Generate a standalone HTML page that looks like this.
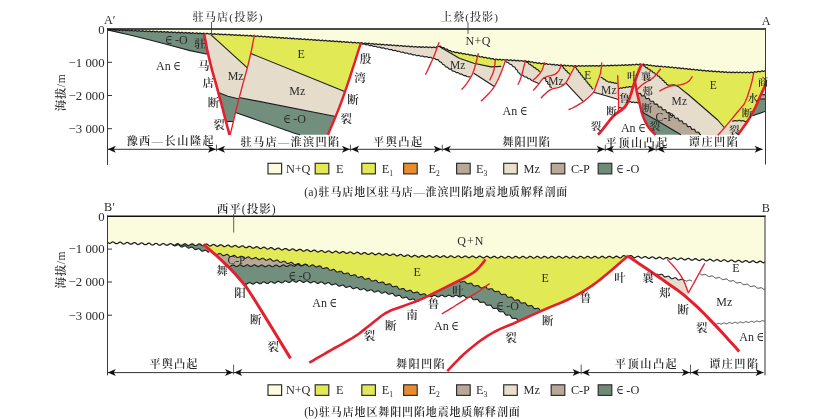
<!DOCTYPE html>
<html lang="zh"><head><meta charset="utf-8"><title>驻马店地区地震地质解释剖面</title>
<style>html,body{margin:0;padding:0;background:#fff}svg{display:block;will-change:transform}</style></head>
<body>
<svg width="831" height="419" viewBox="0 0 831 419">
<rect width="831" height="419" fill="#fff"/>
<g stroke="none">
<path d="M107.5,29.0 L765.5,29.0 L765.5,70.8 L765.1,70.8 L764.7,70.9 L764.3,71.0 L764.0,71.2 L763.6,71.4 L763.2,71.3 L762.7,71.1 L762.3,70.9 L761.9,70.9 L761.5,71.0 L761.1,71.2 L760.8,71.5 L760.4,71.7 L760.0,71.8 L759.6,71.7 L759.2,71.5 L758.8,71.4 L758.4,71.3 L758.0,71.4 L757.6,71.6 L757.2,71.9 L756.9,72.1 L756.5,72.2 L756.1,72.1 L755.6,72.0 L755.2,71.8 L754.8,71.7 L754.4,71.8 L754.0,72.0 L753.7,72.3 L753.3,72.5 L752.9,72.6 L752.5,72.6 L752.1,72.4 L751.7,72.2 L751.3,72.1 L750.9,72.2 L750.5,72.3 L750.1,72.6 L749.7,72.8 L749.3,72.8 L748.9,72.7 L748.5,72.5 L748.1,72.3 L747.7,72.1 L747.3,72.1 L746.9,72.3 L746.5,72.5 L746.1,72.7 L745.7,72.8 L745.3,72.7 L744.9,72.5 L744.5,72.3 L744.1,72.1 L743.7,72.1 L743.3,72.3 L742.9,72.5 L742.5,72.7 L742.1,72.8 L741.7,72.7 L741.3,72.5 L740.9,72.2 L740.5,72.1 L740.1,72.1 L739.7,72.2 L739.3,72.5 L738.9,72.7 L738.6,72.7 L738.2,72.7 L737.8,72.5 L737.4,72.2 L737.0,72.1 L736.6,72.0 L736.2,72.2 L735.8,72.4 L735.4,72.6 L735.0,72.7 L734.6,72.6 L734.2,72.4 L733.8,72.2 L733.4,72.0 L733.0,72.0 L732.6,72.1 L732.2,72.4 L731.8,72.6 L731.4,72.7 L731.0,72.6 L730.6,72.4 L730.2,72.2 L729.8,72.0 L729.4,72.0 L729.0,72.1 L728.6,72.3 L728.2,72.5 L727.8,72.6 L727.4,72.6 L727.0,72.3 L726.6,72.1 L726.2,71.9 L725.8,71.8 L725.4,71.9 L725.0,72.1 L724.6,72.3 L724.2,72.4 L723.8,72.3 L723.4,72.1 L723.1,71.8 L722.7,71.6 L722.3,71.6 L721.9,71.7 L721.5,71.9 L721.0,72.1 L720.6,72.2 L720.2,72.1 L719.9,71.9 L719.5,71.6 L719.1,71.4 L718.7,71.3 L718.3,71.4 L717.9,71.6 L717.5,71.8 L717.1,71.9 L716.7,71.8 L716.3,71.7 L715.9,71.4 L715.5,71.2 L715.1,71.1 L714.7,71.2 L714.3,71.3 L713.9,71.5 L713.5,71.7 L713.1,71.6 L712.7,71.4 L712.3,71.2 L712.0,70.9 L711.6,70.8 L711.2,70.9 L710.8,71.1 L710.3,71.3 L709.9,71.4 L709.5,71.4 L709.2,71.2 L708.8,70.9 L708.4,70.7 L708.0,70.6 L707.6,70.6 L707.2,70.8 L706.8,71.0 L706.4,71.2 L706.0,71.1 L705.6,70.9 L705.2,70.7 L704.8,70.4 L704.4,70.3 L704.0,70.3 L703.6,70.5 L703.2,70.7 L702.8,70.8 L702.4,70.8 L702.0,70.6 L701.6,70.3 L701.2,70.0 L700.8,69.9 L700.4,70.0 L700.0,70.2 L699.6,70.3 L699.2,70.5 L698.8,70.4 L698.4,70.2 L698.0,69.9 L697.6,69.7 L697.2,69.6 L696.8,69.6 L696.4,69.8 L696.0,70.0 L695.6,70.1 L695.2,70.0 L694.8,69.8 L694.4,69.6 L694.0,69.3 L693.6,69.2 L693.2,69.3 L692.8,69.5 L692.4,69.6 L692.0,69.7 L691.6,69.7 L691.2,69.5 L690.8,69.2 L690.4,68.9 L690.0,68.9 L689.6,68.9 L689.2,69.1 L688.8,69.3 L688.4,69.4 L688.0,69.3 L687.6,69.1 L687.2,68.8 L686.8,68.6 L686.4,68.5 L686.0,68.6 L685.6,68.8 L685.2,68.9 L684.8,69.0 L684.4,68.9 L684.0,68.7 L683.6,68.4 L683.2,68.2 L682.8,68.1 L682.4,68.2 L682.0,68.4 L681.6,68.6 L681.2,68.7 L680.8,68.6 L680.4,68.3 L680.0,68.1 L679.6,67.9 L679.2,67.8 L678.8,67.9 L678.4,68.1 L678.0,68.2 L677.6,68.3 L677.2,68.2 L676.8,68.0 L676.4,67.7 L676.0,67.5 L675.6,67.4 L675.2,67.5 L674.8,67.7 L674.4,67.9 L674.0,67.9 L673.6,67.8 L673.2,67.6 L672.8,67.3 L672.4,67.1 L672.0,67.1 L671.6,67.2 L671.2,67.4 L670.8,67.5 L670.4,67.6 L670.0,67.5 L669.6,67.2 L669.2,67.0 L668.8,66.8 L668.4,66.7 L668.0,66.8 L667.6,67.0 L667.2,67.2 L666.8,67.3 L666.4,67.2 L666.0,67.0 L665.7,66.7 L665.3,66.5 L664.9,66.4 L664.5,66.5 L664.1,66.7 L663.7,66.9 L663.3,67.0 L662.9,66.9 L662.5,66.7 L662.1,66.5 L661.7,66.2 L661.3,66.2 L660.9,66.2 L660.5,66.4 L660.1,66.6 L659.7,66.7 L659.3,66.7 L658.9,66.5 L658.6,66.2 L658.2,66.0 L657.8,65.9 L657.4,65.9 L657.0,66.1 L656.6,66.3 L656.2,66.4 L655.8,66.4 L655.4,66.2 L655.0,65.9 L654.6,65.7 L654.3,65.5 L653.9,65.6 L653.4,65.7 L653.0,65.9 L652.6,66.0 L652.2,66.0 L651.8,65.8 L651.5,65.5 L651.1,65.2 L650.7,65.1 L650.3,65.1 L649.9,65.2 L649.5,65.4 L649.1,65.5 L648.7,65.5 L648.3,65.3 L648.0,65.0 L647.6,64.8 L647.2,64.6 L646.8,64.6 L646.4,64.7 L646.0,64.9 L645.6,65.0 L645.2,65.0 L644.8,64.9 L644.4,64.6 L644.1,64.3 L643.7,64.1 L643.3,64.1 L642.9,64.2 L642.5,64.4 L642.1,64.5 L641.7,64.5 L641.3,64.5 L640.9,64.3 L640.5,64.1 L640.1,64.0 L639.7,64.0 L639.3,64.2 L638.9,64.5 L638.5,64.7 L638.1,64.8 L637.7,64.7 L637.3,64.5 L636.9,64.3 L636.4,64.2 L636.0,64.2 L635.6,64.4 L635.3,64.7 L634.9,64.9 L634.5,65.0 L634.1,64.9 L633.6,64.7 L633.2,64.5 L632.8,64.4 L632.4,64.4 L632.0,64.7 L631.6,64.9 L631.2,65.1 L630.8,65.2 L630.4,65.1 L630.0,64.9 L629.6,64.7 L629.2,64.6 L628.8,64.7 L628.4,64.9 L628.0,65.2 L627.6,65.3 L627.2,65.4 L626.8,65.2 L626.4,65.0 L626.0,64.8 L625.6,64.7 L625.2,64.8 L624.8,65.0 L624.4,65.3 L624.0,65.4 L623.6,65.5 L623.2,65.4 L622.8,65.1 L622.4,64.9 L622.0,64.8 L621.6,64.9 L621.2,65.1 L620.9,65.3 L620.5,65.5 L620.1,65.6 L619.7,65.5 L619.3,65.3 L618.9,65.1 L618.5,65.0 L618.1,65.0 L617.7,65.2 L617.3,65.4 L616.9,65.6 L616.5,65.7 L616.1,65.6 L615.7,65.4 L615.3,65.2 L614.9,65.1 L614.5,65.1 L614.1,65.3 L613.7,65.5 L613.3,65.7 L612.9,65.8 L612.5,65.7 L612.1,65.5 L611.7,65.3 L611.3,65.2 L610.9,65.2 L610.5,65.4 L610.1,65.6 L609.8,65.8 L609.4,65.9 L609.0,65.8 L608.6,65.7 L608.1,65.4 L607.7,65.3 L607.3,65.3 L607.0,65.5 L606.6,65.7 L606.2,65.9 L605.8,66.0 L605.4,66.0 L605.0,65.8 L604.6,65.6 L604.2,65.4 L603.8,65.4 L603.4,65.6 L603.0,65.8 L602.6,66.0 L602.2,66.1 L601.8,66.1 L601.4,65.9 L601.0,65.6 L600.6,65.5 L600.2,65.5 L599.8,65.6 L599.4,65.9 L599.0,66.1 L598.6,66.2 L598.2,66.1 L597.8,65.9 L597.4,65.7 L597.0,65.5 L596.6,65.5 L596.2,65.7 L595.8,65.9 L595.4,66.1 L595.0,66.2 L594.6,66.1 L594.2,65.9 L593.8,65.7 L593.4,65.5 L593.0,65.5 L592.6,65.7 L592.2,65.9 L591.8,66.1 L591.4,66.2 L591.0,66.1 L590.6,65.9 L590.2,65.7 L589.8,65.6 L589.4,65.6 L589.0,65.7 L588.6,66.0 L588.2,66.2 L587.8,66.2 L587.4,66.2 L586.9,65.9 L586.5,65.7 L586.1,65.6 L585.7,65.6 L585.3,65.8 L584.9,66.0 L584.5,66.2 L584.1,66.3 L583.7,66.2 L583.3,66.0 L582.9,65.7 L582.5,65.6 L582.1,65.6 L581.7,65.8 L581.3,66.0 L580.9,66.2 L580.5,66.3 L580.1,66.2 L579.7,66.0 L579.3,65.8 L578.9,65.6 L578.5,65.6 L578.1,65.8 L577.7,66.1 L577.3,66.3 L576.9,66.3 L576.5,66.2 L576.1,66.0 L575.7,65.8 L575.3,65.6 L574.9,65.7 L574.5,65.9 L574.1,66.1 L573.7,66.3 L573.3,66.3 L572.9,66.2 L572.5,66.0 L572.1,65.7 L571.7,65.6 L571.3,65.6 L570.9,65.7 L570.5,65.9 L570.1,66.1 L569.7,66.1 L569.3,66.0 L568.9,65.8 L568.5,65.5 L568.2,65.4 L567.8,65.4 L567.4,65.5 L566.9,65.7 L566.5,65.9 L566.1,65.9 L565.7,65.8 L565.4,65.6 L565.0,65.3 L564.6,65.2 L564.2,65.2 L563.8,65.3 L563.4,65.5 L563.0,65.7 L562.6,65.7 L562.2,65.6 L561.8,65.4 L561.4,65.1 L561.0,65.0 L560.6,64.9 L560.2,65.0 L559.8,65.2 L559.4,65.4 L559.0,65.5 L558.6,65.4 L558.2,65.1 L557.9,64.9 L557.5,64.7 L557.1,64.6 L556.7,64.7 L556.3,64.9 L555.8,65.1 L555.4,65.1 L555.0,65.1 L554.7,64.8 L554.3,64.6 L553.9,64.3 L553.5,64.3 L553.1,64.4 L552.7,64.6 L552.3,64.8 L551.9,64.8 L551.5,64.7 L551.1,64.5 L550.7,64.2 L550.4,64.0 L550.0,64.0 L549.6,64.0 L549.1,64.2 L548.7,64.4 L548.3,64.5 L547.9,64.4 L547.6,64.2 L547.2,63.9 L546.8,63.7 L546.4,63.6 L546.0,63.7 L545.6,63.9 L545.2,64.1 L544.8,64.2 L544.4,64.1 L544.0,63.9 L543.6,63.6 L543.2,63.4 L542.8,63.3 L542.4,63.3 L542.0,63.5 L541.6,63.7 L541.2,63.8 L540.8,63.7 L540.4,63.4 L540.0,63.2 L539.6,62.9 L539.2,62.8 L538.8,62.9 L538.4,63.1 L538.0,63.3 L537.6,63.3 L537.2,63.2 L536.8,63.0 L536.4,62.7 L536.0,62.5 L535.7,62.4 L535.2,62.5 L534.8,62.6 L534.4,62.8 L534.0,62.8 L533.6,62.7 L533.2,62.4 L532.9,62.1 L532.5,61.9 L532.1,61.8 L531.7,61.9 L531.2,62.0 L530.8,62.2 L530.4,62.2 L530.0,62.1 L529.6,61.8 L529.3,61.5 L528.9,61.3 L528.5,61.2 L528.1,61.3 L527.7,61.5 L527.2,61.6 L526.8,61.6 L526.4,61.5 L526.1,61.2 L525.7,60.9 L525.3,60.8 L524.9,60.7 L524.5,60.8 L524.1,61.0 L523.7,61.2 L523.3,61.3 L522.9,61.2 L522.5,61.0 L522.1,60.8 L521.8,60.6 L521.4,60.5 L521.0,60.6 L520.6,60.8 L520.1,61.0 L519.7,61.1 L519.3,61.0 L519.0,60.8 L518.6,60.6 L518.2,60.4 L517.8,60.3 L517.4,60.4 L517.0,60.6 L516.6,60.8 L516.2,60.9 L515.8,60.8 L515.4,60.6 L515.0,60.4 L514.6,60.1 L514.2,60.1 L513.8,60.2 L513.4,60.3 L513.0,60.6 L512.6,60.7 L512.2,60.6 L511.8,60.4 L511.4,60.2 L511.1,59.9 L510.7,59.9 L510.3,59.9 L509.9,60.1 L509.4,60.3 L509.0,60.4 L508.6,60.4 L508.3,60.2 L507.9,60.0 L507.5,59.7 L507.1,59.6 L506.7,59.7 L506.3,59.9 L505.9,60.1 L505.5,60.2 L505.1,60.2 L504.7,60.0 L504.3,59.8 L503.9,59.5 L503.5,59.5 L503.1,59.5 L502.7,59.7 L502.3,59.9 L501.8,60.1 L501.4,60.0 L501.0,59.8 L500.7,59.6 L500.3,59.4 L499.9,59.3 L499.5,59.4 L499.0,59.6 L498.6,59.8 L498.2,59.9 L497.8,59.8 L497.4,59.6 L497.0,59.4 L496.6,59.2 L496.2,59.1 L495.8,59.2 L495.4,59.4 L495.0,59.6 L494.6,59.6 L494.2,59.5 L493.8,59.2 L493.5,58.9 L493.1,58.7 L492.7,58.6 L492.3,58.6 L491.9,58.8 L491.4,58.9 L491.0,59.0 L490.6,58.9 L490.3,58.6 L489.9,58.3 L489.6,58.0 L489.2,57.9 L488.8,58.0 L488.4,58.1 L487.9,58.3 L487.5,58.3 L487.1,58.2 L486.8,58.0 L486.4,57.7 L486.1,57.4 L485.7,57.3 L485.3,57.3 L484.8,57.5 L484.4,57.6 L484.0,57.7 L483.6,57.6 L483.2,57.4 L482.9,57.0 L482.5,56.8 L482.1,56.6 L481.7,56.7 L481.3,56.8 L480.9,57.0 L480.5,57.0 L480.1,57.0 L479.7,56.7 L479.4,56.4 L479.0,56.2 L478.6,56.0 L478.2,56.0 L477.8,56.2 L477.4,56.3 L476.9,56.4 L476.5,56.3 L476.2,56.1 L475.8,55.8 L475.5,55.5 L475.1,55.4 L474.7,55.4 L474.2,55.5 L473.8,55.7 L473.4,55.8 L473.0,55.7 L472.6,55.5 L472.3,55.2 L471.9,54.9 L471.5,54.8 L471.1,54.8 L470.7,54.9 L470.2,55.1 L469.8,55.2 L469.4,55.1 L469.1,54.8 L468.7,54.5 L468.4,54.3 L468.0,54.1 L467.6,54.2 L467.1,54.3 L466.7,54.5 L466.3,54.5 L465.9,54.4 L465.5,54.2 L465.2,53.9 L464.8,53.6 L464.4,53.5 L464.0,53.5 L463.6,53.7 L463.1,53.8 L462.7,53.9 L462.3,53.8 L462.0,53.6 L461.6,53.3 L461.2,53.0 L460.9,52.9 L460.4,52.9 L460.0,53.1 L459.6,53.2 L459.2,53.3 L458.8,53.2 L458.4,52.9 L458.0,52.6 L457.7,52.4 L457.3,52.3 L456.9,52.3 L456.4,52.4 L456.0,52.6 L455.6,52.7 L455.2,52.6 L454.8,52.3 L454.5,52.0 L454.1,51.8 L453.7,51.6 L453.3,51.7 L452.9,51.8 L452.5,52.0 L452.0,52.0 L451.6,51.8 L451.3,51.5 L451.0,51.1 L450.7,50.8 L450.4,50.6 L450.0,50.5 L449.5,50.6 L449.0,50.6 L448.6,50.6 L448.3,50.3 L448.0,50.0 L447.7,49.6 L447.4,49.3 L447.0,49.1 L446.6,49.1 L446.1,49.1 L445.7,49.2 L445.3,49.1 L444.9,48.9 L444.6,48.5 L444.4,48.1 L444.1,47.8 L443.7,47.7 L443.3,47.6 L442.8,47.7 L442.3,47.7 L441.9,47.6 L441.6,47.4 L441.3,47.0 L441.0,46.6 L440.7,46.3 L440.3,46.2 L439.9,46.2 L439.4,46.3 L439.1,46.3 L438.9,46.5 L438.5,46.5 L438.1,46.5 L437.7,46.5 L437.2,46.5 L436.9,46.6 L436.6,46.9 L436.3,47.2 L436.0,47.6 L435.6,47.7 L435.2,47.7 L434.8,47.5 L434.4,47.2 L434.0,47.1 L433.6,47.0 L433.2,47.1 L432.8,47.3 L432.4,47.5 L432.0,47.6 L431.6,47.6 L431.2,47.4 L430.8,47.2 L430.4,47.0 L430.0,46.9 L429.6,47.0 L429.2,47.2 L428.8,47.4 L428.4,47.6 L428.0,47.5 L427.6,47.3 L427.2,47.1 L426.8,46.9 L426.4,46.8 L426.0,46.9 L425.6,47.1 L425.2,47.3 L424.8,47.5 L424.4,47.4 L424.0,47.2 L423.6,47.0 L423.2,46.8 L422.8,46.7 L422.4,46.8 L422.0,47.0 L421.6,47.3 L421.2,47.4 L420.8,47.3 L420.4,47.1 L420.0,46.9 L419.6,46.7 L419.2,46.6 L418.8,46.7 L418.4,47.0 L418.0,47.2 L417.6,47.3 L417.2,47.2 L416.8,47.0 L416.4,46.8 L416.0,46.6 L415.6,46.5 L415.2,46.6 L414.8,46.8 L414.4,47.0 L414.0,47.1 L413.6,47.0 L413.2,46.8 L412.8,46.6 L412.4,46.3 L412.0,46.3 L411.6,46.4 L411.2,46.6 L410.8,46.8 L410.4,46.9 L410.0,46.8 L409.6,46.6 L409.2,46.3 L408.8,46.1 L408.4,46.0 L408.0,46.1 L407.6,46.3 L407.2,46.5 L406.8,46.6 L406.4,46.5 L406.0,46.3 L405.6,46.1 L405.2,45.8 L404.8,45.8 L404.4,45.9 L404.0,46.1 L403.6,46.3 L403.2,46.3 L402.8,46.3 L402.4,46.1 L402.0,45.8 L401.6,45.6 L401.3,45.5 L400.8,45.6 L400.4,45.8 L400.0,46.0 L399.6,46.1 L399.2,46.0 L398.8,45.8 L398.4,45.5 L398.1,45.3 L397.7,45.3 L397.2,45.4 L396.8,45.6 L396.4,45.8 L396.0,45.8 L395.6,45.8 L395.2,45.6 L394.8,45.3 L394.5,45.1 L394.1,45.0 L393.7,45.1 L393.2,45.3 L392.8,45.5 L392.4,45.6 L392.0,45.5 L391.6,45.3 L391.3,45.0 L390.9,44.8 L390.5,44.8 L390.1,44.9 L389.6,45.1 L389.2,45.2 L388.8,45.3 L388.4,45.3 L388.0,45.0 L387.7,44.8 L387.3,44.6 L386.9,44.5 L386.5,44.6 L386.1,44.8 L385.6,45.0 L385.2,45.1 L384.8,45.0 L384.4,44.8 L384.1,44.5 L383.7,44.3 L383.3,44.3 L382.9,44.4 L382.5,44.6 L382.0,44.7 L381.6,44.8 L381.2,44.8 L380.9,44.5 L380.5,44.3 L380.1,44.1 L379.7,44.0 L379.3,44.1 L378.9,44.3 L378.5,44.5 L378.0,44.6 L377.6,44.5 L377.3,44.3 L376.9,44.0 L376.5,43.8 L376.1,43.8 L375.7,43.9 L375.3,44.0 L374.9,44.2 L374.5,44.3 L374.1,44.3 L373.7,44.0 L373.3,43.8 L372.9,43.6 L372.5,43.5 L372.1,43.6 L371.7,43.8 L371.3,44.0 L370.9,44.1 L370.5,44.0 L370.1,43.8 L369.7,43.5 L369.3,43.3 L368.9,43.2 L368.5,43.3 L368.1,43.5 L367.7,43.7 L367.3,43.8 L366.9,43.7 L366.5,43.5 L366.1,43.3 L365.7,43.1 L365.3,43.0 L364.9,43.1 L364.5,43.3 L364.1,43.5 L363.7,43.6 L363.3,43.5 L362.9,43.3 L362.5,43.0 L362.1,42.8 L361.7,42.7 L361.3,42.8 L360.9,43.0 L360.5,43.2 L360.1,43.3 L359.7,43.2 L359.3,43.0 L358.9,42.8 L358.5,42.6 L358.1,42.5 L357.7,42.6 L357.3,42.8 L356.9,43.0 L356.5,43.1 L356.1,43.0 L355.7,42.8 L355.3,42.5 L354.9,42.3 L354.6,42.3 L354.1,42.4 L353.7,42.6 L353.3,42.8 L352.9,42.8 L352.5,42.8 L352.1,42.6 L351.8,42.3 L351.4,42.1 L351.0,42.0 L350.6,42.1 L350.2,42.3 L349.7,42.5 L349.3,42.6 L348.9,42.5 L348.6,42.3 L348.2,42.1 L347.8,41.9 L347.4,41.8 L347.0,41.9 L346.6,42.1 L346.2,42.3 L345.8,42.4 L345.4,42.3 L345.0,42.1 L344.6,41.8 L344.2,41.6 L343.8,41.5 L343.4,41.6 L343.0,41.8 L342.6,42.0 L342.2,42.1 L341.8,42.1 L341.4,41.9 L341.0,41.6 L340.6,41.4 L340.2,41.3 L339.8,41.4 L339.4,41.6 L339.0,41.8 L338.6,41.9 L338.2,41.8 L337.8,41.6 L337.4,41.4 L337.0,41.2 L336.6,41.1 L336.2,41.2 L335.8,41.3 L335.4,41.5 L335.0,41.7 L334.6,41.6 L334.2,41.4 L333.8,41.1 L333.5,40.9 L333.1,40.8 L332.7,40.9 L332.2,41.1 L331.8,41.3 L331.4,41.4 L331.0,41.4 L330.6,41.2 L330.3,40.9 L329.9,40.7 L329.5,40.6 L329.1,40.7 L328.7,40.9 L328.2,41.1 L327.8,41.2 L327.4,41.1 L327.1,40.9 L326.7,40.7 L326.3,40.5 L325.9,40.4 L325.5,40.4 L325.1,40.6 L324.7,40.8 L324.3,40.9 L323.9,40.9 L323.5,40.7 L323.1,40.5 L322.7,40.2 L322.3,40.1 L321.9,40.2 L321.5,40.4 L321.1,40.6 L320.7,40.7 L320.3,40.7 L319.9,40.5 L319.5,40.2 L319.1,40.0 L318.7,39.9 L318.3,39.9 L317.9,40.1 L317.5,40.3 L317.1,40.5 L316.7,40.4 L316.3,40.3 L315.9,40.0 L315.5,39.8 L315.1,39.7 L314.7,39.7 L314.3,39.9 L313.9,40.1 L313.5,40.2 L313.1,40.2 L312.7,40.0 L312.3,39.8 L312.0,39.5 L311.6,39.4 L311.2,39.5 L310.8,39.6 L310.3,39.9 L309.9,40.0 L309.5,40.0 L309.1,39.8 L308.8,39.5 L308.4,39.3 L308.0,39.2 L307.6,39.2 L307.2,39.4 L306.8,39.6 L306.3,39.7 L305.9,39.7 L305.6,39.6 L305.2,39.3 L304.8,39.1 L304.4,38.9 L304.0,39.0 L303.6,39.2 L303.2,39.4 L302.8,39.5 L302.4,39.5 L302.0,39.3 L301.6,39.1 L301.2,38.8 L300.8,38.7 L300.4,38.7 L300.0,38.9 L299.6,39.1 L299.2,39.3 L298.8,39.3 L298.4,39.1 L298.0,38.8 L297.6,38.6 L297.2,38.5 L296.8,38.5 L296.4,38.7 L296.0,38.9 L295.6,39.0 L295.2,39.0 L294.8,38.9 L294.4,38.6 L294.0,38.4 L293.7,38.2 L293.2,38.3 L292.8,38.4 L292.4,38.6 L292.0,38.8 L291.6,38.8 L291.2,38.6 L290.8,38.4 L290.5,38.1 L290.1,38.0 L289.7,38.0 L289.3,38.2 L288.8,38.4 L288.4,38.5 L288.0,38.5 L287.6,38.4 L287.3,38.1 L286.9,37.9 L286.5,37.8 L286.1,37.8 L285.7,37.9 L285.3,38.2 L284.8,38.3 L284.4,38.3 L284.1,38.2 L283.7,37.9 L283.3,37.6 L282.9,37.5 L282.5,37.5 L282.1,37.7 L281.7,37.9 L281.3,38.1 L280.9,38.1 L280.5,37.9 L280.1,37.7 L279.7,37.4 L279.3,37.3 L278.9,37.3 L278.5,37.5 L278.1,37.7 L277.7,37.8 L277.3,37.8 L276.9,37.7 L276.5,37.4 L276.1,37.2 L275.7,37.0 L275.3,37.1 L274.9,37.2 L274.5,37.4 L274.1,37.6 L273.7,37.6 L273.3,37.4 L272.9,37.2 L272.5,36.9 L272.1,36.8 L271.7,36.8 L271.3,37.0 L270.9,37.2 L270.5,37.3 L270.1,37.4 L269.7,37.2 L269.3,37.0 L269.0,36.7 L268.6,36.6 L268.2,36.6 L267.8,36.7 L267.3,36.9 L266.9,37.1 L266.5,37.1 L266.1,37.0 L265.8,36.7 L265.4,36.5 L265.0,36.3 L264.6,36.3 L264.2,36.5 L263.8,36.7 L263.3,36.9 L262.9,36.9 L262.6,36.7 L262.2,36.5 L261.8,36.2 L261.4,36.1 L261.0,36.1 L260.6,36.2 L260.2,36.4 L259.8,36.6 L259.4,36.6 L259.0,36.5 L258.6,36.3 L258.2,36.0 L257.8,35.8 L257.4,35.8 L257.0,36.0 L256.6,36.2 L256.2,36.4 L255.8,36.4 L255.4,36.3 L255.0,36.0 L254.6,35.8 L254.2,35.6 L253.8,35.6 L253.4,35.8 L253.0,36.0 L252.6,36.2 L252.2,36.2 L251.8,36.1 L251.4,35.9 L251.0,35.6 L250.6,35.4 L250.2,35.4 L249.8,35.6 L249.4,35.8 L249.0,36.0 L248.6,36.0 L248.2,35.9 L247.8,35.7 L247.4,35.4 L247.1,35.3 L246.7,35.3 L246.2,35.4 L245.8,35.6 L245.4,35.8 L245.0,35.9 L244.6,35.7 L244.2,35.5 L243.9,35.3 L243.5,35.1 L243.1,35.1 L242.7,35.2 L242.3,35.4 L241.8,35.6 L241.4,35.7 L241.0,35.6 L240.7,35.3 L240.3,35.1 L239.9,34.9 L239.5,34.9 L239.1,35.1 L238.7,35.3 L238.3,35.5 L237.9,35.5 L237.5,35.4 L237.1,35.2 L236.7,34.9 L236.3,34.8 L235.9,34.7 L235.5,34.9 L235.1,35.1 L234.7,35.3 L234.3,35.3 L233.9,35.2 L233.5,35.0 L233.1,34.8 L232.7,34.6 L232.3,34.6 L231.9,34.7 L231.5,34.9 L231.1,35.1 L230.7,35.2 L230.3,35.1 L229.9,34.8 L229.5,34.6 L229.1,34.4 L228.7,34.4 L228.3,34.5 L227.9,34.7 L227.5,34.9 L227.1,35.0 L226.7,34.9 L226.3,34.7 L225.9,34.4 L225.5,34.2 L225.1,34.2 L224.7,34.3 L224.3,34.5 L223.9,34.7 L223.5,34.8 L223.1,34.7 L222.7,34.5 L222.3,34.2 L222.0,34.1 L221.6,34.0 L221.2,34.1 L220.7,34.4 L220.3,34.6 L219.9,34.6 L219.5,34.6 L219.1,34.3 L218.8,34.1 L218.4,33.9 L218.0,33.8 L217.6,34.0 L217.2,34.2 L216.8,34.4 L216.3,34.5 L216.0,34.4 L215.6,34.2 L215.2,33.9 L214.8,33.7 L214.4,33.7 L214.0,33.8 L213.6,34.0 L213.2,34.2 L212.8,34.3 L212.4,34.2 L212.0,34.0 L211.6,33.7 L211.2,33.5 L210.8,33.5 L210.4,33.6 L210.0,33.8 L209.6,34.0 L209.2,34.1 L208.8,34.0 L208.4,33.8 L208.0,33.6 L207.6,33.4 L207.2,33.3 L206.8,33.4 L206.4,33.6 L206.0,33.9 L205.6,33.9 L205.2,33.9 L204.8,33.7 L204.4,33.4 L204.0,33.2 L203.6,33.2 L203.2,33.3 L202.8,33.5 L202.4,33.7 L202.0,33.8 L201.6,33.7 L201.2,33.5 L200.8,33.3 L200.4,33.1 L200.0,33.0 L199.6,33.1 L199.2,33.4 L198.8,33.6 L198.4,33.6 L198.0,33.6 L197.6,33.4 L197.2,33.1 L196.8,32.9 L196.4,32.9 L196.0,33.0 L195.6,33.2 L195.2,33.4 L194.8,33.5 L194.4,33.4 L194.0,33.2 L193.6,33.0 L193.2,32.8 L192.8,32.7 L192.4,32.8 L192.0,33.1 L191.6,33.3 L191.2,33.4 L190.8,33.3 L190.4,33.1 L190.0,32.8 L189.6,32.6 L189.2,32.6 L188.8,32.7 L188.4,32.9 L188.0,33.1 L187.6,33.2 L187.2,33.1 L186.8,32.9 L186.4,32.7 L186.0,32.5 L185.6,32.4 L185.2,32.5 L184.8,32.8 L184.4,33.0 L184.0,33.1 L183.6,33.0 L183.2,32.8 L182.8,32.5 L182.4,32.3 L182.0,32.3 L181.6,32.4 L181.2,32.6 L180.8,32.8 L180.4,32.9 L180.0,32.8 L179.6,32.6 L179.2,32.4 L178.8,32.2 L178.4,32.1 L178.0,32.3 L177.6,32.5 L177.2,32.7 L176.8,32.8 L176.4,32.7 L176.0,32.5 L175.6,32.2 L175.2,32.0 L174.8,32.0 L174.4,32.1 L174.0,32.3 L173.6,32.5 L173.2,32.6 L172.8,32.5 L172.4,32.3 L172.0,32.1 L171.6,31.9 L171.2,31.8 L170.8,32.0 L170.4,32.2 L170.0,32.4 L169.6,32.5 L169.2,32.4 L168.8,32.2 L168.4,31.9 L168.0,31.7 L167.6,31.7 L167.2,31.8 L166.8,32.0 L166.4,32.2 L166.0,32.3 L165.6,32.2 L165.2,32.0 L164.8,31.8 L164.4,31.6 L164.0,31.5 L163.6,31.7 L163.2,31.9 L162.8,32.1 L162.4,32.2 L162.0,32.1 L161.6,31.9 L161.2,31.6 L160.8,31.4 L160.4,31.4 L160.0,31.5 L159.6,31.7 L159.2,31.9 L158.8,32.0 L158.4,31.9 L158.0,31.7 L157.6,31.5 L157.2,31.3 L156.8,31.2 L156.4,31.4 L156.0,31.6 L155.6,31.8 L155.2,31.9 L154.8,31.8 L154.4,31.6 L154.0,31.3 L153.6,31.1 L153.2,31.1 L152.8,31.2 L152.4,31.4 L152.0,31.6 L151.6,31.7 L151.2,31.6 L150.8,31.4 L150.4,31.2 L150.0,31.0 L149.6,30.9 L149.2,31.1 L148.8,31.3 L148.4,31.5 L148.0,31.6 L147.6,31.5 L147.2,31.3 L146.8,31.0 L146.4,30.8 L146.0,30.8 L145.6,30.9 L145.2,31.2 L144.8,31.4 L144.4,31.4 L144.0,31.3 L143.6,31.1 L143.2,30.9 L142.8,30.7 L142.4,30.7 L142.0,30.8 L141.6,31.0 L141.2,31.2 L140.8,31.3 L140.4,31.2 L140.0,31.0 L139.6,30.7 L139.2,30.5 L138.8,30.5 L138.4,30.7 L138.0,30.9 L137.6,31.1 L137.2,31.1 L136.8,31.0 L136.4,30.8 L136.0,30.6 L135.6,30.4 L135.2,30.4 L134.8,30.5 L134.4,30.7 L134.0,30.9 L133.5,31.0 L133.1,30.9 L132.8,30.7 L132.4,30.4 L132.0,30.2 L131.6,30.2 L131.2,30.4 L130.8,30.6 L130.3,30.8 L129.9,30.8 L129.5,30.7 L129.1,30.5 L128.8,30.3 L128.4,30.1 L128.0,30.1 L127.6,30.2 L127.1,30.5 L126.7,30.7 L126.3,30.7 L125.9,30.6 L125.5,30.4 L125.1,30.1 L124.8,30.0 L124.4,30.0 L123.9,30.1 L123.5,30.3 L123.1,30.5 L122.7,30.6 L122.3,30.4 L121.9,30.2 L121.5,30.0 L121.1,29.8 L120.7,29.8 L120.3,30.0 L119.9,30.2 L119.5,30.4 L119.1,30.4 L118.7,30.3 L118.3,30.1 L117.9,29.8 L117.5,29.7 L117.1,29.7 L116.7,29.8 L116.3,30.1 L115.9,30.2 L115.5,30.3 L115.1,30.1 L114.7,29.9 L114.3,29.7 L113.9,29.5 L113.5,29.5 L113.1,29.7 L112.7,29.9 L112.3,30.1 L111.9,30.1 L111.5,30.0 L111.1,29.8 L110.7,29.5 L110.3,29.4 L109.9,29.4 L109.5,29.6 L109.1,29.8 L108.7,29.8 L108.3,29.8 L107.9,29.7 L107.5,29.6Z" fill="#fbfcdd"/>
<path d="M107.5,29.6 L107.9,29.7 L108.3,29.8 L108.7,29.8 L109.1,29.8 L109.5,29.6 L109.9,29.4 L110.3,29.4 L110.7,29.5 L111.1,29.8 L111.5,30.0 L111.9,30.1 L112.3,30.1 L112.7,29.9 L113.1,29.7 L113.5,29.5 L113.9,29.5 L114.3,29.7 L114.7,29.9 L115.1,30.1 L115.5,30.3 L115.9,30.2 L116.3,30.1 L116.7,29.8 L117.1,29.7 L117.5,29.7 L117.9,29.8 L118.3,30.1 L118.7,30.3 L119.1,30.4 L119.5,30.4 L119.9,30.2 L120.3,30.0 L120.7,29.8 L121.1,29.8 L121.5,30.0 L121.9,30.2 L122.3,30.4 L122.7,30.6 L123.1,30.5 L123.5,30.3 L123.9,30.1 L124.4,30.0 L124.8,30.0 L125.1,30.1 L125.5,30.4 L125.9,30.6 L126.3,30.7 L126.7,30.7 L127.1,30.5 L127.6,30.2 L128.0,30.1 L128.4,30.1 L128.8,30.3 L129.1,30.5 L129.5,30.7 L129.9,30.8 L130.3,30.8 L130.8,30.6 L131.2,30.4 L131.6,30.2 L132.0,30.2 L132.4,30.4 L132.8,30.7 L133.1,30.9 L133.5,31.0 L134.0,30.9 L134.4,30.7 L134.8,30.5 L135.2,30.4 L135.6,30.4 L136.0,30.6 L136.4,30.8 L136.8,31.0 L137.2,31.1 L137.6,31.1 L138.0,30.9 L138.4,30.7 L138.8,30.5 L139.2,30.5 L139.6,30.7 L140.0,31.0 L140.4,31.2 L140.8,31.3 L141.2,31.2 L141.6,31.0 L142.0,30.8 L142.4,30.7 L142.8,30.7 L143.2,30.9 L143.6,31.1 L144.0,31.3 L144.4,31.4 L144.8,31.4 L145.2,31.2 L145.6,30.9 L146.0,30.8 L146.4,30.8 L146.8,31.0 L147.2,31.3 L147.6,31.5 L148.0,31.6 L148.4,31.5 L148.8,31.3 L149.2,31.1 L149.6,30.9 L150.0,31.0 L150.4,31.2 L150.8,31.4 L151.2,31.6 L151.6,31.7 L152.0,31.6 L152.4,31.4 L152.8,31.2 L153.2,31.1 L153.6,31.1 L154.0,31.3 L154.4,31.6 L154.8,31.8 L155.2,31.9 L155.6,31.8 L156.0,31.6 L156.4,31.4 L156.8,31.2 L157.2,31.3 L157.6,31.5 L158.0,31.7 L158.4,31.9 L158.8,32.0 L159.2,31.9 L159.6,31.7 L160.0,31.5 L160.4,31.4 L160.8,31.4 L161.2,31.6 L161.6,31.9 L162.0,32.1 L162.4,32.2 L162.8,32.1 L163.2,31.9 L163.6,31.7 L164.0,31.5 L164.4,31.6 L164.8,31.8 L165.2,32.0 L165.6,32.2 L166.0,32.3 L166.4,32.2 L166.8,32.0 L167.2,31.8 L167.6,31.7 L168.0,31.7 L168.4,31.9 L168.8,32.2 L169.2,32.4 L169.6,32.5 L170.0,32.4 L170.4,32.2 L170.8,32.0 L171.2,31.8 L171.6,31.9 L172.0,32.1 L172.4,32.3 L172.8,32.5 L173.2,32.6 L173.6,32.5 L174.0,32.3 L174.4,32.1 L174.8,32.0 L175.2,32.0 L175.6,32.2 L176.0,32.5 L176.4,32.7 L176.8,32.8 L177.2,32.7 L177.6,32.5 L178.0,32.3 L178.4,32.1 L178.8,32.2 L179.2,32.4 L179.6,32.6 L180.0,32.8 L180.4,32.9 L180.8,32.8 L181.2,32.6 L181.6,32.4 L182.0,32.3 L182.4,32.3 L182.8,32.5 L183.2,32.8 L183.6,33.0 L184.0,33.1 L184.4,33.0 L184.8,32.8 L185.2,32.5 L185.6,32.4 L186.0,32.5 L186.4,32.7 L186.8,32.9 L187.2,33.1 L187.6,33.2 L188.0,33.1 L188.4,32.9 L188.8,32.7 L189.2,32.6 L189.6,32.6 L190.0,32.8 L190.4,33.1 L190.8,33.3 L191.2,33.4 L191.6,33.3 L192.0,33.1 L192.4,32.8 L192.8,32.7 L193.2,32.8 L193.6,33.0 L194.0,33.2 L194.4,33.4 L194.8,33.5 L195.2,33.4 L195.6,33.2 L196.0,33.0 L196.4,32.9 L196.8,32.9 L197.2,33.1 L197.6,33.4 L198.0,33.6 L198.4,33.6 L198.8,33.6 L199.2,33.4 L199.6,33.1 L200.0,33.0 L200.4,33.1 L200.8,33.3 L201.2,33.5 L201.6,33.7 L202.0,33.8 L202.4,33.7 L202.8,33.5 L203.2,33.3 L203.6,33.2 L204.0,33.2 L204.2,33.3 L207.6,54.3 L190.0,50.6 L170.0,45.3 L150.0,40.0 L130.0,35.0 L107.5,29.9Z" fill="#728e7d"/>
<path d="M204.0,33.6 L254.5,35.6 L249.6,60.0 L239.1,99.0 L218.4,92.5 L209.2,60.0Z" fill="#e5dccb"/>
<path d="M210.8,34.6 L254.5,35.8 L247.4,67.8Z" fill="#e1ea55"/>
<path d="M218.4,92.5 L228.0,96.3 L239.1,99.0 L233.4,121.5 L226.0,121.5Z" fill="#728e7d"/>
<path d="M254.7,35.8 L255.0,36.0 L255.4,36.3 L255.8,36.4 L256.2,36.4 L256.6,36.2 L257.0,36.0 L257.4,35.8 L257.8,35.8 L258.2,36.0 L258.6,36.3 L259.0,36.5 L259.4,36.6 L259.8,36.6 L260.2,36.4 L260.6,36.2 L261.0,36.1 L261.4,36.1 L261.8,36.2 L262.2,36.5 L262.6,36.7 L262.9,36.9 L263.3,36.9 L263.8,36.7 L264.2,36.5 L264.6,36.3 L265.0,36.3 L265.4,36.5 L265.8,36.7 L266.1,37.0 L266.5,37.1 L266.9,37.1 L267.3,36.9 L267.8,36.7 L268.2,36.6 L268.6,36.6 L269.0,36.7 L269.3,37.0 L269.7,37.2 L270.1,37.4 L270.5,37.3 L270.9,37.2 L271.3,37.0 L271.7,36.8 L272.1,36.8 L272.5,36.9 L272.9,37.2 L273.3,37.4 L273.7,37.6 L274.1,37.6 L274.5,37.4 L274.9,37.2 L275.3,37.1 L275.7,37.0 L276.1,37.2 L276.5,37.4 L276.9,37.7 L277.3,37.8 L277.7,37.8 L278.1,37.7 L278.5,37.5 L278.9,37.3 L279.3,37.3 L279.7,37.4 L280.1,37.7 L280.5,37.9 L280.9,38.1 L281.3,38.1 L281.7,37.9 L282.1,37.7 L282.5,37.5 L282.9,37.5 L283.3,37.6 L283.7,37.9 L284.1,38.2 L284.4,38.3 L284.8,38.3 L285.3,38.2 L285.7,37.9 L286.1,37.8 L286.5,37.8 L286.9,37.9 L287.3,38.1 L287.6,38.4 L288.0,38.5 L288.4,38.5 L288.8,38.4 L289.3,38.2 L289.7,38.0 L290.1,38.0 L290.5,38.1 L290.8,38.4 L291.2,38.6 L291.6,38.8 L292.0,38.8 L292.4,38.6 L292.8,38.4 L293.2,38.3 L293.7,38.2 L294.0,38.4 L294.4,38.6 L294.8,38.9 L295.2,39.0 L295.6,39.0 L296.0,38.9 L296.4,38.7 L296.8,38.5 L297.2,38.5 L297.6,38.6 L298.0,38.8 L298.4,39.1 L298.8,39.3 L299.2,39.3 L299.6,39.1 L300.0,38.9 L300.4,38.7 L300.8,38.7 L301.2,38.8 L301.6,39.1 L302.0,39.3 L302.4,39.5 L302.8,39.5 L303.2,39.4 L303.6,39.2 L304.0,39.0 L304.4,38.9 L304.8,39.1 L305.2,39.3 L305.6,39.6 L305.9,39.7 L306.3,39.7 L306.8,39.6 L307.2,39.4 L307.6,39.2 L308.0,39.2 L308.4,39.3 L308.8,39.5 L309.1,39.8 L309.5,40.0 L309.9,40.0 L310.3,39.9 L310.8,39.6 L311.2,39.5 L311.6,39.4 L312.0,39.5 L312.3,39.8 L312.7,40.0 L313.1,40.2 L313.5,40.2 L313.9,40.1 L314.3,39.9 L314.7,39.7 L315.1,39.7 L315.5,39.8 L315.9,40.0 L316.3,40.3 L316.7,40.4 L317.1,40.5 L317.5,40.3 L317.9,40.1 L318.3,39.9 L318.7,39.9 L319.1,40.0 L319.5,40.2 L319.9,40.5 L320.3,40.7 L320.7,40.7 L321.1,40.6 L321.5,40.4 L321.9,40.2 L322.3,40.1 L322.7,40.2 L323.1,40.5 L323.5,40.7 L323.9,40.9 L324.3,40.9 L324.7,40.8 L325.1,40.6 L325.5,40.4 L325.9,40.4 L326.3,40.5 L326.7,40.7 L327.1,40.9 L327.4,41.1 L327.8,41.2 L328.2,41.1 L328.7,40.9 L329.1,40.7 L329.5,40.6 L329.9,40.7 L330.3,40.9 L330.6,41.2 L331.0,41.4 L331.4,41.4 L331.8,41.3 L332.2,41.1 L332.7,40.9 L333.1,40.8 L333.5,40.9 L333.8,41.1 L334.2,41.4 L334.6,41.6 L335.0,41.7 L335.4,41.5 L335.8,41.3 L336.2,41.2 L336.6,41.1 L337.0,41.2 L337.4,41.4 L337.8,41.6 L338.2,41.8 L338.6,41.9 L339.0,41.8 L339.4,41.6 L339.8,41.4 L340.2,41.3 L340.6,41.4 L341.0,41.6 L341.4,41.9 L341.8,42.1 L342.2,42.1 L342.6,42.0 L343.0,41.8 L343.4,41.6 L343.8,41.5 L344.2,41.6 L344.6,41.8 L345.0,42.1 L345.4,42.3 L345.8,42.4 L346.2,42.3 L346.6,42.1 L347.0,41.9 L347.4,41.8 L347.8,41.9 L348.2,42.1 L348.6,42.3 L348.9,42.5 L349.3,42.6 L349.7,42.5 L350.2,42.3 L350.6,42.1 L351.0,42.0 L351.4,42.1 L351.8,42.3 L352.1,42.6 L352.5,42.8 L352.9,42.8 L353.3,42.8 L353.7,42.6 L354.1,42.4 L354.6,42.3 L354.9,42.3 L355.3,42.5 L355.7,42.8 L356.1,43.0 L356.5,43.1 L356.9,43.0 L357.3,42.8 L357.7,42.6 L358.1,42.5 L358.5,42.6 L358.9,42.8 L359.3,43.0 L359.7,43.2 L360.1,43.3 L360.5,43.2 L360.9,43.0 L361.0,43.0 L344.6,91.5 L250.9,53.5Z" fill="#e1ea55"/>
<path d="M250.9,53.5 L344.6,91.5 L335.7,116.5 L239.1,97.5Z" fill="#e5dccb"/>
<path d="M239.1,97.5 L335.7,116.5 L328.0,134.7 L300.0,134.7 L294.5,133.2 L235.5,112.5Z" fill="#728e7d"/>
<path d="M361.0,43.0 L361.3,42.8 L361.7,42.7 L362.1,42.8 L362.5,43.0 L362.9,43.3 L363.3,43.5 L363.7,43.6 L364.1,43.5 L364.5,43.3 L364.9,43.1 L365.3,43.0 L365.7,43.1 L366.1,43.3 L366.5,43.5 L366.9,43.7 L367.3,43.8 L367.7,43.7 L368.1,43.5 L368.5,43.3 L368.9,43.2 L369.3,43.3 L369.7,43.5 L370.1,43.8 L370.5,44.0 L370.9,44.1 L371.3,44.0 L371.7,43.8 L372.1,43.6 L372.5,43.5 L372.9,43.6 L373.3,43.8 L373.7,44.0 L374.1,44.3 L374.5,44.3 L374.9,44.2 L375.3,44.0 L375.7,43.9 L376.1,43.8 L376.5,43.8 L376.9,44.0 L377.3,44.3 L377.6,44.5 L378.0,44.6 L378.5,44.5 L378.9,44.3 L379.3,44.1 L379.7,44.0 L380.1,44.1 L380.5,44.3 L380.9,44.5 L381.2,44.8 L381.6,44.8 L382.0,44.7 L382.5,44.6 L382.9,44.4 L383.3,44.3 L383.7,44.3 L384.1,44.5 L384.4,44.8 L384.8,45.0 L385.2,45.1 L385.6,45.0 L386.1,44.8 L386.5,44.6 L386.9,44.5 L387.3,44.6 L387.7,44.8 L388.0,45.0 L388.4,45.3 L388.8,45.3 L389.2,45.2 L389.6,45.1 L390.1,44.9 L390.5,44.8 L390.9,44.8 L391.3,45.0 L391.6,45.3 L392.0,45.5 L392.4,45.6 L392.8,45.5 L393.2,45.3 L393.7,45.1 L394.1,45.0 L394.5,45.1 L394.8,45.3 L395.2,45.6 L395.6,45.8 L396.0,45.8 L396.4,45.8 L396.8,45.6 L397.2,45.4 L397.7,45.3 L398.1,45.3 L398.4,45.5 L398.8,45.8 L399.2,46.0 L399.6,46.1 L400.0,46.0 L400.4,45.8 L400.8,45.6 L401.3,45.5 L401.6,45.6 L402.0,45.8 L402.4,46.1 L402.8,46.3 L403.2,46.3 L403.6,46.3 L404.0,46.1 L404.4,45.9 L404.8,45.8 L405.2,45.8 L405.6,46.1 L406.0,46.3 L406.4,46.5 L406.8,46.6 L407.2,46.5 L407.6,46.3 L408.0,46.1 L408.4,46.0 L408.8,46.1 L409.2,46.3 L409.6,46.6 L410.0,46.8 L410.4,46.9 L410.8,46.8 L411.2,46.6 L411.6,46.4 L412.0,46.3 L412.4,46.3 L412.8,46.6 L413.2,46.8 L413.6,47.0 L414.0,47.1 L414.4,47.0 L414.8,46.8 L415.2,46.6 L415.6,46.5 L416.0,46.6 L416.4,46.8 L416.8,47.0 L417.2,47.2 L417.6,47.3 L418.0,47.2 L418.4,47.0 L418.8,46.7 L419.2,46.6 L419.6,46.7 L420.0,46.9 L420.4,47.1 L420.8,47.3 L421.2,47.4 L421.6,47.3 L422.0,47.0 L422.4,46.8 L422.8,46.7 L423.2,46.8 L423.6,47.0 L424.0,47.2 L424.4,47.4 L424.8,47.5 L425.2,47.3 L425.6,47.1 L426.0,46.9 L426.4,46.8 L426.8,46.9 L427.2,47.1 L427.6,47.3 L428.0,47.5 L428.4,47.6 L428.8,47.4 L429.2,47.2 L429.6,47.0 L430.0,46.9 L430.4,47.0 L430.8,47.2 L431.2,47.4 L431.6,47.6 L432.0,47.6 L432.4,47.5 L432.8,47.3 L433.2,47.1 L433.6,47.0 L434.0,47.1 L434.4,47.2 L434.8,47.5 L435.2,47.7 L435.6,47.7 L436.0,47.6 L436.3,47.2 L436.6,46.9 L436.9,46.6 L437.2,46.5 L437.7,46.5 L438.1,46.5 L438.5,46.5 L438.9,46.5 L439.1,46.3 L439.3,46.3 L439.3,46.6 L459.3,58.2 L473.8,63.3 L473.8,73.2 L470.9,77.3 L470.5,77.2 L470.1,77.1 L469.7,76.9 L469.4,76.7 L468.9,76.7 L468.5,76.7 L468.1,76.8 L467.6,76.8 L467.2,76.8 L466.9,76.6 L466.5,76.3 L466.2,76.0 L465.9,75.7 L465.5,75.6 L465.1,75.6 L464.6,75.6 L464.2,75.6 L463.8,75.5 L463.4,75.4 L463.1,75.2 L462.8,74.8 L462.5,74.5 L462.1,74.3 L461.8,74.1 L461.4,74.1 L460.9,74.1 L460.5,74.1 L460.1,74.1 L459.7,73.9 L459.4,73.7 L459.1,73.4 L458.8,73.1 L458.4,72.8 L458.1,72.7 L457.7,72.6 L457.2,72.6 L456.8,72.7 L456.4,72.6 L456.0,72.5 L455.7,72.2 L455.4,71.9 L455.0,71.6 L454.7,71.4 L454.3,71.2 L453.9,71.2 L453.5,71.2 L453.1,71.1 L452.7,71.0 L452.3,70.8 L452.0,70.5 L451.8,70.2 L451.5,69.8 L451.2,69.5 L450.9,69.3 L450.5,69.2 L450.1,69.1 L449.6,69.1 L449.2,69.0 L448.9,68.8 L448.6,68.5 L448.3,68.1 L448.1,67.8 L447.8,67.5 L447.5,67.3 L447.1,67.1 L446.7,67.1 L446.2,67.0 L445.8,66.9 L445.5,66.6 L445.3,66.3 L445.1,65.9 L444.9,65.5 L444.6,65.1 L444.3,64.9 L444.0,64.7 L443.5,64.6 L443.1,64.5 L442.7,64.3 L442.4,64.0 L442.2,63.7 L442.0,63.3 L441.8,62.9 L441.6,62.6 L441.3,62.3 L440.9,62.1 L440.5,62.0 L440.1,61.9 L439.7,61.7 L439.4,61.5 L439.1,61.1 L438.9,60.7 L438.7,60.3 L438.5,60.0 L438.2,59.7 L437.8,59.5 L437.3,59.6 L436.9,59.6 L436.5,59.6 L436.1,59.5 L435.7,59.3 L435.4,59.0 L435.1,58.7 L434.7,58.5 L434.3,58.4 L433.9,58.4 L433.5,58.4 L433.0,58.5 L432.6,58.5 L432.2,58.4 L431.9,58.1 L431.6,57.8 L431.2,57.6 L430.9,57.3 L430.5,57.2 L430.0,57.3 L429.6,57.4 L429.2,57.5 L428.8,57.5 L428.4,57.5 L428.0,57.3 L427.6,57.1 L427.2,56.8 L426.8,56.7 L426.4,56.6 L426.0,56.7 L425.6,56.8 L425.2,56.9 L424.8,56.9 L424.4,56.9 L424.0,56.7 L423.6,56.4 L423.2,56.2 L422.8,56.0 L422.4,56.0 L422.0,56.1 L421.6,56.2 L421.2,56.3 L420.8,56.3 L420.4,56.2 L420.0,56.0 L419.6,55.8 L419.2,55.6 L418.8,55.4 L418.4,55.4 L418.0,55.5 L417.6,55.6 L417.2,55.7 L416.8,55.7 L416.4,55.6 L416.0,55.4 L415.6,55.1 L415.3,54.9 L414.9,54.7 L414.5,54.7 L414.1,54.8 L413.7,54.9 L413.2,54.9 L412.8,54.9 L412.5,54.8 L412.1,54.5 L411.7,54.3 L411.4,54.0 L411.0,53.9 L410.6,53.8 L410.2,53.9 L409.8,54.0 L409.4,54.0 L409.0,54.0 L408.6,53.9 L408.2,53.7 L407.9,53.4 L407.5,53.2 L407.1,53.0 L406.7,53.0 L406.3,53.0 L405.9,53.1 L405.5,53.2 L405.1,53.2 L404.7,53.1 L404.3,52.8 L404.0,52.6 L403.6,52.3 L403.3,52.2 L402.9,52.1 L402.4,52.1 L402.0,52.2 L401.6,52.3 L401.2,52.3 L400.8,52.2 L400.4,52.0 L400.1,51.7 L399.7,51.5 L399.4,51.3 L399.0,51.2 L398.6,51.3 L398.1,51.3 L397.7,51.4 L397.3,51.4 L396.9,51.3 L396.6,51.1 L396.2,50.9 L395.9,50.6 L395.5,50.4 L395.1,50.4 L394.7,50.4 L394.3,50.5 L393.8,50.5 L393.4,50.6 L393.0,50.5 L392.7,50.3 L392.3,50.0 L392.0,49.8 L391.6,49.6 L391.2,49.5 L390.8,49.5 L390.4,49.6 L390.0,49.7 L389.6,49.7 L389.2,49.6 L388.8,49.4 L388.4,49.2 L388.1,48.9 L387.7,48.7 L387.3,48.7 L386.9,48.7 L386.5,48.8 L386.0,48.9 L385.6,48.9 L385.2,48.8 L384.9,48.6 L384.5,48.4 L384.2,48.1 L383.8,47.9 L383.4,47.9 L383.0,47.9 L382.6,48.0 L382.1,48.1 L381.7,48.1 L381.3,48.0 L381.0,47.8 L380.6,47.6 L380.2,47.3 L379.9,47.1 L379.5,47.1 L379.1,47.1 L378.6,47.2 L378.2,47.3 L377.8,47.3 L377.4,47.2 L377.0,47.0 L376.7,46.8 L376.3,46.5 L375.9,46.3 L375.6,46.3 L375.1,46.3 L374.7,46.4 L374.3,46.5 L373.9,46.5 L373.5,46.4 L373.1,46.2 L372.8,46.0 L372.4,45.7 L372.0,45.6 L371.6,45.5 L371.2,45.5 L370.8,45.6 L370.4,45.7 L370.0,45.7 L369.6,45.6 L369.2,45.4 L368.8,45.2 L368.5,44.9 L368.1,44.8 L367.7,44.7 L367.3,44.7 L366.9,44.8 L366.5,44.9 L366.0,44.9 L365.6,44.8 L365.3,44.6 L364.9,44.4 L364.6,44.1 L364.2,44.0 L363.8,43.9 L363.4,43.9 L363.0,44.0 L362.5,44.1 L362.1,44.0 L361.8,43.9 L361.4,43.7 L361.0,43.6Z" fill="#e5dccb"/>
<path d="M439.3,46.3 L439.4,46.3 L439.9,46.2 L440.3,46.2 L440.7,46.3 L441.0,46.6 L441.3,47.0 L441.6,47.4 L441.9,47.6 L442.3,47.7 L442.8,47.7 L443.3,47.6 L443.7,47.7 L444.1,47.8 L444.4,48.1 L444.6,48.5 L444.9,48.9 L445.3,49.1 L445.7,49.2 L446.1,49.1 L446.6,49.1 L447.0,49.1 L447.4,49.3 L447.7,49.6 L448.0,50.0 L448.3,50.3 L448.6,50.6 L449.0,50.6 L449.5,50.6 L450.0,50.5 L450.4,50.6 L450.7,50.8 L451.0,51.1 L451.3,51.5 L451.6,51.8 L452.0,52.0 L452.5,52.0 L452.9,51.8 L453.3,51.7 L453.7,51.6 L454.1,51.8 L454.5,52.0 L454.8,52.3 L455.2,52.6 L455.6,52.7 L456.0,52.6 L456.4,52.4 L456.9,52.3 L457.3,52.3 L457.7,52.4 L458.0,52.6 L458.4,52.9 L458.8,53.2 L459.2,53.3 L459.6,53.2 L460.0,53.1 L460.4,52.9 L460.9,52.9 L461.2,53.0 L461.6,53.3 L462.0,53.6 L462.3,53.8 L462.7,53.9 L463.1,53.8 L463.6,53.7 L464.0,53.5 L464.4,53.5 L464.8,53.6 L465.2,53.9 L465.5,54.2 L465.9,54.4 L466.3,54.5 L466.7,54.5 L467.1,54.3 L467.6,54.2 L468.0,54.1 L468.4,54.3 L468.7,54.5 L469.1,54.8 L469.4,55.1 L469.8,55.2 L470.2,55.1 L470.7,54.9 L471.1,54.8 L471.5,54.8 L471.9,54.9 L472.3,55.2 L472.6,55.5 L473.0,55.7 L473.4,55.8 L473.8,55.7 L474.2,55.5 L474.7,55.4 L475.1,55.4 L475.5,55.5 L475.8,55.8 L476.2,56.1 L476.5,56.3 L476.9,56.4 L477.4,56.3 L477.8,56.2 L478.2,56.0 L478.6,56.0 L479.0,56.2 L479.4,56.4 L479.7,56.7 L480.1,57.0 L480.5,57.0 L480.9,57.0 L481.3,56.8 L481.7,56.7 L482.1,56.6 L482.5,56.8 L482.9,57.0 L483.2,57.4 L483.6,57.6 L484.0,57.7 L484.4,57.6 L484.8,57.5 L485.3,57.3 L485.7,57.3 L486.1,57.4 L486.4,57.7 L486.8,58.0 L487.1,58.2 L487.5,58.3 L487.9,58.3 L488.4,58.1 L488.8,58.0 L489.2,57.9 L489.6,58.0 L489.9,58.3 L490.3,58.6 L490.6,58.9 L491.0,59.0 L491.4,58.9 L491.9,58.8 L492.3,58.6 L492.7,58.6 L493.1,58.7 L493.5,58.9 L493.8,59.2 L494.2,59.5 L494.6,59.6 L495.0,59.6 L495.4,59.4 L495.8,59.2 L496.2,59.1 L496.6,59.2 L497.0,59.4 L497.4,59.6 L497.8,59.8 L498.2,59.9 L498.6,59.8 L499.0,59.6 L499.5,59.4 L499.9,59.3 L500.3,59.4 L500.7,59.6 L501.0,59.8 L501.4,60.0 L501.8,60.1 L502.3,59.9 L502.7,59.7 L503.1,59.5 L503.5,59.5 L503.9,59.5 L504.3,59.8 L504.7,60.0 L505.0,60.2 L504.3,61.0 L501.2,66.4 L491.0,66.9 L473.8,63.3 L459.3,58.2 L439.3,46.6Z" fill="#e1ea55"/>
<path d="M473.8,63.3 L491.0,66.9 L501.2,66.4 L504.3,61.0 L501.2,72.7 L494.7,86.7 L473.8,73.2Z" fill="#e5dccb"/>
<path d="M505.5,60.2 L505.9,60.1 L506.3,59.9 L506.7,59.7 L507.1,59.6 L507.5,59.7 L507.9,60.0 L508.3,60.2 L508.6,60.4 L509.0,60.4 L509.4,60.3 L509.9,60.1 L510.3,59.9 L510.7,59.9 L511.1,59.9 L511.4,60.2 L511.8,60.4 L512.2,60.6 L512.6,60.7 L513.0,60.6 L513.4,60.3 L513.8,60.2 L514.2,60.1 L514.6,60.1 L515.0,60.4 L515.4,60.6 L515.8,60.8 L516.2,60.9 L516.6,60.8 L517.0,60.6 L517.4,60.4 L517.8,60.3 L518.2,60.4 L518.6,60.6 L519.0,60.8 L519.3,61.0 L519.7,61.1 L520.1,61.0 L520.6,60.8 L521.0,60.6 L521.4,60.5 L521.8,60.6 L522.1,60.8 L522.5,61.0 L522.9,61.2 L523.3,61.3 L523.7,61.2 L524.1,61.0 L524.5,60.8 L524.9,60.7 L525.3,60.8 L525.7,60.9 L526.1,61.2 L526.4,61.5 L526.8,61.6 L527.2,61.6 L527.7,61.5 L528.1,61.3 L528.5,61.2 L528.9,61.3 L529.3,61.5 L529.6,61.8 L530.0,62.1 L530.4,62.2 L530.8,62.2 L531.2,62.0 L531.7,61.9 L532.1,61.8 L532.5,61.9 L532.9,62.1 L533.2,62.4 L533.6,62.7 L534.0,62.8 L534.4,62.8 L534.8,62.6 L535.2,62.5 L535.7,62.4 L536.0,62.5 L536.4,62.7 L536.8,63.0 L537.2,63.2 L537.6,63.3 L538.0,63.3 L538.4,63.1 L538.8,62.9 L539.2,62.8 L539.6,62.9 L540.0,63.2 L540.4,63.4 L540.8,63.7 L541.2,63.8 L541.6,63.7 L542.0,63.5 L542.4,63.3 L542.8,63.3 L543.2,63.4 L543.6,63.6 L544.0,63.9 L544.4,64.1 L544.5,64.1 L542.1,70.5 L537.9,75.9 L532.5,80.7 L532.5,80.7 L532.1,80.5 L531.7,80.4 L531.4,80.2 L531.0,80.0 L530.8,79.6 L530.5,79.3 L530.2,79.0 L529.8,78.9 L529.4,78.8 L528.9,78.8 L528.5,78.7 L528.1,78.6 L527.8,78.3 L527.5,78.0 L527.3,77.6 L527.0,77.3 L526.6,77.1 L526.2,77.0 L525.8,77.0 L525.4,77.0 L524.9,76.9 L524.6,76.8 L524.2,76.5 L523.9,76.2 L523.6,75.9 L523.3,75.6 L523.0,75.4 L522.6,75.3 L522.2,75.2 L521.8,75.2 L521.3,75.2 L521.0,75.1 L520.6,74.9 L520.3,74.5 L520.1,74.2 L519.9,73.8 L519.7,73.5 L519.4,73.2 L519.1,73.0 L518.7,72.9 L518.3,72.6 L518.0,72.3 L517.8,72.0 L517.7,71.6 L517.7,71.2 L517.6,70.8 L517.4,70.4 L517.2,70.1 L516.8,69.8 L516.5,69.6 L516.1,69.4 L515.8,69.1 L515.6,68.8 L515.5,68.4 L515.3,68.0 L515.1,67.6 L514.9,67.3 L514.5,67.1 L514.2,66.9 L513.7,66.8 L513.3,66.7 L513.0,66.5 L512.7,66.2 L512.4,65.8 L512.2,65.4 L512.0,65.1 L511.8,64.7 L511.5,64.5 L511.0,64.4 L510.6,64.3 L510.2,64.3 L509.8,64.2 L509.5,63.9 L509.2,63.6 L508.9,63.3 L508.7,62.9 L508.4,62.6 L508.0,62.5 L507.6,62.4 L507.2,62.3 L506.8,62.2 L506.4,62.0 L506.1,61.8 L505.8,61.5 L505.5,61.3Z" fill="#e5dccb"/>
<path d="M526.0,61.2 L526.1,61.2 L526.4,61.5 L526.8,61.6 L527.2,61.6 L527.7,61.5 L528.1,61.3 L528.5,61.2 L528.9,61.3 L529.3,61.5 L529.6,61.8 L530.0,62.1 L530.4,62.2 L530.8,62.2 L531.2,62.0 L531.7,61.9 L532.1,61.8 L532.5,61.9 L532.9,62.1 L533.2,62.4 L533.6,62.7 L534.0,62.8 L534.4,62.8 L534.8,62.6 L535.2,62.5 L535.7,62.4 L536.0,62.5 L536.4,62.7 L536.8,63.0 L537.2,63.2 L537.6,63.3 L538.0,63.3 L538.4,63.1 L538.8,62.9 L539.2,62.8 L539.6,62.9 L540.0,63.2 L540.4,63.4 L540.8,63.7 L541.2,63.8 L541.6,63.7 L542.0,63.5 L542.4,63.3 L542.8,63.3 L543.2,63.4 L543.6,63.6 L544.0,63.9 L544.3,64.1 L542.6,69.0 L540.3,71.7 L540.3,71.7 L540.0,71.4 L539.7,71.2 L539.3,71.1 L538.8,70.9 L538.5,70.7 L538.3,70.3 L538.1,69.9 L537.8,69.6 L537.4,69.4 L537.0,69.4 L536.5,69.3 L536.2,69.1 L535.9,68.7 L535.7,68.3 L535.5,67.9 L535.1,67.7 L534.7,67.6 L534.2,67.6 L533.8,67.5 L533.5,67.1 L533.3,66.7 L533.1,66.3 L532.8,66.0 L532.4,65.9 L531.9,65.9 L531.5,65.8 L531.2,65.5 L531.0,65.2 L530.8,64.7 L530.5,64.4 L530.1,64.2 L529.7,64.2 L529.2,64.1 L528.8,63.9 L528.6,63.6 L528.4,63.2 L528.2,62.8 L527.8,62.5 L527.4,62.5 L526.9,62.4 L526.6,62.2 L526.3,61.9 L526.0,61.6Z" fill="#e1ea55"/>
<path d="M544.5,64.1 L544.8,64.2 L545.2,64.1 L545.6,63.9 L546.0,63.7 L546.4,63.6 L546.8,63.7 L547.2,63.9 L547.6,64.2 L547.9,64.4 L548.3,64.5 L548.7,64.4 L549.1,64.2 L549.6,64.0 L550.0,64.0 L550.4,64.0 L550.7,64.2 L551.1,64.5 L551.5,64.7 L551.9,64.8 L552.3,64.8 L552.7,64.6 L553.1,64.4 L553.5,64.3 L553.9,64.3 L554.3,64.6 L554.7,64.8 L555.0,65.1 L555.4,65.1 L555.8,65.1 L556.3,64.9 L556.7,64.7 L557.1,64.6 L557.5,64.7 L557.9,64.9 L558.2,65.1 L558.6,65.4 L559.0,65.5 L559.4,65.4 L559.8,65.2 L560.2,65.0 L560.6,64.9 L561.0,65.0 L561.2,65.1 L559.4,70.5 L555.2,74.7 L543.9,77.1 L539.1,83.7 L532.5,80.7 L537.9,75.9 L542.1,70.5Z" fill="#e5dccb"/>
<path d="M561.2,65.1 L561.4,65.1 L561.8,65.4 L562.2,65.6 L562.6,65.7 L563.0,65.7 L563.4,65.5 L563.8,65.3 L564.2,65.2 L564.6,65.2 L565.0,65.3 L565.4,65.6 L565.7,65.8 L566.1,65.9 L566.5,65.9 L566.9,65.7 L567.4,65.5 L567.8,65.4 L568.2,65.4 L568.5,65.5 L568.9,65.8 L569.3,66.0 L569.7,66.1 L570.1,66.1 L570.5,65.9 L570.9,65.7 L571.3,65.6 L571.7,65.6 L572.1,65.7 L572.5,66.0 L572.9,66.2 L573.3,66.3 L573.7,66.3 L574.1,66.1 L574.5,65.9 L574.9,65.7 L570.1,75.3 L566.0,83.1 L560.6,87.2 L551.6,88.7 L551.6,88.0 L551.5,87.6 L551.2,87.3 L550.8,87.1 L550.3,86.9 L549.9,86.7 L549.8,86.3 L549.9,85.8 L550.0,85.2 L549.9,84.7 L549.6,84.5 L549.1,84.3 L548.5,84.3 L548.0,84.1 L547.8,83.8 L547.7,83.3 L547.8,82.8 L547.9,82.2 L547.8,81.8 L547.4,81.6 L546.8,81.5 L546.3,81.4 L545.9,81.1 L545.7,80.8 L545.8,80.2 L545.9,79.7 L545.9,79.2 L545.7,78.8 L545.3,78.6 L544.7,78.5 L544.3,78.3 L544.1,77.9 L544.1,77.5 L543.9,77.1 L555.2,74.7 L559.4,70.5Z" fill="#e5dccb"/>
<path d="M561.2,65.1 L561.4,65.1 L561.8,65.4 L562.2,65.6 L562.6,65.7 L563.0,65.7 L563.4,65.5 L563.8,65.3 L564.2,65.2 L564.6,65.2 L565.0,65.3 L565.4,65.6 L565.7,65.8 L566.1,65.9 L566.5,65.9 L566.9,65.7 L567.4,65.5 L567.8,65.4 L568.2,65.4 L568.5,65.5 L568.9,65.8 L569.3,66.0 L569.7,66.1 L570.1,66.1 L570.5,65.9 L570.9,65.7 L571.3,65.6 L571.7,65.6 L572.1,65.7 L572.5,66.0 L572.9,66.2 L573.3,66.3 L573.7,66.3 L574.1,66.1 L574.5,65.9 L574.9,65.7 L572.3,71.0 L569.8,74.3 L569.8,74.3 L569.5,74.0 L569.3,73.7 L569.1,73.3 L568.8,73.0 L568.5,72.8 L568.0,72.7 L567.6,72.5 L567.4,72.2 L567.2,71.8 L567.1,71.3 L566.9,71.0 L566.6,70.8 L566.1,70.6 L565.7,70.5 L565.4,70.3 L565.2,69.9 L565.1,69.5 L564.9,69.0 L564.7,68.7 L564.3,68.5 L563.9,68.4 L563.5,68.2 L563.3,67.9 L563.2,67.5 L563.1,67.0 L562.9,66.6 L562.7,66.3 L562.2,66.2 L561.9,66.0 L561.6,65.7 L561.4,65.3 L561.2,65.0Z" fill="#e1ea55"/>
<path d="M574.9,66.4 L570.1,75.3 L566.0,83.1 L582.7,101.0 L584.5,101.0 L591.6,92.0 L593.2,89.4 L593.2,89.4 L593.0,89.1 L592.7,88.8 L592.3,88.6 L592.0,88.3 L591.8,87.9 L591.7,87.5 L591.6,87.1 L591.3,86.8 L590.9,86.6 L590.5,86.4 L590.1,86.2 L589.9,85.8 L589.8,85.4 L589.8,84.9 L589.6,84.6 L589.2,84.4 L588.8,84.2 L588.4,84.0 L588.1,83.7 L587.9,83.3 L587.9,82.8 L587.7,82.4 L587.5,82.1 L587.0,82.0 L586.6,81.8 L586.3,81.6 L586.1,81.2 L586.0,80.7 L585.9,80.3 L585.7,79.9 L585.4,79.7 L584.9,79.5 L584.5,79.4 L584.3,79.1 L584.2,78.6 L584.1,78.2 L584.0,77.8 L583.7,77.5 L583.3,77.3 L582.9,77.1 L582.5,76.9 L582.3,76.5 L582.3,76.1 L582.2,75.6 L582.0,75.3 L581.6,75.0 L581.2,74.9 L580.8,74.7 L580.5,74.4 L580.4,73.9 L580.4,73.5 L580.3,73.1 L580.0,72.8 L579.6,72.6 L579.1,72.4 L578.8,72.2 L578.6,71.8 L578.6,71.3 L578.5,70.9 L578.3,70.5 L578.0,70.3 L577.5,70.1 L577.1,69.9 L576.9,69.6 L576.8,69.2 L576.7,68.7 L576.6,68.3 L576.3,68.0 L575.9,67.8 L575.5,67.6 L575.3,67.3 L575.1,66.9 L574.9,66.6Z" fill="#e5dccb"/>
<path d="M574.9,65.7 L574.9,65.7 L575.3,65.6 L575.7,65.8 L576.1,66.0 L576.5,66.2 L576.9,66.3 L577.3,66.3 L577.7,66.1 L578.1,65.8 L578.5,65.6 L578.9,65.6 L579.3,65.8 L579.7,66.0 L580.1,66.2 L580.5,66.3 L580.9,66.2 L581.3,66.0 L581.7,65.8 L582.1,65.6 L582.5,65.6 L582.9,65.7 L583.3,66.0 L583.7,66.2 L584.1,66.3 L584.5,66.2 L584.9,66.0 L585.3,65.8 L585.7,65.6 L586.1,65.6 L586.5,65.7 L586.9,65.9 L587.4,66.2 L587.8,66.2 L588.2,66.2 L588.6,66.0 L589.0,65.7 L589.4,65.6 L589.8,65.6 L590.2,65.7 L590.6,65.9 L591.0,66.1 L591.4,66.2 L591.8,66.1 L592.2,65.9 L592.6,65.7 L593.0,65.5 L593.4,65.5 L593.8,65.7 L594.2,65.9 L594.6,66.1 L595.0,66.2 L595.4,66.1 L595.8,65.9 L596.2,65.7 L596.6,65.5 L597.0,65.5 L597.4,65.7 L597.8,65.9 L598.2,66.1 L598.6,66.2 L599.0,66.1 L599.4,65.9 L599.8,65.6 L600.2,65.5 L600.6,65.5 L601.0,65.6 L601.4,65.9 L601.8,66.1 L599.8,72.9 L596.4,84.9 L593.2,89.4 L593.2,89.4 L593.0,89.1 L592.7,88.8 L592.3,88.6 L592.0,88.3 L591.8,87.9 L591.7,87.5 L591.6,87.1 L591.3,86.8 L590.9,86.6 L590.5,86.4 L590.1,86.2 L589.9,85.8 L589.8,85.4 L589.8,84.9 L589.6,84.6 L589.2,84.4 L588.8,84.2 L588.4,84.0 L588.1,83.7 L587.9,83.3 L587.9,82.8 L587.7,82.4 L587.5,82.1 L587.0,82.0 L586.6,81.8 L586.3,81.6 L586.1,81.2 L586.0,80.7 L585.9,80.3 L585.7,79.9 L585.4,79.7 L584.9,79.5 L584.5,79.4 L584.3,79.1 L584.2,78.6 L584.1,78.2 L584.0,77.8 L583.7,77.5 L583.3,77.3 L582.9,77.1 L582.5,76.9 L582.3,76.5 L582.3,76.1 L582.2,75.6 L582.0,75.3 L581.6,75.0 L581.2,74.9 L580.8,74.7 L580.5,74.4 L580.4,73.9 L580.4,73.5 L580.3,73.1 L580.0,72.8 L579.6,72.6 L579.1,72.4 L578.8,72.2 L578.6,71.8 L578.6,71.3 L578.5,70.9 L578.3,70.5 L578.0,70.3 L577.5,70.1 L577.1,69.9 L576.9,69.6 L576.8,69.2 L576.7,68.7 L576.6,68.3 L576.3,68.0 L575.9,67.8 L575.5,67.6 L575.3,67.3 L575.1,66.9 L574.9,66.6Z" fill="#e1ea55"/>
<path d="M601.8,66.1 L601.8,66.1 L602.2,66.1 L602.6,66.0 L603.0,65.8 L603.4,65.6 L603.8,65.4 L604.2,65.4 L604.6,65.6 L605.0,65.8 L605.4,66.0 L605.8,66.0 L606.2,65.9 L606.6,65.7 L607.0,65.5 L607.3,65.3 L607.7,65.3 L608.1,65.4 L608.6,65.7 L609.0,65.8 L609.4,65.9 L609.8,65.8 L610.1,65.6 L610.5,65.4 L610.9,65.2 L611.3,65.2 L611.7,65.3 L612.1,65.5 L612.5,65.7 L612.9,65.8 L613.3,65.7 L613.7,65.5 L614.1,65.3 L614.5,65.1 L614.9,65.1 L615.3,65.2 L615.7,65.4 L616.1,65.6 L616.5,65.7 L616.9,65.6 L617.3,65.4 L617.7,65.2 L618.1,65.0 L618.5,65.0 L618.9,65.1 L619.3,65.3 L619.7,65.5 L620.1,65.6 L620.5,65.5 L620.9,65.3 L621.2,65.1 L621.6,64.9 L622.0,64.8 L622.4,64.9 L622.8,65.1 L623.2,65.4 L623.6,65.5 L624.0,65.4 L624.4,65.3 L624.8,65.0 L625.2,64.8 L625.6,64.7 L626.0,64.8 L626.4,65.0 L626.8,65.2 L627.2,65.4 L627.6,65.3 L628.0,65.2 L628.4,64.9 L628.8,64.7 L629.2,64.6 L629.6,64.7 L630.0,64.9 L630.4,65.1 L630.8,65.2 L631.2,65.1 L631.6,64.9 L632.0,64.7 L632.4,64.4 L632.8,64.4 L633.2,64.5 L633.6,64.7 L634.1,64.9 L634.5,65.0 L634.9,64.9 L635.3,64.7 L635.6,64.4 L636.0,64.2 L636.4,64.2 L636.9,64.3 L637.3,64.5 L637.7,64.7 L638.1,64.8 L638.5,64.7 L638.9,64.5 L639.3,64.2 L639.7,64.0 L640.1,64.0 L640.5,64.1 L640.9,64.3 L641.3,64.5 L641.7,64.5 L641.7,64.5 L634.9,80.7 L633.4,86.5 L633.0,86.5 L632.6,86.5 L632.2,86.5 L631.8,86.6 L631.4,86.8 L631.0,87.0 L630.6,87.0 L630.2,86.8 L629.8,86.6 L629.4,86.5 L629.0,86.7 L628.6,87.0 L628.2,87.2 L627.8,87.3 L627.4,87.2 L627.0,87.0 L626.6,86.9 L626.2,87.0 L625.8,87.3 L625.5,87.6 L625.1,87.8 L624.7,87.8 L624.2,87.6 L623.8,87.5 L623.4,87.4 L623.0,87.6 L622.7,87.9 L622.3,88.2 L621.9,88.3 L621.5,88.2 L621.1,88.0 L620.6,87.9 L620.2,88.0 L619.9,88.3 L619.5,88.5 L619.1,88.6 L618.7,88.6 L618.3,88.6 L617.6,83.6 L617.7,83.6 L617.3,83.6 L616.9,83.5 L616.5,83.3 L616.2,83.1 L615.8,83.0 L615.3,83.1 L614.9,83.3 L614.5,83.3 L614.1,83.1 L613.8,82.8 L613.4,82.5 L613.0,82.4 L612.6,82.5 L612.2,82.7 L611.8,82.7 L611.4,82.6 L611.0,82.3 L610.7,82.0 L610.3,81.8 L609.9,81.8 L609.5,82.0 L609.0,82.1 L608.6,82.1 L608.3,81.9 L607.9,81.6 L607.6,81.4 L607.3,81.1 L606.9,81.1 L606.4,81.0 L606.0,80.9 L605.7,80.7 L605.5,80.3 L605.3,79.8 L605.0,79.5 L604.6,79.4 L604.1,79.3 L603.7,79.3 L603.3,79.1 L603.1,78.7 L602.9,78.3 L602.7,77.9 L602.3,77.7 L601.9,77.7 L601.4,77.6 L601.1,77.4 L600.8,77.1 L600.5,76.8 L601.2,70.0Z" fill="#e1ea55"/>
<path d="M600.5,76.8 L600.8,77.1 L601.1,77.4 L601.4,77.6 L601.9,77.7 L602.3,77.7 L602.7,77.9 L602.9,78.3 L603.1,78.7 L603.3,79.1 L603.7,79.3 L604.1,79.3 L604.6,79.4 L605.0,79.5 L605.3,79.8 L605.5,80.3 L605.7,80.7 L606.0,80.9 L606.4,81.0 L606.9,81.1 L607.3,81.1 L607.6,81.4 L607.9,81.6 L608.3,81.9 L608.6,82.1 L609.0,82.1 L609.5,82.0 L609.9,81.8 L610.3,81.8 L610.7,82.0 L611.0,82.3 L611.4,82.6 L611.8,82.7 L612.2,82.7 L612.6,82.5 L613.0,82.4 L613.4,82.5 L613.8,82.8 L614.1,83.1 L614.5,83.3 L614.9,83.3 L615.3,83.1 L615.8,83.0 L616.2,83.1 L616.5,83.3 L616.9,83.5 L617.3,83.6 L617.7,83.6 L618.5,99.5 L593.8,92.2 L596.4,84.9Z" fill="#e5dccb"/>
<path d="M618.3,88.6 L618.7,88.6 L619.1,88.6 L619.5,88.5 L619.9,88.3 L620.2,88.0 L620.6,87.9 L621.1,88.0 L621.5,88.2 L621.9,88.3 L622.3,88.2 L622.7,87.9 L623.0,87.6 L623.4,87.4 L623.8,87.5 L624.2,87.6 L624.7,87.8 L625.1,87.8 L625.5,87.6 L625.8,87.3 L626.2,87.0 L626.6,86.9 L627.0,87.0 L627.4,87.2 L627.8,87.3 L628.2,87.2 L628.6,87.0 L629.0,86.7 L629.4,86.5 L629.8,86.6 L630.2,86.8 L630.6,87.0 L631.0,87.0 L631.4,86.8 L631.8,86.6 L632.2,86.5 L632.6,86.5 L633.0,86.5 L630.1,97.0 L626.3,105.6 L623.5,108.2 L618.7,107.6 L618.5,88.6Z" fill="#e5dccb"/>
<path d="M634.9,80.7 L636.8,92.2 L639.5,102.9 L639.5,102.9 L639.1,102.8 L638.7,102.7 L638.3,102.7 L637.9,102.8 L637.5,103.0 L637.0,102.9 L636.7,102.7 L636.3,102.4 L635.9,102.2 L635.5,102.2 L635.1,102.4 L634.6,102.6 L634.2,102.6 L633.8,102.5 L633.5,102.2 L633.1,102.0 L632.7,101.9 L632.2,102.0 L631.8,102.2 L631.4,102.3 L631.0,102.3 L630.6,102.0 L630.2,101.7 L629.8,101.6 L629.4,101.7 L629.0,101.8 L628.6,101.8 L628.2,101.7 L630.1,97.0Z" fill="#e5dccb"/>
<path d="M641.7,64.5 L642.1,64.5 L642.5,64.4 L642.9,64.2 L643.3,64.1 L643.7,64.1 L644.1,64.3 L644.4,64.6 L644.8,64.9 L645.2,65.0 L645.6,65.0 L646.0,64.9 L646.4,64.7 L646.8,64.6 L647.2,64.6 L647.6,64.8 L648.0,65.0 L648.3,65.3 L648.7,65.5 L649.1,65.5 L649.5,65.4 L649.9,65.2 L650.3,65.1 L650.7,65.1 L651.1,65.2 L651.5,65.5 L651.8,65.8 L652.2,66.0 L652.6,66.0 L653.0,65.9 L653.4,65.7 L653.9,65.6 L654.3,65.5 L654.6,65.7 L655.0,65.9 L655.4,66.2 L655.8,66.4 L656.2,66.4 L656.6,66.3 L657.0,66.1 L657.4,65.9 L657.8,65.9 L658.2,66.0 L658.6,66.2 L658.9,66.5 L659.3,66.7 L659.7,66.7 L660.1,66.6 L660.5,66.4 L660.9,66.2 L661.3,66.2 L661.7,66.2 L662.1,66.5 L662.5,66.7 L662.9,66.9 L663.3,67.0 L663.7,66.9 L664.1,66.7 L664.5,66.5 L664.9,66.4 L665.3,66.5 L665.7,66.7 L666.0,67.0 L666.4,67.2 L666.8,67.3 L667.2,67.2 L667.6,67.0 L668.0,66.8 L668.4,66.7 L668.8,66.8 L669.2,67.0 L669.6,67.2 L670.0,67.5 L670.4,67.6 L670.8,67.5 L671.2,67.4 L671.6,67.2 L672.0,67.1 L672.4,67.1 L672.8,67.3 L673.2,67.6 L673.6,67.8 L674.0,67.9 L674.4,67.9 L674.8,67.7 L675.2,67.5 L675.6,67.4 L676.0,67.5 L676.4,67.7 L676.8,68.0 L677.2,68.2 L677.6,68.3 L678.0,68.2 L678.4,68.1 L678.8,67.9 L679.2,67.8 L679.6,67.9 L680.0,68.1 L680.4,68.3 L680.8,68.6 L681.2,68.7 L681.6,68.6 L682.0,68.4 L682.4,68.2 L682.8,68.1 L683.2,68.2 L683.6,68.4 L684.0,68.7 L684.4,68.9 L684.8,69.0 L685.2,68.9 L685.6,68.8 L686.0,68.6 L686.4,68.5 L686.8,68.6 L687.2,68.8 L687.6,69.1 L688.0,69.3 L688.4,69.4 L688.8,69.3 L689.2,69.1 L689.6,68.9 L690.0,68.9 L690.4,68.9 L690.8,69.2 L691.2,69.5 L691.6,69.7 L692.0,69.7 L692.4,69.6 L692.8,69.5 L693.2,69.3 L693.6,69.2 L694.0,69.3 L694.4,69.6 L694.8,69.8 L695.2,70.0 L695.6,70.1 L696.0,70.0 L696.4,69.8 L696.8,69.6 L697.2,69.6 L697.6,69.7 L698.0,69.9 L698.4,70.2 L698.8,70.4 L699.2,70.5 L699.6,70.3 L700.0,70.2 L700.4,70.0 L700.8,69.9 L701.2,70.0 L701.6,70.3 L702.0,70.6 L702.4,70.8 L702.8,70.8 L703.2,70.7 L703.6,70.5 L704.0,70.3 L704.4,70.3 L704.8,70.4 L705.2,70.7 L705.6,70.9 L706.0,71.1 L706.4,71.2 L706.8,71.0 L707.2,70.8 L707.6,70.6 L708.0,70.6 L708.4,70.7 L708.8,70.9 L709.2,71.2 L709.5,71.4 L709.9,71.4 L710.3,71.3 L710.8,71.1 L711.2,70.9 L711.6,70.8 L712.0,70.9 L712.3,71.2 L712.7,71.4 L713.1,71.6 L713.5,71.7 L713.9,71.5 L714.3,71.3 L714.7,71.2 L715.1,71.1 L715.5,71.2 L715.9,71.4 L716.3,71.7 L716.7,71.8 L717.1,71.9 L717.5,71.8 L717.9,71.6 L718.3,71.4 L718.7,71.3 L719.1,71.4 L719.5,71.6 L719.9,71.9 L720.2,72.1 L720.6,72.2 L721.0,72.1 L721.5,71.9 L721.9,71.7 L722.3,71.6 L722.7,71.6 L723.1,71.8 L723.4,72.1 L723.8,72.3 L724.2,72.4 L724.6,72.3 L725.0,72.1 L725.4,71.9 L725.8,71.8 L726.2,71.9 L726.6,72.1 L727.0,72.3 L727.4,72.6 L727.8,72.6 L728.2,72.5 L728.6,72.3 L729.0,72.1 L729.4,72.0 L729.8,72.0 L730.2,72.2 L730.6,72.4 L731.0,72.6 L731.4,72.7 L731.8,72.6 L732.2,72.4 L732.6,72.1 L733.0,72.0 L733.4,72.0 L733.8,72.2 L734.2,72.4 L734.6,72.6 L735.0,72.7 L735.4,72.6 L735.8,72.4 L736.2,72.2 L736.6,72.0 L737.0,72.1 L737.4,72.2 L737.8,72.5 L738.2,72.7 L738.6,72.7 L738.9,72.7 L739.3,72.5 L739.7,72.2 L740.1,72.1 L740.5,72.1 L740.9,72.2 L741.3,72.5 L741.7,72.7 L742.1,72.8 L742.5,72.7 L742.9,72.5 L743.3,72.3 L743.7,72.1 L744.1,72.1 L744.5,72.3 L744.9,72.5 L745.3,72.7 L745.7,72.8 L746.1,72.7 L746.5,72.5 L746.9,72.3 L747.3,72.1 L747.7,72.1 L748.1,72.3 L748.5,72.5 L748.9,72.7 L749.3,72.8 L749.7,72.8 L750.1,72.6 L750.5,72.3 L750.9,72.2 L751.3,72.1 L751.7,72.2 L752.1,72.4 L752.5,72.6 L752.9,72.6 L753.3,72.5 L753.7,72.3 L754.0,72.0 L754.4,71.8 L754.8,71.7 L755.2,71.8 L755.6,72.0 L756.1,72.1 L756.5,72.2 L756.9,72.1 L757.2,71.9 L757.6,71.6 L758.0,71.4 L758.4,71.3 L758.8,71.4 L759.2,71.5 L759.6,71.7 L760.0,71.8 L760.4,71.7 L760.8,71.5 L761.1,71.2 L761.5,71.0 L761.9,70.9 L762.3,70.9 L762.7,71.1 L763.2,71.3 L763.6,71.4 L764.0,71.2 L764.3,71.0 L764.7,70.9 L765.1,70.8 L765.5,70.8 L765.5,84.5 L759.5,97.5 L755.2,108.0 L748.0,121.0 L748.0,121.7 L732.1,121.0 L724.2,127.5 L724.2,127.5 L717.7,120.0 L688.8,95.0 L678.0,86.4 L674.3,84.8 L668.0,85.3 L667.8,85.0 L667.5,84.7 L667.1,84.5 L666.7,84.4 L666.4,84.1 L666.3,83.7 L666.2,83.2 L666.0,82.8 L665.7,82.6 L665.2,82.5 L664.7,82.4 L664.4,82.2 L664.2,81.9 L664.1,81.4 L664.0,80.9 L663.8,80.6 L663.4,80.4 L662.9,80.4 L662.5,80.2 L662.2,80.0 L662.0,79.6 L661.9,79.1 L661.8,78.7 L661.5,78.4 L661.0,78.3 L660.6,78.2 L660.2,78.1 L659.9,77.7 L659.8,77.3 L659.7,76.8 L659.5,76.4 L659.1,76.3 L658.6,76.3 L658.2,76.2 L657.8,76.1 L657.6,75.7 L657.4,75.2 L657.2,74.8 L656.9,74.6 L656.5,74.5 L656.0,74.5 L655.6,74.4 L655.3,74.2 L655.1,73.8 L654.9,73.3 L654.7,73.0 L654.3,72.8 L653.9,72.8 L653.4,72.7 L653.0,72.6 L652.7,72.3 L652.6,71.8 L652.4,71.4 L652.1,71.1 L651.7,71.0 L651.2,71.0 L650.8,70.9 L650.4,70.7 L650.2,70.3 L650.1,69.9 L649.9,69.5 L649.5,69.3 L649.0,69.3 L648.6,69.3 L648.1,69.2 L647.9,68.9 L647.7,68.4 L647.5,68.0 L647.2,67.7 L646.8,67.6 L646.3,67.6 L645.8,67.6 L645.5,67.4 L645.3,67.0 L645.1,66.5 L644.9,66.2 L644.5,66.0 L644.1,65.9 L643.6,65.9 L643.3,65.7 L643.0,65.4 L642.7,65.1Z" fill="#e1ea55"/>
<path d="M641.7,63.8 L634.9,80.7 L636.8,92.2 L636.8,92.2 L637.1,92.5 L637.4,92.8 L637.6,93.2 L638.0,93.4 L638.4,93.5 L638.9,93.5 L639.4,93.3 L639.9,93.3 L640.3,93.4 L640.6,93.6 L640.9,94.0 L641.1,94.5 L641.3,95.0 L641.5,95.5 L641.8,95.8 L642.1,96.0 L642.6,96.0 L643.1,96.0 L643.6,95.8 L644.1,95.8 L644.5,95.8 L644.9,96.0 L645.1,96.3 L645.3,96.8 L645.5,97.3 L645.6,97.7 L645.8,98.2 L646.1,98.4 L646.5,98.6 L647.0,98.6 L647.5,98.5 L648.0,98.5 L648.4,98.4 L648.9,98.5 L649.2,98.7 L649.4,99.0 L649.6,99.5 L649.8,100.0 L649.9,100.5 L650.1,100.8 L650.4,101.1 L650.8,101.2 L651.3,101.3 L651.8,101.2 L652.3,101.2 L652.8,101.2 L653.2,101.3 L653.5,101.6 L653.7,102.0 L653.8,102.5 L653.9,103.0 L654.1,103.5 L654.3,103.9 L654.7,104.1 L655.1,104.1 L655.6,104.1 L656.1,104.1 L656.6,104.1 L657.1,104.1 L657.4,104.3 L657.6,104.7 L657.8,105.1 L657.9,105.6 L658.1,106.1 L658.3,106.6 L658.5,106.9 L658.9,107.0 L659.4,107.0 L659.9,107.0 L660.4,106.9 L660.9,107.0 L661.3,107.1 L661.6,107.4 L661.8,107.8 L661.9,108.2 L662.1,108.8 L662.2,109.2 L662.5,109.6 L662.8,109.8 L663.2,109.9 L663.7,109.9 L664.2,109.8 L664.8,109.8 L665.2,109.9 L665.6,110.0 L665.8,110.4 L666.0,110.8 L666.1,111.3 L666.3,111.8 L666.5,112.2 L666.8,112.5 L667.2,112.7 L667.7,112.7 L668.2,112.6 L668.7,112.6 L669.2,112.6 L669.6,112.7 L669.9,113.0 L670.1,113.4 L670.2,113.9 L670.4,114.4 L670.6,114.9 L670.8,115.2 L671.2,115.4 L671.6,115.5 L672.1,115.4 L672.6,115.4 L673.1,115.3 L673.6,115.4 L673.9,115.6 L674.2,116.0 L674.3,116.4 L674.5,116.9 L674.6,117.4 L674.9,117.8 L675.2,118.1 L675.6,118.2 L676.0,118.2 L676.6,118.2 L677.1,118.1 L677.6,118.1 L677.9,118.3 L678.2,118.6 L678.4,119.0 L678.6,119.5 L678.7,120.0 L678.9,120.5 L679.2,120.8 L679.5,121.0 L680.0,121.0 L680.5,121.0 L681.0,120.9 L681.5,120.9 L681.9,121.0 L682.3,121.2 L682.5,121.6 L682.7,122.0 L682.8,122.5 L683.0,123.0 L683.2,123.4 L683.5,123.7 L683.9,123.8 L684.3,123.8 L684.9,123.8 L685.4,123.7 L685.9,123.7 L686.2,123.9 L686.5,124.1 L686.7,124.6 L686.9,125.1 L687.0,125.6 L687.2,126.0 L687.4,126.4 L687.8,126.6 L688.2,126.6 L688.7,126.6 L689.2,126.5 L689.7,126.5 L690.2,126.6 L690.5,126.8 L690.8,127.1 L690.9,127.6 L691.1,128.1 L691.2,128.6 L691.4,129.0 L691.7,129.3 L692.1,129.4 L692.6,129.4 L693.1,129.4 L693.6,129.3 L694.1,129.3 L694.5,129.4 L694.8,129.7 L695.0,130.1 L695.1,130.6 L695.3,131.1 L695.4,131.6 L695.7,131.9 L696.0,132.1 L696.4,132.2 L696.9,132.2 L697.4,132.1 L698.0,132.1 L698.4,132.2 L698.8,132.3 L699.0,132.7 L699.2,133.1 L699.3,133.6 L699.5,134.0 L699.8,134.3 L700.2,134.5 L700.6,134.6 L701.0,134.7 L717.7,135.4 L724.2,127.5 L724.2,127.5 L717.7,120.0 L688.8,95.0 L678.0,86.4 L674.3,84.8 L668.0,85.3 L667.8,85.0 L667.5,84.7 L667.1,84.5 L666.7,84.4 L666.4,84.1 L666.3,83.7 L666.2,83.2 L666.0,82.8 L665.7,82.6 L665.2,82.5 L664.7,82.4 L664.4,82.2 L664.2,81.9 L664.1,81.4 L664.0,80.9 L663.8,80.6 L663.4,80.4 L662.9,80.4 L662.5,80.2 L662.2,80.0 L662.0,79.6 L661.9,79.1 L661.8,78.7 L661.5,78.4 L661.0,78.3 L660.6,78.2 L660.2,78.1 L659.9,77.7 L659.8,77.3 L659.7,76.8 L659.5,76.4 L659.1,76.3 L658.6,76.3 L658.2,76.2 L657.8,76.1 L657.6,75.7 L657.4,75.2 L657.2,74.8 L656.9,74.6 L656.5,74.5 L656.0,74.5 L655.6,74.4 L655.3,74.2 L655.1,73.8 L654.9,73.3 L654.7,73.0 L654.3,72.8 L653.9,72.8 L653.4,72.7 L653.0,72.6 L652.7,72.3 L652.6,71.8 L652.4,71.4 L652.1,71.1 L651.7,71.0 L651.2,71.0 L650.8,70.9 L650.4,70.7 L650.2,70.3 L650.1,69.9 L649.9,69.5 L649.5,69.3 L649.0,69.3 L648.6,69.3 L648.1,69.2 L647.9,68.9 L647.7,68.4 L647.5,68.0 L647.2,67.7 L646.8,67.6 L646.3,67.6 L645.8,67.6 L645.5,67.4 L645.3,67.0 L645.1,66.5 L644.9,66.2 L644.5,66.0 L644.1,65.9 L643.6,65.9 L643.3,65.7 L643.0,65.4 L642.7,65.1Z" fill="#e5dccb"/>
<path d="M636.8,92.2 L637.1,92.5 L637.4,92.8 L637.6,93.2 L638.0,93.4 L638.4,93.5 L638.9,93.5 L639.4,93.3 L639.9,93.3 L640.3,93.4 L640.6,93.6 L640.9,94.0 L641.1,94.5 L641.3,95.0 L641.5,95.5 L641.8,95.8 L642.1,96.0 L642.6,96.0 L643.1,96.0 L643.6,95.8 L644.1,95.8 L644.5,95.8 L644.9,96.0 L645.1,96.3 L645.3,96.8 L645.5,97.3 L645.6,97.7 L645.8,98.2 L646.1,98.4 L646.5,98.6 L647.0,98.6 L647.5,98.5 L648.0,98.5 L648.4,98.4 L648.9,98.5 L649.2,98.7 L649.4,99.0 L649.6,99.5 L649.8,100.0 L649.9,100.5 L650.1,100.8 L650.4,101.1 L650.8,101.2 L651.3,101.3 L651.8,101.2 L652.3,101.2 L652.8,101.2 L653.2,101.3 L653.5,101.6 L653.7,102.0 L653.8,102.5 L653.9,103.0 L654.1,103.5 L654.3,103.9 L654.7,104.1 L655.1,104.1 L655.6,104.1 L656.1,104.1 L656.6,104.1 L657.1,104.1 L657.4,104.3 L657.6,104.7 L657.8,105.1 L657.9,105.6 L658.1,106.1 L658.3,106.6 L658.5,106.9 L658.9,107.0 L659.4,107.0 L659.9,107.0 L660.4,106.9 L660.9,107.0 L661.3,107.1 L661.6,107.4 L661.8,107.8 L661.9,108.2 L662.1,108.8 L662.2,109.2 L662.5,109.6 L662.8,109.8 L663.2,109.9 L663.7,109.9 L664.2,109.8 L664.8,109.8 L665.2,109.9 L665.6,110.0 L665.8,110.4 L666.0,110.8 L666.1,111.3 L666.3,111.8 L666.5,112.2 L666.8,112.5 L667.2,112.7 L667.7,112.7 L668.2,112.6 L668.7,112.6 L669.2,112.6 L669.6,112.7 L669.9,113.0 L670.1,113.4 L670.2,113.9 L670.4,114.4 L670.6,114.9 L670.8,115.2 L671.2,115.4 L671.6,115.5 L672.1,115.4 L672.6,115.4 L673.1,115.3 L673.6,115.4 L673.9,115.6 L674.2,116.0 L674.3,116.4 L674.5,116.9 L674.6,117.4 L674.9,117.8 L675.2,118.1 L675.6,118.2 L676.0,118.2 L676.6,118.2 L677.1,118.1 L677.6,118.1 L677.9,118.3 L678.2,118.6 L678.4,119.0 L678.6,119.5 L678.7,120.0 L678.9,120.5 L679.2,120.8 L679.5,121.0 L680.0,121.0 L680.5,121.0 L681.0,120.9 L681.5,120.9 L681.9,121.0 L682.3,121.2 L682.5,121.6 L682.7,122.0 L682.8,122.5 L683.0,123.0 L683.2,123.4 L683.5,123.7 L683.9,123.8 L684.3,123.8 L684.9,123.8 L685.4,123.7 L685.9,123.7 L686.2,123.9 L686.5,124.1 L686.7,124.6 L686.9,125.1 L687.0,125.6 L687.2,126.0 L687.4,126.4 L687.8,126.6 L688.2,126.6 L688.7,126.6 L689.2,126.5 L689.7,126.5 L690.2,126.6 L690.5,126.8 L690.8,127.1 L690.9,127.6 L691.1,128.1 L691.2,128.6 L691.4,129.0 L691.7,129.3 L692.1,129.4 L692.6,129.4 L693.1,129.4 L693.6,129.3 L694.1,129.3 L694.5,129.4 L694.8,129.7 L695.0,130.1 L695.1,130.6 L695.3,131.1 L695.4,131.6 L695.7,131.9 L696.0,132.1 L696.4,132.2 L696.9,132.2 L697.4,132.1 L698.0,132.1 L698.4,132.2 L698.8,132.3 L699.0,132.7 L699.2,133.1 L699.3,133.6 L699.5,134.0 L699.8,134.3 L700.2,134.5 L700.6,134.6 L701.0,134.7 L680.9,134.7 L680.9,134.7 L675.0,131.2 L657.8,121.1 L641.5,111.7 L639.7,103.7Z" fill="#b7a898"/>
<path d="M641.5,111.7 L657.8,121.1 L675.0,131.2 L680.9,134.7 L655.6,134.8 L647.7,126.9 L642.3,115.0Z" fill="#728e7d"/>
<path d="M732.1,121.0 L732.5,121.0 L732.9,121.1 L733.3,121.1 L733.7,121.0 L734.1,120.9 L734.5,120.7 L734.8,120.5 L735.2,120.5 L735.6,120.6 L736.0,120.7 L736.5,120.9 L736.9,121.0 L737.3,121.0 L737.6,120.8 L738.0,120.7 L738.4,120.5 L738.8,120.3 L739.2,120.3 L739.6,120.3 L740.0,120.5 L740.4,120.7 L740.8,120.9 L741.2,121.0 L741.6,120.9 L742.0,120.8 L742.4,120.7 L742.8,120.6 L743.2,120.7 L743.6,120.8 L744.0,121.1 L744.4,121.3 L744.8,121.5 L745.2,121.6 L745.6,121.5 L746.0,121.4 L746.4,121.3 L746.8,121.3 L747.2,121.5 L747.6,121.6 L748.0,121.7 L737.9,134.7 L718.3,134.7 L727.8,123.9Z" fill="#e5dccb"/>
<path d="M765.5,84.5 L765.5,94.7 L760.8,94.7Z" fill="#e5dccb"/>
<path d="M760.8,94.7 L765.5,94.7 L765.5,99.0 L758.8,99.0Z" fill="#b7a898"/>
<path d="M758.8,99.0 L765.5,99.0 L765.5,111.3 L752.3,115.8 L755.2,108.0Z" fill="#728e7d"/>
<path d="M107.5,216.3 L765.0,216.3 L765.0,262.2 L764.6,262.3 L764.2,262.5 L763.8,262.7 L763.4,262.8 L763.0,262.7 L762.6,262.5 L762.2,262.2 L761.8,261.9 L761.4,261.6 L761.0,261.4 L760.6,261.2 L760.2,261.2 L759.8,261.2 L759.4,261.4 L759.0,261.6 L758.6,261.9 L758.2,262.1 L757.8,262.4 L757.4,262.6 L757.0,262.7 L756.6,262.7 L756.2,262.6 L755.8,262.5 L755.4,262.2 L755.0,261.9 L754.6,261.6 L754.2,261.3 L753.8,261.1 L753.4,260.9 L753.0,260.9 L752.6,260.9 L752.2,261.1 L751.8,261.3 L751.4,261.6 L751.0,261.9 L750.6,262.1 L750.2,262.3 L749.8,262.4 L749.4,262.5 L749.0,262.4 L748.6,262.2 L748.2,261.9 L747.8,261.6 L747.4,261.3 L747.0,261.0 L746.6,260.8 L746.2,260.7 L745.8,260.6 L745.4,260.7 L745.0,260.8 L744.6,261.1 L744.2,261.3 L743.8,261.6 L743.4,261.9 L743.0,262.0 L742.6,262.2 L742.2,262.2 L741.8,262.1 L741.4,261.9 L741.0,261.7 L740.6,261.4 L740.2,261.0 L739.8,260.8 L739.4,260.5 L739.0,260.4 L738.6,260.3 L738.2,260.4 L737.8,260.6 L737.4,260.8 L737.0,261.0 L736.6,261.3 L736.2,261.6 L735.8,261.8 L735.4,261.9 L735.0,261.9 L734.6,261.8 L734.2,261.6 L733.8,261.4 L733.4,261.1 L733.0,260.8 L732.6,260.5 L732.2,260.3 L731.8,260.1 L731.4,260.1 L731.0,260.1 L730.6,260.3 L730.2,260.5 L729.8,260.8 L729.4,261.1 L729.0,261.3 L728.6,261.5 L728.2,261.6 L727.8,261.6 L727.4,261.5 L727.0,261.3 L726.6,261.1 L726.2,260.8 L725.8,260.5 L725.4,260.2 L725.0,260.0 L724.6,259.8 L724.2,259.8 L723.8,259.9 L723.4,260.0 L723.0,260.2 L722.6,260.5 L722.2,260.8 L721.8,261.0 L721.4,261.2 L721.0,261.3 L720.6,261.3 L720.2,261.3 L719.8,261.1 L719.4,260.8 L719.0,260.5 L718.6,260.2 L718.2,259.9 L717.8,259.7 L717.4,259.6 L717.0,259.5 L716.6,259.6 L716.2,259.7 L715.8,260.0 L715.4,260.2 L715.0,260.5 L714.6,260.8 L714.2,261.0 L713.8,261.1 L713.4,261.1 L713.0,261.0 L712.6,260.8 L712.2,260.5 L711.8,260.2 L711.4,259.9 L711.0,259.6 L710.6,259.4 L710.2,259.3 L709.8,259.2 L709.4,259.3 L709.0,259.5 L708.6,259.7 L708.2,260.0 L707.8,260.2 L707.4,260.5 L707.0,260.7 L706.6,260.8 L706.2,260.8 L705.8,260.7 L705.4,260.5 L705.0,260.3 L704.6,260.0 L704.2,259.6 L703.8,259.4 L703.4,259.1 L703.0,259.0 L702.6,259.0 L702.2,259.0 L701.8,259.2 L701.4,259.4 L701.0,259.7 L700.6,260.0 L700.2,260.2 L699.8,260.4 L699.4,260.5 L699.0,260.5 L698.6,260.4 L698.2,260.2 L697.8,260.0 L697.4,259.7 L697.0,259.4 L696.6,259.1 L696.2,258.9 L695.8,258.7 L695.4,258.7 L695.0,258.8 L694.6,258.9 L694.2,259.1 L693.8,259.4 L693.4,259.7 L693.0,259.9 L692.6,260.1 L692.2,260.2 L691.8,260.2 L691.4,260.1 L691.0,259.9 L690.6,259.7 L690.2,259.4 L689.8,259.1 L689.4,258.8 L689.0,258.6 L688.6,258.4 L688.2,258.4 L687.8,258.5 L687.4,258.6 L687.0,258.8 L686.6,259.1 L686.2,259.4 L685.8,259.6 L685.4,259.8 L685.0,259.9 L684.6,259.9 L684.2,259.8 L683.8,259.6 L683.4,259.4 L683.0,259.1 L682.6,258.8 L682.2,258.5 L681.8,258.3 L681.4,258.1 L681.0,258.1 L680.6,258.2 L680.2,258.3 L679.8,258.5 L679.4,258.8 L679.0,259.1 L678.6,259.3 L678.2,259.5 L677.8,259.6 L677.4,259.6 L677.0,259.5 L676.6,259.3 L676.2,259.1 L675.8,258.8 L675.4,258.4 L675.0,258.2 L674.6,257.9 L674.2,257.8 L673.8,257.8 L673.4,257.9 L673.0,258.0 L672.6,258.2 L672.2,258.5 L671.8,258.8 L671.4,259.0 L671.0,259.2 L670.6,259.3 L670.2,259.3 L669.8,259.2 L669.4,259.0 L669.0,258.8 L668.6,258.5 L668.2,258.1 L667.8,257.9 L667.4,257.6 L667.0,257.5 L666.6,257.5 L666.2,257.6 L665.8,257.7 L665.4,257.9 L665.0,258.2 L664.6,258.5 L664.2,258.7 L663.8,258.9 L663.4,259.0 L663.0,259.0 L662.6,258.9 L662.2,258.7 L661.8,258.4 L661.4,258.1 L661.0,257.8 L660.6,257.6 L660.2,257.3 L659.8,257.2 L659.4,257.2 L659.0,257.3 L658.6,257.4 L658.2,257.6 L657.8,257.9 L657.4,258.2 L657.0,258.4 L656.6,258.6 L656.2,258.7 L655.8,258.7 L655.4,258.6 L655.0,258.4 L654.6,258.1 L654.2,257.8 L653.8,257.5 L653.4,257.3 L653.0,257.0 L652.6,256.9 L652.2,256.9 L651.8,257.0 L651.4,257.1 L651.0,257.4 L650.6,257.6 L650.2,257.9 L649.8,258.1 L649.4,258.3 L649.0,258.4 L648.6,258.4 L648.2,258.3 L647.8,258.1 L647.4,257.8 L647.0,257.5 L646.6,257.2 L646.2,256.9 L645.8,256.7 L645.4,256.6 L645.0,256.6 L644.6,256.7 L644.2,256.8 L643.8,257.1 L643.4,257.3 L643.0,257.6 L642.6,257.8 L642.2,258.0 L641.8,258.1 L641.4,258.1 L641.0,258.0 L640.6,257.8 L640.2,257.5 L639.8,257.2 L639.4,256.9 L639.0,256.6 L638.6,256.4 L638.2,256.3 L637.8,256.3 L637.4,256.4 L637.0,256.5 L636.6,256.8 L636.2,257.0 L635.8,257.3 L635.4,257.5 L634.9,257.7 L634.5,257.8 L634.1,257.7 L633.7,257.5 L633.3,257.3 L632.9,256.9 L632.6,256.6 L632.2,256.2 L631.8,255.9 L631.5,255.7 L631.1,255.5 L630.7,255.5 L630.2,255.5 L629.8,255.7 L629.3,255.9 L628.9,256.1 L628.4,256.4 L628.1,256.5 L627.8,256.7 L627.4,256.9 L627.0,256.9 L626.6,256.8 L626.2,256.7 L625.8,256.4 L625.3,256.2 L624.9,256.0 L624.5,255.8 L624.0,255.7 L623.6,255.7 L623.2,255.8 L622.9,256.0 L622.5,256.3 L622.2,256.6 L621.8,257.0 L621.5,257.3 L621.1,257.6 L620.6,257.8 L620.2,257.9 L619.8,257.8 L619.4,257.7 L619.0,257.5 L618.6,257.2 L618.2,256.9 L617.8,256.7 L617.4,256.4 L617.0,256.3 L616.6,256.2 L616.2,256.2 L615.8,256.4 L615.4,256.6 L615.1,256.8 L614.7,257.1 L614.3,257.4 L613.9,257.7 L613.5,257.8 L613.1,257.9 L612.7,257.9 L612.3,257.8 L611.9,257.6 L611.5,257.3 L611.1,257.1 L610.7,256.8 L610.3,256.5 L609.9,256.4 L609.5,256.3 L609.1,256.3 L608.7,256.4 L608.3,256.6 L607.9,256.8 L607.5,257.1 L607.1,257.4 L606.7,257.7 L606.3,257.9 L606.0,258.0 L605.6,258.0 L605.2,257.9 L604.8,257.7 L604.4,257.5 L604.0,257.2 L603.6,256.9 L603.2,256.6 L602.8,256.4 L602.4,256.3 L602.0,256.3 L601.6,256.4 L601.2,256.6 L600.8,256.9 L600.4,257.2 L600.0,257.5 L599.6,257.7 L599.2,257.9 L598.8,258.0 L598.4,258.0 L598.0,258.0 L597.6,257.8 L597.2,257.5 L596.8,257.2 L596.4,256.9 L596.0,256.7 L595.6,256.5 L595.2,256.4 L594.8,256.4 L594.4,256.4 L594.0,256.6 L593.6,256.9 L593.2,257.2 L592.8,257.5 L592.4,257.7 L592.0,257.9 L591.6,258.0 L591.2,258.0 L590.8,258.0 L590.4,257.8 L590.0,257.5 L589.6,257.2 L589.2,256.9 L588.8,256.7 L588.4,256.5 L588.0,256.4 L587.6,256.4 L587.2,256.4 L586.8,256.6 L586.4,256.9 L586.0,257.2 L585.6,257.5 L585.2,257.7 L584.8,257.9 L584.4,258.0 L584.0,258.0 L583.6,258.0 L583.2,257.8 L582.8,257.5 L582.4,257.2 L582.0,256.9 L581.6,256.7 L581.2,256.5 L580.8,256.4 L580.4,256.4 L580.0,256.4 L579.6,256.6 L579.2,256.9 L578.8,257.2 L578.4,257.5 L578.0,257.7 L577.6,257.9 L577.2,258.0 L576.8,258.0 L576.4,258.0 L576.0,257.8 L575.6,257.5 L575.2,257.2 L574.8,256.9 L574.4,256.7 L574.0,256.5 L573.6,256.4 L573.2,256.4 L572.8,256.4 L572.4,256.6 L572.0,256.9 L571.6,257.2 L571.2,257.5 L570.8,257.7 L570.4,257.9 L570.0,258.0 L569.6,258.0 L569.2,258.0 L568.8,257.8 L568.4,257.5 L568.0,257.2 L567.6,256.9 L567.2,256.7 L566.8,256.5 L566.4,256.4 L566.0,256.4 L565.6,256.4 L565.2,256.6 L564.8,256.9 L564.4,257.2 L564.0,257.5 L563.6,257.7 L563.2,257.9 L562.8,258.0 L562.4,258.0 L562.0,258.0 L561.6,257.8 L561.2,257.5 L560.8,257.2 L560.4,256.9 L560.0,256.7 L559.6,256.5 L559.2,256.4 L558.8,256.4 L558.4,256.4 L558.0,256.6 L557.6,256.9 L557.2,257.2 L556.8,257.5 L556.4,257.7 L556.0,257.9 L555.6,258.0 L555.2,258.0 L554.8,258.0 L554.4,257.8 L554.0,257.5 L553.6,257.2 L553.2,256.9 L552.8,256.7 L552.4,256.5 L552.0,256.4 L551.6,256.4 L551.2,256.4 L550.8,256.6 L550.4,256.9 L550.0,257.2 L549.6,257.5 L549.2,257.7 L548.8,257.9 L548.4,258.0 L548.0,258.0 L547.6,258.0 L547.2,257.8 L546.8,257.5 L546.4,257.2 L546.0,256.9 L545.6,256.7 L545.2,256.5 L544.8,256.4 L544.4,256.4 L544.0,256.4 L543.6,256.6 L543.2,256.9 L542.8,257.2 L542.4,257.5 L542.0,257.7 L541.6,257.9 L541.2,258.0 L540.8,258.0 L540.4,258.0 L540.0,257.8 L539.6,257.5 L539.2,257.2 L538.8,256.9 L538.4,256.7 L538.0,256.5 L537.6,256.4 L537.2,256.4 L536.8,256.4 L536.4,256.6 L536.0,256.9 L535.6,257.2 L535.2,257.5 L534.8,257.7 L534.4,257.9 L534.0,258.0 L533.6,258.0 L533.2,258.0 L532.8,257.8 L532.4,257.5 L532.0,257.2 L531.6,256.9 L531.2,256.7 L530.8,256.5 L530.4,256.4 L530.0,256.4 L529.6,256.4 L529.2,256.6 L528.8,256.9 L528.4,257.2 L528.0,257.5 L527.6,257.7 L527.2,257.9 L526.8,258.0 L526.4,258.0 L526.0,258.0 L525.6,257.8 L525.2,257.5 L524.8,257.2 L524.4,256.9 L524.0,256.7 L523.6,256.5 L523.2,256.4 L522.8,256.4 L522.4,256.4 L522.0,256.6 L521.6,256.9 L521.2,257.2 L520.8,257.5 L520.4,257.7 L520.0,257.9 L519.6,258.0 L519.2,258.0 L518.8,258.0 L518.4,257.8 L518.0,257.5 L517.6,257.2 L517.2,256.9 L516.8,256.7 L516.4,256.5 L516.0,256.4 L515.6,256.4 L515.2,256.4 L514.8,256.6 L514.4,256.9 L514.0,257.2 L513.6,257.5 L513.2,257.7 L512.8,257.9 L512.4,258.0 L512.0,258.0 L511.6,258.0 L511.2,257.8 L510.8,257.5 L510.4,257.2 L510.0,256.9 L509.6,256.7 L509.2,256.5 L508.8,256.4 L508.4,256.4 L508.0,256.4 L507.6,256.6 L507.2,256.9 L506.8,257.2 L506.4,257.5 L506.0,257.7 L505.6,257.9 L505.2,258.0 L504.8,258.0 L504.4,258.0 L504.0,257.8 L503.6,257.5 L503.2,257.2 L502.8,256.9 L502.4,256.7 L502.0,256.5 L501.6,256.4 L501.2,256.4 L500.8,256.4 L500.4,256.6 L500.0,256.9 L499.6,257.2 L499.2,257.4 L498.8,257.7 L498.4,257.9 L498.0,258.0 L497.6,258.0 L497.2,257.9 L496.8,257.7 L496.4,257.5 L496.0,257.2 L495.6,256.9 L495.2,256.6 L494.8,256.4 L494.4,256.3 L494.0,256.3 L493.6,256.4 L493.2,256.6 L492.8,256.8 L492.4,257.1 L492.0,257.4 L491.6,257.6 L491.2,257.8 L490.8,257.9 L490.4,257.9 L490.0,257.8 L489.6,257.7 L489.2,257.4 L488.8,257.1 L488.4,256.8 L488.0,256.6 L487.6,256.4 L487.2,256.2 L486.8,256.2 L486.4,256.3 L486.0,256.5 L485.6,256.7 L485.2,257.0 L484.8,257.3 L484.4,257.5 L484.0,257.7 L483.6,257.9 L483.2,257.9 L482.8,257.8 L482.4,257.6 L482.0,257.3 L481.6,257.0 L481.2,256.7 L480.8,256.5 L480.4,256.3 L480.0,256.2 L479.6,256.1 L479.2,256.2 L478.8,256.4 L478.4,256.6 L478.0,256.9 L477.6,257.2 L477.2,257.5 L476.8,257.7 L476.4,257.8 L476.0,257.8 L475.6,257.7 L475.2,257.5 L474.8,257.3 L474.4,257.0 L474.0,256.7 L473.6,256.4 L473.2,256.2 L472.8,256.1 L472.4,256.1 L472.0,256.1 L471.6,256.3 L471.2,256.6 L470.8,256.8 L470.4,257.1 L470.0,257.4 L469.6,257.6 L469.2,257.7 L468.8,257.7 L468.4,257.6 L468.0,257.4 L467.6,257.2 L467.2,256.9 L466.8,256.6 L466.4,256.3 L466.0,256.1 L465.6,256.0 L465.2,256.0 L464.8,256.1 L464.4,256.2 L464.0,256.5 L463.6,256.8 L463.2,257.1 L462.8,257.3 L462.4,257.5 L462.0,257.6 L461.6,257.6 L461.2,257.5 L460.8,257.4 L460.4,257.1 L460.0,256.8 L459.6,256.5 L459.2,256.2 L458.8,256.0 L458.4,255.9 L458.0,255.9 L457.6,256.0 L457.2,256.2 L456.8,256.4 L456.4,256.7 L456.0,257.0 L455.6,257.2 L455.2,257.4 L454.8,257.5 L454.4,257.6 L454.0,257.5 L453.6,257.3 L453.2,257.0 L452.8,256.7 L452.4,256.4 L452.0,256.2 L451.6,256.0 L451.2,255.8 L450.8,255.8 L450.4,255.9 L450.0,256.1 L449.6,256.3 L449.2,256.6 L448.8,256.9 L448.4,257.2 L448.0,257.4 L447.6,257.5 L447.2,257.5 L446.8,257.4 L446.4,257.2 L446.0,256.9 L445.6,256.7 L445.2,256.4 L444.8,256.1 L444.4,255.9 L444.0,255.8 L443.6,255.8 L443.2,255.8 L442.8,256.0 L442.4,256.3 L442.0,256.5 L441.6,256.8 L441.2,257.1 L440.8,257.3 L440.4,257.4 L440.0,257.4 L439.6,257.3 L439.2,257.1 L438.8,256.9 L438.4,256.6 L438.0,256.3 L437.6,256.0 L437.2,255.8 L436.8,255.7 L436.4,255.7 L436.0,255.8 L435.6,255.9 L435.2,256.2 L434.8,256.5 L434.4,256.8 L434.0,257.0 L433.6,257.2 L433.2,257.3 L432.8,257.3 L432.4,257.2 L432.0,257.0 L431.6,256.8 L431.2,256.5 L430.8,256.2 L430.4,255.9 L430.0,255.7 L429.6,255.6 L429.2,255.6 L428.8,255.7 L428.4,255.9 L428.0,256.1 L427.6,256.4 L427.2,256.7 L426.8,256.9 L426.4,257.1 L426.0,257.2 L425.6,257.2 L425.2,257.2 L424.8,257.0 L424.4,256.7 L424.0,256.4 L423.6,256.1 L423.2,255.9 L422.8,255.7 L422.4,255.5 L422.0,255.5 L421.6,255.6 L421.2,255.8 L420.8,256.0 L420.4,256.3 L420.0,256.6 L419.6,256.9 L419.2,257.1 L418.8,257.2 L418.4,257.2 L418.0,257.1 L417.6,256.9 L417.2,256.6 L416.8,256.3 L416.4,256.0 L416.0,255.8 L415.6,255.6 L415.3,255.4 L414.9,255.4 L414.4,255.4 L414.0,255.6 L413.6,255.8 L413.2,256.1 L412.8,256.4 L412.4,256.6 L412.0,256.8 L411.5,256.8 L411.1,256.8 L410.8,256.7 L410.4,256.5 L410.0,256.2 L409.6,255.9 L409.2,255.6 L408.8,255.3 L408.4,255.1 L408.1,254.9 L407.7,254.9 L407.2,255.0 L406.8,255.1 L406.4,255.4 L406.0,255.6 L405.6,255.9 L405.2,256.1 L404.8,256.3 L404.3,256.4 L403.9,256.4 L403.6,256.2 L403.2,256.0 L402.8,255.7 L402.4,255.4 L402.0,255.1 L401.6,254.8 L401.2,254.6 L400.9,254.5 L400.5,254.4 L400.0,254.5 L399.6,254.7 L399.2,254.9 L398.8,255.2 L398.4,255.4 L398.0,255.7 L397.6,255.8 L397.1,255.9 L396.7,255.9 L396.4,255.8 L396.0,255.5 L395.6,255.3 L395.2,254.9 L394.8,254.6 L394.4,254.3 L394.0,254.1 L393.7,254.0 L393.3,254.0 L392.8,254.0 L392.4,254.2 L392.0,254.4 L391.6,254.7 L391.2,255.0 L390.8,255.2 L390.4,255.4 L390.0,255.4 L389.6,255.4 L389.2,255.3 L388.8,255.1 L388.4,254.8 L388.0,254.5 L387.6,254.2 L387.2,253.9 L386.8,253.7 L386.4,253.6 L386.0,253.6 L385.6,253.7 L385.2,253.8 L384.8,254.1 L384.4,254.3 L384.0,254.6 L383.6,254.9 L383.2,255.0 L382.8,255.1 L382.4,255.1 L382.0,255.0 L381.6,254.7 L381.2,254.5 L380.8,254.2 L380.4,253.8 L380.0,253.6 L379.6,253.4 L379.2,253.3 L378.8,253.2 L378.4,253.3 L378.0,253.5 L377.6,253.7 L377.2,254.0 L376.8,254.3 L376.4,254.5 L376.0,254.7 L375.6,254.8 L375.2,254.7 L374.8,254.6 L374.4,254.4 L374.0,254.1 L373.6,253.8 L373.2,253.5 L372.8,253.2 L372.4,253.0 L372.0,252.9 L371.6,252.9 L371.2,253.0 L370.8,253.2 L370.4,253.4 L370.0,253.7 L369.6,254.0 L369.2,254.2 L368.8,254.4 L368.4,254.4 L368.0,254.4 L367.6,254.3 L367.2,254.1 L366.8,253.8 L366.4,253.5 L366.0,253.2 L365.6,252.9 L365.2,252.7 L364.8,252.6 L364.4,252.6 L364.0,252.7 L363.6,252.8 L363.2,253.1 L362.8,253.4 L362.4,253.6 L362.0,253.9 L361.6,254.0 L361.2,254.1 L360.8,254.1 L360.4,253.9 L360.0,253.7 L359.6,253.4 L359.2,253.1 L358.8,252.8 L358.4,252.6 L358.0,252.4 L357.6,252.2 L357.2,252.2 L356.8,252.3 L356.4,252.5 L356.0,252.8 L355.6,253.0 L355.2,253.3 L354.8,253.5 L354.4,253.7 L354.0,253.8 L353.6,253.7 L353.2,253.6 L352.8,253.4 L352.4,253.1 L352.0,252.8 L351.6,252.5 L351.2,252.2 L350.8,252.0 L350.4,251.9 L350.0,251.9 L349.6,252.0 L349.2,252.2 L348.8,252.4 L348.4,252.7 L348.0,253.0 L347.6,253.2 L347.2,253.4 L346.8,253.4 L346.4,253.4 L346.0,253.3 L345.6,253.0 L345.2,252.8 L344.8,252.4 L344.4,252.1 L344.0,251.9 L343.6,251.7 L343.2,251.6 L342.8,251.6 L342.4,251.7 L342.0,251.8 L341.6,252.1 L341.2,252.4 L340.8,252.6 L340.4,252.9 L340.0,253.0 L339.6,253.1 L339.2,253.1 L338.8,252.9 L338.4,252.7 L338.0,252.4 L337.6,252.1 L337.2,251.8 L336.8,251.5 L336.4,251.3 L336.0,251.2 L335.6,251.2 L335.2,251.3 L334.8,251.5 L334.4,251.8 L334.0,252.0 L333.6,252.3 L333.2,252.5 L332.8,252.7 L332.4,252.8 L332.0,252.7 L331.6,252.6 L331.2,252.4 L330.8,252.1 L330.4,251.8 L330.0,251.5 L329.6,251.2 L329.2,251.0 L328.8,250.9 L328.4,250.9 L328.0,251.0 L327.6,251.2 L327.2,251.4 L326.8,251.7 L326.4,251.9 L326.0,252.2 L325.6,252.3 L325.2,252.4 L324.8,252.3 L324.4,252.2 L324.0,252.0 L323.6,251.7 L323.2,251.4 L322.8,251.0 L322.4,250.8 L322.0,250.6 L321.6,250.5 L321.2,250.5 L320.8,250.6 L320.4,250.8 L320.0,251.0 L319.6,251.3 L319.2,251.5 L318.8,251.8 L318.4,251.9 L318.0,252.0 L317.6,251.9 L317.2,251.8 L316.8,251.6 L316.4,251.3 L316.0,250.9 L315.6,250.6 L315.2,250.4 L314.8,250.2 L314.4,250.1 L314.0,250.1 L313.6,250.2 L313.2,250.4 L312.8,250.6 L312.4,250.9 L312.0,251.2 L311.6,251.4 L311.2,251.5 L310.8,251.6 L310.4,251.5 L310.0,251.4 L309.6,251.1 L309.2,250.9 L308.8,250.5 L308.4,250.2 L308.0,250.0 L307.6,249.8 L307.2,249.7 L306.8,249.7 L306.4,249.8 L306.0,250.0 L305.6,250.2 L305.2,250.5 L304.8,250.8 L304.4,251.0 L304.0,251.1 L303.6,251.2 L303.2,251.1 L302.8,251.0 L302.4,250.7 L302.0,250.4 L301.6,250.1 L301.2,249.8 L300.8,249.6 L300.4,249.4 L300.0,249.3 L299.6,249.3 L299.2,249.4 L298.8,249.6 L298.4,249.8 L298.0,250.1 L297.6,250.4 L297.2,250.6 L296.8,250.7 L296.4,250.8 L296.0,250.7 L295.6,250.6 L295.2,250.3 L294.8,250.0 L294.4,249.7 L294.0,249.4 L293.6,249.1 L293.2,249.0 L292.8,248.9 L292.4,248.9 L292.0,249.0 L291.6,249.2 L291.2,249.4 L290.8,249.7 L290.4,250.0 L290.0,250.2 L289.6,250.3 L289.2,250.4 L288.8,250.3 L288.4,250.1 L288.0,249.9 L287.6,249.6 L287.2,249.3 L286.8,249.0 L286.4,248.7 L286.0,248.6 L285.6,248.5 L285.2,248.5 L284.8,248.6 L284.4,248.8 L284.0,249.0 L283.6,249.3 L283.2,249.6 L282.8,249.8 L282.4,249.9 L282.0,250.0 L281.6,249.9 L281.2,249.7 L280.8,249.5 L280.4,249.2 L280.0,248.9 L279.6,248.6 L279.2,248.3 L278.8,248.1 L278.5,248.1 L278.1,248.1 L277.6,248.2 L277.2,248.4 L276.8,248.6 L276.4,248.9 L276.0,249.1 L275.6,249.4 L275.2,249.5 L274.7,249.5 L274.3,249.5 L274.0,249.3 L273.6,249.0 L273.2,248.7 L272.8,248.4 L272.4,248.1 L272.0,247.9 L271.6,247.7 L271.3,247.6 L270.9,247.6 L270.4,247.7 L270.0,247.9 L269.6,248.2 L269.2,248.5 L268.8,248.7 L268.4,248.9 L268.0,249.0 L267.5,249.1 L267.1,249.0 L266.8,248.8 L266.4,248.6 L266.0,248.3 L265.6,248.0 L265.2,247.7 L264.8,247.4 L264.4,247.2 L264.1,247.2 L263.7,247.2 L263.2,247.3 L262.8,247.5 L262.4,247.7 L262.0,248.0 L261.6,248.3 L261.2,248.5 L260.8,248.6 L260.3,248.6 L260.0,248.5 L259.6,248.4 L259.2,248.1 L258.8,247.8 L258.4,247.5 L258.0,247.2 L257.6,247.0 L257.2,246.8 L256.9,246.7 L256.4,246.7 L256.0,246.8 L255.6,247.0 L255.2,247.3 L254.8,247.6 L254.4,247.8 L254.0,248.0 L253.6,248.1 L253.1,248.2 L252.8,248.1 L252.4,247.9 L252.0,247.7 L251.6,247.4 L251.2,247.0 L250.8,246.7 L250.4,246.5 L250.0,246.3 L249.7,246.3 L249.2,246.3 L248.8,246.4 L248.4,246.6 L248.0,246.9 L247.6,247.1 L247.2,247.4 L246.8,247.6 L246.3,247.7 L245.9,247.7 L245.6,247.6 L245.2,247.5 L244.8,247.2 L244.4,246.9 L244.0,246.6 L243.6,246.3 L243.2,246.0 L242.9,245.9 L242.5,245.8 L242.0,245.8 L241.6,246.0 L241.2,246.2 L240.8,246.4 L240.4,246.7 L240.0,246.9 L239.6,247.1 L239.2,247.3 L238.8,247.3 L238.4,247.2 L238.0,247.0 L237.6,246.8 L237.2,246.5 L236.8,246.2 L236.4,245.9 L236.0,245.7 L235.6,245.5 L235.3,245.4 L234.9,245.5 L234.4,245.6 L234.0,245.8 L233.6,246.1 L233.2,246.3 L232.8,246.6 L232.4,246.8 L232.0,246.9 L231.6,247.0 L231.2,246.9 L230.8,246.7 L230.4,246.5 L230.0,246.2 L229.6,245.9 L229.2,245.6 L228.9,245.3 L228.5,245.2 L228.1,245.1 L227.7,245.1 L227.3,245.3 L226.9,245.5 L226.4,245.7 L226.0,246.0 L225.6,246.3 L225.2,246.5 L224.8,246.6 L224.4,246.6 L224.0,246.6 L223.6,246.4 L223.2,246.1 L222.8,245.9 L222.5,245.5 L222.1,245.2 L221.7,245.0 L221.3,244.8 L220.9,244.8 L220.5,244.8 L220.1,244.9 L219.7,245.1 L219.3,245.4 L218.9,245.7 L218.4,245.9 L218.0,246.1 L217.6,246.3 L217.2,246.3 L216.8,246.2 L216.4,246.1 L216.0,245.8 L215.7,245.5 L215.3,245.2 L214.9,244.9 L214.5,244.7 L214.1,244.5 L213.7,244.4 L213.3,244.5 L212.9,244.6 L212.5,244.8 L212.1,245.0 L211.7,245.3 L211.3,245.6 L210.8,245.8 L210.4,245.9 L210.0,246.0 L209.6,245.9 L209.3,245.7 L208.9,245.5 L208.5,245.2 L208.1,244.9 L207.7,244.6 L207.3,244.3 L206.9,244.2 L206.5,244.1 L206.1,244.1 L205.7,244.2 L205.3,244.4 L204.9,244.7 L204.5,245.0 L204.1,245.2 L203.7,245.5 L203.3,245.6 L202.9,245.6 L202.5,245.6 L202.1,245.5 L201.7,245.2 L201.3,244.9 L200.9,244.6 L200.5,244.4 L200.1,244.1 L199.7,244.0 L199.3,243.9 L198.9,244.0 L198.5,244.1 L198.1,244.3 L197.7,244.6 L197.3,244.9 L196.9,245.2 L196.5,245.4 L196.1,245.5 L195.7,245.6 L195.3,245.5 L194.9,245.4 L194.5,245.2 L194.1,244.9 L193.7,244.6 L193.3,244.3 L192.9,244.1 L192.5,243.9 L192.1,243.8 L191.7,243.9 L191.3,244.0 L190.9,244.3 L190.5,244.5 L190.1,244.8 L189.7,245.1 L189.3,245.3 L188.9,245.5 L188.5,245.5 L188.1,245.5 L187.7,245.3 L187.3,245.1 L186.9,244.8 L186.5,244.5 L186.1,244.2 L185.7,244.0 L185.3,243.8 L184.9,243.8 L184.5,243.8 L184.1,244.0 L183.7,244.2 L183.3,244.5 L182.9,244.8 L182.4,245.0 L182.0,245.3 L181.6,245.4 L181.2,245.4 L180.8,245.4 L180.4,245.2 L180.0,245.0 L179.6,244.7 L179.2,244.4 L178.8,244.1 L178.4,243.9 L178.0,243.8 L177.6,243.7 L177.2,243.8 L176.8,243.9 L176.4,244.1 L176.0,244.4 L175.6,244.7 L175.2,245.0 L174.8,245.2 L174.4,245.3 L174.0,245.4 L173.6,245.3 L173.2,245.2 L172.8,244.9 L172.4,244.6 L172.0,244.3 L171.6,244.1 L171.2,243.8 L170.8,243.7 L170.4,243.6 L170.0,243.7 L169.6,243.9 L169.2,244.1 L168.8,244.4 L168.4,244.7 L168.0,244.9 L167.6,245.1 L167.2,245.3 L166.8,245.3 L166.4,245.2 L166.0,245.1 L165.6,244.8 L165.2,244.6 L164.8,244.3 L164.4,244.0 L164.0,243.8 L163.6,243.6 L163.2,243.6 L162.8,243.6 L162.4,243.8 L162.0,244.0 L161.6,244.3 L161.2,244.6 L160.8,244.9 L160.4,245.1 L160.0,245.2 L159.6,245.2 L159.2,245.2 L158.8,245.0 L158.4,244.7 L158.0,244.4 L157.6,244.1 L157.2,243.8 L156.8,243.6 L156.4,243.5 L156.0,243.4 L155.6,243.5 L155.2,243.6 L154.8,243.9 L154.4,244.1 L154.0,244.4 L153.6,244.7 L153.2,244.9 L152.8,245.0 L152.4,245.0 L152.0,244.9 L151.6,244.7 L151.2,244.5 L150.8,244.2 L150.4,243.9 L150.0,243.6 L149.6,243.3 L149.2,243.2 L148.8,243.2 L148.4,243.2 L148.0,243.4 L147.6,243.6 L147.2,243.9 L146.8,244.2 L146.4,244.4 L145.9,244.6 L145.5,244.7 L145.1,244.7 L144.7,244.6 L144.3,244.5 L144.0,244.2 L143.6,243.9 L143.2,243.6 L142.8,243.3 L142.4,243.1 L142.0,243.0 L141.6,242.9 L141.2,243.0 L140.8,243.1 L140.4,243.4 L140.0,243.7 L139.6,243.9 L139.1,244.2 L138.7,244.4 L138.3,244.5 L137.9,244.5 L137.5,244.4 L137.1,244.2 L136.7,243.9 L136.4,243.6 L136.0,243.3 L135.6,243.1 L135.2,242.8 L134.8,242.7 L134.4,242.7 L134.0,242.7 L133.6,242.9 L133.2,243.1 L132.7,243.4 L132.3,243.7 L131.9,243.9 L131.5,244.1 L131.1,244.2 L130.7,244.2 L130.3,244.1 L129.9,243.9 L129.5,243.7 L129.1,243.4 L128.7,243.1 L128.4,242.8 L128.0,242.6 L127.6,242.5 L127.2,242.4 L126.8,242.5 L126.4,242.7 L125.9,242.9 L125.5,243.2 L125.1,243.5 L124.7,243.7 L124.3,243.9 L123.9,244.0 L123.5,244.0 L123.1,243.9 L122.7,243.7 L122.3,243.4 L121.9,243.1 L121.5,242.8 L121.1,242.5 L120.7,242.3 L120.4,242.2 L120.0,242.2 L119.5,242.3 L119.1,242.4 L118.7,242.7 L118.3,243.0 L117.9,243.2 L117.5,243.5 L117.1,243.7 L116.7,243.7 L116.3,243.7 L115.9,243.6 L115.5,243.4 L115.1,243.2 L114.7,242.9 L114.3,242.6 L113.9,242.3 L113.5,242.1 L113.1,242.0 L112.7,241.9 L112.3,242.0 L111.9,242.2 L111.5,242.4 L111.1,242.7 L110.7,243.0 L110.3,243.2 L109.9,243.4 L109.5,243.5 L109.1,243.3 L108.7,243.1 L108.3,242.8 L107.9,242.7 L107.5,242.6Z" fill="#fbfcdd"/>
<path d="M173.0,245.0 L173.2,245.2 L173.6,245.3 L174.0,245.4 L174.4,245.3 L174.8,245.2 L175.2,245.0 L175.6,244.7 L176.0,244.4 L176.4,244.1 L176.8,243.9 L177.2,243.8 L177.6,243.7 L178.0,243.8 L178.4,243.9 L178.8,244.1 L179.2,244.4 L179.6,244.7 L180.0,245.0 L180.4,245.2 L180.8,245.4 L181.2,245.4 L181.6,245.4 L182.0,245.3 L182.4,245.0 L182.9,244.8 L183.3,244.5 L183.7,244.2 L184.1,244.0 L184.5,243.8 L184.9,243.8 L185.3,243.8 L185.7,244.0 L186.1,244.2 L186.5,244.5 L186.9,244.8 L187.3,245.1 L187.7,245.3 L188.1,245.5 L188.5,245.5 L188.9,245.5 L189.3,245.3 L189.7,245.1 L190.1,244.8 L190.5,244.5 L190.9,244.3 L191.3,244.0 L191.7,243.9 L192.1,243.8 L192.5,243.9 L192.9,244.1 L193.3,244.3 L193.7,244.6 L194.1,244.9 L194.5,245.2 L194.9,245.4 L195.3,245.5 L195.7,245.6 L196.1,245.5 L196.5,245.4 L196.9,245.2 L197.3,244.9 L197.7,244.6 L198.1,244.3 L198.5,244.1 L198.9,244.0 L199.3,243.9 L199.7,244.0 L200.1,244.1 L200.5,244.4 L200.9,244.6 L201.3,244.9 L201.7,245.2 L202.1,245.5 L202.5,245.6 L202.9,245.6 L203.3,245.6 L203.3,245.6 L209.3,252.0 L209.3,252.0 L208.9,252.1 L208.5,252.1 L208.1,252.0 L207.7,251.9 L207.4,251.6 L207.0,251.2 L206.7,250.9 L206.4,250.6 L206.0,250.4 L205.6,250.3 L205.2,250.3 L204.8,250.4 L204.3,250.6 L203.9,250.8 L203.4,250.9 L203.0,251.1 L202.6,251.2 L202.2,251.2 L201.8,251.0 L201.4,250.9 L201.1,250.6 L200.8,250.2 L200.4,249.9 L200.1,249.5 L199.8,249.2 L199.4,249.0 L199.1,248.8 L198.7,248.7 L198.3,248.8 L197.8,248.9 L197.4,249.0 L196.9,249.2 L196.5,249.4 L196.0,249.5 L195.6,249.6 L195.2,249.5 L194.8,249.4 L194.5,249.2 L194.2,248.9 L193.8,248.5 L193.5,248.2 L193.2,247.8 L192.8,247.5 L192.5,247.3 L192.1,247.2 L191.7,247.1 L191.3,247.2 L190.9,247.3 L190.4,247.5 L190.0,247.7 L189.5,247.9 L189.1,248.0 L188.7,248.1 L188.3,248.0 L187.9,247.9 L187.5,247.6 L187.2,247.3 L186.8,247.0 L186.5,246.7 L186.1,246.4 L185.8,246.1 L185.4,246.0 L185.0,245.9 L184.6,246.0 L184.1,246.1 L183.7,246.3 L183.3,246.5 L182.8,246.7 L182.4,246.9 L182.0,247.0 L181.6,247.0 L181.2,246.9 L180.8,246.7 L180.4,246.4 L180.1,246.1 L179.7,245.7 L179.4,245.4 L179.0,245.1 L178.7,244.9 L178.3,244.8 L177.9,244.8 L177.4,244.9 L177.0,245.1 L176.6,245.3 L176.1,245.5 L175.7,245.7 L175.3,245.8 L174.9,245.9 L174.5,245.7 L174.1,245.4 L173.8,245.1 L173.4,244.9 L173.0,244.8Z" fill="#728e7d"/>
<path d="M203.3,245.6 L203.7,245.5 L204.1,245.2 L204.5,245.0 L204.9,244.7 L205.3,244.4 L205.7,244.2 L206.1,244.1 L206.5,244.1 L206.9,244.2 L207.3,244.3 L207.7,244.6 L208.1,244.9 L208.5,245.2 L208.9,245.5 L209.3,245.7 L209.6,245.9 L210.0,246.0 L210.4,245.9 L210.8,245.8 L211.3,245.6 L211.7,245.3 L212.1,245.0 L212.5,244.8 L212.9,244.6 L213.3,244.5 L213.7,244.4 L214.1,244.5 L214.5,244.7 L214.9,244.9 L215.3,245.2 L215.7,245.5 L216.0,245.8 L216.4,246.1 L216.8,246.2 L217.2,246.3 L217.6,246.3 L218.0,246.1 L218.4,245.9 L218.9,245.7 L219.3,245.4 L219.7,245.1 L220.1,244.9 L220.5,244.8 L220.9,244.8 L221.3,244.8 L221.7,245.0 L222.1,245.2 L222.5,245.5 L222.8,245.9 L223.2,246.1 L223.6,246.4 L224.0,246.6 L224.4,246.6 L224.8,246.6 L225.2,246.5 L225.6,246.3 L226.0,246.0 L226.4,245.7 L226.9,245.5 L227.3,245.3 L227.7,245.1 L228.1,245.1 L228.5,245.2 L228.9,245.3 L229.2,245.6 L229.6,245.9 L230.0,246.2 L230.4,246.5 L230.8,246.7 L231.2,246.9 L231.6,247.0 L232.0,246.9 L232.4,246.8 L232.8,246.6 L233.2,246.3 L233.6,246.1 L234.0,245.8 L234.4,245.6 L234.9,245.5 L235.3,245.4 L235.6,245.5 L236.0,245.7 L236.4,245.9 L236.8,246.2 L237.2,246.5 L237.6,246.8 L238.0,247.0 L238.4,247.2 L238.8,247.3 L239.2,247.3 L239.6,247.1 L240.0,246.9 L240.4,246.7 L240.8,246.4 L241.2,246.2 L241.6,246.0 L242.0,245.8 L242.5,245.8 L242.9,245.9 L243.2,246.0 L243.6,246.3 L244.0,246.6 L244.4,246.9 L244.8,247.2 L245.2,247.5 L245.6,247.6 L245.9,247.7 L246.3,247.7 L246.8,247.6 L247.2,247.4 L247.6,247.1 L248.0,246.9 L248.4,246.6 L248.8,246.4 L249.2,246.3 L249.7,246.3 L250.0,246.3 L250.4,246.5 L250.8,246.7 L251.2,247.0 L251.6,247.4 L252.0,247.7 L252.4,247.9 L252.8,248.1 L253.1,248.2 L253.6,248.1 L254.0,248.0 L254.4,247.8 L254.8,247.6 L255.2,247.3 L255.6,247.0 L256.0,246.8 L256.4,246.7 L256.9,246.7 L257.2,246.8 L257.6,247.0 L258.0,247.2 L258.4,247.5 L258.8,247.8 L259.2,248.1 L259.6,248.4 L260.0,248.5 L260.3,248.6 L260.8,248.6 L261.2,248.5 L261.6,248.3 L262.0,248.0 L262.4,247.7 L262.8,247.5 L263.2,247.3 L263.7,247.2 L264.1,247.2 L264.4,247.2 L264.8,247.4 L265.2,247.7 L265.6,248.0 L266.0,248.3 L266.4,248.6 L266.8,248.8 L267.1,249.0 L267.5,249.1 L268.0,249.0 L268.4,248.9 L268.8,248.7 L269.2,248.5 L269.6,248.2 L270.0,247.9 L270.4,247.7 L270.9,247.6 L271.3,247.6 L271.6,247.7 L272.0,247.9 L272.4,248.1 L272.8,248.4 L273.2,248.7 L273.6,249.0 L274.0,249.3 L274.3,249.5 L274.7,249.5 L275.2,249.5 L275.6,249.4 L276.0,249.1 L276.4,248.9 L276.8,248.6 L277.2,248.4 L277.6,248.2 L278.1,248.1 L278.5,248.1 L278.8,248.1 L279.2,248.3 L279.6,248.6 L280.0,248.9 L280.4,249.2 L280.8,249.5 L281.2,249.7 L281.6,249.9 L282.0,250.0 L282.4,249.9 L282.8,249.8 L283.2,249.6 L283.6,249.3 L284.0,249.0 L284.4,248.8 L284.8,248.6 L285.2,248.5 L285.6,248.5 L286.0,248.6 L286.4,248.7 L286.8,249.0 L287.2,249.3 L287.6,249.6 L288.0,249.9 L288.4,250.1 L288.8,250.3 L289.2,250.4 L289.6,250.3 L290.0,250.2 L290.4,250.0 L290.8,249.7 L291.2,249.4 L291.6,249.2 L292.0,249.0 L292.4,248.9 L292.8,248.9 L293.2,249.0 L293.6,249.1 L294.0,249.4 L294.4,249.7 L294.8,250.0 L295.2,250.3 L295.6,250.6 L296.0,250.7 L296.4,250.8 L296.8,250.7 L297.2,250.6 L297.6,250.4 L298.0,250.1 L298.4,249.8 L298.8,249.6 L299.2,249.4 L299.6,249.3 L300.0,249.3 L300.4,249.4 L300.8,249.6 L301.2,249.8 L301.6,250.1 L302.0,250.4 L302.4,250.7 L302.8,251.0 L303.2,251.1 L303.6,251.2 L304.0,251.1 L304.4,251.0 L304.8,250.8 L305.2,250.5 L305.6,250.2 L306.0,250.0 L306.4,249.8 L306.8,249.7 L307.2,249.7 L307.6,249.8 L308.0,250.0 L308.4,250.2 L308.8,250.5 L309.2,250.9 L309.6,251.1 L310.0,251.4 L310.4,251.5 L310.8,251.6 L311.2,251.5 L311.6,251.4 L312.0,251.2 L312.4,250.9 L312.8,250.6 L313.2,250.4 L313.6,250.2 L314.0,250.1 L314.4,250.1 L314.8,250.2 L315.2,250.4 L315.6,250.6 L316.0,250.9 L316.4,251.3 L316.8,251.6 L317.2,251.8 L317.6,251.9 L318.0,252.0 L318.4,251.9 L318.8,251.8 L319.2,251.5 L319.6,251.3 L320.0,251.0 L320.4,250.8 L320.8,250.6 L321.2,250.5 L321.6,250.5 L322.0,250.6 L322.4,250.8 L322.8,251.0 L323.2,251.4 L323.6,251.7 L324.0,252.0 L324.4,252.2 L324.8,252.3 L325.2,252.4 L325.6,252.3 L326.0,252.2 L326.4,251.9 L326.8,251.7 L327.2,251.4 L327.6,251.2 L328.0,251.0 L328.4,250.9 L328.8,250.9 L329.2,251.0 L329.6,251.2 L330.0,251.5 L330.4,251.8 L330.8,252.1 L331.2,252.4 L331.6,252.6 L332.0,252.7 L332.4,252.8 L332.8,252.7 L333.2,252.5 L333.6,252.3 L334.0,252.0 L334.4,251.8 L334.8,251.5 L335.2,251.3 L335.6,251.2 L336.0,251.2 L336.4,251.3 L336.8,251.5 L337.2,251.8 L337.6,252.1 L338.0,252.4 L338.4,252.7 L338.8,252.9 L339.2,253.1 L339.6,253.1 L340.0,253.0 L340.4,252.9 L340.8,252.6 L341.2,252.4 L341.6,252.1 L342.0,251.8 L342.4,251.7 L342.8,251.6 L343.2,251.6 L343.6,251.7 L344.0,251.9 L344.4,252.1 L344.8,252.4 L345.2,252.8 L345.6,253.0 L346.0,253.3 L346.4,253.4 L346.8,253.4 L347.2,253.4 L347.6,253.2 L348.0,253.0 L348.4,252.7 L348.8,252.4 L349.2,252.2 L349.6,252.0 L350.0,251.9 L350.4,251.9 L350.8,252.0 L351.2,252.2 L351.6,252.5 L352.0,252.8 L352.4,253.1 L352.8,253.4 L353.2,253.6 L353.6,253.7 L354.0,253.8 L354.4,253.7 L354.8,253.5 L355.2,253.3 L355.6,253.0 L356.0,252.8 L356.4,252.5 L356.8,252.3 L357.2,252.2 L357.6,252.2 L358.0,252.4 L358.4,252.6 L358.8,252.8 L359.2,253.1 L359.6,253.4 L360.0,253.7 L360.4,253.9 L360.8,254.1 L361.2,254.1 L361.6,254.0 L362.0,253.9 L362.4,253.6 L362.8,253.4 L363.2,253.1 L363.6,252.8 L364.0,252.7 L364.4,252.6 L364.8,252.6 L365.2,252.7 L365.6,252.9 L366.0,253.2 L366.4,253.5 L366.8,253.8 L367.2,254.1 L367.6,254.3 L368.0,254.4 L368.4,254.4 L368.8,254.4 L369.2,254.2 L369.6,254.0 L370.0,253.7 L370.4,253.4 L370.8,253.2 L371.2,253.0 L371.6,252.9 L372.0,252.9 L372.4,253.0 L372.8,253.2 L373.2,253.5 L373.6,253.8 L374.0,254.1 L374.4,254.4 L374.8,254.6 L375.2,254.7 L375.6,254.8 L376.0,254.7 L376.4,254.5 L376.8,254.3 L377.2,254.0 L377.6,253.7 L378.0,253.5 L378.4,253.3 L378.8,253.2 L379.2,253.3 L379.6,253.4 L380.0,253.6 L380.4,253.8 L380.8,254.2 L381.2,254.5 L381.6,254.7 L382.0,255.0 L382.4,255.1 L382.8,255.1 L383.2,255.0 L383.6,254.9 L384.0,254.6 L384.4,254.3 L384.8,254.1 L385.2,253.8 L385.6,253.7 L386.0,253.6 L386.4,253.6 L386.8,253.7 L387.2,253.9 L387.6,254.2 L388.0,254.5 L388.4,254.8 L388.8,255.1 L389.2,255.3 L389.6,255.4 L390.0,255.4 L390.4,255.4 L390.8,255.2 L391.2,255.0 L391.6,254.7 L392.0,254.4 L392.4,254.2 L392.8,254.0 L393.3,254.0 L393.7,254.0 L394.0,254.1 L394.4,254.3 L394.8,254.6 L395.2,254.9 L395.6,255.3 L396.0,255.5 L396.4,255.8 L396.7,255.9 L397.1,255.9 L397.6,255.8 L398.0,255.7 L398.4,255.4 L398.8,255.2 L399.2,254.9 L399.6,254.7 L400.0,254.5 L400.5,254.4 L400.9,254.5 L401.2,254.6 L401.6,254.8 L402.0,255.1 L402.4,255.4 L402.8,255.7 L403.2,256.0 L403.6,256.2 L403.9,256.4 L404.3,256.4 L404.8,256.3 L405.2,256.1 L405.6,255.9 L406.0,255.6 L406.4,255.4 L406.8,255.1 L407.2,255.0 L407.7,254.9 L408.1,254.9 L408.4,255.1 L408.8,255.3 L409.2,255.6 L409.6,255.9 L410.0,256.2 L410.4,256.5 L410.8,256.7 L411.1,256.8 L411.5,256.8 L412.0,256.8 L412.4,256.6 L412.8,256.4 L413.2,256.1 L413.6,255.8 L414.0,255.6 L414.4,255.4 L414.9,255.4 L415.3,255.4 L415.6,255.6 L416.0,255.8 L416.4,256.0 L416.8,256.3 L417.2,256.6 L417.6,256.9 L418.0,257.1 L418.4,257.2 L418.8,257.2 L419.2,257.1 L419.6,256.9 L420.0,256.6 L420.4,256.3 L420.8,256.0 L421.2,255.8 L421.6,255.6 L422.0,255.5 L422.4,255.5 L422.8,255.7 L423.2,255.9 L423.6,256.1 L424.0,256.4 L424.4,256.7 L424.8,257.0 L425.2,257.2 L425.6,257.2 L426.0,257.2 L426.4,257.1 L426.8,256.9 L427.2,256.7 L427.6,256.4 L428.0,256.1 L428.4,255.9 L428.8,255.7 L429.2,255.6 L429.6,255.6 L430.0,255.7 L430.4,255.9 L430.8,256.2 L431.2,256.5 L431.6,256.8 L432.0,257.0 L432.4,257.2 L432.8,257.3 L433.2,257.3 L433.6,257.2 L434.0,257.0 L434.4,256.8 L434.8,256.5 L435.2,256.2 L435.6,255.9 L436.0,255.8 L436.4,255.7 L436.8,255.7 L437.2,255.8 L437.6,256.0 L438.0,256.3 L438.4,256.6 L438.8,256.9 L439.2,257.1 L439.6,257.3 L440.0,257.4 L440.4,257.4 L440.8,257.3 L441.2,257.1 L441.6,256.8 L442.0,256.5 L442.4,256.3 L442.8,256.0 L443.2,255.8 L443.6,255.8 L444.0,255.8 L444.4,255.9 L444.8,256.1 L445.2,256.4 L445.6,256.7 L446.0,256.9 L446.4,257.2 L446.8,257.4 L447.2,257.5 L447.6,257.5 L448.0,257.4 L448.4,257.2 L448.8,256.9 L449.2,256.6 L449.6,256.3 L450.0,256.1 L450.4,255.9 L450.8,255.8 L451.2,255.8 L451.6,256.0 L452.0,256.2 L452.4,256.4 L452.8,256.7 L453.2,257.0 L453.6,257.3 L454.0,257.5 L454.4,257.6 L454.8,257.5 L455.2,257.4 L455.6,257.2 L456.0,257.0 L456.4,256.7 L456.8,256.4 L457.2,256.2 L457.6,256.0 L458.0,255.9 L458.4,255.9 L458.8,256.0 L459.2,256.2 L459.6,256.5 L460.0,256.8 L460.4,257.1 L460.8,257.4 L461.2,257.5 L461.6,257.6 L462.0,257.6 L462.4,257.5 L462.8,257.3 L463.2,257.1 L463.6,256.8 L464.0,256.5 L464.4,256.2 L464.8,256.1 L465.2,256.0 L465.6,256.0 L466.0,256.1 L466.4,256.3 L466.8,256.6 L467.2,256.9 L467.6,257.2 L468.0,257.4 L468.4,257.6 L468.8,257.7 L469.2,257.7 L469.6,257.6 L470.0,257.4 L470.4,257.1 L470.8,256.8 L471.2,256.6 L471.6,256.3 L472.0,256.1 L472.4,256.1 L472.8,256.1 L473.2,256.2 L473.6,256.4 L474.0,256.7 L474.4,257.0 L474.8,257.3 L475.2,257.5 L475.6,257.7 L476.0,257.8 L476.4,257.8 L476.8,257.7 L477.2,257.5 L477.6,257.2 L478.0,256.9 L478.4,256.6 L478.8,256.4 L479.2,256.2 L479.6,256.1 L480.0,256.2 L480.4,256.3 L480.8,256.5 L481.2,256.7 L481.6,257.0 L482.0,257.3 L482.4,257.6 L482.8,257.8 L483.2,257.9 L483.6,257.9 L484.0,257.7 L484.4,257.5 L484.8,257.3 L485.2,257.0 L485.4,256.9 L479.6,267.3 L472.4,273.8 L458.0,281.0 L437.8,291.2 L430.0,296.5 L430.0,296.5 L429.6,296.3 L429.2,296.2 L428.8,296.2 L428.3,296.3 L427.8,296.4 L427.4,296.3 L427.1,296.2 L426.8,296.0 L426.4,295.7 L426.1,295.3 L425.8,294.9 L425.5,294.6 L425.1,294.2 L424.8,294.0 L424.4,293.8 L424.0,293.7 L423.6,293.8 L423.2,293.9 L422.7,294.0 L422.3,294.2 L421.8,294.4 L421.3,294.5 L420.9,294.6 L420.5,294.6 L420.1,294.5 L419.8,294.2 L419.4,293.9 L419.1,293.6 L418.8,293.2 L418.5,292.8 L418.1,292.5 L417.8,292.2 L417.4,292.1 L417.0,292.0 L416.6,292.0 L416.2,292.1 L415.7,292.3 L415.3,292.5 L414.8,292.6 L414.4,292.8 L413.9,292.9 L413.5,292.8 L413.1,292.7 L412.8,292.5 L412.4,292.2 L412.1,291.8 L411.8,291.5 L411.5,291.1 L411.2,290.7 L410.8,290.5 L410.4,290.3 L410.0,290.2 L409.6,290.3 L409.2,290.4 L408.7,290.5 L408.3,290.7 L407.8,290.9 L407.4,291.0 L406.9,291.1 L406.5,291.1 L406.2,291.0 L405.8,290.7 L405.5,290.4 L405.1,290.1 L404.8,289.7 L404.5,289.3 L404.2,289.0 L403.8,288.7 L403.5,288.6 L403.1,288.5 L402.6,288.5 L402.2,288.6 L401.8,288.8 L401.3,288.9 L400.8,289.1 L400.4,289.2 L399.9,289.2 L399.5,289.1 L399.2,289.0 L398.8,288.7 L398.5,288.4 L398.2,288.0 L398.0,287.6 L397.7,287.2 L397.4,286.8 L397.1,286.5 L396.7,286.3 L396.3,286.2 L395.9,286.2 L395.4,286.2 L395.0,286.4 L394.5,286.5 L394.0,286.6 L393.6,286.7 L393.1,286.7 L392.7,286.7 L392.4,286.5 L392.0,286.3 L391.7,285.9 L391.4,285.5 L391.2,285.1 L390.9,284.7 L390.6,284.4 L390.2,284.1 L389.8,283.9 L389.4,283.8 L389.0,283.8 L388.6,283.9 L388.1,284.1 L387.6,284.3 L387.2,284.5 L386.7,284.6 L386.3,284.6 L385.9,284.6 L385.5,284.5 L385.2,284.2 L384.8,283.9 L384.5,283.6 L384.2,283.2 L383.9,282.8 L383.6,282.5 L383.2,282.2 L382.8,282.1 L382.4,282.0 L382.0,282.0 L381.6,282.1 L381.1,282.3 L380.6,282.5 L380.2,282.7 L379.7,282.8 L379.3,282.8 L378.9,282.8 L378.5,282.6 L378.2,282.4 L377.8,282.1 L377.5,281.7 L377.2,281.3 L376.9,281.0 L376.6,280.6 L376.2,280.4 L375.8,280.2 L375.4,280.2 L375.0,280.2 L374.6,280.3 L374.1,280.5 L373.7,280.7 L373.2,280.9 L372.7,281.0 L372.3,281.0 L371.9,281.0 L371.5,280.8 L371.2,280.6 L370.9,280.3 L370.5,279.9 L370.2,279.5 L369.9,279.1 L369.6,278.8 L369.2,278.6 L368.9,278.4 L368.5,278.4 L368.0,278.4 L367.6,278.5 L367.1,278.7 L366.7,278.9 L366.2,279.0 L365.8,279.2 L365.3,279.2 L364.9,279.1 L364.6,279.0 L364.2,278.7 L363.9,278.4 L363.6,278.1 L363.2,277.7 L362.9,277.3 L362.6,277.0 L362.2,276.7 L361.9,276.6 L361.5,276.5 L361.0,276.6 L360.6,276.7 L360.1,276.9 L359.7,277.1 L359.2,277.2 L358.8,277.4 L358.3,277.4 L357.9,277.3 L357.6,277.2 L357.2,276.9 L356.9,276.6 L356.6,276.2 L356.3,275.8 L355.9,275.5 L355.6,275.2 L355.2,274.9 L354.9,274.8 L354.5,274.7 L354.0,274.8 L353.6,274.9 L353.1,275.1 L352.7,275.3 L352.2,275.5 L351.8,275.6 L351.3,275.6 L350.9,275.5 L350.6,275.4 L350.2,275.1 L349.9,274.8 L349.6,274.4 L349.3,274.0 L348.9,273.7 L348.6,273.4 L348.2,273.1 L347.9,273.0 L347.5,273.0 L347.0,273.0 L346.6,273.2 L346.1,273.3 L345.7,273.5 L345.2,273.7 L344.8,273.8 L344.3,273.8 L343.9,273.8 L343.6,273.6 L343.2,273.3 L342.9,273.0 L342.6,272.6 L342.3,272.2 L341.9,271.9 L341.6,271.6 L341.2,271.3 L340.9,271.2 L340.5,271.2 L340.0,271.3 L339.6,271.4 L339.1,271.6 L338.7,271.8 L338.2,271.9 L337.8,272.0 L337.3,272.0 L336.9,272.0 L336.6,271.8 L336.2,271.5 L335.9,271.2 L335.6,270.8 L335.3,270.4 L334.9,270.1 L334.6,269.8 L334.2,269.6 L333.9,269.4 L333.4,269.4 L333.0,269.5 L332.6,269.6 L332.1,269.8 L331.6,270.0 L331.2,270.2 L330.8,270.3 L330.3,270.3 L329.9,270.2 L329.6,270.0 L329.2,269.7 L328.9,269.4 L328.6,269.0 L328.3,268.6 L327.9,268.3 L327.6,268.0 L327.2,267.8 L326.9,267.7 L326.4,267.6 L326.0,267.7 L325.6,267.9 L325.1,268.0 L324.6,268.2 L324.2,268.4 L323.7,268.5 L323.3,268.5 L322.9,268.4 L322.6,268.2 L322.2,267.9 L321.9,267.6 L321.6,267.2 L321.3,266.8 L320.9,266.5 L320.6,266.2 L320.2,266.0 L319.9,265.9 L319.4,265.9 L319.0,266.0 L318.6,266.1 L318.1,266.3 L317.7,266.5 L317.3,266.7 L316.8,266.9 L316.4,266.9 L316.0,266.9 L315.6,266.8 L315.3,266.5 L314.9,266.2 L314.5,265.9 L314.1,265.6 L313.7,265.3 L313.4,265.1 L313.0,264.9 L312.6,264.9 L312.2,265.0 L311.7,265.1 L311.3,265.3 L310.9,265.6 L310.5,265.8 L310.1,266.1 L309.6,266.2 L309.2,266.3 L308.8,266.2 L308.4,266.1 L308.1,265.9 L307.7,265.6 L307.3,265.2 L306.9,264.9 L306.6,264.6 L306.2,264.4 L305.8,264.3 L305.4,264.2 L305.0,264.3 L304.5,264.5 L304.1,264.7 L303.7,265.0 L303.3,265.2 L302.8,265.4 L302.4,265.6 L302.0,265.6 L301.6,265.6 L301.2,265.4 L300.9,265.2 L300.5,264.9 L300.1,264.6 L299.7,264.2 L299.4,264.0 L299.0,263.7 L298.6,263.6 L298.2,263.6 L297.8,263.6 L297.4,263.7 L297.0,263.9 L296.5,264.2 L296.1,264.4 L295.6,264.5 L295.2,264.7 L294.8,264.7 L294.4,264.6 L294.0,264.4 L293.7,264.1 L293.3,263.8 L293.0,263.5 L292.6,263.1 L292.3,262.8 L291.9,262.6 L291.5,262.4 L291.1,262.4 L290.7,262.4 L290.3,262.6 L289.8,262.8 L289.4,263.0 L288.9,263.2 L288.5,263.4 L288.1,263.5 L287.7,263.5 L287.3,263.4 L286.9,263.2 L286.5,262.9 L286.2,262.6 L285.8,262.3 L285.5,261.9 L285.1,261.6 L284.8,261.4 L284.4,261.2 L284.0,261.2 L283.6,261.3 L283.1,261.4 L282.7,261.6 L282.3,261.8 L281.8,262.0 L281.4,262.2 L281.0,262.3 L280.6,262.3 L280.2,262.2 L279.8,262.0 L279.4,261.7 L279.1,261.4 L278.7,261.1 L278.4,260.7 L278.0,260.4 L277.6,260.2 L277.3,260.0 L276.9,260.0 L276.4,260.1 L276.0,260.2 L275.6,260.4 L275.1,260.7 L274.7,260.9 L274.3,261.0 L273.8,261.1 L273.4,261.1 L273.0,261.0 L272.7,260.8 L272.3,260.5 L271.9,260.2 L271.6,259.9 L271.3,259.5 L270.9,259.2 L270.5,259.0 L270.1,258.9 L269.7,258.9 L269.3,259.0 L268.8,259.1 L268.4,259.4 L268.0,259.6 L267.6,259.9 L267.1,260.1 L266.7,260.2 L266.3,260.2 L265.9,260.1 L265.5,260.0 L265.2,259.7 L264.8,259.4 L264.4,259.1 L264.0,258.8 L263.7,258.5 L263.3,258.3 L262.9,258.2 L262.5,258.2 L262.1,258.3 L261.6,258.5 L261.2,258.8 L260.8,259.0 L260.4,259.3 L259.9,259.4 L259.5,259.6 L259.1,259.6 L258.7,259.5 L258.3,259.3 L258.0,259.0 L257.6,258.7 L257.2,258.4 L256.8,258.1 L256.5,257.8 L256.1,257.6 L255.7,257.6 L255.3,257.6 L254.9,257.7 L254.4,257.9 L254.0,258.1 L253.6,258.4 L253.2,258.6 L252.7,258.8 L252.3,258.9 L251.9,258.9 L251.5,258.8 L251.1,258.6 L250.8,258.4 L250.4,258.1 L250.0,257.7 L249.6,257.4 L249.3,257.2 L248.9,257.0 L248.5,256.9 L248.1,256.9 L247.7,257.1 L247.2,257.3 L246.8,257.5 L246.4,257.8 L246.0,258.0 L245.5,258.2 L245.1,258.3 L244.7,258.3 L244.3,258.2 L243.9,258.0 L243.6,257.7 L243.2,257.4 L242.8,257.1 L242.4,256.8 L242.1,256.5 L241.7,256.3 L241.3,256.3 L240.9,256.3 L240.5,256.4 L240.0,256.6 L239.6,256.9 L239.2,257.1 L238.7,257.3 L238.3,257.5 L237.9,257.5 L237.5,257.5 L237.1,257.4 L236.7,257.2 L236.4,256.9 L236.0,256.5 L235.6,256.2 L235.3,255.9 L234.9,255.6 L234.5,255.4 L234.1,255.4 L233.7,255.4 L233.3,255.5 L232.9,255.7 L232.4,255.9 L232.0,256.2 L231.6,256.4 L231.1,256.5 L230.7,256.6 L230.3,256.6 L229.9,256.4 L229.6,256.2 L229.2,255.9 L228.8,255.6 L228.5,255.2 L228.1,254.9 L227.7,254.6 L227.4,254.5 L227.0,254.4 L226.6,254.4 L226.1,254.6 L225.7,254.8 L225.3,255.0 L224.8,255.2 L224.4,255.4 L224.0,255.6 L223.6,255.6 L223.2,255.6 L222.8,255.5 L222.4,255.2 L222.0,254.9 L221.7,254.6 L221.3,254.2 L220.9,253.9 L220.6,253.7 L220.2,253.5 L219.8,253.5 L219.4,253.5 L219.0,253.6 L218.5,253.8 L218.1,254.1 L217.7,254.3 L217.2,254.5 L216.8,254.6 L216.4,254.7 L216.0,254.5 L215.6,254.2 L215.3,253.9 L214.9,253.7 L214.5,253.6 L209.0,249.5Z" fill="#e1ea55"/>
<path d="M214.5,253.6 L214.9,253.7 L215.3,253.9 L215.6,254.2 L216.0,254.5 L216.4,254.7 L216.8,254.6 L217.2,254.5 L217.7,254.3 L218.1,254.1 L218.5,253.8 L219.0,253.6 L219.4,253.5 L219.8,253.5 L220.2,253.5 L220.6,253.7 L220.9,253.9 L221.3,254.2 L221.7,254.6 L222.0,254.9 L222.4,255.2 L222.8,255.5 L223.2,255.6 L223.6,255.6 L224.0,255.6 L224.4,255.4 L224.8,255.2 L225.3,255.0 L225.7,254.8 L226.1,254.6 L226.6,254.4 L227.0,254.4 L227.4,254.5 L227.7,254.6 L228.1,254.9 L228.5,255.2 L228.8,255.6 L229.2,255.9 L229.6,256.2 L229.9,256.4 L230.3,256.6 L230.7,256.6 L231.1,256.5 L231.6,256.4 L232.0,256.2 L232.4,255.9 L232.9,255.7 L233.3,255.5 L233.7,255.4 L234.1,255.4 L234.5,255.4 L234.9,255.6 L235.3,255.9 L235.6,256.2 L236.0,256.5 L236.4,256.9 L236.7,257.2 L237.1,257.4 L237.5,257.5 L237.9,257.5 L238.3,257.5 L238.7,257.3 L239.2,257.1 L239.6,256.9 L240.0,256.6 L240.5,256.4 L240.9,256.3 L241.3,256.3 L241.7,256.3 L242.1,256.5 L242.4,256.8 L242.8,257.1 L243.2,257.4 L243.6,257.7 L243.9,258.0 L244.3,258.2 L244.7,258.3 L245.1,258.3 L245.5,258.2 L246.0,258.0 L246.4,257.8 L246.8,257.5 L247.2,257.3 L247.7,257.1 L248.1,256.9 L248.5,256.9 L248.9,257.0 L249.3,257.2 L249.6,257.4 L250.0,257.7 L250.4,258.1 L250.8,258.4 L251.1,258.6 L251.5,258.8 L251.9,258.9 L252.3,258.9 L252.7,258.8 L253.2,258.6 L253.6,258.4 L254.0,258.1 L254.4,257.9 L254.9,257.7 L255.3,257.6 L255.7,257.6 L256.1,257.6 L256.5,257.8 L256.8,258.1 L257.2,258.4 L257.6,258.7 L258.0,259.0 L258.3,259.3 L258.7,259.5 L259.1,259.6 L259.5,259.6 L259.9,259.4 L260.4,259.3 L260.8,259.0 L261.2,258.8 L261.6,258.5 L262.1,258.3 L262.5,258.2 L262.9,258.2 L263.3,258.3 L263.7,258.5 L264.0,258.8 L264.4,259.1 L264.8,259.4 L265.2,259.7 L265.5,260.0 L265.9,260.1 L266.3,260.2 L266.7,260.2 L267.1,260.1 L267.6,259.9 L268.0,259.6 L268.4,259.4 L268.8,259.1 L269.3,259.0 L269.7,258.9 L270.1,258.9 L270.5,259.0 L270.9,259.2 L271.3,259.5 L271.6,259.9 L271.9,260.2 L272.3,260.5 L272.7,260.8 L273.0,261.0 L273.4,261.1 L273.8,261.1 L274.3,261.0 L274.7,260.9 L275.1,260.7 L275.6,260.4 L276.0,260.2 L276.4,260.1 L276.9,260.0 L277.3,260.0 L277.6,260.2 L278.0,260.4 L278.4,260.7 L278.7,261.1 L279.1,261.4 L279.4,261.7 L279.8,262.0 L280.2,262.2 L280.6,262.3 L281.0,262.3 L281.4,262.2 L281.8,262.0 L282.3,261.8 L282.7,261.6 L283.1,261.4 L283.6,261.3 L284.0,261.2 L284.4,261.2 L284.8,261.4 L285.1,261.6 L285.5,261.9 L285.8,262.3 L286.2,262.6 L286.5,262.9 L286.9,263.2 L287.3,263.4 L287.7,263.5 L288.1,263.5 L288.5,263.4 L288.9,263.2 L289.4,263.0 L289.8,262.8 L290.3,262.6 L290.7,262.4 L291.1,262.4 L291.5,262.4 L291.9,262.6 L292.3,262.8 L292.6,263.1 L293.0,263.5 L293.3,263.8 L293.7,264.1 L294.0,264.4 L294.4,264.6 L294.8,264.7 L295.2,264.7 L295.6,264.5 L296.1,264.4 L296.5,264.2 L297.0,263.9 L297.4,263.7 L297.8,263.6 L298.2,263.6 L298.6,263.6 L299.0,263.7 L299.4,264.0 L299.7,264.2 L300.1,264.6 L300.5,264.9 L300.9,265.2 L301.2,265.4 L301.6,265.6 L302.0,265.6 L302.4,265.6 L302.8,265.4 L303.3,265.2 L303.7,265.0 L304.1,264.7 L304.5,264.5 L305.0,264.3 L305.4,264.2 L305.8,264.3 L306.2,264.4 L306.6,264.6 L306.9,264.9 L307.3,265.2 L307.7,265.6 L308.0,265.8 L308.0,264.9 L307.6,265.0 L307.2,265.1 L306.8,265.0 L306.4,264.8 L306.0,264.5 L305.6,264.3 L305.2,264.2 L304.8,264.2 L304.4,264.3 L304.0,264.5 L303.6,264.7 L303.2,265.0 L302.8,265.3 L302.4,265.6 L302.0,265.8 L301.6,265.9 L301.2,266.0 L300.8,265.9 L300.4,265.8 L300.0,265.6 L299.6,265.3 L299.2,265.0 L298.8,264.8 L298.4,264.6 L298.0,264.5 L297.6,264.5 L297.2,264.6 L296.8,264.8 L296.4,265.0 L296.0,265.3 L295.6,265.6 L295.2,265.8 L294.8,266.1 L294.4,266.2 L294.0,266.2 L293.6,266.2 L293.2,266.0 L292.8,265.8 L292.4,265.6 L292.0,265.3 L291.6,265.1 L291.2,264.9 L290.8,264.8 L290.4,264.8 L290.0,264.9 L289.6,265.0 L289.2,265.3 L288.8,265.5 L288.4,265.8 L288.0,266.1 L287.6,266.3 L287.2,266.4 L286.8,266.5 L286.4,266.4 L286.0,266.2 L285.6,266.0 L285.2,265.8 L284.8,265.5 L284.4,265.3 L284.0,265.1 L283.6,265.0 L283.2,264.9 L282.8,265.0 L282.4,265.2 L282.0,265.4 L281.6,265.7 L281.2,266.0 L280.8,266.2 L280.4,266.4 L280.0,266.6 L279.6,266.6 L279.2,266.5 L278.8,266.4 L278.4,266.2 L278.0,265.9 L277.6,265.6 L277.2,265.4 L276.8,265.2 L276.4,265.1 L276.0,265.1 L275.6,265.2 L275.2,265.3 L274.8,265.6 L274.4,265.8 L274.0,266.1 L273.6,266.4 L273.2,266.6 L272.8,266.7 L272.4,266.7 L272.0,266.7 L271.6,266.5 L271.2,266.3 L270.8,266.1 L270.4,265.8 L270.0,265.5 L269.6,265.3 L269.2,265.2 L268.8,265.2 L268.4,265.2 L268.0,265.4 L267.6,265.6 L267.2,265.9 L266.8,266.1 L266.4,266.4 L266.0,266.6 L265.6,266.7 L265.2,266.7 L264.8,266.6 L264.4,266.5 L264.0,266.2 L263.6,265.9 L263.2,265.7 L262.8,265.4 L262.4,265.2 L262.0,265.1 L261.6,265.0 L261.2,265.1 L260.8,265.2 L260.4,265.5 L260.0,265.7 L259.6,266.0 L259.2,266.2 L258.8,266.4 L258.4,266.5 L258.0,266.6 L257.6,266.5 L257.2,266.3 L256.8,266.1 L256.4,265.8 L256.0,265.5 L255.6,265.3 L255.2,265.0 L254.8,264.9 L254.4,264.9 L254.0,265.0 L253.6,265.1 L253.2,265.3 L252.8,265.6 L252.4,265.9 L252.0,266.1 L251.6,266.3 L251.2,266.4 L250.8,266.4 L250.4,266.3 L250.0,266.2 L249.6,265.9 L249.2,265.7 L248.8,265.4 L248.4,265.2 L248.0,265.0 L247.6,264.8 L247.2,264.8 L246.8,264.9 L246.4,265.1 L246.0,265.3 L245.6,265.6 L245.2,265.9 L244.8,266.1 L244.4,266.3 L244.0,266.4 L243.6,266.5 L243.2,266.4 L242.8,266.2 L242.4,266.0 L242.0,265.7 L241.6,265.4 L241.2,265.2 L240.8,265.0 L240.4,264.9 L239.9,264.9 L239.5,265.0 L239.1,265.2 L238.7,265.4 L238.3,265.7 L237.9,265.9 L237.5,266.2 L237.1,266.4 L236.7,266.5 L236.3,266.5 L235.9,266.4 L235.5,266.3 L235.1,266.0 L234.7,265.8 L234.3,265.5 L233.9,265.2 L233.5,265.1 L233.1,265.0 L232.7,265.0 L232.3,265.1 L231.9,265.2 L231.5,265.5 L231.1,265.8 L230.7,266.0 L230.3,266.3 L229.9,266.5 L229.5,266.6 L229.1,266.4 L228.7,266.2 L228.3,266.0 L227.9,265.9 L227.5,265.8 L217.8,256.7Z" fill="#b7a898"/>
<path d="M227.5,265.8 L227.9,265.9 L228.3,266.0 L228.7,266.2 L229.1,266.4 L229.5,266.6 L229.9,266.5 L230.3,266.3 L230.7,266.0 L231.1,265.8 L231.5,265.5 L231.9,265.2 L232.3,265.1 L232.7,265.0 L233.1,265.0 L233.5,265.1 L233.9,265.2 L234.3,265.5 L234.7,265.8 L235.1,266.0 L235.5,266.3 L235.9,266.4 L236.3,266.5 L236.7,266.5 L237.1,266.4 L237.5,266.2 L237.9,265.9 L238.3,265.7 L238.7,265.4 L239.1,265.2 L239.5,265.0 L239.9,264.9 L240.4,264.9 L240.8,265.0 L241.2,265.2 L241.6,265.4 L242.0,265.7 L242.4,266.0 L242.8,266.2 L243.2,266.4 L243.6,266.5 L244.0,266.4 L244.4,266.3 L244.8,266.1 L245.2,265.9 L245.6,265.6 L246.0,265.3 L246.4,265.1 L246.8,264.9 L247.2,264.8 L247.6,264.8 L248.0,265.0 L248.4,265.2 L248.8,265.4 L249.2,265.7 L249.6,265.9 L250.0,266.2 L250.4,266.3 L250.8,266.4 L251.2,266.4 L251.6,266.3 L252.0,266.1 L252.4,265.9 L252.8,265.6 L253.2,265.3 L253.6,265.1 L254.0,265.0 L254.4,264.9 L254.8,264.9 L255.2,265.0 L255.6,265.3 L256.0,265.5 L256.4,265.8 L256.8,266.1 L257.2,266.3 L257.6,266.5 L258.0,266.6 L258.4,266.5 L258.8,266.4 L259.2,266.2 L259.6,266.0 L260.0,265.7 L260.4,265.5 L260.8,265.2 L261.2,265.1 L261.6,265.0 L262.0,265.1 L262.4,265.2 L262.8,265.4 L263.2,265.7 L263.6,265.9 L264.0,266.2 L264.4,266.5 L264.8,266.6 L265.2,266.7 L265.6,266.7 L266.0,266.6 L266.4,266.4 L266.8,266.1 L267.2,265.9 L267.6,265.6 L268.0,265.4 L268.4,265.2 L268.8,265.2 L269.2,265.2 L269.6,265.3 L270.0,265.5 L270.4,265.8 L270.8,266.1 L271.2,266.3 L271.6,266.5 L272.0,266.7 L272.4,266.7 L272.8,266.7 L273.2,266.6 L273.6,266.4 L274.0,266.1 L274.4,265.8 L274.8,265.6 L275.2,265.3 L275.6,265.2 L276.0,265.1 L276.4,265.1 L276.8,265.2 L277.2,265.4 L277.6,265.6 L278.0,265.9 L278.4,266.2 L278.8,266.4 L279.2,266.5 L279.6,266.6 L280.0,266.6 L280.4,266.4 L280.8,266.2 L281.2,266.0 L281.6,265.7 L282.0,265.4 L282.4,265.2 L282.8,265.0 L283.2,264.9 L283.6,265.0 L284.0,265.1 L284.4,265.3 L284.8,265.5 L285.2,265.8 L285.6,266.0 L286.0,266.2 L286.4,266.4 L286.8,266.5 L287.2,266.4 L287.6,266.3 L288.0,266.1 L288.4,265.8 L288.8,265.5 L289.2,265.3 L289.6,265.0 L290.0,264.9 L290.4,264.8 L290.8,264.8 L291.2,264.9 L291.6,265.1 L292.0,265.3 L292.4,265.6 L292.8,265.8 L293.2,266.0 L293.6,266.2 L294.0,266.2 L294.4,266.2 L294.8,266.1 L295.2,265.8 L295.6,265.6 L296.0,265.3 L296.4,265.0 L296.8,264.8 L297.2,264.6 L297.6,264.5 L298.0,264.5 L298.4,264.6 L298.8,264.8 L299.2,265.0 L299.6,265.3 L300.0,265.6 L300.4,265.8 L300.8,265.9 L301.2,266.0 L301.6,265.9 L302.0,265.8 L302.4,265.6 L302.8,265.3 L303.2,265.0 L303.6,264.7 L304.0,264.5 L304.4,264.3 L304.8,264.2 L305.2,264.2 L305.6,264.3 L306.0,264.5 L306.4,264.8 L306.8,265.0 L307.2,265.1 L307.6,265.0 L308.0,264.9 L308.0,265.8 L308.1,265.9 L308.4,266.1 L308.8,266.2 L309.2,266.3 L309.6,266.2 L310.1,266.1 L310.5,265.8 L310.9,265.6 L311.3,265.3 L311.7,265.1 L312.2,265.0 L312.6,264.9 L313.0,264.9 L313.4,265.1 L313.7,265.3 L314.1,265.6 L314.5,265.9 L314.9,266.2 L315.3,266.5 L315.6,266.8 L316.0,266.9 L316.4,266.9 L316.8,266.9 L317.3,266.7 L317.7,266.5 L318.1,266.3 L318.6,266.1 L319.0,266.0 L319.4,265.9 L319.9,265.9 L320.2,266.0 L320.6,266.2 L320.9,266.5 L321.3,266.8 L321.6,267.2 L321.9,267.6 L322.2,267.9 L322.6,268.2 L322.9,268.4 L323.3,268.5 L323.7,268.5 L324.2,268.4 L324.6,268.2 L325.1,268.0 L325.6,267.9 L326.0,267.7 L326.4,267.6 L326.9,267.7 L327.2,267.8 L327.6,268.0 L327.9,268.3 L328.3,268.6 L328.6,269.0 L328.9,269.4 L329.2,269.7 L329.6,270.0 L329.9,270.2 L330.3,270.3 L330.8,270.3 L331.2,270.2 L331.6,270.0 L332.1,269.8 L332.6,269.6 L333.0,269.5 L333.4,269.4 L333.9,269.4 L334.2,269.6 L334.6,269.8 L334.9,270.1 L335.3,270.4 L335.6,270.8 L335.9,271.2 L336.2,271.5 L336.6,271.8 L336.9,272.0 L337.3,272.0 L337.8,272.0 L338.2,271.9 L338.7,271.8 L339.1,271.6 L339.6,271.4 L340.0,271.3 L340.5,271.2 L340.9,271.2 L341.2,271.3 L341.6,271.6 L341.9,271.9 L342.3,272.2 L342.6,272.6 L342.9,273.0 L343.2,273.3 L343.6,273.6 L343.9,273.8 L344.3,273.8 L344.8,273.8 L345.2,273.7 L345.7,273.5 L346.1,273.3 L346.6,273.2 L347.0,273.0 L347.5,273.0 L347.9,273.0 L348.2,273.1 L348.6,273.4 L348.9,273.7 L349.3,274.0 L349.6,274.4 L349.9,274.8 L350.2,275.1 L350.6,275.4 L350.9,275.5 L351.3,275.6 L351.8,275.6 L352.2,275.5 L352.7,275.3 L353.1,275.1 L353.6,274.9 L354.0,274.8 L354.5,274.7 L354.9,274.8 L355.2,274.9 L355.6,275.2 L355.9,275.5 L356.3,275.8 L356.6,276.2 L356.9,276.6 L357.2,276.9 L357.6,277.2 L357.9,277.3 L358.3,277.4 L358.8,277.4 L359.2,277.2 L359.7,277.1 L360.1,276.9 L360.6,276.7 L361.0,276.6 L361.5,276.5 L361.9,276.6 L362.2,276.7 L362.6,277.0 L362.9,277.3 L363.2,277.7 L363.6,278.1 L363.9,278.4 L364.2,278.7 L364.6,279.0 L364.9,279.1 L365.3,279.2 L365.8,279.2 L366.2,279.0 L366.7,278.9 L367.1,278.7 L367.6,278.5 L368.0,278.4 L368.5,278.4 L368.9,278.4 L369.2,278.6 L369.6,278.8 L369.9,279.1 L370.2,279.5 L370.5,279.9 L370.9,280.3 L371.2,280.6 L371.5,280.8 L371.9,281.0 L372.3,281.0 L372.7,281.0 L373.2,280.9 L373.7,280.7 L374.1,280.5 L374.6,280.3 L375.0,280.2 L375.4,280.2 L375.8,280.2 L376.2,280.4 L376.6,280.6 L376.9,281.0 L377.2,281.3 L377.5,281.7 L377.8,282.1 L378.2,282.4 L378.5,282.6 L378.9,282.8 L379.3,282.8 L379.7,282.8 L380.2,282.7 L380.6,282.5 L381.1,282.3 L381.6,282.1 L382.0,282.0 L382.4,282.0 L382.8,282.1 L383.2,282.2 L383.6,282.5 L383.9,282.8 L384.2,283.2 L384.5,283.6 L384.8,283.9 L385.2,284.2 L385.5,284.5 L385.9,284.6 L386.3,284.6 L386.7,284.6 L387.2,284.5 L387.6,284.3 L388.1,284.1 L388.6,283.9 L389.0,283.8 L389.4,283.8 L389.8,283.9 L390.2,284.1 L390.6,284.4 L390.9,284.7 L391.2,285.1 L391.4,285.5 L391.7,285.9 L392.0,286.3 L392.4,286.5 L392.7,286.7 L393.1,286.7 L393.6,286.7 L394.0,286.6 L394.5,286.5 L395.0,286.4 L395.4,286.2 L395.9,286.2 L396.3,286.2 L396.7,286.3 L397.1,286.5 L397.4,286.8 L397.7,287.2 L398.0,287.6 L398.2,288.0 L398.5,288.4 L398.8,288.7 L399.2,289.0 L399.5,289.1 L399.9,289.2 L400.4,289.2 L400.8,289.1 L401.3,288.9 L401.8,288.8 L402.2,288.6 L402.6,288.5 L403.1,288.5 L403.5,288.6 L403.8,288.7 L404.2,289.0 L404.5,289.3 L404.8,289.7 L405.1,290.1 L405.5,290.4 L405.8,290.7 L406.2,291.0 L406.5,291.1 L406.9,291.1 L407.4,291.0 L407.8,290.9 L408.3,290.7 L408.7,290.5 L409.2,290.4 L409.6,290.3 L410.0,290.2 L410.4,290.3 L410.8,290.5 L411.2,290.7 L411.5,291.1 L411.8,291.5 L412.1,291.8 L412.4,292.2 L412.8,292.5 L413.1,292.7 L413.5,292.8 L413.9,292.9 L414.4,292.8 L414.8,292.6 L415.3,292.5 L415.7,292.3 L416.2,292.1 L416.6,292.0 L417.0,292.0 L417.4,292.1 L417.8,292.2 L418.1,292.5 L418.5,292.8 L418.8,293.2 L419.1,293.6 L419.4,293.9 L419.8,294.2 L420.1,294.5 L420.5,294.6 L420.9,294.6 L421.3,294.5 L421.8,294.4 L422.3,294.2 L422.7,294.0 L423.2,293.9 L423.6,293.8 L424.0,293.7 L424.4,293.8 L424.8,294.0 L425.1,294.2 L425.5,294.6 L425.8,294.9 L426.1,295.3 L426.4,295.7 L426.8,296.0 L427.1,296.2 L427.4,296.3 L427.8,296.4 L428.3,296.3 L428.8,296.2 L429.2,296.2 L429.6,296.3 L430.0,296.5 L420.4,299.8 L419.0,301.3 L418.6,301.2 L418.2,301.2 L417.8,301.3 L417.3,301.4 L416.9,301.6 L416.5,301.5 L416.1,301.4 L415.8,301.2 L415.4,300.8 L415.1,300.5 L414.8,300.1 L414.5,299.7 L414.2,299.4 L413.8,299.2 L413.4,299.0 L413.0,299.0 L412.6,299.0 L412.2,299.1 L411.7,299.3 L411.3,299.4 L410.8,299.6 L410.4,299.8 L410.0,299.8 L409.6,299.8 L409.2,299.6 L408.8,299.4 L408.5,299.1 L408.2,298.8 L407.9,298.4 L407.6,298.0 L407.2,297.7 L406.9,297.4 L406.5,297.3 L406.1,297.2 L405.7,297.2 L405.3,297.3 L404.8,297.5 L404.4,297.6 L403.9,297.8 L403.5,298.0 L403.0,298.0 L402.6,298.0 L402.3,297.9 L401.9,297.7 L401.6,297.4 L401.2,297.0 L400.9,296.6 L400.6,296.2 L400.3,295.9 L400.0,295.6 L399.6,295.4 L399.2,295.3 L398.8,295.4 L398.3,295.4 L397.9,295.6 L397.4,295.8 L396.9,295.9 L396.5,296.1 L396.0,296.1 L395.6,296.1 L395.2,295.9 L394.9,295.7 L394.6,295.4 L394.2,295.0 L393.9,294.6 L393.6,294.2 L393.3,293.9 L392.9,293.6 L392.6,293.4 L392.2,293.4 L391.7,293.4 L391.3,293.5 L390.8,293.7 L390.3,293.9 L389.9,294.0 L389.5,294.2 L389.1,294.3 L388.7,294.3 L388.3,294.1 L387.9,293.9 L387.6,293.6 L387.2,293.3 L386.9,293.0 L386.5,292.6 L386.2,292.3 L385.8,292.1 L385.4,292.0 L385.0,292.0 L384.6,292.1 L384.2,292.3 L383.7,292.5 L383.3,292.7 L382.9,292.9 L382.4,293.1 L382.0,293.2 L381.6,293.2 L381.2,293.1 L380.9,292.9 L380.5,292.6 L380.1,292.2 L379.8,291.9 L379.5,291.6 L379.1,291.3 L378.7,291.0 L378.3,290.9 L377.9,290.9 L377.5,291.0 L377.1,291.1 L376.7,291.3 L376.2,291.6 L375.8,291.8 L375.4,291.9 L374.9,292.0 L374.5,292.1 L374.2,292.0 L373.8,291.8 L373.4,291.5 L373.1,291.2 L372.7,290.8 L372.4,290.5 L372.0,290.2 L371.7,290.0 L371.3,289.8 L370.9,289.8 L370.5,289.9 L370.0,290.0 L369.6,290.2 L369.2,290.4 L368.7,290.6 L368.3,290.8 L367.9,290.9 L367.5,290.9 L367.1,290.9 L366.7,290.7 L366.3,290.4 L366.0,290.1 L365.6,289.8 L365.3,289.4 L364.9,289.1 L364.6,288.9 L364.2,288.7 L363.8,288.7 L363.4,288.7 L363.0,288.9 L362.5,289.1 L362.1,289.3 L361.7,289.5 L361.2,289.7 L360.8,289.8 L360.4,289.8 L360.0,289.8 L359.6,289.6 L359.3,289.3 L358.9,289.0 L358.6,288.7 L358.2,288.3 L357.9,288.0 L357.5,287.8 L357.1,287.6 L356.7,287.6 L356.3,287.6 L355.9,287.7 L355.5,287.9 L355.0,288.1 L354.6,288.4 L354.1,288.5 L353.7,288.6 L353.3,288.7 L352.9,288.6 L352.5,288.4 L352.2,288.2 L351.8,287.8 L351.5,287.5 L351.1,287.1 L350.8,286.8 L350.4,286.5 L350.0,286.4 L349.6,286.3 L349.2,286.4 L348.8,286.5 L348.4,286.7 L347.9,286.9 L347.5,287.1 L347.0,287.3 L346.6,287.4 L346.2,287.4 L345.8,287.3 L345.4,287.2 L345.1,286.9 L344.7,286.6 L344.4,286.2 L344.0,285.8 L343.7,285.5 L343.3,285.3 L342.9,285.1 L342.5,285.1 L342.1,285.1 L341.7,285.2 L341.3,285.4 L340.8,285.6 L340.4,285.9 L339.9,286.0 L339.5,286.1 L339.1,286.2 L338.7,286.1 L338.3,285.9 L338.0,285.6 L337.6,285.3 L337.3,284.9 L336.9,284.6 L336.6,284.3 L336.2,284.0 L335.8,283.9 L335.4,283.8 L335.0,283.9 L334.6,284.0 L334.2,284.2 L333.7,284.4 L333.3,284.6 L332.8,284.8 L332.4,284.9 L332.0,284.9 L331.6,284.8 L331.2,284.6 L330.9,284.4 L330.5,284.0 L330.2,283.7 L329.8,283.3 L329.5,283.0 L329.1,282.8 L328.7,282.6 L328.3,282.6 L327.9,282.6 L327.4,282.8 L327.0,283.0 L326.6,283.3 L326.2,283.5 L325.8,283.7 L325.3,283.9 L324.9,283.9 L324.5,283.9 L324.1,283.7 L323.8,283.5 L323.4,283.2 L323.0,282.9 L322.6,282.6 L322.2,282.3 L321.8,282.1 L321.4,282.0 L321.0,282.0 L320.6,282.1 L320.2,282.3 L319.8,282.5 L319.4,282.8 L318.9,283.0 L318.5,283.2 L318.1,283.4 L317.7,283.4 L317.3,283.4 L316.9,283.2 L316.5,282.9 L316.1,282.6 L315.8,282.3 L315.4,282.0 L315.0,281.7 L314.6,281.6 L314.2,281.5 L313.8,281.5 L313.4,281.6 L313.0,281.8 L312.6,282.0 L312.1,282.3 L311.7,282.5 L311.3,282.7 L310.9,282.9 L310.5,282.9 L310.1,282.8 L309.7,282.6 L309.3,282.4 L308.9,282.1 L308.5,281.8 L308.2,281.5 L307.8,281.2 L307.4,281.0 L307.0,280.9 L306.6,281.0 L306.2,281.1 L305.8,281.3 L305.3,281.5 L304.9,281.8 L304.5,282.0 L304.1,282.2 L303.7,282.4 L303.3,282.4 L302.9,282.3 L302.5,282.1 L302.1,281.8 L301.7,281.5 L301.3,281.2 L300.9,280.9 L300.6,280.6 L300.2,280.5 L299.8,280.4 L299.4,280.4 L298.9,280.6 L298.5,280.8 L298.1,281.1 L297.7,281.4 L297.3,281.7 L296.9,282.0 L296.5,282.1 L296.1,282.2 L295.7,282.1 L295.3,282.0 L294.9,281.8 L294.5,281.5 L294.1,281.2 L293.7,281.0 L293.2,280.8 L292.8,280.7 L292.4,280.7 L292.0,280.8 L291.6,280.9 L291.3,281.2 L290.9,281.5 L290.5,281.8 L290.1,282.1 L289.7,282.3 L289.3,282.5 L288.9,282.5 L288.5,282.5 L288.1,282.3 L287.7,282.1 L287.3,281.8 L286.8,281.6 L286.4,281.3 L286.0,281.1 L285.6,281.0 L285.2,281.0 L284.8,281.1 L284.4,281.3 L284.0,281.6 L283.6,281.9 L283.3,282.2 L282.9,282.5 L282.5,282.7 L282.1,282.8 L281.7,282.9 L281.3,282.8 L280.9,282.7 L280.5,282.4 L280.0,282.2 L279.6,281.9 L279.2,281.6 L278.8,281.5 L278.4,281.4 L278.0,281.4 L277.6,281.5 L277.2,281.7 L276.8,281.9 L276.4,282.3 L276.0,282.6 L275.6,282.8 L275.3,283.1 L274.9,283.2 L274.5,283.2 L274.1,283.2 L273.6,283.0 L273.2,282.8 L272.8,282.5 L272.4,282.2 L272.0,282.0 L271.6,281.8 L271.2,281.7 L270.8,281.7 L270.4,281.8 L270.0,282.0 L269.6,282.3 L269.2,282.6 L268.8,282.9 L268.4,283.2 L268.0,283.4 L267.6,283.5 L267.2,283.5 L266.8,283.5 L266.4,283.3 L266.0,283.1 L265.6,282.8 L265.2,282.5 L264.8,282.3 L264.4,282.1 L264.0,282.0 L263.6,282.0 L263.2,282.1 L262.8,282.3 L262.4,282.6 L262.0,282.9 L261.6,283.2 L261.2,283.5 L260.8,283.7 L260.4,283.8 L260.0,283.8 L259.6,283.7 L259.2,283.6 L258.8,283.3 L258.4,283.1 L258.0,282.8 L257.6,282.5 L257.2,282.4 L256.8,282.3 L256.4,282.3 L256.0,282.4 L255.6,282.6 L255.2,282.9 L254.8,283.2 L254.4,283.5 L254.0,283.8 L253.6,284.0 L253.2,284.1 L252.8,284.1 L252.4,284.0 L252.0,283.8 L251.6,283.6 L251.2,283.3 L250.8,283.1 L250.4,282.8 L250.0,282.6 L249.6,282.5 L249.2,282.6 L248.8,282.7 L248.4,282.9 L248.0,283.2 L247.6,283.5 L247.2,283.8 L246.8,284.0 L246.4,284.2 L246.0,284.4 L245.6,284.2 L245.2,284.0 L244.8,283.8 L244.4,283.6 L244.0,283.6 L232.2,270.4Z" fill="#728e7d"/>
<path d="M458.7,281.0 L459.1,281.1 L459.5,281.4 L459.8,281.6 L460.2,281.9 L460.5,282.1 L460.9,282.1 L461.4,282.0 L461.8,281.9 L462.3,281.7 L462.7,281.5 L463.1,281.3 L463.6,281.2 L464.0,281.2 L464.4,281.3 L464.8,281.5 L465.1,281.7 L465.4,282.1 L465.7,282.4 L466.0,282.8 L466.4,283.1 L466.7,283.4 L467.0,283.6 L467.4,283.8 L467.8,283.8 L468.2,283.7 L468.6,283.6 L469.1,283.5 L469.5,283.3 L470.0,283.2 L470.4,283.1 L470.9,283.2 L471.2,283.3 L471.6,283.5 L471.9,283.7 L472.2,284.1 L472.5,284.5 L472.8,284.9 L473.1,285.2 L473.4,285.6 L473.8,285.8 L474.2,286.0 L474.6,286.0 L475.0,286.0 L475.5,285.9 L475.9,285.8 L476.4,285.6 L476.9,285.5 L477.3,285.5 L477.7,285.5 L478.0,285.6 L478.4,285.7 L478.7,286.0 L479.1,286.3 L479.4,286.6 L479.7,287.0 L480.0,287.3 L480.3,287.6 L480.7,287.8 L481.1,287.9 L481.4,288.0 L481.9,287.9 L482.3,287.8 L482.7,287.7 L483.2,287.4 L483.6,287.1 L484.0,286.9 L484.4,286.7 L484.8,286.7 L485.2,286.8 L485.6,286.9 L486.1,287.1 L486.5,287.5 L486.7,287.9 L487.0,288.3 L487.3,288.6 L487.7,288.9 L488.0,289.1 L488.4,289.1 L488.8,289.1 L489.3,289.1 L489.7,289.0 L490.2,288.8 L490.7,288.7 L491.1,288.7 L491.5,288.7 L491.9,288.8 L492.3,289.0 L492.6,289.2 L492.9,289.6 L493.2,289.9 L493.5,290.3 L493.8,290.7 L494.1,291.0 L494.4,291.3 L494.8,291.5 L495.1,291.6 L495.5,291.6 L496.0,291.6 L496.4,291.5 L496.9,291.4 L497.4,291.3 L497.8,291.3 L498.3,291.3 L498.7,291.4 L499.0,291.6 L499.3,291.9 L499.6,292.3 L499.9,292.7 L500.1,293.1 L500.4,293.5 L500.7,293.8 L501.0,294.1 L501.3,294.3 L501.7,294.5 L502.1,294.5 L502.6,294.5 L503.0,294.4 L503.5,294.3 L504.0,294.2 L504.4,294.2 L504.9,294.2 L505.3,294.3 L505.6,294.5 L505.9,294.8 L506.2,295.2 L506.5,295.6 L506.7,296.0 L507.0,296.4 L507.3,296.7 L507.6,297.0 L507.9,297.2 L508.3,297.3 L508.7,297.4 L509.2,297.3 L509.6,297.3 L510.1,297.2 L510.6,297.1 L511.0,297.1 L511.5,297.1 L511.8,297.2 L512.2,297.4 L512.5,297.7 L512.8,298.0 L513.0,298.4 L513.3,298.8 L513.6,299.2 L513.8,299.6 L514.1,299.9 L514.5,300.1 L514.9,300.2 L515.3,300.2 L515.7,300.2 L516.2,300.1 L516.7,300.0 L517.1,299.9 L517.6,299.9 L518.0,299.9 L518.4,300.0 L518.8,300.2 L519.1,300.5 L519.4,300.8 L519.6,301.2 L519.9,301.6 L520.1,302.0 L520.4,302.4 L520.7,302.7 L521.0,302.9 L521.4,303.0 L521.8,303.1 L522.3,303.0 L522.7,303.0 L523.2,302.9 L523.7,302.8 L524.1,302.7 L524.6,302.7 L525.0,302.8 L525.3,303.0 L525.6,303.3 L525.9,303.6 L526.2,304.0 L526.5,304.4 L526.8,304.8 L527.0,305.2 L527.4,305.5 L527.7,305.7 L528.1,305.8 L528.5,305.9 L528.9,305.8 L529.4,305.7 L529.9,305.6 L530.4,305.6 L530.8,305.5 L531.3,305.5 L531.7,305.6 L532.0,305.8 L532.3,306.1 L532.6,306.4 L532.9,306.8 L533.2,307.2 L533.4,307.6 L533.7,308.0 L534.0,308.3 L534.4,308.5 L534.8,308.6 L535.2,308.6 L535.7,308.6 L536.1,308.5 L536.6,308.4 L537.0,308.3 L537.5,308.3 L537.9,308.3 L538.3,308.4 L538.6,308.5 L539.0,308.8 L539.3,309.1 L539.5,309.5 L539.8,309.9 L540.1,310.2 L540.4,310.4 L540.8,310.6 L541.2,310.6 L541.6,310.6 L518.5,320.6 L518.5,320.6 L518.1,320.5 L517.8,320.3 L517.5,320.1 L517.2,319.7 L517.0,319.3 L516.8,318.9 L516.5,318.7 L516.1,318.5 L515.7,318.3 L515.3,318.3 L514.9,318.3 L514.4,318.4 L514.0,318.4 L513.5,318.5 L513.1,318.5 L512.6,318.4 L512.3,318.3 L511.9,318.0 L511.6,317.7 L511.4,317.3 L511.2,316.9 L510.9,316.5 L510.7,316.1 L510.4,315.7 L510.1,315.4 L509.8,315.2 L509.4,315.0 L509.0,315.0 L508.5,315.0 L508.1,315.0 L507.6,315.1 L507.1,315.1 L506.7,315.1 L506.2,315.1 L505.9,314.9 L505.5,314.7 L505.3,314.4 L505.0,314.0 L504.8,313.6 L504.5,313.1 L504.3,312.7 L504.0,312.3 L503.7,312.0 L503.4,311.8 L503.0,311.7 L502.6,311.7 L502.1,311.7 L501.6,311.7 L501.1,311.8 L500.6,311.8 L500.2,311.8 L499.8,311.7 L499.4,311.6 L499.1,311.3 L498.8,311.0 L498.6,310.6 L498.3,310.1 L498.1,309.7 L497.8,309.3 L497.6,308.9 L497.3,308.7 L496.9,308.5 L496.5,308.4 L496.1,308.3 L495.7,308.3 L495.2,308.4 L494.7,308.5 L494.3,308.5 L493.9,308.5 L493.5,308.4 L493.1,308.3 L492.8,308.0 L492.5,307.7 L492.3,307.4 L492.0,307.0 L491.8,306.6 L491.6,306.2 L491.3,305.8 L491.0,305.5 L490.7,305.3 L490.3,305.1 L489.9,305.1 L489.5,305.1 L489.0,305.1 L488.6,305.2 L488.1,305.3 L487.6,305.3 L487.2,305.3 L486.8,305.2 L486.5,305.0 L486.2,304.8 L485.9,304.5 L485.6,304.1 L485.4,303.7 L485.1,303.3 L484.9,302.9 L484.6,302.6 L484.3,302.3 L483.9,302.2 L483.5,302.1 L483.1,302.1 L482.6,302.1 L482.2,302.2 L481.7,302.3 L481.2,302.4 L480.8,302.4 L480.4,302.4 L480.1,302.2 L479.7,302.0 L479.4,301.7 L479.1,301.4 L478.9,301.0 L478.6,300.6 L478.3,300.2 L478.1,299.9 L477.7,299.6 L477.4,299.5 L477.0,299.3 L476.6,299.3 L476.2,299.4 L475.7,299.5 L475.3,299.6 L474.8,299.7 L474.3,299.8 L473.9,299.8 L473.5,299.7 L473.1,299.5 L472.8,299.2 L472.5,298.9 L472.2,298.5 L471.9,298.1 L471.6,297.7 L471.3,297.4 L470.9,297.1 L470.5,296.9 L470.1,296.9 L469.6,296.9 L469.2,297.0 L468.8,297.2 L468.3,297.4 L467.9,297.6 L467.5,297.7 L467.1,297.8 L466.7,297.7 L466.3,297.6 L466.0,297.4 L465.6,297.2 L465.3,296.8 L464.9,296.5 L464.6,296.2 L464.2,295.9 L463.9,295.7 L463.5,295.6 L463.1,295.5 L462.6,295.6 L462.2,295.8 L461.8,296.0 L461.4,296.3 L461.0,296.5 L460.6,296.8 L460.2,296.9 L459.8,297.0 L459.4,296.9 L459.0,296.8 L458.6,296.6 L458.2,296.3 L457.8,296.0 L457.4,295.7 L457.0,295.5 L456.6,295.3 L456.2,295.2 L455.8,295.3 L455.4,295.4 L455.0,295.6 L454.6,295.8 L454.2,296.1 L453.8,296.4 L453.4,296.6 L452.9,296.7 L452.5,296.8 L452.1,296.8 L451.7,296.6 L451.3,296.4 L450.9,296.1 L450.5,295.9 L450.1,295.6 L449.7,295.4 L449.3,295.2 L448.9,295.2 L448.5,295.2 L448.1,295.4 L447.6,295.6 L447.2,295.9 L446.8,296.2 L446.4,296.4 L446.0,296.6 L445.6,296.8 L445.2,296.8 L444.8,296.7 L444.4,296.6 L444.0,296.4 L443.6,296.1 L443.2,295.8 L442.8,295.6 L442.4,295.4 L442.0,295.3 L441.6,295.2 L441.2,295.3 L440.8,295.5 L440.4,295.7 L440.1,296.0 L439.7,296.2 L439.3,296.5 L438.9,296.7 L438.5,296.8 L438.1,296.9 L437.7,296.8 L437.3,296.7 L436.9,296.5 L436.5,296.2 L436.1,296.0 L435.7,295.7 L435.3,295.5 L434.9,295.4 L434.5,295.3 L434.0,295.4 L433.6,295.6 L433.2,295.8 L432.8,296.1 L432.4,296.4 L432.0,296.6 L431.6,296.8 L431.2,297.0 L430.8,296.8 L430.3,296.6 L429.9,296.4 L429.5,296.3 L429.1,296.2 L437.8,291.2Z" fill="#728e7d"/>
<path d="M485.4,256.9 L485.6,256.7 L486.0,256.5 L486.4,256.3 L486.8,256.2 L487.2,256.2 L487.6,256.4 L488.0,256.6 L488.4,256.8 L488.8,257.1 L489.2,257.4 L489.6,257.7 L490.0,257.8 L490.4,257.9 L490.8,257.9 L491.2,257.8 L491.6,257.6 L492.0,257.4 L492.4,257.1 L492.8,256.8 L493.2,256.6 L493.6,256.4 L494.0,256.3 L494.4,256.3 L494.8,256.4 L495.2,256.6 L495.6,256.9 L496.0,257.2 L496.4,257.5 L496.8,257.7 L497.2,257.9 L497.6,258.0 L498.0,258.0 L498.4,257.9 L498.8,257.7 L499.2,257.4 L499.6,257.2 L500.0,256.9 L500.4,256.6 L500.8,256.4 L501.2,256.4 L501.6,256.4 L502.0,256.5 L502.4,256.7 L502.8,256.9 L503.2,257.2 L503.6,257.5 L504.0,257.8 L504.4,258.0 L504.8,258.0 L505.2,258.0 L505.6,257.9 L506.0,257.7 L506.4,257.5 L506.8,257.2 L507.2,256.9 L507.6,256.6 L508.0,256.4 L508.4,256.4 L508.8,256.4 L509.2,256.5 L509.6,256.7 L510.0,256.9 L510.4,257.2 L510.8,257.5 L511.2,257.8 L511.6,258.0 L512.0,258.0 L512.4,258.0 L512.8,257.9 L513.2,257.7 L513.6,257.5 L514.0,257.2 L514.4,256.9 L514.8,256.6 L515.2,256.4 L515.6,256.4 L516.0,256.4 L516.4,256.5 L516.8,256.7 L517.2,256.9 L517.6,257.2 L518.0,257.5 L518.4,257.8 L518.8,258.0 L519.2,258.0 L519.6,258.0 L520.0,257.9 L520.4,257.7 L520.8,257.5 L521.2,257.2 L521.6,256.9 L522.0,256.6 L522.4,256.4 L522.8,256.4 L523.2,256.4 L523.6,256.5 L524.0,256.7 L524.4,256.9 L524.8,257.2 L525.2,257.5 L525.6,257.8 L526.0,258.0 L526.4,258.0 L526.8,258.0 L527.2,257.9 L527.6,257.7 L528.0,257.5 L528.4,257.2 L528.8,256.9 L529.2,256.6 L529.6,256.4 L530.0,256.4 L530.4,256.4 L530.8,256.5 L531.2,256.7 L531.6,256.9 L532.0,257.2 L532.4,257.5 L532.8,257.8 L533.2,258.0 L533.6,258.0 L534.0,258.0 L534.4,257.9 L534.8,257.7 L535.2,257.5 L535.6,257.2 L536.0,256.9 L536.4,256.6 L536.8,256.4 L537.2,256.4 L537.6,256.4 L538.0,256.5 L538.4,256.7 L538.8,256.9 L539.2,257.2 L539.6,257.5 L540.0,257.8 L540.4,258.0 L540.8,258.0 L541.2,258.0 L541.6,257.9 L542.0,257.7 L542.4,257.5 L542.8,257.2 L543.2,256.9 L543.6,256.6 L544.0,256.4 L544.4,256.4 L544.8,256.4 L545.2,256.5 L545.6,256.7 L546.0,256.9 L546.4,257.2 L546.8,257.5 L547.2,257.8 L547.6,258.0 L548.0,258.0 L548.4,258.0 L548.8,257.9 L549.2,257.7 L549.6,257.5 L550.0,257.2 L550.4,256.9 L550.8,256.6 L551.2,256.4 L551.6,256.4 L552.0,256.4 L552.4,256.5 L552.8,256.7 L553.2,256.9 L553.6,257.2 L554.0,257.5 L554.4,257.8 L554.8,258.0 L555.2,258.0 L555.6,258.0 L556.0,257.9 L556.4,257.7 L556.8,257.5 L557.2,257.2 L557.6,256.9 L558.0,256.6 L558.4,256.4 L558.8,256.4 L559.2,256.4 L559.6,256.5 L560.0,256.7 L560.4,256.9 L560.8,257.2 L561.2,257.5 L561.6,257.8 L562.0,258.0 L562.4,258.0 L562.8,258.0 L563.2,257.9 L563.6,257.7 L564.0,257.5 L564.4,257.2 L564.8,256.9 L565.2,256.6 L565.6,256.4 L566.0,256.4 L566.4,256.4 L566.8,256.5 L567.2,256.7 L567.6,256.9 L568.0,257.2 L568.4,257.5 L568.8,257.8 L569.2,258.0 L569.6,258.0 L570.0,258.0 L570.4,257.9 L570.8,257.7 L571.2,257.5 L571.6,257.2 L572.0,256.9 L572.4,256.6 L572.8,256.4 L573.2,256.4 L573.6,256.4 L574.0,256.5 L574.4,256.7 L574.8,256.9 L575.2,257.2 L575.6,257.5 L576.0,257.8 L576.4,258.0 L576.8,258.0 L577.2,258.0 L577.6,257.9 L578.0,257.7 L578.4,257.5 L578.8,257.2 L579.2,256.9 L579.6,256.6 L580.0,256.4 L580.4,256.4 L580.8,256.4 L581.2,256.5 L581.6,256.7 L582.0,256.9 L582.4,257.2 L582.8,257.5 L583.2,257.8 L583.6,258.0 L584.0,258.0 L584.4,258.0 L584.8,257.9 L585.2,257.7 L585.6,257.5 L586.0,257.2 L586.4,256.9 L586.8,256.6 L587.2,256.4 L587.6,256.4 L588.0,256.4 L588.4,256.5 L588.8,256.7 L589.2,256.9 L589.6,257.2 L590.0,257.5 L590.4,257.8 L590.8,258.0 L591.2,258.0 L591.6,258.0 L592.0,257.9 L592.4,257.7 L592.8,257.5 L593.2,257.2 L593.6,256.9 L594.0,256.6 L594.4,256.4 L594.8,256.4 L595.2,256.4 L595.6,256.5 L596.0,256.7 L596.4,256.9 L596.8,257.2 L597.2,257.5 L597.6,257.8 L598.0,258.0 L598.4,258.0 L598.8,258.0 L599.2,257.9 L599.6,257.7 L600.0,257.5 L600.4,257.2 L600.8,256.9 L601.2,256.6 L601.6,256.4 L602.0,256.3 L602.4,256.3 L602.8,256.4 L603.2,256.6 L603.6,256.9 L604.0,257.2 L604.4,257.5 L604.8,257.7 L605.2,257.9 L605.6,258.0 L606.0,258.0 L606.3,257.9 L606.7,257.7 L607.1,257.4 L607.5,257.1 L607.9,256.8 L608.3,256.6 L608.7,256.4 L609.1,256.3 L609.5,256.3 L609.9,256.4 L610.3,256.5 L610.7,256.8 L611.1,257.1 L611.5,257.3 L611.9,257.6 L612.3,257.8 L612.7,257.9 L613.1,257.9 L613.5,257.8 L613.9,257.7 L614.3,257.4 L614.7,257.1 L615.1,256.8 L615.4,256.6 L615.8,256.4 L616.2,256.2 L616.6,256.2 L617.0,256.3 L617.4,256.4 L617.8,256.7 L618.2,256.9 L618.6,257.2 L619.0,257.5 L619.4,257.7 L619.8,257.8 L620.2,257.9 L620.6,257.8 L621.1,257.6 L621.5,257.3 L621.8,257.0 L622.2,256.6 L622.5,256.3 L622.9,256.0 L623.2,255.8 L623.6,255.7 L624.0,255.7 L624.5,255.8 L624.9,256.0 L625.3,256.2 L625.8,256.4 L626.2,256.7 L626.6,256.8 L627.0,256.9 L627.4,256.9 L627.8,256.7 L628.1,256.5 L628.1,256.5 L614.8,267.3 L595.5,283.7 L572.4,298.1 L541.6,310.6 L541.6,310.6 L541.2,310.6 L540.8,310.6 L540.4,310.4 L540.1,310.2 L539.8,309.9 L539.5,309.5 L539.3,309.1 L539.0,308.8 L538.6,308.5 L538.3,308.4 L537.9,308.3 L537.5,308.3 L537.0,308.3 L536.6,308.4 L536.1,308.5 L535.7,308.6 L535.2,308.6 L534.8,308.6 L534.4,308.5 L534.0,308.3 L533.7,308.0 L533.4,307.6 L533.2,307.2 L532.9,306.8 L532.6,306.4 L532.3,306.1 L532.0,305.8 L531.7,305.6 L531.3,305.5 L530.8,305.5 L530.4,305.6 L529.9,305.6 L529.4,305.7 L528.9,305.8 L528.5,305.9 L528.1,305.8 L527.7,305.7 L527.4,305.5 L527.0,305.2 L526.8,304.8 L526.5,304.4 L526.2,304.0 L525.9,303.6 L525.6,303.3 L525.3,303.0 L525.0,302.8 L524.6,302.7 L524.1,302.7 L523.7,302.8 L523.2,302.9 L522.7,303.0 L522.3,303.0 L521.8,303.1 L521.4,303.0 L521.0,302.9 L520.7,302.7 L520.4,302.4 L520.1,302.0 L519.9,301.6 L519.6,301.2 L519.4,300.8 L519.1,300.5 L518.8,300.2 L518.4,300.0 L518.0,299.9 L517.6,299.9 L517.1,299.9 L516.7,300.0 L516.2,300.1 L515.7,300.2 L515.3,300.2 L514.9,300.2 L514.5,300.1 L514.1,299.9 L513.8,299.6 L513.6,299.2 L513.3,298.8 L513.0,298.4 L512.8,298.0 L512.5,297.7 L512.2,297.4 L511.8,297.2 L511.5,297.1 L511.0,297.1 L510.6,297.1 L510.1,297.2 L509.6,297.3 L509.2,297.3 L508.7,297.4 L508.3,297.3 L507.9,297.2 L507.6,297.0 L507.3,296.7 L507.0,296.4 L506.7,296.0 L506.5,295.6 L506.2,295.2 L505.9,294.8 L505.6,294.5 L505.3,294.3 L504.9,294.2 L504.4,294.2 L504.0,294.2 L503.5,294.3 L503.0,294.4 L502.6,294.5 L502.1,294.5 L501.7,294.5 L501.3,294.3 L501.0,294.1 L500.7,293.8 L500.4,293.5 L500.1,293.1 L499.9,292.7 L499.6,292.3 L499.3,291.9 L499.0,291.6 L498.7,291.4 L498.3,291.3 L497.8,291.3 L497.4,291.3 L496.9,291.4 L496.4,291.5 L496.0,291.6 L495.5,291.6 L495.1,291.6 L494.8,291.5 L494.4,291.3 L494.1,291.0 L493.8,290.7 L493.5,290.3 L493.2,289.9 L492.9,289.6 L492.6,289.2 L492.3,289.0 L491.9,288.8 L491.5,288.7 L491.1,288.7 L490.7,288.7 L490.2,288.8 L489.7,289.0 L489.3,289.1 L488.8,289.1 L488.4,289.1 L488.0,289.1 L487.7,288.9 L487.3,288.6 L487.0,288.3 L486.7,287.9 L486.5,287.5 L486.1,287.1 L485.6,286.9 L485.2,286.8 L484.8,286.7 L484.4,286.7 L484.0,286.9 L483.6,287.1 L483.2,287.4 L482.7,287.7 L482.3,287.8 L481.9,287.9 L481.4,288.0 L481.1,287.9 L480.7,287.8 L480.3,287.6 L480.0,287.3 L479.7,287.0 L479.4,286.6 L479.1,286.3 L478.7,286.0 L478.4,285.7 L478.0,285.6 L477.7,285.5 L477.3,285.5 L476.9,285.5 L476.4,285.6 L475.9,285.8 L475.5,285.9 L475.0,286.0 L474.6,286.0 L474.2,286.0 L473.8,285.8 L473.4,285.6 L473.1,285.2 L472.8,284.9 L472.5,284.5 L472.2,284.1 L471.9,283.7 L471.6,283.5 L471.2,283.3 L470.9,283.2 L470.4,283.1 L470.0,283.2 L469.5,283.3 L469.1,283.5 L468.6,283.6 L468.2,283.7 L467.8,283.8 L467.4,283.8 L467.0,283.6 L466.7,283.4 L466.4,283.1 L466.0,282.8 L465.7,282.4 L465.4,282.1 L465.1,281.7 L464.8,281.5 L464.4,281.3 L464.0,281.2 L463.6,281.2 L463.1,281.3 L462.7,281.5 L462.3,281.7 L461.8,281.9 L461.4,282.0 L460.9,282.1 L460.5,282.1 L460.2,281.9 L459.8,281.6 L459.5,281.4 L459.1,281.1 L458.7,281.0 L472.4,273.8 L479.6,267.3Z" fill="#e1ea55"/>
<path d="M656.6,273.7 L657.0,273.9 L657.3,274.1 L657.6,274.4 L658.0,274.7 L658.3,275.0 L658.7,275.0 L659.1,274.9 L659.6,274.8 L660.1,274.6 L660.5,274.5 L661.0,274.3 L661.4,274.3 L661.8,274.3 L662.2,274.5 L662.5,274.7 L662.8,275.0 L663.2,275.4 L663.5,275.8 L663.8,276.1 L664.1,276.5 L664.4,276.7 L664.8,276.9 L665.2,276.9 L665.6,276.9 L666.1,276.8 L666.5,276.6 L667.0,276.5 L667.4,276.3 L667.9,276.2 L668.3,276.2 L668.7,276.3 L669.0,276.5 L669.4,276.7 L669.7,277.1 L670.0,277.5 L670.3,277.8 L670.7,278.1 L671.0,278.4 L671.4,278.6 L671.8,278.7 L672.2,278.7 L672.6,278.6 L673.1,278.4 L673.5,278.2 L674.0,278.0 L674.4,277.8 L674.8,277.7 L675.3,277.7 L675.6,277.8 L676.0,278.0 L676.4,278.3 L676.7,278.6 L677.0,279.0 L677.4,279.3 L677.7,279.6 L678.1,279.9 L678.5,280.0 L678.9,280.0 L679.3,280.0 L679.7,279.8 L680.2,279.7 L680.6,279.5 L681.1,279.3 L681.5,279.2 L681.9,279.1 L682.3,279.1 L682.7,279.3 L683.0,279.6 L683.4,280.0 L683.7,280.2 L684.1,280.4 L684.5,280.4 L688.3,292.5 L687.4,296.5Z" fill="#e5dccb"/>
</g>
<g fill="none" stroke-linejoin="round" stroke-linecap="butt">
<path d="M107.5,29.9 L130.0,35.0 L150.0,40.0 L170.0,45.3 L190.0,50.6 L207.6,54.3" stroke="#1c1c1c" stroke-width="1.10"/>
<path d="M210.8,34.6 L247.4,67.8" stroke="#1c1c1c" stroke-width="1.10"/>
<path d="M218.4,92.5 L228.0,96.3 L239.1,99.0" stroke="#1c1c1c" stroke-width="1.10"/>
<path d="M226.0,121.5 L233.4,121.5" stroke="#1c1c1c" stroke-width="1.10"/>
<path d="M250.9,53.5 L344.6,91.5" stroke="#1c1c1c" stroke-width="1.10"/>
<path d="M239.1,97.5 L335.7,116.5" stroke="#1c1c1c" stroke-width="1.10"/>
<path d="M235.5,112.5 L294.5,133.2 L300.0,134.7" stroke="#1c1c1c" stroke-width="1.10"/>
<path d="M361.0,43.6 L361.4,43.7 L361.8,43.9 L362.1,44.0 L362.5,44.1 L363.0,44.0 L363.4,43.9 L363.8,43.9 L364.2,44.0 L364.6,44.1 L364.9,44.4 L365.3,44.6 L365.6,44.8 L366.0,44.9 L366.5,44.9 L366.9,44.8 L367.3,44.7 L367.7,44.7 L368.1,44.8 L368.5,44.9 L368.8,45.2 L369.2,45.4 L369.6,45.6 L370.0,45.7 L370.4,45.7 L370.8,45.6 L371.2,45.5 L371.6,45.5 L372.0,45.6 L372.4,45.7 L372.8,46.0 L373.1,46.2 L373.5,46.4 L373.9,46.5 L374.3,46.5 L374.7,46.4 L375.1,46.3 L375.6,46.3 L375.9,46.3 L376.3,46.5 L376.7,46.8 L377.0,47.0 L377.4,47.2 L377.8,47.3 L378.2,47.3 L378.6,47.2 L379.1,47.1 L379.5,47.1 L379.9,47.1 L380.2,47.3 L380.6,47.6 L381.0,47.8 L381.3,48.0 L381.7,48.1 L382.1,48.1 L382.6,48.0 L383.0,47.9 L383.4,47.9 L383.8,47.9 L384.2,48.1 L384.5,48.4 L384.9,48.6 L385.2,48.8 L385.6,48.9 L386.0,48.9 L386.5,48.8 L386.9,48.7 L387.3,48.7 L387.7,48.7 L388.1,48.9 L388.4,49.2 L388.8,49.4 L389.2,49.6 L389.6,49.7 L390.0,49.7 L390.4,49.6 L390.8,49.5 L391.2,49.5 L391.6,49.6 L392.0,49.8 L392.3,50.0 L392.7,50.3 L393.0,50.5 L393.4,50.6 L393.8,50.5 L394.3,50.5 L394.7,50.4 L395.1,50.4 L395.5,50.4 L395.9,50.6 L396.2,50.9 L396.6,51.1 L396.9,51.3 L397.3,51.4 L397.7,51.4 L398.1,51.3 L398.6,51.3 L399.0,51.2 L399.4,51.3 L399.7,51.5 L400.1,51.7 L400.4,52.0 L400.8,52.2 L401.2,52.3 L401.6,52.3 L402.0,52.2 L402.4,52.1 L402.9,52.1 L403.3,52.2 L403.6,52.3 L404.0,52.6 L404.3,52.8 L404.7,53.1 L405.1,53.2 L405.5,53.2 L405.9,53.1 L406.3,53.0 L406.7,53.0 L407.1,53.0 L407.5,53.2 L407.9,53.4 L408.2,53.7 L408.6,53.9 L409.0,54.0 L409.4,54.0 L409.8,54.0 L410.2,53.9 L410.6,53.8 L411.0,53.9 L411.4,54.0 L411.7,54.3 L412.1,54.5 L412.5,54.8 L412.8,54.9 L413.2,54.9 L413.7,54.9 L414.1,54.8 L414.5,54.7 L414.9,54.7 L415.3,54.9 L415.6,55.1 L416.0,55.4 L416.4,55.6 L416.8,55.7 L417.2,55.7 L417.6,55.6 L418.0,55.5 L418.4,55.4 L418.8,55.4 L419.2,55.6 L419.6,55.8 L420.0,56.0 L420.4,56.2 L420.8,56.3 L421.2,56.3 L421.6,56.2 L422.0,56.1 L422.4,56.0 L422.8,56.0 L423.2,56.2 L423.6,56.4 L424.0,56.7 L424.4,56.9 L424.8,56.9 L425.2,56.9 L425.6,56.8 L426.0,56.7 L426.4,56.6 L426.8,56.7 L427.2,56.8 L427.6,57.1 L428.0,57.3 L428.4,57.5 L428.8,57.5 L429.2,57.5 L429.6,57.4 L430.0,57.3 L430.5,57.2 L430.9,57.3 L431.2,57.6 L431.6,57.8 L431.9,58.1 L432.2,58.4 L432.6,58.5 L433.0,58.5 L433.5,58.4 L433.9,58.4 L434.3,58.4 L434.7,58.5 L435.1,58.7 L435.4,59.0 L435.7,59.3 L436.1,59.5 L436.5,59.6 L436.9,59.6 L437.3,59.6 L437.8,59.5 L438.2,59.7 L438.5,60.0 L438.7,60.3 L438.9,60.7 L439.1,61.1 L439.4,61.5 L439.7,61.7 L440.1,61.9 L440.5,62.0 L440.9,62.1 L441.3,62.3 L441.6,62.6 L441.8,62.9 L442.0,63.3 L442.2,63.7 L442.4,64.0 L442.7,64.3 L443.1,64.5 L443.5,64.6 L444.0,64.7 L444.3,64.9 L444.6,65.1 L444.9,65.5 L445.1,65.9 L445.3,66.3 L445.5,66.6 L445.8,66.9 L446.2,67.0 L446.7,67.1 L447.1,67.1 L447.5,67.3 L447.8,67.5 L448.1,67.8 L448.3,68.1 L448.6,68.5 L448.9,68.8 L449.2,69.0 L449.6,69.1 L450.1,69.1 L450.5,69.2 L450.9,69.3 L451.2,69.5 L451.5,69.8 L451.8,70.2 L452.0,70.5 L452.3,70.8 L452.7,71.0 L453.1,71.1 L453.5,71.2 L453.9,71.2 L454.3,71.2 L454.7,71.4 L455.0,71.6 L455.4,71.9 L455.7,72.2 L456.0,72.5 L456.4,72.6 L456.8,72.7 L457.2,72.6 L457.7,72.6 L458.1,72.7 L458.4,72.8 L458.8,73.1 L459.1,73.4 L459.4,73.7 L459.7,73.9 L460.1,74.1 L460.5,74.1 L460.9,74.1 L461.4,74.1 L461.8,74.1 L462.1,74.3 L462.5,74.5 L462.8,74.8 L463.1,75.2 L463.4,75.4 L463.8,75.5 L464.2,75.6 L464.6,75.6 L465.1,75.6 L465.5,75.6 L465.9,75.7 L466.2,76.0 L466.5,76.3 L466.9,76.6 L467.2,76.8 L467.6,76.8 L468.1,76.8 L468.5,76.7 L468.9,76.7 L469.4,76.7 L469.7,76.9 L470.1,77.1 L470.5,77.2 L470.9,77.3" stroke="#1c1c1c" stroke-width="1.10"/>
<path d="M439.3,46.6 L459.3,58.2 L473.8,63.3 L491.0,66.9 L501.2,66.4" stroke="#1c1c1c" stroke-width="1.10"/>
<path d="M473.8,73.2 L494.7,86.7" stroke="#1c1c1c" stroke-width="1.10"/>
<path d="M505.5,61.3 L505.8,61.5 L506.1,61.8 L506.4,62.0 L506.8,62.2 L507.2,62.3 L507.6,62.4 L508.0,62.5 L508.4,62.6 L508.7,62.9 L508.9,63.3 L509.2,63.6 L509.5,63.9 L509.8,64.2 L510.2,64.3 L510.6,64.3 L511.0,64.4 L511.5,64.5 L511.8,64.7 L512.0,65.1 L512.2,65.4 L512.4,65.8 L512.7,66.2 L513.0,66.5 L513.3,66.7 L513.7,66.8 L514.2,66.9 L514.5,67.1 L514.9,67.3 L515.1,67.6 L515.3,68.0 L515.5,68.4 L515.6,68.8 L515.8,69.1 L516.1,69.4 L516.5,69.6 L516.8,69.8 L517.2,70.1 L517.4,70.4 L517.6,70.8 L517.7,71.2 L517.7,71.6 L517.8,72.0 L518.0,72.3 L518.3,72.6 L518.7,72.9 L519.1,73.0 L519.4,73.2 L519.7,73.5 L519.9,73.8 L520.1,74.2 L520.3,74.5 L520.6,74.9 L521.0,75.1 L521.3,75.2 L521.8,75.2 L522.2,75.2 L522.6,75.3 L523.0,75.4 L523.3,75.6 L523.6,75.9 L523.9,76.2 L524.2,76.5 L524.6,76.8 L524.9,76.9 L525.4,77.0 L525.8,77.0 L526.2,77.0 L526.6,77.1 L527.0,77.3 L527.3,77.6 L527.5,78.0 L527.8,78.3 L528.1,78.6 L528.5,78.7 L528.9,78.8 L529.4,78.8 L529.8,78.9 L530.2,79.0 L530.5,79.3 L530.8,79.6 L531.0,80.0 L531.4,80.2 L531.7,80.4 L532.1,80.5 L532.5,80.7" stroke="#1c1c1c" stroke-width="1.10"/>
<path d="M526.0,61.6 L526.3,61.9 L526.6,62.2 L526.9,62.4 L527.4,62.5 L527.8,62.5 L528.2,62.8 L528.4,63.2 L528.6,63.6 L528.8,63.9 L529.2,64.1 L529.7,64.2 L530.1,64.2 L530.5,64.4 L530.8,64.7 L531.0,65.2 L531.2,65.5 L531.5,65.8 L531.9,65.9 L532.4,65.9 L532.8,66.0 L533.1,66.3 L533.3,66.7 L533.5,67.1 L533.8,67.5 L534.2,67.6 L534.7,67.6 L535.1,67.7 L535.5,67.9 L535.7,68.3 L535.9,68.7 L536.2,69.1 L536.5,69.3 L537.0,69.4 L537.4,69.4 L537.8,69.6 L538.1,69.9 L538.3,70.3 L538.5,70.7 L538.8,70.9 L539.3,71.1 L539.7,71.2 L540.0,71.4 L540.3,71.7" stroke="#1c1c1c" stroke-width="1.10"/>
<path d="M532.5,80.7 L539.1,83.7" stroke="#1c1c1c" stroke-width="1.10"/>
<path d="M561.2,65.0 L561.4,65.3 L561.6,65.7 L561.9,66.0 L562.2,66.2 L562.7,66.3 L562.9,66.6 L563.1,67.0 L563.2,67.5 L563.3,67.9 L563.5,68.2 L563.9,68.4 L564.3,68.5 L564.7,68.7 L564.9,69.0 L565.1,69.5 L565.2,69.9 L565.4,70.3 L565.7,70.5 L566.1,70.6 L566.6,70.8 L566.9,71.0 L567.1,71.3 L567.2,71.8 L567.4,72.2 L567.6,72.5 L568.0,72.7 L568.5,72.8 L568.8,73.0 L569.1,73.3 L569.3,73.7 L569.5,74.0 L569.8,74.3" stroke="#1c1c1c" stroke-width="1.10"/>
<path d="M543.9,77.1 L544.1,77.5 L544.1,77.9 L544.3,78.3 L544.7,78.5 L545.3,78.6 L545.7,78.8 L545.9,79.2 L545.9,79.7 L545.8,80.2 L545.7,80.8 L545.9,81.1 L546.3,81.4 L546.8,81.5 L547.4,81.6 L547.8,81.8 L547.9,82.2 L547.8,82.8 L547.7,83.3 L547.8,83.8 L548.0,84.1 L548.5,84.3 L549.1,84.3 L549.6,84.5 L549.9,84.7 L550.0,85.2 L549.9,85.8 L549.8,86.3 L549.9,86.7 L550.3,86.9 L550.8,87.1 L551.2,87.3 L551.5,87.6 L551.6,88.0" stroke="#1c1c1c" stroke-width="1.10"/>
<path d="M574.9,66.6 L575.1,66.9 L575.3,67.3 L575.5,67.6 L575.9,67.8 L576.3,68.0 L576.6,68.3 L576.7,68.7 L576.8,69.2 L576.9,69.6 L577.1,69.9 L577.5,70.1 L578.0,70.3 L578.3,70.5 L578.5,70.9 L578.6,71.3 L578.6,71.8 L578.8,72.2 L579.1,72.4 L579.6,72.6 L580.0,72.8 L580.3,73.1 L580.4,73.5 L580.4,73.9 L580.5,74.4 L580.8,74.7 L581.2,74.9 L581.6,75.0 L582.0,75.3 L582.2,75.6 L582.3,76.1 L582.3,76.5 L582.5,76.9 L582.9,77.1 L583.3,77.3 L583.7,77.5 L584.0,77.8 L584.1,78.2 L584.2,78.6 L584.3,79.1 L584.5,79.4 L584.9,79.5 L585.4,79.7 L585.7,79.9 L585.9,80.3 L586.0,80.7 L586.1,81.2 L586.3,81.6 L586.6,81.8 L587.0,82.0 L587.5,82.1 L587.7,82.4 L587.9,82.8 L587.9,83.3 L588.1,83.7 L588.4,84.0 L588.8,84.2 L589.2,84.4 L589.6,84.6 L589.8,84.9 L589.8,85.4 L589.9,85.8 L590.1,86.2 L590.5,86.4 L590.9,86.6 L591.3,86.8 L591.6,87.1 L591.7,87.5 L591.8,87.9 L592.0,88.3 L592.3,88.6 L592.7,88.8 L593.0,89.1 L593.2,89.4" stroke="#1c1c1c" stroke-width="1.10"/>
<path d="M566.0,83.1 L582.9,101.2" stroke="#1c1c1c" stroke-width="1.10"/>
<path d="M600.5,76.8 L600.8,77.1 L601.1,77.4 L601.4,77.6 L601.9,77.7 L602.3,77.7 L602.7,77.9 L602.9,78.3 L603.1,78.7 L603.3,79.1 L603.7,79.3 L604.1,79.3 L604.6,79.4 L605.0,79.5 L605.3,79.8 L605.5,80.3 L605.7,80.7 L606.0,80.9 L606.4,81.0 L606.9,81.1 L607.3,81.1 L607.6,81.4 L607.9,81.6 L608.3,81.9 L608.6,82.1 L609.0,82.1 L609.5,82.0 L609.9,81.8 L610.3,81.8 L610.7,82.0 L611.0,82.3 L611.4,82.6 L611.8,82.7 L612.2,82.7 L612.6,82.5 L613.0,82.4 L613.4,82.5 L613.8,82.8 L614.1,83.1 L614.5,83.3 L614.9,83.3 L615.3,83.1 L615.8,83.0 L616.2,83.1 L616.5,83.3 L616.9,83.5 L617.3,83.6 L617.7,83.6" stroke="#1c1c1c" stroke-width="1.10"/>
<path d="M618.3,88.6 L618.7,88.6 L619.1,88.6 L619.5,88.5 L619.9,88.3 L620.2,88.0 L620.6,87.9 L621.1,88.0 L621.5,88.2 L621.9,88.3 L622.3,88.2 L622.7,87.9 L623.0,87.6 L623.4,87.4 L623.8,87.5 L624.2,87.6 L624.7,87.8 L625.1,87.8 L625.5,87.6 L625.8,87.3 L626.2,87.0 L626.6,86.9 L627.0,87.0 L627.4,87.2 L627.8,87.3 L628.2,87.2 L628.6,87.0 L629.0,86.7 L629.4,86.5 L629.8,86.6 L630.2,86.8 L630.6,87.0 L631.0,87.0 L631.4,86.8 L631.8,86.6 L632.2,86.5 L632.6,86.5 L633.0,86.5" stroke="#1c1c1c" stroke-width="1.10"/>
<path d="M593.8,92.2 L606.0,95.8 L618.5,99.5" stroke="#1c1c1c" stroke-width="1.10"/>
<path d="M618.7,107.6 L623.5,108.2" stroke="#1c1c1c" stroke-width="1.10"/>
<path d="M628.2,101.7 L628.6,101.8 L629.0,101.9 L629.4,101.9 L629.8,101.8 L630.2,101.6 L630.7,101.7 L631.0,101.9 L631.4,102.2 L631.8,102.4 L632.2,102.4 L632.6,102.2 L633.1,102.0 L633.5,102.0 L633.9,102.1 L634.2,102.4 L634.6,102.6 L635.0,102.7 L635.5,102.6 L635.9,102.4 L636.3,102.3 L636.7,102.3 L637.1,102.6 L637.5,102.9 L637.9,103.0 L638.3,102.9 L638.7,102.8 L639.1,102.8 L639.5,102.9" stroke="#1c1c1c" stroke-width="1.10"/>
<path d="M642.7,65.1 L643.0,65.4 L643.3,65.7 L643.6,65.9 L644.1,65.9 L644.5,66.0 L644.9,66.2 L645.1,66.5 L645.3,67.0 L645.5,67.4 L645.8,67.6 L646.3,67.6 L646.8,67.6 L647.2,67.7 L647.5,68.0 L647.7,68.4 L647.9,68.9 L648.1,69.2 L648.6,69.3 L649.0,69.3 L649.5,69.3 L649.9,69.5 L650.1,69.9 L650.2,70.3 L650.4,70.7 L650.8,70.9 L651.2,71.0 L651.7,71.0 L652.1,71.1 L652.4,71.4 L652.6,71.8 L652.7,72.3 L653.0,72.6 L653.4,72.7 L653.9,72.8 L654.3,72.8 L654.7,73.0 L654.9,73.3 L655.1,73.8 L655.3,74.2 L655.6,74.4 L656.0,74.5 L656.5,74.5 L656.9,74.6 L657.2,74.8 L657.4,75.2 L657.6,75.7 L657.8,76.1 L658.2,76.2 L658.6,76.3 L659.1,76.3 L659.5,76.4 L659.7,76.8 L659.8,77.3 L659.9,77.7 L660.2,78.1 L660.6,78.2 L661.0,78.3 L661.5,78.4 L661.8,78.7 L661.9,79.1 L662.0,79.6 L662.2,80.0 L662.5,80.2 L662.9,80.4 L663.4,80.4 L663.8,80.6 L664.0,80.9 L664.1,81.4 L664.2,81.9 L664.4,82.2 L664.7,82.4 L665.2,82.5 L665.7,82.6 L666.0,82.8 L666.2,83.2 L666.3,83.7 L666.4,84.1 L666.7,84.4 L667.1,84.5 L667.5,84.7 L667.8,85.0 L668.0,85.3 L674.3,84.8 L678.0,86.4 L688.8,95.0 L717.7,120.0 L724.2,127.5" stroke="#1c1c1c" stroke-width="1.10"/>
<path d="M636.8,92.2 L637.1,92.5 L637.4,92.8 L637.6,93.2 L638.0,93.4 L638.4,93.5 L638.9,93.5 L639.4,93.3 L639.9,93.3 L640.3,93.4 L640.6,93.6 L640.9,94.0 L641.1,94.5 L641.3,95.0 L641.5,95.5 L641.8,95.8 L642.1,96.0 L642.6,96.0 L643.1,96.0 L643.6,95.8 L644.1,95.8 L644.5,95.8 L644.9,96.0 L645.1,96.3 L645.3,96.8 L645.5,97.3 L645.6,97.7 L645.8,98.2 L646.1,98.4 L646.5,98.6 L647.0,98.6 L647.5,98.5 L648.0,98.5 L648.4,98.4 L648.9,98.5 L649.2,98.7 L649.4,99.0 L649.6,99.5 L649.8,100.0 L649.9,100.5 L650.1,100.8 L650.4,101.1 L650.8,101.2 L651.3,101.3 L651.8,101.2 L652.3,101.2 L652.8,101.2 L653.2,101.3 L653.5,101.6 L653.7,102.0 L653.8,102.5 L653.9,103.0 L654.1,103.5 L654.3,103.9 L654.7,104.1 L655.1,104.1 L655.6,104.1 L656.1,104.1 L656.6,104.1 L657.1,104.1 L657.4,104.3 L657.6,104.7 L657.8,105.1 L657.9,105.6 L658.1,106.1 L658.3,106.6 L658.5,106.9 L658.9,107.0 L659.4,107.0 L659.9,107.0 L660.4,106.9 L660.9,107.0 L661.3,107.1 L661.6,107.4 L661.8,107.8 L661.9,108.2 L662.1,108.8 L662.2,109.2 L662.5,109.6 L662.8,109.8 L663.2,109.9 L663.7,109.9 L664.2,109.8 L664.8,109.8 L665.2,109.9 L665.6,110.0 L665.8,110.4 L666.0,110.8 L666.1,111.3 L666.3,111.8 L666.5,112.2 L666.8,112.5 L667.2,112.7 L667.7,112.7 L668.2,112.6 L668.7,112.6 L669.2,112.6 L669.6,112.7 L669.9,113.0 L670.1,113.4 L670.2,113.9 L670.4,114.4 L670.6,114.9 L670.8,115.2 L671.2,115.4 L671.6,115.5 L672.1,115.4 L672.6,115.4 L673.1,115.3 L673.6,115.4 L673.9,115.6 L674.2,116.0 L674.3,116.4 L674.5,116.9 L674.6,117.4 L674.9,117.8 L675.2,118.1 L675.6,118.2 L676.0,118.2 L676.6,118.2 L677.1,118.1 L677.6,118.1 L677.9,118.3 L678.2,118.6 L678.4,119.0 L678.6,119.5 L678.7,120.0 L678.9,120.5 L679.2,120.8 L679.5,121.0 L680.0,121.0 L680.5,121.0 L681.0,120.9 L681.5,120.9 L681.9,121.0 L682.3,121.2 L682.5,121.6 L682.7,122.0 L682.8,122.5 L683.0,123.0 L683.2,123.4 L683.5,123.7 L683.9,123.8 L684.3,123.8 L684.9,123.8 L685.4,123.7 L685.9,123.7 L686.2,123.9 L686.5,124.1 L686.7,124.6 L686.9,125.1 L687.0,125.6 L687.2,126.0 L687.4,126.4 L687.8,126.6 L688.2,126.6 L688.7,126.6 L689.2,126.5 L689.7,126.5 L690.2,126.6 L690.5,126.8 L690.8,127.1 L690.9,127.6 L691.1,128.1 L691.2,128.6 L691.4,129.0 L691.7,129.3 L692.1,129.4 L692.6,129.4 L693.1,129.4 L693.6,129.3 L694.1,129.3 L694.5,129.4 L694.8,129.7 L695.0,130.1 L695.1,130.6 L695.3,131.1 L695.4,131.6 L695.7,131.9 L696.0,132.1 L696.4,132.2 L696.9,132.2 L697.4,132.1 L698.0,132.1 L698.4,132.2 L698.8,132.3 L699.0,132.7 L699.2,133.1 L699.3,133.6 L699.5,134.0 L699.8,134.3 L700.2,134.5 L700.6,134.6 L701.0,134.7" stroke="#1c1c1c" stroke-width="1.10"/>
<path d="M641.5,111.7 L657.8,121.1 L675.0,131.2 L680.9,134.7" stroke="#1c1c1c" stroke-width="1.10"/>
<path d="M732.1,121.0 L732.5,121.0 L732.9,121.1 L733.3,121.1 L733.7,121.0 L734.1,120.9 L734.5,120.7 L734.8,120.5 L735.2,120.5 L735.6,120.6 L736.0,120.7 L736.5,120.9 L736.9,121.0 L737.3,121.0 L737.6,120.8 L738.0,120.7 L738.4,120.5 L738.8,120.3 L739.2,120.3 L739.6,120.3 L740.0,120.5 L740.4,120.7 L740.8,120.9 L741.2,121.0 L741.6,120.9 L742.0,120.8 L742.4,120.7 L742.8,120.6 L743.2,120.7 L743.6,120.8 L744.0,121.1 L744.4,121.3 L744.8,121.5 L745.2,121.6 L745.6,121.5 L746.0,121.4 L746.4,121.3 L746.8,121.3 L747.2,121.5 L747.6,121.6 L748.0,121.7" stroke="#1c1c1c" stroke-width="1.10"/>
<path d="M760.8,94.7 L765.5,94.7" stroke="#1c1c1c" stroke-width="1.10"/>
<path d="M758.8,99.0 L765.5,99.0" stroke="#1c1c1c" stroke-width="1.10"/>
<path d="M752.3,115.8 L765.5,111.3" stroke="#1c1c1c" stroke-width="1.10"/>
<path d="M107.5,29.6 L107.9,29.7 L108.3,29.8 L108.7,29.8 L109.1,29.8 L109.5,29.6 L109.9,29.4 L110.3,29.4 L110.7,29.5 L111.1,29.8 L111.5,30.0 L111.9,30.1 L112.3,30.1 L112.7,29.9 L113.1,29.7 L113.5,29.5 L113.9,29.5 L114.3,29.7 L114.7,29.9 L115.1,30.1 L115.5,30.3 L115.9,30.2 L116.3,30.1 L116.7,29.8 L117.1,29.7 L117.5,29.7 L117.9,29.8 L118.3,30.1 L118.7,30.3 L119.1,30.4 L119.5,30.4 L119.9,30.2 L120.3,30.0 L120.7,29.8 L121.1,29.8 L121.5,30.0 L121.9,30.2 L122.3,30.4 L122.7,30.6 L123.1,30.5 L123.5,30.3 L123.9,30.1 L124.4,30.0 L124.8,30.0 L125.1,30.1 L125.5,30.4 L125.9,30.6 L126.3,30.7 L126.7,30.7 L127.1,30.5 L127.6,30.2 L128.0,30.1 L128.4,30.1 L128.8,30.3 L129.1,30.5 L129.5,30.7 L129.9,30.8 L130.3,30.8 L130.8,30.6 L131.2,30.4 L131.6,30.2 L132.0,30.2 L132.4,30.4 L132.8,30.7 L133.1,30.9 L133.5,31.0 L134.0,30.9 L134.4,30.7 L134.8,30.5 L135.2,30.4 L135.6,30.4 L136.0,30.6 L136.4,30.8 L136.8,31.0 L137.2,31.1 L137.6,31.1 L138.0,30.9 L138.4,30.7 L138.8,30.5 L139.2,30.5 L139.6,30.7 L140.0,31.0 L140.4,31.2 L140.8,31.3 L141.2,31.2 L141.6,31.0 L142.0,30.8 L142.4,30.7 L142.8,30.7 L143.2,30.9 L143.6,31.1 L144.0,31.3 L144.4,31.4 L144.8,31.4 L145.2,31.2 L145.6,30.9 L146.0,30.8 L146.4,30.8 L146.8,31.0 L147.2,31.3 L147.6,31.5 L148.0,31.6 L148.4,31.5 L148.8,31.3 L149.2,31.1 L149.6,30.9 L150.0,31.0 L150.4,31.2 L150.8,31.4 L151.2,31.6 L151.6,31.7 L152.0,31.6 L152.4,31.4 L152.8,31.2 L153.2,31.1 L153.6,31.1 L154.0,31.3 L154.4,31.6 L154.8,31.8 L155.2,31.9 L155.6,31.8 L156.0,31.6 L156.4,31.4 L156.8,31.2 L157.2,31.3 L157.6,31.5 L158.0,31.7 L158.4,31.9 L158.8,32.0 L159.2,31.9 L159.6,31.7 L160.0,31.5 L160.4,31.4 L160.8,31.4 L161.2,31.6 L161.6,31.9 L162.0,32.1 L162.4,32.2 L162.8,32.1 L163.2,31.9 L163.6,31.7 L164.0,31.5 L164.4,31.6 L164.8,31.8 L165.2,32.0 L165.6,32.2 L166.0,32.3 L166.4,32.2 L166.8,32.0 L167.2,31.8 L167.6,31.7 L168.0,31.7 L168.4,31.9 L168.8,32.2 L169.2,32.4 L169.6,32.5 L170.0,32.4 L170.4,32.2 L170.8,32.0 L171.2,31.8 L171.6,31.9 L172.0,32.1 L172.4,32.3 L172.8,32.5 L173.2,32.6 L173.6,32.5 L174.0,32.3 L174.4,32.1 L174.8,32.0 L175.2,32.0 L175.6,32.2 L176.0,32.5 L176.4,32.7 L176.8,32.8 L177.2,32.7 L177.6,32.5 L178.0,32.3 L178.4,32.1 L178.8,32.2 L179.2,32.4 L179.6,32.6 L180.0,32.8 L180.4,32.9 L180.8,32.8 L181.2,32.6 L181.6,32.4 L182.0,32.3 L182.4,32.3 L182.8,32.5 L183.2,32.8 L183.6,33.0 L184.0,33.1 L184.4,33.0 L184.8,32.8 L185.2,32.5 L185.6,32.4 L186.0,32.5 L186.4,32.7 L186.8,32.9 L187.2,33.1 L187.6,33.2 L188.0,33.1 L188.4,32.9 L188.8,32.7 L189.2,32.6 L189.6,32.6 L190.0,32.8 L190.4,33.1 L190.8,33.3 L191.2,33.4 L191.6,33.3 L192.0,33.1 L192.4,32.8 L192.8,32.7 L193.2,32.8 L193.6,33.0 L194.0,33.2 L194.4,33.4 L194.8,33.5 L195.2,33.4 L195.6,33.2 L196.0,33.0 L196.4,32.9 L196.8,32.9 L197.2,33.1 L197.6,33.4 L198.0,33.6 L198.4,33.6 L198.8,33.6 L199.2,33.4 L199.6,33.1 L200.0,33.0 L200.4,33.1 L200.8,33.3 L201.2,33.5 L201.6,33.7 L202.0,33.8 L202.4,33.7 L202.8,33.5 L203.2,33.3 L203.6,33.2 L204.0,33.2 L204.4,33.4 L204.8,33.7 L205.2,33.9 L205.6,33.9 L206.0,33.9 L206.4,33.6 L206.8,33.4 L207.2,33.3 L207.6,33.4 L208.0,33.6 L208.4,33.8 L208.8,34.0 L209.2,34.1 L209.6,34.0 L210.0,33.8 L210.4,33.6 L210.8,33.5 L211.2,33.5 L211.6,33.7 L212.0,34.0 L212.4,34.2 L212.8,34.3 L213.2,34.2 L213.6,34.0 L214.0,33.8 L214.4,33.7 L214.8,33.7 L215.2,33.9 L215.6,34.2 L216.0,34.4 L216.3,34.5 L216.8,34.4 L217.2,34.2 L217.6,34.0 L218.0,33.8 L218.4,33.9 L218.8,34.1 L219.1,34.3 L219.5,34.6 L219.9,34.6 L220.3,34.6 L220.7,34.4 L221.2,34.1 L221.6,34.0 L222.0,34.1 L222.3,34.2 L222.7,34.5 L223.1,34.7 L223.5,34.8 L223.9,34.7 L224.3,34.5 L224.7,34.3 L225.1,34.2 L225.5,34.2 L225.9,34.4 L226.3,34.7 L226.7,34.9 L227.1,35.0 L227.5,34.9 L227.9,34.7 L228.3,34.5 L228.7,34.4 L229.1,34.4 L229.5,34.6 L229.9,34.8 L230.3,35.1 L230.7,35.2 L231.1,35.1 L231.5,34.9 L231.9,34.7 L232.3,34.6 L232.7,34.6 L233.1,34.8 L233.5,35.0 L233.9,35.2 L234.3,35.3 L234.7,35.3 L235.1,35.1 L235.5,34.9 L235.9,34.7 L236.3,34.8 L236.7,34.9 L237.1,35.2 L237.5,35.4 L237.9,35.5 L238.3,35.5 L238.7,35.3 L239.1,35.1 L239.5,34.9 L239.9,34.9 L240.3,35.1 L240.7,35.3 L241.0,35.6 L241.4,35.7 L241.8,35.6 L242.3,35.4 L242.7,35.2 L243.1,35.1 L243.5,35.1 L243.9,35.3 L244.2,35.5 L244.6,35.7 L245.0,35.9 L245.4,35.8 L245.8,35.6 L246.2,35.4 L246.7,35.3 L247.1,35.3 L247.4,35.4 L247.8,35.7 L248.2,35.9 L248.6,36.0 L249.0,36.0 L249.4,35.8 L249.8,35.6 L250.2,35.4 L250.6,35.4 L251.0,35.6 L251.4,35.9 L251.8,36.1 L252.2,36.2 L252.6,36.2 L253.0,36.0 L253.4,35.8 L253.8,35.6 L254.2,35.6 L254.6,35.8 L255.0,36.0 L255.4,36.3 L255.8,36.4 L256.2,36.4 L256.6,36.2 L257.0,36.0 L257.4,35.8 L257.8,35.8 L258.2,36.0 L258.6,36.3 L259.0,36.5 L259.4,36.6 L259.8,36.6 L260.2,36.4 L260.6,36.2 L261.0,36.1 L261.4,36.1 L261.8,36.2 L262.2,36.5 L262.6,36.7 L262.9,36.9 L263.3,36.9 L263.8,36.7 L264.2,36.5 L264.6,36.3 L265.0,36.3 L265.4,36.5 L265.8,36.7 L266.1,37.0 L266.5,37.1 L266.9,37.1 L267.3,36.9 L267.8,36.7 L268.2,36.6 L268.6,36.6 L269.0,36.7 L269.3,37.0 L269.7,37.2 L270.1,37.4 L270.5,37.3 L270.9,37.2 L271.3,37.0 L271.7,36.8 L272.1,36.8 L272.5,36.9 L272.9,37.2 L273.3,37.4 L273.7,37.6 L274.1,37.6 L274.5,37.4 L274.9,37.2 L275.3,37.1 L275.7,37.0 L276.1,37.2 L276.5,37.4 L276.9,37.7 L277.3,37.8 L277.7,37.8 L278.1,37.7 L278.5,37.5 L278.9,37.3 L279.3,37.3 L279.7,37.4 L280.1,37.7 L280.5,37.9 L280.9,38.1 L281.3,38.1 L281.7,37.9 L282.1,37.7 L282.5,37.5 L282.9,37.5 L283.3,37.6 L283.7,37.9 L284.1,38.2 L284.4,38.3 L284.8,38.3 L285.3,38.2 L285.7,37.9 L286.1,37.8 L286.5,37.8 L286.9,37.9 L287.3,38.1 L287.6,38.4 L288.0,38.5 L288.4,38.5 L288.8,38.4 L289.3,38.2 L289.7,38.0 L290.1,38.0 L290.5,38.1 L290.8,38.4 L291.2,38.6 L291.6,38.8 L292.0,38.8 L292.4,38.6 L292.8,38.4 L293.2,38.3 L293.7,38.2 L294.0,38.4 L294.4,38.6 L294.8,38.9 L295.2,39.0 L295.6,39.0 L296.0,38.9 L296.4,38.7 L296.8,38.5 L297.2,38.5 L297.6,38.6 L298.0,38.8 L298.4,39.1 L298.8,39.3 L299.2,39.3 L299.6,39.1 L300.0,38.9 L300.4,38.7 L300.8,38.7 L301.2,38.8 L301.6,39.1 L302.0,39.3 L302.4,39.5 L302.8,39.5 L303.2,39.4 L303.6,39.2 L304.0,39.0 L304.4,38.9 L304.8,39.1 L305.2,39.3 L305.6,39.6 L305.9,39.7 L306.3,39.7 L306.8,39.6 L307.2,39.4 L307.6,39.2 L308.0,39.2 L308.4,39.3 L308.8,39.5 L309.1,39.8 L309.5,40.0 L309.9,40.0 L310.3,39.9 L310.8,39.6 L311.2,39.5 L311.6,39.4 L312.0,39.5 L312.3,39.8 L312.7,40.0 L313.1,40.2 L313.5,40.2 L313.9,40.1 L314.3,39.9 L314.7,39.7 L315.1,39.7 L315.5,39.8 L315.9,40.0 L316.3,40.3 L316.7,40.4 L317.1,40.5 L317.5,40.3 L317.9,40.1 L318.3,39.9 L318.7,39.9 L319.1,40.0 L319.5,40.2 L319.9,40.5 L320.3,40.7 L320.7,40.7 L321.1,40.6 L321.5,40.4 L321.9,40.2 L322.3,40.1 L322.7,40.2 L323.1,40.5 L323.5,40.7 L323.9,40.9 L324.3,40.9 L324.7,40.8 L325.1,40.6 L325.5,40.4 L325.9,40.4 L326.3,40.5 L326.7,40.7 L327.1,40.9 L327.4,41.1 L327.8,41.2 L328.2,41.1 L328.7,40.9 L329.1,40.7 L329.5,40.6 L329.9,40.7 L330.3,40.9 L330.6,41.2 L331.0,41.4 L331.4,41.4 L331.8,41.3 L332.2,41.1 L332.7,40.9 L333.1,40.8 L333.5,40.9 L333.8,41.1 L334.2,41.4 L334.6,41.6 L335.0,41.7 L335.4,41.5 L335.8,41.3 L336.2,41.2 L336.6,41.1 L337.0,41.2 L337.4,41.4 L337.8,41.6 L338.2,41.8 L338.6,41.9 L339.0,41.8 L339.4,41.6 L339.8,41.4 L340.2,41.3 L340.6,41.4 L341.0,41.6 L341.4,41.9 L341.8,42.1 L342.2,42.1 L342.6,42.0 L343.0,41.8 L343.4,41.6 L343.8,41.5 L344.2,41.6 L344.6,41.8 L345.0,42.1 L345.4,42.3 L345.8,42.4 L346.2,42.3 L346.6,42.1 L347.0,41.9 L347.4,41.8 L347.8,41.9 L348.2,42.1 L348.6,42.3 L348.9,42.5 L349.3,42.6 L349.7,42.5 L350.2,42.3 L350.6,42.1 L351.0,42.0 L351.4,42.1 L351.8,42.3 L352.1,42.6 L352.5,42.8 L352.9,42.8 L353.3,42.8 L353.7,42.6 L354.1,42.4 L354.6,42.3 L354.9,42.3 L355.3,42.5 L355.7,42.8 L356.1,43.0 L356.5,43.1 L356.9,43.0 L357.3,42.8 L357.7,42.6 L358.1,42.5 L358.5,42.6 L358.9,42.8 L359.3,43.0 L359.7,43.2 L360.1,43.3 L360.5,43.2 L360.9,43.0 L361.3,42.8 L361.7,42.7 L362.1,42.8 L362.5,43.0 L362.9,43.3 L363.3,43.5 L363.7,43.6 L364.1,43.5 L364.5,43.3 L364.9,43.1 L365.3,43.0 L365.7,43.1 L366.1,43.3 L366.5,43.5 L366.9,43.7 L367.3,43.8 L367.7,43.7 L368.1,43.5 L368.5,43.3 L368.9,43.2 L369.3,43.3 L369.7,43.5 L370.1,43.8 L370.5,44.0 L370.9,44.1 L371.3,44.0 L371.7,43.8 L372.1,43.6 L372.5,43.5 L372.9,43.6 L373.3,43.8 L373.7,44.0 L374.1,44.3 L374.5,44.3 L374.9,44.2 L375.3,44.0 L375.7,43.9 L376.1,43.8 L376.5,43.8 L376.9,44.0 L377.3,44.3 L377.6,44.5 L378.0,44.6 L378.5,44.5 L378.9,44.3 L379.3,44.1 L379.7,44.0 L380.1,44.1 L380.5,44.3 L380.9,44.5 L381.2,44.8 L381.6,44.8 L382.0,44.7 L382.5,44.6 L382.9,44.4 L383.3,44.3 L383.7,44.3 L384.1,44.5 L384.4,44.8 L384.8,45.0 L385.2,45.1 L385.6,45.0 L386.1,44.8 L386.5,44.6 L386.9,44.5 L387.3,44.6 L387.7,44.8 L388.0,45.0 L388.4,45.3 L388.8,45.3 L389.2,45.2 L389.6,45.1 L390.1,44.9 L390.5,44.8 L390.9,44.8 L391.3,45.0 L391.6,45.3 L392.0,45.5 L392.4,45.6 L392.8,45.5 L393.2,45.3 L393.7,45.1 L394.1,45.0 L394.5,45.1 L394.8,45.3 L395.2,45.6 L395.6,45.8 L396.0,45.8 L396.4,45.8 L396.8,45.6 L397.2,45.4 L397.7,45.3 L398.1,45.3 L398.4,45.5 L398.8,45.8 L399.2,46.0 L399.6,46.1 L400.0,46.0 L400.4,45.8 L400.8,45.6 L401.3,45.5 L401.6,45.6 L402.0,45.8 L402.4,46.1 L402.8,46.3 L403.2,46.3 L403.6,46.3 L404.0,46.1 L404.4,45.9 L404.8,45.8 L405.2,45.8 L405.6,46.1 L406.0,46.3 L406.4,46.5 L406.8,46.6 L407.2,46.5 L407.6,46.3 L408.0,46.1 L408.4,46.0 L408.8,46.1 L409.2,46.3 L409.6,46.6 L410.0,46.8 L410.4,46.9 L410.8,46.8 L411.2,46.6 L411.6,46.4 L412.0,46.3 L412.4,46.3 L412.8,46.6 L413.2,46.8 L413.6,47.0 L414.0,47.1 L414.4,47.0 L414.8,46.8 L415.2,46.6 L415.6,46.5 L416.0,46.6 L416.4,46.8 L416.8,47.0 L417.2,47.2 L417.6,47.3 L418.0,47.2 L418.4,47.0 L418.8,46.7 L419.2,46.6 L419.6,46.7 L420.0,46.9 L420.4,47.1 L420.8,47.3 L421.2,47.4 L421.6,47.3 L422.0,47.0 L422.4,46.8 L422.8,46.7 L423.2,46.8 L423.6,47.0 L424.0,47.2 L424.4,47.4 L424.8,47.5 L425.2,47.3 L425.6,47.1 L426.0,46.9 L426.4,46.8 L426.8,46.9 L427.2,47.1 L427.6,47.3 L428.0,47.5 L428.4,47.6 L428.8,47.4 L429.2,47.2 L429.6,47.0 L430.0,46.9 L430.4,47.0 L430.8,47.2 L431.2,47.4 L431.6,47.6 L432.0,47.6 L432.4,47.5 L432.8,47.3 L433.2,47.1 L433.6,47.0 L434.0,47.1 L434.4,47.2 L434.8,47.5 L435.2,47.7 L435.6,47.7 L436.0,47.6 L436.3,47.2 L436.6,46.9 L436.9,46.6 L437.2,46.5 L437.7,46.5 L438.1,46.5 L438.5,46.5 L438.9,46.5 L439.1,46.3 L439.4,46.3 L439.9,46.2 L440.3,46.2 L440.7,46.3 L441.0,46.6 L441.3,47.0 L441.6,47.4 L441.9,47.6 L442.3,47.7 L442.8,47.7 L443.3,47.6 L443.7,47.7 L444.1,47.8 L444.4,48.1 L444.6,48.5 L444.9,48.9 L445.3,49.1 L445.7,49.2 L446.1,49.1 L446.6,49.1 L447.0,49.1 L447.4,49.3 L447.7,49.6 L448.0,50.0 L448.3,50.3 L448.6,50.6 L449.0,50.6 L449.5,50.6 L450.0,50.5 L450.4,50.6 L450.7,50.8 L451.0,51.1 L451.3,51.5 L451.6,51.8 L452.0,52.0 L452.5,52.0 L452.9,51.8 L453.3,51.7 L453.7,51.6 L454.1,51.8 L454.5,52.0 L454.8,52.3 L455.2,52.6 L455.6,52.7 L456.0,52.6 L456.4,52.4 L456.9,52.3 L457.3,52.3 L457.7,52.4 L458.0,52.6 L458.4,52.9 L458.8,53.2 L459.2,53.3 L459.6,53.2 L460.0,53.1 L460.4,52.9 L460.9,52.9 L461.2,53.0 L461.6,53.3 L462.0,53.6 L462.3,53.8 L462.7,53.9 L463.1,53.8 L463.6,53.7 L464.0,53.5 L464.4,53.5 L464.8,53.6 L465.2,53.9 L465.5,54.2 L465.9,54.4 L466.3,54.5 L466.7,54.5 L467.1,54.3 L467.6,54.2 L468.0,54.1 L468.4,54.3 L468.7,54.5 L469.1,54.8 L469.4,55.1 L469.8,55.2 L470.2,55.1 L470.7,54.9 L471.1,54.8 L471.5,54.8 L471.9,54.9 L472.3,55.2 L472.6,55.5 L473.0,55.7 L473.4,55.8 L473.8,55.7 L474.2,55.5 L474.7,55.4 L475.1,55.4 L475.5,55.5 L475.8,55.8 L476.2,56.1 L476.5,56.3 L476.9,56.4 L477.4,56.3 L477.8,56.2 L478.2,56.0 L478.6,56.0 L479.0,56.2 L479.4,56.4 L479.7,56.7 L480.1,57.0 L480.5,57.0 L480.9,57.0 L481.3,56.8 L481.7,56.7 L482.1,56.6 L482.5,56.8 L482.9,57.0 L483.2,57.4 L483.6,57.6 L484.0,57.7 L484.4,57.6 L484.8,57.5 L485.3,57.3 L485.7,57.3 L486.1,57.4 L486.4,57.7 L486.8,58.0 L487.1,58.2 L487.5,58.3 L487.9,58.3 L488.4,58.1 L488.8,58.0 L489.2,57.9 L489.6,58.0 L489.9,58.3 L490.3,58.6 L490.6,58.9 L491.0,59.0 L491.4,58.9 L491.9,58.8 L492.3,58.6 L492.7,58.6 L493.1,58.7 L493.5,58.9 L493.8,59.2 L494.2,59.5 L494.6,59.6 L495.0,59.6 L495.4,59.4 L495.8,59.2 L496.2,59.1 L496.6,59.2 L497.0,59.4 L497.4,59.6 L497.8,59.8 L498.2,59.9 L498.6,59.8 L499.0,59.6 L499.5,59.4 L499.9,59.3 L500.3,59.4 L500.7,59.6 L501.0,59.8 L501.4,60.0 L501.8,60.1 L502.3,59.9 L502.7,59.7 L503.1,59.5 L503.5,59.5 L503.9,59.5 L504.3,59.8 L504.7,60.0 L505.1,60.2 L505.5,60.2 L505.9,60.1 L506.3,59.9 L506.7,59.7 L507.1,59.6 L507.5,59.7 L507.9,60.0 L508.3,60.2 L508.6,60.4 L509.0,60.4 L509.4,60.3 L509.9,60.1 L510.3,59.9 L510.7,59.9 L511.1,59.9 L511.4,60.2 L511.8,60.4 L512.2,60.6 L512.6,60.7 L513.0,60.6 L513.4,60.3 L513.8,60.2 L514.2,60.1 L514.6,60.1 L515.0,60.4 L515.4,60.6 L515.8,60.8 L516.2,60.9 L516.6,60.8 L517.0,60.6 L517.4,60.4 L517.8,60.3 L518.2,60.4 L518.6,60.6 L519.0,60.8 L519.3,61.0 L519.7,61.1 L520.1,61.0 L520.6,60.8 L521.0,60.6 L521.4,60.5 L521.8,60.6 L522.1,60.8 L522.5,61.0 L522.9,61.2 L523.3,61.3 L523.7,61.2 L524.1,61.0 L524.5,60.8 L524.9,60.7 L525.3,60.8 L525.7,60.9 L526.1,61.2 L526.4,61.5 L526.8,61.6 L527.2,61.6 L527.7,61.5 L528.1,61.3 L528.5,61.2 L528.9,61.3 L529.3,61.5 L529.6,61.8 L530.0,62.1 L530.4,62.2 L530.8,62.2 L531.2,62.0 L531.7,61.9 L532.1,61.8 L532.5,61.9 L532.9,62.1 L533.2,62.4 L533.6,62.7 L534.0,62.8 L534.4,62.8 L534.8,62.6 L535.2,62.5 L535.7,62.4 L536.0,62.5 L536.4,62.7 L536.8,63.0 L537.2,63.2 L537.6,63.3 L538.0,63.3 L538.4,63.1 L538.8,62.9 L539.2,62.8 L539.6,62.9 L540.0,63.2 L540.4,63.4 L540.8,63.7 L541.2,63.8 L541.6,63.7 L542.0,63.5 L542.4,63.3 L542.8,63.3 L543.2,63.4 L543.6,63.6 L544.0,63.9 L544.4,64.1 L544.8,64.2 L545.2,64.1 L545.6,63.9 L546.0,63.7 L546.4,63.6 L546.8,63.7 L547.2,63.9 L547.6,64.2 L547.9,64.4 L548.3,64.5 L548.7,64.4 L549.1,64.2 L549.6,64.0 L550.0,64.0 L550.4,64.0 L550.7,64.2 L551.1,64.5 L551.5,64.7 L551.9,64.8 L552.3,64.8 L552.7,64.6 L553.1,64.4 L553.5,64.3 L553.9,64.3 L554.3,64.6 L554.7,64.8 L555.0,65.1 L555.4,65.1 L555.8,65.1 L556.3,64.9 L556.7,64.7 L557.1,64.6 L557.5,64.7 L557.9,64.9 L558.2,65.1 L558.6,65.4 L559.0,65.5 L559.4,65.4 L559.8,65.2 L560.2,65.0 L560.6,64.9 L561.0,65.0 L561.4,65.1 L561.8,65.4 L562.2,65.6 L562.6,65.7 L563.0,65.7 L563.4,65.5 L563.8,65.3 L564.2,65.2 L564.6,65.2 L565.0,65.3 L565.4,65.6 L565.7,65.8 L566.1,65.9 L566.5,65.9 L566.9,65.7 L567.4,65.5 L567.8,65.4 L568.2,65.4 L568.5,65.5 L568.9,65.8 L569.3,66.0 L569.7,66.1 L570.1,66.1 L570.5,65.9 L570.9,65.7 L571.3,65.6 L571.7,65.6 L572.1,65.7 L572.5,66.0 L572.9,66.2 L573.3,66.3 L573.7,66.3 L574.1,66.1 L574.5,65.9 L574.9,65.7 L575.3,65.6 L575.7,65.8 L576.1,66.0 L576.5,66.2 L576.9,66.3 L577.3,66.3 L577.7,66.1 L578.1,65.8 L578.5,65.6 L578.9,65.6 L579.3,65.8 L579.7,66.0 L580.1,66.2 L580.5,66.3 L580.9,66.2 L581.3,66.0 L581.7,65.8 L582.1,65.6 L582.5,65.6 L582.9,65.7 L583.3,66.0 L583.7,66.2 L584.1,66.3 L584.5,66.2 L584.9,66.0 L585.3,65.8 L585.7,65.6 L586.1,65.6 L586.5,65.7 L586.9,65.9 L587.4,66.2 L587.8,66.2 L588.2,66.2 L588.6,66.0 L589.0,65.7 L589.4,65.6 L589.8,65.6 L590.2,65.7 L590.6,65.9 L591.0,66.1 L591.4,66.2 L591.8,66.1 L592.2,65.9 L592.6,65.7 L593.0,65.5 L593.4,65.5 L593.8,65.7 L594.2,65.9 L594.6,66.1 L595.0,66.2 L595.4,66.1 L595.8,65.9 L596.2,65.7 L596.6,65.5 L597.0,65.5 L597.4,65.7 L597.8,65.9 L598.2,66.1 L598.6,66.2 L599.0,66.1 L599.4,65.9 L599.8,65.6 L600.2,65.5 L600.6,65.5 L601.0,65.6 L601.4,65.9 L601.8,66.1 L602.2,66.1 L602.6,66.0 L603.0,65.8 L603.4,65.6 L603.8,65.4 L604.2,65.4 L604.6,65.6 L605.0,65.8 L605.4,66.0 L605.8,66.0 L606.2,65.9 L606.6,65.7 L607.0,65.5 L607.3,65.3 L607.7,65.3 L608.1,65.4 L608.6,65.7 L609.0,65.8 L609.4,65.9 L609.8,65.8 L610.1,65.6 L610.5,65.4 L610.9,65.2 L611.3,65.2 L611.7,65.3 L612.1,65.5 L612.5,65.7 L612.9,65.8 L613.3,65.7 L613.7,65.5 L614.1,65.3 L614.5,65.1 L614.9,65.1 L615.3,65.2 L615.7,65.4 L616.1,65.6 L616.5,65.7 L616.9,65.6 L617.3,65.4 L617.7,65.2 L618.1,65.0 L618.5,65.0 L618.9,65.1 L619.3,65.3 L619.7,65.5 L620.1,65.6 L620.5,65.5 L620.9,65.3 L621.2,65.1 L621.6,64.9 L622.0,64.8 L622.4,64.9 L622.8,65.1 L623.2,65.4 L623.6,65.5 L624.0,65.4 L624.4,65.3 L624.8,65.0 L625.2,64.8 L625.6,64.7 L626.0,64.8 L626.4,65.0 L626.8,65.2 L627.2,65.4 L627.6,65.3 L628.0,65.2 L628.4,64.9 L628.8,64.7 L629.2,64.6 L629.6,64.7 L630.0,64.9 L630.4,65.1 L630.8,65.2 L631.2,65.1 L631.6,64.9 L632.0,64.7 L632.4,64.4 L632.8,64.4 L633.2,64.5 L633.6,64.7 L634.1,64.9 L634.5,65.0 L634.9,64.9 L635.3,64.7 L635.6,64.4 L636.0,64.2 L636.4,64.2 L636.9,64.3 L637.3,64.5 L637.7,64.7 L638.1,64.8 L638.5,64.7 L638.9,64.5 L639.3,64.2 L639.7,64.0 L640.1,64.0 L640.5,64.1 L640.9,64.3 L641.3,64.5 L641.7,64.5 L642.1,64.5 L642.5,64.4 L642.9,64.2 L643.3,64.1 L643.7,64.1 L644.1,64.3 L644.4,64.6 L644.8,64.9 L645.2,65.0 L645.6,65.0 L646.0,64.9 L646.4,64.7 L646.8,64.6 L647.2,64.6 L647.6,64.8 L648.0,65.0 L648.3,65.3 L648.7,65.5 L649.1,65.5 L649.5,65.4 L649.9,65.2 L650.3,65.1 L650.7,65.1 L651.1,65.2 L651.5,65.5 L651.8,65.8 L652.2,66.0 L652.6,66.0 L653.0,65.9 L653.4,65.7 L653.9,65.6 L654.3,65.5 L654.6,65.7 L655.0,65.9 L655.4,66.2 L655.8,66.4 L656.2,66.4 L656.6,66.3 L657.0,66.1 L657.4,65.9 L657.8,65.9 L658.2,66.0 L658.6,66.2 L658.9,66.5 L659.3,66.7 L659.7,66.7 L660.1,66.6 L660.5,66.4 L660.9,66.2 L661.3,66.2 L661.7,66.2 L662.1,66.5 L662.5,66.7 L662.9,66.9 L663.3,67.0 L663.7,66.9 L664.1,66.7 L664.5,66.5 L664.9,66.4 L665.3,66.5 L665.7,66.7 L666.0,67.0 L666.4,67.2 L666.8,67.3 L667.2,67.2 L667.6,67.0 L668.0,66.8 L668.4,66.7 L668.8,66.8 L669.2,67.0 L669.6,67.2 L670.0,67.5 L670.4,67.6 L670.8,67.5 L671.2,67.4 L671.6,67.2 L672.0,67.1 L672.4,67.1 L672.8,67.3 L673.2,67.6 L673.6,67.8 L674.0,67.9 L674.4,67.9 L674.8,67.7 L675.2,67.5 L675.6,67.4 L676.0,67.5 L676.4,67.7 L676.8,68.0 L677.2,68.2 L677.6,68.3 L678.0,68.2 L678.4,68.1 L678.8,67.9 L679.2,67.8 L679.6,67.9 L680.0,68.1 L680.4,68.3 L680.8,68.6 L681.2,68.7 L681.6,68.6 L682.0,68.4 L682.4,68.2 L682.8,68.1 L683.2,68.2 L683.6,68.4 L684.0,68.7 L684.4,68.9 L684.8,69.0 L685.2,68.9 L685.6,68.8 L686.0,68.6 L686.4,68.5 L686.8,68.6 L687.2,68.8 L687.6,69.1 L688.0,69.3 L688.4,69.4 L688.8,69.3 L689.2,69.1 L689.6,68.9 L690.0,68.9 L690.4,68.9 L690.8,69.2 L691.2,69.5 L691.6,69.7 L692.0,69.7 L692.4,69.6 L692.8,69.5 L693.2,69.3 L693.6,69.2 L694.0,69.3 L694.4,69.6 L694.8,69.8 L695.2,70.0 L695.6,70.1 L696.0,70.0 L696.4,69.8 L696.8,69.6 L697.2,69.6 L697.6,69.7 L698.0,69.9 L698.4,70.2 L698.8,70.4 L699.2,70.5 L699.6,70.3 L700.0,70.2 L700.4,70.0 L700.8,69.9 L701.2,70.0 L701.6,70.3 L702.0,70.6 L702.4,70.8 L702.8,70.8 L703.2,70.7 L703.6,70.5 L704.0,70.3 L704.4,70.3 L704.8,70.4 L705.2,70.7 L705.6,70.9 L706.0,71.1 L706.4,71.2 L706.8,71.0 L707.2,70.8 L707.6,70.6 L708.0,70.6 L708.4,70.7 L708.8,70.9 L709.2,71.2 L709.5,71.4 L709.9,71.4 L710.3,71.3 L710.8,71.1 L711.2,70.9 L711.6,70.8 L712.0,70.9 L712.3,71.2 L712.7,71.4 L713.1,71.6 L713.5,71.7 L713.9,71.5 L714.3,71.3 L714.7,71.2 L715.1,71.1 L715.5,71.2 L715.9,71.4 L716.3,71.7 L716.7,71.8 L717.1,71.9 L717.5,71.8 L717.9,71.6 L718.3,71.4 L718.7,71.3 L719.1,71.4 L719.5,71.6 L719.9,71.9 L720.2,72.1 L720.6,72.2 L721.0,72.1 L721.5,71.9 L721.9,71.7 L722.3,71.6 L722.7,71.6 L723.1,71.8 L723.4,72.1 L723.8,72.3 L724.2,72.4 L724.6,72.3 L725.0,72.1 L725.4,71.9 L725.8,71.8 L726.2,71.9 L726.6,72.1 L727.0,72.3 L727.4,72.6 L727.8,72.6 L728.2,72.5 L728.6,72.3 L729.0,72.1 L729.4,72.0 L729.8,72.0 L730.2,72.2 L730.6,72.4 L731.0,72.6 L731.4,72.7 L731.8,72.6 L732.2,72.4 L732.6,72.1 L733.0,72.0 L733.4,72.0 L733.8,72.2 L734.2,72.4 L734.6,72.6 L735.0,72.7 L735.4,72.6 L735.8,72.4 L736.2,72.2 L736.6,72.0 L737.0,72.1 L737.4,72.2 L737.8,72.5 L738.2,72.7 L738.6,72.7 L738.9,72.7 L739.3,72.5 L739.7,72.2 L740.1,72.1 L740.5,72.1 L740.9,72.2 L741.3,72.5 L741.7,72.7 L742.1,72.8 L742.5,72.7 L742.9,72.5 L743.3,72.3 L743.7,72.1 L744.1,72.1 L744.5,72.3 L744.9,72.5 L745.3,72.7 L745.7,72.8 L746.1,72.7 L746.5,72.5 L746.9,72.3 L747.3,72.1 L747.7,72.1 L748.1,72.3 L748.5,72.5 L748.9,72.7 L749.3,72.8 L749.7,72.8 L750.1,72.6 L750.5,72.3 L750.9,72.2 L751.3,72.1 L751.7,72.2 L752.1,72.4 L752.5,72.6 L752.9,72.6 L753.3,72.5 L753.7,72.3 L754.0,72.0 L754.4,71.8 L754.8,71.7 L755.2,71.8 L755.6,72.0 L756.1,72.1 L756.5,72.2 L756.9,72.1 L757.2,71.9 L757.6,71.6 L758.0,71.4 L758.4,71.3 L758.8,71.4 L759.2,71.5 L759.6,71.7 L760.0,71.8 L760.4,71.7 L760.8,71.5 L761.1,71.2 L761.5,71.0 L761.9,70.9 L762.3,70.9 L762.7,71.1 L763.2,71.3 L763.6,71.4 L764.0,71.2 L764.3,71.0 L764.7,70.9 L765.1,70.8 L765.5,70.8" stroke="#1c1c1c" stroke-width="1.20"/>
<path d="M439.1,42.3 L438.7,43.3 L438.0,45.3 L436.9,48.3 L435.5,52.2 L433.9,56.3 L432.2,60.3 L430.3,64.4 L428.4,68.6 L426.9,71.7 L425.9,73.8 L425.4,74.8" stroke="#e4202e" stroke-width="1.35"/>
<path d="M478.4,53.2 L478.1,54.3 L477.5,56.6 L476.7,60.0 L475.5,64.5 L474.5,68.2 L473.5,71.2 L472.7,73.5 L472.0,75.0 L471.1,76.6 L470.1,78.4 L469.0,80.2 L467.7,82.1 L466.5,83.8 L465.3,85.4 L464.2,86.7 L463.1,87.9 L462.3,88.7 L461.8,89.3 L461.5,89.6" stroke="#e4202e" stroke-width="1.35"/>
<path d="M495.4,59.7 L495.3,60.4 L495.1,61.9 L494.9,64.0 L494.5,66.9 L494.0,69.6 L493.3,72.2 L492.3,74.7 L491.2,77.0 L490.4,78.7 L489.9,79.8 L489.6,80.4" stroke="#e4202e" stroke-width="1.35"/>
<path d="M505.8,59.4 L505.5,60.2 L504.9,61.9 L504.1,64.4 L502.9,67.7 L501.7,71.1 L500.3,74.5 L498.8,78.0 L497.1,81.5 L495.5,84.6 L493.8,87.3 L492.2,89.6 L490.5,91.6 L488.8,93.5 L487.1,95.3 L485.4,97.0 L483.6,98.7 L482.3,99.9 L481.4,100.8 L481.0,101.2" stroke="#e4202e" stroke-width="1.35"/>
<path d="M525.5,60.0 L525.3,60.7 L525.0,62.0 L524.6,63.9 L523.9,66.6 L523.3,69.2 L522.6,71.8 L521.9,74.3 L521.1,76.9 L520.4,79.0 L519.8,80.8 L519.2,82.2 L518.6,83.3 L518.2,84.0 L517.9,84.5 L517.8,84.8" stroke="#e4202e" stroke-width="1.35"/>
<path d="M544.6,62.2 L544.4,62.7 L544.1,63.8 L543.7,65.3 L543.0,67.4 L542.3,69.3 L541.5,71.0 L540.5,72.5 L539.5,73.9 L538.3,75.2 L537.1,76.5 L535.9,77.7 L534.5,78.9 L533.5,79.8 L532.8,80.4 L532.5,80.7" stroke="#e4202e" stroke-width="1.35"/>
<path d="M561.3,63.8 L561.2,64.2 L560.9,65.1 L560.6,66.3 L560.1,68.0 L559.5,69.5 L558.7,70.9 L557.8,72.1 L556.8,73.1 L555.3,74.1 L553.3,74.9 L551.0,75.6 L548.1,76.2 L545.7,77.1 L543.7,78.2 L542.1,79.6 L540.9,81.2 L539.6,82.9 L538.3,84.6 L536.9,86.3 L535.4,88.0 L534.2,89.3 L533.5,90.2 L533.1,90.6" stroke="#e4202e" stroke-width="1.35"/>
<path d="M575.0,66.0 L574.7,66.6 L574.1,67.7 L573.2,69.5 L571.9,71.8 L570.8,74.0 L569.6,76.2 L568.6,78.2 L567.5,80.2 L566.4,81.9 L565.2,83.4 L564.0,84.6 L562.6,85.7 L561.0,86.5 L559.1,87.3 L557.0,87.9 L554.6,88.3 L552.5,88.9 L550.6,89.7 L549.0,90.6 L547.7,91.6 L546.4,92.7 L545.1,93.9 L543.9,95.1 L542.7,96.3 L541.8,97.3 L541.2,97.9 L540.9,98.2" stroke="#e4202e" stroke-width="1.35"/>
<path d="M601.8,62.4 L601.7,63.0 L601.6,64.2 L601.4,66.0 L601.2,68.4 L600.9,70.4 L600.6,72.2 L600.4,73.5 L600.1,74.5 L599.6,75.8 L599.1,77.4 L598.4,79.3 L597.6,81.6 L596.8,83.7 L596.1,85.7 L595.4,87.6 L594.8,89.5 L594.0,91.1 L593.2,92.5 L592.4,93.6 L591.4,94.6 L590.4,95.6 L589.2,96.7 L587.9,97.9 L586.6,99.1 L585.2,100.3 L583.7,101.4 L582.2,102.4 L580.8,103.3 L579.3,104.2 L577.8,105.1 L576.4,105.9 L575.1,106.6 L573.8,107.3 L572.5,108.0 L571.3,108.5 L570.2,109.0 L569.3,109.3 L568.8,109.6 L568.5,109.7" stroke="#e4202e" stroke-width="1.35"/>
<path d="M617.6,75.2 L617.7,76.2 L617.8,78.2 L617.9,81.1 L618.1,85.1 L618.3,89.1 L618.4,93.3 L618.5,97.6 L618.6,101.9 L618.6,105.5 L618.5,108.1 L618.4,109.9 L618.1,110.9 L618.0,111.6 L617.9,112.1 L617.8,112.3" stroke="#e4202e" stroke-width="1.35"/>
<path d="M660.8,68.7 L660.3,69.3 L659.4,70.5 L658.1,72.2 L656.2,74.6 L654.2,76.7 L652.1,78.5 L649.8,80.1 L647.2,81.5 L645.0,82.9 L642.9,84.3 L641.1,85.8 L639.4,87.3 L638.2,88.5 L637.4,89.2 L637.0,89.6" stroke="#e4202e" stroke-width="1.35"/>
<path d="M692.5,76.4 L692.2,76.8 L691.7,77.5 L690.9,78.7 L689.8,80.2 L688.5,81.5 L686.8,82.6 L684.9,83.5 L682.8,84.2 L680.5,84.8 L678.2,85.2 L675.7,85.6 L673.2,85.7 L670.7,86.2 L668.1,86.9 L665.6,87.9 L663.1,89.2 L661.2,90.1 L659.9,90.8 L659.3,91.1" stroke="#e4202e" stroke-width="1.35"/>
<path d="M753.8,72.7 L753.6,73.5 L753.3,75.2 L752.7,77.7 L752.0,81.0 L751.1,84.6 L750.0,88.4 L748.7,92.5 L747.3,96.8 L745.9,100.3 L744.7,103.1 L743.5,105.1 L742.4,106.2 L740.8,108.1 L738.6,110.7 L735.9,114.0 L732.7,117.9 L729.6,121.6 L726.7,125.1 L724.0,128.2 L721.5,131.1 L719.6,133.2 L718.3,134.7 L717.7,135.4" stroke="#e4202e" stroke-width="1.35"/>
<path d="M254.5,34.7 L254.2,36.3 L253.6,39.4 L252.7,44.2 L251.4,50.5 L249.8,57.6 L247.9,65.6 L245.6,74.3 L242.9,83.9 L240.4,93.3 L237.9,102.7 L235.6,112.0 L233.5,121.1 L231.8,128.0 L230.7,132.6 L230.2,134.9" stroke="#e4202e" stroke-width="1.35"/>
<path d="M204.0,33.4 L204.3,35.1 L205.0,38.4 L206.0,43.4 L207.2,50.0 L208.8,57.0 L210.6,64.4 L212.6,72.2 L215.0,80.3 L217.4,89.1 L219.9,98.4 L222.6,108.4 L225.3,119.0 L227.4,127.0 L228.8,132.2 L229.5,134.9" stroke="#e4202e" stroke-width="2.60"/>
<path d="M361.0,42.5 L360.4,44.5 L359.1,48.4 L357.2,54.3 L354.8,62.2 L352.2,70.0 L349.7,77.8 L347.1,85.6 L344.4,93.4 L341.7,101.0 L338.8,108.6 L335.8,116.1 L332.7,123.6 L330.3,129.1 L328.8,132.8 L328.0,134.7" stroke="#e4202e" stroke-width="2.40"/>
<path d="M641.7,63.8 L641.3,64.9 L640.4,67.0 L639.1,70.1 L637.4,74.4 L635.9,78.6 L634.4,82.7 L633.1,86.8 L631.9,90.9 L630.8,94.5 L629.7,97.6 L628.7,100.2 L627.7,102.4 L626.7,104.3 L625.6,105.9 L624.5,107.4 L623.3,108.5 L621.9,109.7 L620.4,110.9 L618.7,112.0 L616.8,113.2 L614.8,114.7 L612.9,116.6 L610.9,118.8 L608.8,121.5 L607.0,123.9 L605.2,126.1 L603.6,128.1 L602.2,130.0 L601.0,131.5 L600.0,132.6 L599.2,133.4 L598.8,133.9 L598.4,134.3 L598.1,134.6 L598.0,134.7" stroke="#e4202e" stroke-width="2.80"/>
<path d="M634.9,80.7 L635.0,81.4 L635.3,82.9 L635.6,85.0 L636.1,87.9 L636.6,90.8 L637.2,93.6 L637.9,96.5 L638.6,99.4 L639.3,102.2 L640.0,105.1 L640.7,107.9 L641.3,110.8 L642.1,113.6 L643.1,116.5 L644.3,119.5 L645.7,122.4 L647.2,125.2 L648.8,127.6 L650.7,129.9 L652.6,131.8 L654.1,133.3 L655.1,134.3 L655.6,134.8" stroke="#e4202e" stroke-width="2.60"/>
<path d="M765.6,84.5 L765.2,85.3 L764.5,86.9 L763.3,89.4 L761.8,92.6 L760.4,95.7 L759.1,98.7 L757.9,101.4 L756.8,104.1 L755.6,106.8 L754.1,109.8 L752.5,112.9 L750.7,116.1 L748.7,119.4 L746.6,122.8 L744.2,126.1 L741.7,129.6 L739.8,132.1 L738.5,133.8 L737.9,134.7" stroke="#e4202e" stroke-width="2.60"/>
<path d="M173.0,244.8 L173.4,244.9 L173.8,245.1 L174.1,245.4 L174.5,245.7 L174.9,245.9 L175.3,245.8 L175.7,245.7 L176.1,245.5 L176.6,245.3 L177.0,245.1 L177.4,244.9 L177.9,244.8 L178.3,244.8 L178.7,244.9 L179.0,245.1 L179.4,245.4 L179.7,245.7 L180.1,246.1 L180.4,246.4 L180.8,246.7 L181.2,246.9 L181.6,247.0 L182.0,247.0 L182.4,246.9 L182.8,246.7 L183.3,246.5 L183.7,246.3 L184.1,246.1 L184.6,246.0 L185.0,245.9 L185.4,246.0 L185.8,246.1 L186.1,246.4 L186.5,246.7 L186.8,247.0 L187.2,247.3 L187.5,247.6 L187.9,247.9 L188.3,248.0 L188.7,248.1 L189.1,248.0 L189.5,247.9 L190.0,247.7 L190.4,247.5 L190.9,247.3 L191.3,247.2 L191.7,247.1 L192.1,247.2 L192.5,247.3 L192.8,247.5 L193.2,247.8 L193.5,248.2 L193.8,248.5 L194.2,248.9 L194.5,249.2 L194.8,249.4 L195.2,249.5 L195.6,249.6 L196.0,249.5 L196.5,249.4 L196.9,249.2 L197.4,249.0 L197.8,248.9 L198.3,248.8 L198.7,248.7 L199.1,248.8 L199.4,249.0 L199.8,249.2 L200.1,249.5 L200.4,249.9 L200.8,250.2 L201.1,250.6 L201.4,250.9 L201.8,251.0 L202.2,251.2 L202.6,251.2 L203.0,251.1 L203.4,250.9 L203.9,250.8 L204.3,250.6 L204.8,250.4 L205.2,250.3 L205.6,250.3 L206.0,250.4 L206.4,250.6 L206.7,250.9 L207.0,251.2 L207.4,251.6 L207.7,251.9 L208.1,252.0 L208.5,252.1 L208.9,252.1 L209.3,252.0" stroke="#1c1c1c" stroke-width="1.10"/>
<path d="M214.5,253.6 L214.9,253.7 L215.3,253.9 L215.6,254.2 L216.0,254.5 L216.4,254.7 L216.8,254.6 L217.2,254.5 L217.7,254.3 L218.1,254.1 L218.5,253.8 L219.0,253.6 L219.4,253.5 L219.8,253.5 L220.2,253.5 L220.6,253.7 L220.9,253.9 L221.3,254.2 L221.7,254.6 L222.0,254.9 L222.4,255.2 L222.8,255.5 L223.2,255.6 L223.6,255.6 L224.0,255.6 L224.4,255.4 L224.8,255.2 L225.3,255.0 L225.7,254.8 L226.1,254.6 L226.6,254.4 L227.0,254.4 L227.4,254.5 L227.7,254.6 L228.1,254.9 L228.5,255.2 L228.8,255.6 L229.2,255.9 L229.6,256.2 L229.9,256.4 L230.3,256.6 L230.7,256.6 L231.1,256.5 L231.6,256.4 L232.0,256.2 L232.4,255.9 L232.9,255.7 L233.3,255.5 L233.7,255.4 L234.1,255.4 L234.5,255.4 L234.9,255.6 L235.3,255.9 L235.6,256.2 L236.0,256.5 L236.4,256.9 L236.7,257.2 L237.1,257.4 L237.5,257.5 L237.9,257.5 L238.3,257.5 L238.7,257.3 L239.2,257.1 L239.6,256.9 L240.0,256.6 L240.5,256.4 L240.9,256.3 L241.3,256.3 L241.7,256.3 L242.1,256.5 L242.4,256.8 L242.8,257.1 L243.2,257.4 L243.6,257.7 L243.9,258.0 L244.3,258.2 L244.7,258.3 L245.1,258.3 L245.5,258.2 L246.0,258.0 L246.4,257.8 L246.8,257.5 L247.2,257.3 L247.7,257.1 L248.1,256.9 L248.5,256.9 L248.9,257.0 L249.3,257.2 L249.6,257.4 L250.0,257.7 L250.4,258.1 L250.8,258.4 L251.1,258.6 L251.5,258.8 L251.9,258.9 L252.3,258.9 L252.7,258.8 L253.2,258.6 L253.6,258.4 L254.0,258.1 L254.4,257.9 L254.9,257.7 L255.3,257.6 L255.7,257.6 L256.1,257.6 L256.5,257.8 L256.8,258.1 L257.2,258.4 L257.6,258.7 L258.0,259.0 L258.3,259.3 L258.7,259.5 L259.1,259.6 L259.5,259.6 L259.9,259.4 L260.4,259.3 L260.8,259.0 L261.2,258.8 L261.6,258.5 L262.1,258.3 L262.5,258.2 L262.9,258.2 L263.3,258.3 L263.7,258.5 L264.0,258.8 L264.4,259.1 L264.8,259.4 L265.2,259.7 L265.5,260.0 L265.9,260.1 L266.3,260.2 L266.7,260.2 L267.1,260.1 L267.6,259.9 L268.0,259.6 L268.4,259.4 L268.8,259.1 L269.3,259.0 L269.7,258.9 L270.1,258.9 L270.5,259.0 L270.9,259.2 L271.3,259.5 L271.6,259.9 L271.9,260.2 L272.3,260.5 L272.7,260.8 L273.0,261.0 L273.4,261.1 L273.8,261.1 L274.3,261.0 L274.7,260.9 L275.1,260.7 L275.6,260.4 L276.0,260.2 L276.4,260.1 L276.9,260.0 L277.3,260.0 L277.6,260.2 L278.0,260.4 L278.4,260.7 L278.7,261.1 L279.1,261.4 L279.4,261.7 L279.8,262.0 L280.2,262.2 L280.6,262.3 L281.0,262.3 L281.4,262.2 L281.8,262.0 L282.3,261.8 L282.7,261.6 L283.1,261.4 L283.6,261.3 L284.0,261.2 L284.4,261.2 L284.8,261.4 L285.1,261.6 L285.5,261.9 L285.8,262.3 L286.2,262.6 L286.5,262.9 L286.9,263.2 L287.3,263.4 L287.7,263.5 L288.1,263.5 L288.5,263.4 L288.9,263.2 L289.4,263.0 L289.8,262.8 L290.3,262.6 L290.7,262.4 L291.1,262.4 L291.5,262.4 L291.9,262.6 L292.3,262.8 L292.6,263.1 L293.0,263.5 L293.3,263.8 L293.7,264.1 L294.0,264.4 L294.4,264.6 L294.8,264.7 L295.2,264.7 L295.6,264.5 L296.1,264.4 L296.5,264.2 L297.0,263.9 L297.4,263.7 L297.8,263.6 L298.2,263.6 L298.6,263.6 L299.0,263.7 L299.4,264.0 L299.7,264.2 L300.1,264.6 L300.5,264.9 L300.9,265.2 L301.2,265.4 L301.6,265.6 L302.0,265.6 L302.4,265.6 L302.8,265.4 L303.3,265.2 L303.7,265.0 L304.1,264.7 L304.5,264.5 L305.0,264.3 L305.4,264.2 L305.8,264.3 L306.2,264.4 L306.6,264.6 L306.9,264.9 L307.3,265.2 L307.7,265.6 L308.1,265.9 L308.4,266.1 L308.8,266.2 L309.2,266.3 L309.6,266.2 L310.1,266.1 L310.5,265.8 L310.9,265.6 L311.3,265.3 L311.7,265.1 L312.2,265.0 L312.6,264.9 L313.0,264.9 L313.4,265.1 L313.7,265.3 L314.1,265.6 L314.5,265.9 L314.9,266.2 L315.3,266.5 L315.6,266.8 L316.0,266.9 L316.4,266.9 L316.8,266.9 L317.3,266.7 L317.7,266.5 L318.1,266.3 L318.6,266.1 L319.0,266.0 L319.4,265.9 L319.9,265.9 L320.2,266.0 L320.6,266.2 L320.9,266.5 L321.3,266.8 L321.6,267.2 L321.9,267.6 L322.2,267.9 L322.6,268.2 L322.9,268.4 L323.3,268.5 L323.7,268.5 L324.2,268.4 L324.6,268.2 L325.1,268.0 L325.6,267.9 L326.0,267.7 L326.4,267.6 L326.9,267.7 L327.2,267.8 L327.6,268.0 L327.9,268.3 L328.3,268.6 L328.6,269.0 L328.9,269.4 L329.2,269.7 L329.6,270.0 L329.9,270.2 L330.3,270.3 L330.8,270.3 L331.2,270.2 L331.6,270.0 L332.1,269.8 L332.6,269.6 L333.0,269.5 L333.4,269.4 L333.9,269.4 L334.2,269.6 L334.6,269.8 L334.9,270.1 L335.3,270.4 L335.6,270.8 L335.9,271.2 L336.2,271.5 L336.6,271.8 L336.9,272.0 L337.3,272.0 L337.8,272.0 L338.2,271.9 L338.7,271.8 L339.1,271.6 L339.6,271.4 L340.0,271.3 L340.5,271.2 L340.9,271.2 L341.2,271.3 L341.6,271.6 L341.9,271.9 L342.3,272.2 L342.6,272.6 L342.9,273.0 L343.2,273.3 L343.6,273.6 L343.9,273.8 L344.3,273.8 L344.8,273.8 L345.2,273.7 L345.7,273.5 L346.1,273.3 L346.6,273.2 L347.0,273.0 L347.5,273.0 L347.9,273.0 L348.2,273.1 L348.6,273.4 L348.9,273.7 L349.3,274.0 L349.6,274.4 L349.9,274.8 L350.2,275.1 L350.6,275.4 L350.9,275.5 L351.3,275.6 L351.8,275.6 L352.2,275.5 L352.7,275.3 L353.1,275.1 L353.6,274.9 L354.0,274.8 L354.5,274.7 L354.9,274.8 L355.2,274.9 L355.6,275.2 L355.9,275.5 L356.3,275.8 L356.6,276.2 L356.9,276.6 L357.2,276.9 L357.6,277.2 L357.9,277.3 L358.3,277.4 L358.8,277.4 L359.2,277.2 L359.7,277.1 L360.1,276.9 L360.6,276.7 L361.0,276.6 L361.5,276.5 L361.9,276.6 L362.2,276.7 L362.6,277.0 L362.9,277.3 L363.2,277.7 L363.6,278.1 L363.9,278.4 L364.2,278.7 L364.6,279.0 L364.9,279.1 L365.3,279.2 L365.8,279.2 L366.2,279.0 L366.7,278.9 L367.1,278.7 L367.6,278.5 L368.0,278.4 L368.5,278.4 L368.9,278.4 L369.2,278.6 L369.6,278.8 L369.9,279.1 L370.2,279.5 L370.5,279.9 L370.9,280.3 L371.2,280.6 L371.5,280.8 L371.9,281.0 L372.3,281.0 L372.7,281.0 L373.2,280.9 L373.7,280.7 L374.1,280.5 L374.6,280.3 L375.0,280.2 L375.4,280.2 L375.8,280.2 L376.2,280.4 L376.6,280.6 L376.9,281.0 L377.2,281.3 L377.5,281.7 L377.8,282.1 L378.2,282.4 L378.5,282.6 L378.9,282.8 L379.3,282.8 L379.7,282.8 L380.2,282.7 L380.6,282.5 L381.1,282.3 L381.6,282.1 L382.0,282.0 L382.4,282.0 L382.8,282.1 L383.2,282.2 L383.6,282.5 L383.9,282.8 L384.2,283.2 L384.5,283.6 L384.8,283.9 L385.2,284.2 L385.5,284.5 L385.9,284.6 L386.3,284.6 L386.7,284.6 L387.2,284.5 L387.6,284.3 L388.1,284.1 L388.6,283.9 L389.0,283.8 L389.4,283.8 L389.8,283.9 L390.2,284.1 L390.6,284.4 L390.9,284.7 L391.2,285.1 L391.4,285.5 L391.7,285.9 L392.0,286.3 L392.4,286.5 L392.7,286.7 L393.1,286.7 L393.6,286.7 L394.0,286.6 L394.5,286.5 L395.0,286.4 L395.4,286.2 L395.9,286.2 L396.3,286.2 L396.7,286.3 L397.1,286.5 L397.4,286.8 L397.7,287.2 L398.0,287.6 L398.2,288.0 L398.5,288.4 L398.8,288.7 L399.2,289.0 L399.5,289.1 L399.9,289.2 L400.4,289.2 L400.8,289.1 L401.3,288.9 L401.8,288.8 L402.2,288.6 L402.6,288.5 L403.1,288.5 L403.5,288.6 L403.8,288.7 L404.2,289.0 L404.5,289.3 L404.8,289.7 L405.1,290.1 L405.5,290.4 L405.8,290.7 L406.2,291.0 L406.5,291.1 L406.9,291.1 L407.4,291.0 L407.8,290.9 L408.3,290.7 L408.7,290.5 L409.2,290.4 L409.6,290.3 L410.0,290.2 L410.4,290.3 L410.8,290.5 L411.2,290.7 L411.5,291.1 L411.8,291.5 L412.1,291.8 L412.4,292.2 L412.8,292.5 L413.1,292.7 L413.5,292.8 L413.9,292.9 L414.4,292.8 L414.8,292.6 L415.3,292.5 L415.7,292.3 L416.2,292.1 L416.6,292.0 L417.0,292.0 L417.4,292.1 L417.8,292.2 L418.1,292.5 L418.5,292.8 L418.8,293.2 L419.1,293.6 L419.4,293.9 L419.8,294.2 L420.1,294.5 L420.5,294.6 L420.9,294.6 L421.3,294.5 L421.8,294.4 L422.3,294.2 L422.7,294.0 L423.2,293.9 L423.6,293.8 L424.0,293.7 L424.4,293.8 L424.8,294.0 L425.1,294.2 L425.5,294.6 L425.8,294.9 L426.1,295.3 L426.4,295.7 L426.8,296.0 L427.1,296.2 L427.4,296.3 L427.8,296.4 L428.3,296.3 L428.8,296.2 L429.2,296.2 L429.6,296.3 L430.0,296.5" stroke="#1c1c1c" stroke-width="1.10"/>
<path d="M227.5,265.8 L227.9,265.9 L228.3,266.0 L228.7,266.2 L229.1,266.4 L229.5,266.6 L229.9,266.5 L230.3,266.3 L230.7,266.0 L231.1,265.8 L231.5,265.5 L231.9,265.2 L232.3,265.1 L232.7,265.0 L233.1,265.0 L233.5,265.1 L233.9,265.2 L234.3,265.5 L234.7,265.8 L235.1,266.0 L235.5,266.3 L235.9,266.4 L236.3,266.5 L236.7,266.5 L237.1,266.4 L237.5,266.2 L237.9,265.9 L238.3,265.7 L238.7,265.4 L239.1,265.2 L239.5,265.0 L239.9,264.9 L240.4,264.9 L240.8,265.0 L241.2,265.2 L241.6,265.4 L242.0,265.7 L242.4,266.0 L242.8,266.2 L243.2,266.4 L243.6,266.5 L244.0,266.4 L244.4,266.3 L244.8,266.1 L245.2,265.9 L245.6,265.6 L246.0,265.3 L246.4,265.1 L246.8,264.9 L247.2,264.8 L247.6,264.8 L248.0,265.0 L248.4,265.2 L248.8,265.4 L249.2,265.7 L249.6,265.9 L250.0,266.2 L250.4,266.3 L250.8,266.4 L251.2,266.4 L251.6,266.3 L252.0,266.1 L252.4,265.9 L252.8,265.6 L253.2,265.3 L253.6,265.1 L254.0,265.0 L254.4,264.9 L254.8,264.9 L255.2,265.0 L255.6,265.3 L256.0,265.5 L256.4,265.8 L256.8,266.1 L257.2,266.3 L257.6,266.5 L258.0,266.6 L258.4,266.5 L258.8,266.4 L259.2,266.2 L259.6,266.0 L260.0,265.7 L260.4,265.5 L260.8,265.2 L261.2,265.1 L261.6,265.0 L262.0,265.1 L262.4,265.2 L262.8,265.4 L263.2,265.7 L263.6,265.9 L264.0,266.2 L264.4,266.5 L264.8,266.6 L265.2,266.7 L265.6,266.7 L266.0,266.6 L266.4,266.4 L266.8,266.1 L267.2,265.9 L267.6,265.6 L268.0,265.4 L268.4,265.2 L268.8,265.2 L269.2,265.2 L269.6,265.3 L270.0,265.5 L270.4,265.8 L270.8,266.1 L271.2,266.3 L271.6,266.5 L272.0,266.7 L272.4,266.7 L272.8,266.7 L273.2,266.6 L273.6,266.4 L274.0,266.1 L274.4,265.8 L274.8,265.6 L275.2,265.3 L275.6,265.2 L276.0,265.1 L276.4,265.1 L276.8,265.2 L277.2,265.4 L277.6,265.6 L278.0,265.9 L278.4,266.2 L278.8,266.4 L279.2,266.5 L279.6,266.6 L280.0,266.6 L280.4,266.4 L280.8,266.2 L281.2,266.0 L281.6,265.7 L282.0,265.4 L282.4,265.2 L282.8,265.0 L283.2,264.9 L283.6,265.0 L284.0,265.1 L284.4,265.3 L284.8,265.5 L285.2,265.8 L285.6,266.0 L286.0,266.2 L286.4,266.4 L286.8,266.5 L287.2,266.4 L287.6,266.3 L288.0,266.1 L288.4,265.8 L288.8,265.5 L289.2,265.3 L289.6,265.0 L290.0,264.9 L290.4,264.8 L290.8,264.8 L291.2,264.9 L291.6,265.1 L292.0,265.3 L292.4,265.6 L292.8,265.8 L293.2,266.0 L293.6,266.2 L294.0,266.2 L294.4,266.2 L294.8,266.1 L295.2,265.8 L295.6,265.6 L296.0,265.3 L296.4,265.0 L296.8,264.8 L297.2,264.6 L297.6,264.5 L298.0,264.5 L298.4,264.6 L298.8,264.8 L299.2,265.0 L299.6,265.3 L300.0,265.6 L300.4,265.8 L300.8,265.9 L301.2,266.0 L301.6,265.9 L302.0,265.8 L302.4,265.6 L302.8,265.3 L303.2,265.0 L303.6,264.7 L304.0,264.5 L304.4,264.3 L304.8,264.2 L305.2,264.2 L305.6,264.3 L306.0,264.5 L306.4,264.8 L306.8,265.0 L307.2,265.1 L307.6,265.0 L308.0,264.9" stroke="#1c1c1c" stroke-width="1.10"/>
<path d="M244.0,283.6 L244.4,283.6 L244.8,283.8 L245.2,284.0 L245.6,284.2 L246.0,284.4 L246.4,284.2 L246.8,284.0 L247.2,283.8 L247.6,283.5 L248.0,283.2 L248.4,282.9 L248.8,282.7 L249.2,282.6 L249.6,282.5 L250.0,282.6 L250.4,282.8 L250.8,283.1 L251.2,283.3 L251.6,283.6 L252.0,283.8 L252.4,284.0 L252.8,284.1 L253.2,284.1 L253.6,284.0 L254.0,283.8 L254.4,283.5 L254.8,283.2 L255.2,282.9 L255.6,282.6 L256.0,282.4 L256.4,282.3 L256.8,282.3 L257.2,282.4 L257.6,282.5 L258.0,282.8 L258.4,283.1 L258.8,283.3 L259.2,283.6 L259.6,283.7 L260.0,283.8 L260.4,283.8 L260.8,283.7 L261.2,283.5 L261.6,283.2 L262.0,282.9 L262.4,282.6 L262.8,282.3 L263.2,282.1 L263.6,282.0 L264.0,282.0 L264.4,282.1 L264.8,282.3 L265.2,282.5 L265.6,282.8 L266.0,283.1 L266.4,283.3 L266.8,283.5 L267.2,283.5 L267.6,283.5 L268.0,283.4 L268.4,283.2 L268.8,282.9 L269.2,282.6 L269.6,282.3 L270.0,282.0 L270.4,281.8 L270.8,281.7 L271.2,281.7 L271.6,281.8 L272.0,282.0 L272.4,282.2 L272.8,282.5 L273.2,282.8 L273.6,283.0 L274.1,283.2 L274.5,283.2 L274.9,283.2 L275.3,283.1 L275.6,282.8 L276.0,282.6 L276.4,282.3 L276.8,281.9 L277.2,281.7 L277.6,281.5 L278.0,281.4 L278.4,281.4 L278.8,281.5 L279.2,281.6 L279.6,281.9 L280.0,282.2 L280.5,282.4 L280.9,282.7 L281.3,282.8 L281.7,282.9 L282.1,282.8 L282.5,282.7 L282.9,282.5 L283.3,282.2 L283.6,281.9 L284.0,281.6 L284.4,281.3 L284.8,281.1 L285.2,281.0 L285.6,281.0 L286.0,281.1 L286.4,281.3 L286.8,281.6 L287.3,281.8 L287.7,282.1 L288.1,282.3 L288.5,282.5 L288.9,282.5 L289.3,282.5 L289.7,282.3 L290.1,282.1 L290.5,281.8 L290.9,281.5 L291.3,281.2 L291.6,280.9 L292.0,280.8 L292.4,280.7 L292.8,280.7 L293.2,280.8 L293.7,281.0 L294.1,281.2 L294.5,281.5 L294.9,281.8 L295.3,282.0 L295.7,282.1 L296.1,282.2 L296.5,282.1 L296.9,282.0 L297.3,281.7 L297.7,281.4 L298.1,281.1 L298.5,280.8 L298.9,280.6 L299.4,280.4 L299.8,280.4 L300.2,280.5 L300.6,280.6 L300.9,280.9 L301.3,281.2 L301.7,281.5 L302.1,281.8 L302.5,282.1 L302.9,282.3 L303.3,282.4 L303.7,282.4 L304.1,282.2 L304.5,282.0 L304.9,281.8 L305.3,281.5 L305.8,281.3 L306.2,281.1 L306.6,281.0 L307.0,280.9 L307.4,281.0 L307.8,281.2 L308.2,281.5 L308.5,281.8 L308.9,282.1 L309.3,282.4 L309.7,282.6 L310.1,282.8 L310.5,282.9 L310.9,282.9 L311.3,282.7 L311.7,282.5 L312.1,282.3 L312.6,282.0 L313.0,281.8 L313.4,281.6 L313.8,281.5 L314.2,281.5 L314.6,281.6 L315.0,281.7 L315.4,282.0 L315.8,282.3 L316.1,282.6 L316.5,282.9 L316.9,283.2 L317.3,283.4 L317.7,283.4 L318.1,283.4 L318.5,283.2 L318.9,283.0 L319.4,282.8 L319.8,282.5 L320.2,282.3 L320.6,282.1 L321.0,282.0 L321.4,282.0 L321.8,282.1 L322.2,282.3 L322.6,282.6 L323.0,282.9 L323.4,283.2 L323.8,283.5 L324.1,283.7 L324.5,283.9 L324.9,283.9 L325.3,283.9 L325.8,283.7 L326.2,283.5 L326.6,283.3 L327.0,283.0 L327.4,282.8 L327.9,282.6 L328.3,282.6 L328.7,282.6 L329.1,282.8 L329.5,283.0 L329.8,283.3 L330.2,283.7 L330.5,284.0 L330.9,284.4 L331.2,284.6 L331.6,284.8 L332.0,284.9 L332.4,284.9 L332.8,284.8 L333.3,284.6 L333.7,284.4 L334.2,284.2 L334.6,284.0 L335.0,283.9 L335.4,283.8 L335.8,283.9 L336.2,284.0 L336.6,284.3 L336.9,284.6 L337.3,284.9 L337.6,285.3 L338.0,285.6 L338.3,285.9 L338.7,286.1 L339.1,286.2 L339.5,286.1 L339.9,286.0 L340.4,285.9 L340.8,285.6 L341.3,285.4 L341.7,285.2 L342.1,285.1 L342.5,285.1 L342.9,285.1 L343.3,285.3 L343.7,285.5 L344.0,285.8 L344.4,286.2 L344.7,286.6 L345.1,286.9 L345.4,287.2 L345.8,287.3 L346.2,287.4 L346.6,287.4 L347.0,287.3 L347.5,287.1 L347.9,286.9 L348.4,286.7 L348.8,286.5 L349.2,286.4 L349.6,286.3 L350.0,286.4 L350.4,286.5 L350.8,286.8 L351.1,287.1 L351.5,287.5 L351.8,287.8 L352.2,288.2 L352.5,288.4 L352.9,288.6 L353.3,288.7 L353.7,288.6 L354.1,288.5 L354.6,288.4 L355.0,288.1 L355.5,287.9 L355.9,287.7 L356.3,287.6 L356.7,287.6 L357.1,287.6 L357.5,287.8 L357.9,288.0 L358.2,288.3 L358.6,288.7 L358.9,289.0 L359.3,289.3 L359.6,289.6 L360.0,289.8 L360.4,289.8 L360.8,289.8 L361.2,289.7 L361.7,289.5 L362.1,289.3 L362.5,289.1 L363.0,288.9 L363.4,288.7 L363.8,288.7 L364.2,288.7 L364.6,288.9 L364.9,289.1 L365.3,289.4 L365.6,289.8 L366.0,290.1 L366.3,290.4 L366.7,290.7 L367.1,290.9 L367.5,290.9 L367.9,290.9 L368.3,290.8 L368.7,290.6 L369.2,290.4 L369.6,290.2 L370.0,290.0 L370.5,289.9 L370.9,289.8 L371.3,289.8 L371.7,290.0 L372.0,290.2 L372.4,290.5 L372.7,290.8 L373.1,291.2 L373.4,291.5 L373.8,291.8 L374.2,292.0 L374.5,292.1 L374.9,292.0 L375.4,291.9 L375.8,291.8 L376.2,291.6 L376.7,291.3 L377.1,291.1 L377.5,291.0 L377.9,290.9 L378.3,290.9 L378.7,291.0 L379.1,291.3 L379.5,291.6 L379.8,291.9 L380.1,292.2 L380.5,292.6 L380.9,292.9 L381.2,293.1 L381.6,293.2 L382.0,293.2 L382.4,293.1 L382.9,292.9 L383.3,292.7 L383.7,292.5 L384.2,292.3 L384.6,292.1 L385.0,292.0 L385.4,292.0 L385.8,292.1 L386.2,292.3 L386.5,292.6 L386.9,293.0 L387.2,293.3 L387.6,293.6 L387.9,293.9 L388.3,294.1 L388.7,294.3 L389.1,294.3 L389.5,294.2 L389.9,294.0 L390.3,293.9 L390.8,293.7 L391.3,293.5 L391.7,293.4 L392.2,293.4 L392.6,293.4 L392.9,293.6 L393.3,293.9 L393.6,294.2 L393.9,294.6 L394.2,295.0 L394.6,295.4 L394.9,295.7 L395.2,295.9 L395.6,296.1 L396.0,296.1 L396.5,296.1 L396.9,295.9 L397.4,295.8 L397.9,295.6 L398.3,295.4 L398.8,295.4 L399.2,295.3 L399.6,295.4 L400.0,295.6 L400.3,295.9 L400.6,296.2 L400.9,296.6 L401.2,297.0 L401.6,297.4 L401.9,297.7 L402.3,297.9 L402.6,298.0 L403.0,298.0 L403.5,298.0 L403.9,297.8 L404.4,297.6 L404.8,297.5 L405.3,297.3 L405.7,297.2 L406.1,297.2 L406.5,297.3 L406.9,297.4 L407.2,297.7 L407.6,298.0 L407.9,298.4 L408.2,298.8 L408.5,299.1 L408.8,299.4 L409.2,299.6 L409.6,299.8 L410.0,299.8 L410.4,299.8 L410.8,299.6 L411.3,299.4 L411.7,299.3 L412.2,299.1 L412.6,299.0 L413.0,299.0 L413.4,299.0 L413.8,299.2 L414.2,299.4 L414.5,299.7 L414.8,300.1 L415.1,300.5 L415.4,300.8 L415.8,301.2 L416.1,301.4 L416.5,301.5 L416.9,301.6 L417.3,301.4 L417.8,301.3 L418.2,301.2 L418.6,301.2 L419.0,301.3" stroke="#1c1c1c" stroke-width="1.10"/>
<path d="M458.7,281.0 L459.1,281.1 L459.5,281.4 L459.8,281.6 L460.2,281.9 L460.5,282.1 L460.9,282.1 L461.4,282.0 L461.8,281.9 L462.3,281.7 L462.7,281.5 L463.1,281.3 L463.6,281.2 L464.0,281.2 L464.4,281.3 L464.8,281.5 L465.1,281.7 L465.4,282.1 L465.7,282.4 L466.0,282.8 L466.4,283.1 L466.7,283.4 L467.0,283.6 L467.4,283.8 L467.8,283.8 L468.2,283.7 L468.6,283.6 L469.1,283.5 L469.5,283.3 L470.0,283.2 L470.4,283.1 L470.9,283.2 L471.2,283.3 L471.6,283.5 L471.9,283.7 L472.2,284.1 L472.5,284.5 L472.8,284.9 L473.1,285.2 L473.4,285.6 L473.8,285.8 L474.2,286.0 L474.6,286.0 L475.0,286.0 L475.5,285.9 L475.9,285.8 L476.4,285.6 L476.9,285.5 L477.3,285.5 L477.7,285.5 L478.0,285.6 L478.4,285.7 L478.7,286.0 L479.1,286.3 L479.4,286.6 L479.7,287.0 L480.0,287.3 L480.3,287.6 L480.7,287.8 L481.1,287.9 L481.4,288.0 L481.9,287.9 L482.3,287.8 L482.7,287.7 L483.2,287.4 L483.6,287.1 L484.0,286.9 L484.4,286.7 L484.8,286.7 L485.2,286.8 L485.6,286.9 L486.1,287.1 L486.5,287.5 L486.7,287.9 L487.0,288.3 L487.3,288.6 L487.7,288.9 L488.0,289.1 L488.4,289.1 L488.8,289.1 L489.3,289.1 L489.7,289.0 L490.2,288.8 L490.7,288.7 L491.1,288.7 L491.5,288.7 L491.9,288.8 L492.3,289.0 L492.6,289.2 L492.9,289.6 L493.2,289.9 L493.5,290.3 L493.8,290.7 L494.1,291.0 L494.4,291.3 L494.8,291.5 L495.1,291.6 L495.5,291.6 L496.0,291.6 L496.4,291.5 L496.9,291.4 L497.4,291.3 L497.8,291.3 L498.3,291.3 L498.7,291.4 L499.0,291.6 L499.3,291.9 L499.6,292.3 L499.9,292.7 L500.1,293.1 L500.4,293.5 L500.7,293.8 L501.0,294.1 L501.3,294.3 L501.7,294.5 L502.1,294.5 L502.6,294.5 L503.0,294.4 L503.5,294.3 L504.0,294.2 L504.4,294.2 L504.9,294.2 L505.3,294.3 L505.6,294.5 L505.9,294.8 L506.2,295.2 L506.5,295.6 L506.7,296.0 L507.0,296.4 L507.3,296.7 L507.6,297.0 L507.9,297.2 L508.3,297.3 L508.7,297.4 L509.2,297.3 L509.6,297.3 L510.1,297.2 L510.6,297.1 L511.0,297.1 L511.5,297.1 L511.8,297.2 L512.2,297.4 L512.5,297.7 L512.8,298.0 L513.0,298.4 L513.3,298.8 L513.6,299.2 L513.8,299.6 L514.1,299.9 L514.5,300.1 L514.9,300.2 L515.3,300.2 L515.7,300.2 L516.2,300.1 L516.7,300.0 L517.1,299.9 L517.6,299.9 L518.0,299.9 L518.4,300.0 L518.8,300.2 L519.1,300.5 L519.4,300.8 L519.6,301.2 L519.9,301.6 L520.1,302.0 L520.4,302.4 L520.7,302.7 L521.0,302.9 L521.4,303.0 L521.8,303.1 L522.3,303.0 L522.7,303.0 L523.2,302.9 L523.7,302.8 L524.1,302.7 L524.6,302.7 L525.0,302.8 L525.3,303.0 L525.6,303.3 L525.9,303.6 L526.2,304.0 L526.5,304.4 L526.8,304.8 L527.0,305.2 L527.4,305.5 L527.7,305.7 L528.1,305.8 L528.5,305.9 L528.9,305.8 L529.4,305.7 L529.9,305.6 L530.4,305.6 L530.8,305.5 L531.3,305.5 L531.7,305.6 L532.0,305.8 L532.3,306.1 L532.6,306.4 L532.9,306.8 L533.2,307.2 L533.4,307.6 L533.7,308.0 L534.0,308.3 L534.4,308.5 L534.8,308.6 L535.2,308.6 L535.7,308.6 L536.1,308.5 L536.6,308.4 L537.0,308.3 L537.5,308.3 L537.9,308.3 L538.3,308.4 L538.6,308.5 L539.0,308.8 L539.3,309.1 L539.5,309.5 L539.8,309.9 L540.1,310.2 L540.4,310.4 L540.8,310.6 L541.2,310.6 L541.6,310.6" stroke="#1c1c1c" stroke-width="1.10"/>
<path d="M429.1,296.2 L429.5,296.3 L429.9,296.4 L430.3,296.6 L430.8,296.8 L431.2,297.0 L431.6,296.8 L432.0,296.6 L432.4,296.4 L432.8,296.1 L433.2,295.8 L433.6,295.6 L434.0,295.4 L434.5,295.3 L434.9,295.4 L435.3,295.5 L435.7,295.7 L436.1,296.0 L436.5,296.2 L436.9,296.5 L437.3,296.7 L437.7,296.8 L438.1,296.9 L438.5,296.8 L438.9,296.7 L439.3,296.5 L439.7,296.2 L440.1,296.0 L440.4,295.7 L440.8,295.5 L441.2,295.3 L441.6,295.2 L442.0,295.3 L442.4,295.4 L442.8,295.6 L443.2,295.8 L443.6,296.1 L444.0,296.4 L444.4,296.6 L444.8,296.7 L445.2,296.8 L445.6,296.8 L446.0,296.6 L446.4,296.4 L446.8,296.2 L447.2,295.9 L447.6,295.6 L448.1,295.4 L448.5,295.2 L448.9,295.2 L449.3,295.2 L449.7,295.4 L450.1,295.6 L450.5,295.9 L450.9,296.1 L451.3,296.4 L451.7,296.6 L452.1,296.8 L452.5,296.8 L452.9,296.7 L453.4,296.6 L453.8,296.4 L454.2,296.1 L454.6,295.8 L455.0,295.6 L455.4,295.4 L455.8,295.3 L456.2,295.2 L456.6,295.3 L457.0,295.5 L457.4,295.7 L457.8,296.0 L458.2,296.3 L458.6,296.6 L459.0,296.8 L459.4,296.9 L459.8,297.0 L460.2,296.9 L460.6,296.8 L461.0,296.5 L461.4,296.3 L461.8,296.0 L462.2,295.8 L462.6,295.6 L463.1,295.5 L463.5,295.6 L463.9,295.7 L464.2,295.9 L464.6,296.2 L464.9,296.5 L465.3,296.8 L465.6,297.2 L466.0,297.4 L466.3,297.6 L466.7,297.7 L467.1,297.8 L467.5,297.7 L467.9,297.6 L468.3,297.4 L468.8,297.2 L469.2,297.0 L469.6,296.9 L470.1,296.9 L470.5,296.9 L470.9,297.1 L471.3,297.4 L471.6,297.7 L471.9,298.1 L472.2,298.5 L472.5,298.9 L472.8,299.2 L473.1,299.5 L473.5,299.7 L473.9,299.8 L474.3,299.8 L474.8,299.7 L475.3,299.6 L475.7,299.5 L476.2,299.4 L476.6,299.3 L477.0,299.3 L477.4,299.5 L477.7,299.6 L478.1,299.9 L478.3,300.2 L478.6,300.6 L478.9,301.0 L479.1,301.4 L479.4,301.7 L479.7,302.0 L480.1,302.2 L480.4,302.4 L480.8,302.4 L481.2,302.4 L481.7,302.3 L482.2,302.2 L482.6,302.1 L483.1,302.1 L483.5,302.1 L483.9,302.2 L484.3,302.3 L484.6,302.6 L484.9,302.9 L485.1,303.3 L485.4,303.7 L485.6,304.1 L485.9,304.5 L486.2,304.8 L486.5,305.0 L486.8,305.2 L487.2,305.3 L487.6,305.3 L488.1,305.3 L488.6,305.2 L489.0,305.1 L489.5,305.1 L489.9,305.1 L490.3,305.1 L490.7,305.3 L491.0,305.5 L491.3,305.8 L491.6,306.2 L491.8,306.6 L492.0,307.0 L492.3,307.4 L492.5,307.7 L492.8,308.0 L493.1,308.3 L493.5,308.4 L493.9,308.5 L494.3,308.5 L494.7,308.5 L495.2,308.4 L495.7,308.3 L496.1,308.3 L496.5,308.4 L496.9,308.5 L497.3,308.7 L497.6,308.9 L497.8,309.3 L498.1,309.7 L498.3,310.1 L498.6,310.6 L498.8,311.0 L499.1,311.3 L499.4,311.6 L499.8,311.7 L500.2,311.8 L500.6,311.8 L501.1,311.8 L501.6,311.7 L502.1,311.7 L502.6,311.7 L503.0,311.7 L503.4,311.8 L503.7,312.0 L504.0,312.3 L504.3,312.7 L504.5,313.1 L504.8,313.6 L505.0,314.0 L505.3,314.4 L505.5,314.7 L505.9,314.9 L506.2,315.1 L506.7,315.1 L507.1,315.1 L507.6,315.1 L508.1,315.0 L508.5,315.0 L509.0,315.0 L509.4,315.0 L509.8,315.2 L510.1,315.4 L510.4,315.7 L510.7,316.1 L510.9,316.5 L511.2,316.9 L511.4,317.3 L511.6,317.7 L511.9,318.0 L512.3,318.3 L512.6,318.4 L513.1,318.5 L513.5,318.5 L514.0,318.4 L514.4,318.4 L514.9,318.3 L515.3,318.3 L515.7,318.3 L516.1,318.5 L516.5,318.7 L516.8,318.9 L517.0,319.3 L517.2,319.7 L517.5,320.1 L517.8,320.3 L518.1,320.5 L518.5,320.6" stroke="#1c1c1c" stroke-width="1.10"/>
<path d="M656.6,273.7 L657.0,273.9 L657.3,274.1 L657.6,274.4 L658.0,274.7 L658.3,275.0 L658.7,275.0 L659.1,274.9 L659.6,274.8 L660.1,274.6 L660.5,274.5 L661.0,274.3 L661.4,274.3 L661.8,274.3 L662.2,274.5 L662.5,274.7 L662.8,275.0 L663.2,275.4 L663.5,275.8 L663.8,276.1 L664.1,276.5 L664.4,276.7 L664.8,276.9 L665.2,276.9 L665.6,276.9 L666.1,276.8 L666.5,276.6 L667.0,276.5 L667.4,276.3 L667.9,276.2 L668.3,276.2 L668.7,276.3 L669.0,276.5 L669.4,276.7 L669.7,277.1 L670.0,277.5 L670.3,277.8 L670.7,278.1 L671.0,278.4 L671.4,278.6 L671.8,278.7 L672.2,278.7 L672.6,278.6 L673.1,278.4 L673.5,278.2 L674.0,278.0 L674.4,277.8 L674.8,277.7 L675.3,277.7 L675.6,277.8 L676.0,278.0 L676.4,278.3 L676.7,278.6 L677.0,279.0 L677.4,279.3 L677.7,279.6 L678.1,279.9 L678.5,280.0 L678.9,280.0 L679.3,280.0 L679.7,279.8 L680.2,279.7 L680.6,279.5 L681.1,279.3 L681.5,279.2 L681.9,279.1 L682.3,279.1 L682.7,279.3 L683.0,279.6 L683.4,280.0 L683.7,280.2 L684.1,280.4 L684.5,280.4" stroke="#1c1c1c" stroke-width="1.10"/>
<path d="M684.5,280.4 L684.9,280.5 L685.3,280.6 L685.7,280.8 L686.1,281.0 L686.4,281.1 L686.8,281.0 L687.2,280.9 L687.6,280.7 L688.1,280.6 L688.5,280.4 L688.9,280.2 L689.3,280.1 L689.7,280.1 L690.1,280.1 L690.4,280.3 L690.8,280.5 L691.2,280.7 L691.6,280.8 L692.0,280.8" stroke="#1c1c1c" stroke-width="0.85"/>
<path d="M699.9,273.9 L700.3,274.0 L700.6,274.2 L701.0,274.5 L701.4,274.7 L701.7,275.0 L702.1,275.0 L702.5,274.9 L703.0,274.8 L703.4,274.7 L703.9,274.5 L704.3,274.4 L704.7,274.4 L705.1,274.4 L705.5,274.5 L705.9,274.6 L706.2,274.9 L706.6,275.1 L706.9,275.4 L707.3,275.7 L707.6,276.0 L708.0,276.3 L708.4,276.4 L708.8,276.5 L709.2,276.5 L709.6,276.4 L710.0,276.3 L710.5,276.2 L710.9,276.1 L711.3,276.0 L711.7,275.9 L712.2,275.9 L712.5,276.0 L712.9,276.2 L713.3,276.4 L713.6,276.7 L714.0,277.0 L714.3,277.3 L714.7,277.6 L715.0,277.8 L715.4,278.0 L715.8,278.0 L716.2,278.0 L716.6,278.0 L717.1,277.9 L717.5,277.8 L717.9,277.6 L718.4,277.5 L718.8,277.5 L719.2,277.5 L719.6,277.6 L720.0,277.7 L720.3,278.0 L720.7,278.2 L721.0,278.5 L721.4,278.8 L721.7,279.1 L722.1,279.3 L722.4,279.5 L722.8,279.6 L723.2,279.6 L723.7,279.5 L724.1,279.4 L724.5,279.3 L725.0,279.2 L725.4,279.1 L725.8,279.0 L726.2,279.0 L726.6,279.1 L727.0,279.3 L727.4,279.5 L727.7,279.8 L728.0,280.1 L728.4,280.4 L728.7,280.7 L729.1,280.9 L729.5,281.0 L729.9,281.1 L730.3,281.1 L730.7,281.1 L731.1,281.0 L731.6,280.9 L732.0,280.8 L732.4,280.7 L732.9,280.6 L733.3,280.7 L733.7,280.8 L734.0,281.0 L734.4,281.2 L734.7,281.5 L735.0,281.8 L735.4,282.1 L735.7,282.4 L736.1,282.6 L736.5,282.8 L736.8,282.9 L737.3,282.9 L737.7,282.9 L738.1,282.8 L738.6,282.7 L739.0,282.5 L739.4,282.5 L739.9,282.4 L740.3,282.4 L740.7,282.6 L741.0,282.7 L741.4,283.0 L741.7,283.3 L742.0,283.6 L742.4,283.9 L742.7,284.2 L743.1,284.4 L743.4,284.6 L743.8,284.7 L744.2,284.7 L744.7,284.6 L745.1,284.5 L745.6,284.4 L746.0,284.3 L746.4,284.2 L746.9,284.2 L747.3,284.2 L747.7,284.3 L748.0,284.5 L748.4,284.8 L748.7,285.1 L749.0,285.4 L749.4,285.7 L749.7,286.0 L750.1,286.2 L750.4,286.4 L750.8,286.5 L751.2,286.5 L751.7,286.4 L752.1,286.3 L752.6,286.2 L753.0,286.1 L753.4,286.0 L753.9,286.0 L754.3,286.0 L754.6,286.1 L755.0,286.3 L755.4,286.6 L755.7,286.9 L756.0,287.2 L756.4,287.5 L756.7,287.8 L757.1,288.0 L757.4,288.1 L757.8,288.2 L758.2,288.2 L758.7,288.2 L759.1,288.1 L759.6,288.0 L760.0,287.8 L760.4,287.8 L760.9,287.7 L761.3,287.8 L761.6,287.9 L762.0,288.1 L762.4,288.3 L762.7,288.6 L763.0,289.0 L763.4,289.2 L763.8,289.3 L764.2,289.3 L764.6,289.3" stroke="#1c1c1c" stroke-width="0.85"/>
<path d="M714.3,324.0 L714.7,324.0 L715.1,324.1 L715.5,324.2 L715.9,324.3 L716.3,324.3 L716.7,324.0 L717.1,323.8 L717.5,323.6 L717.9,323.4 L718.3,323.3 L718.7,323.3 L719.1,323.4 L719.5,323.5 L719.9,323.7 L720.3,323.9 L720.8,324.1 L721.2,324.1 L721.6,324.0 L721.9,323.9 L722.3,323.6 L722.7,323.4 L723.1,323.2 L723.5,323.0 L723.9,322.9 L724.3,323.0 L724.7,323.1 L725.1,323.3 L725.6,323.5 L726.0,323.7 L726.4,323.8 L726.8,323.8 L727.2,323.7 L727.6,323.5 L728.0,323.2 L728.3,323.0 L728.7,322.8 L729.1,322.7 L729.5,322.6 L729.9,322.7 L730.3,322.8 L730.8,323.0 L731.2,323.2 L731.6,323.4 L732.0,323.5 L732.4,323.4 L732.8,323.3 L733.2,323.1 L733.6,322.8 L734.0,322.6 L734.4,322.4 L734.8,322.3 L735.2,322.3 L735.6,322.4 L736.0,322.6 L736.4,322.8 L736.8,323.0 L737.2,323.1 L737.6,323.1 L738.0,323.1 L738.4,322.9 L738.8,322.7 L739.2,322.4 L739.6,322.2 L740.0,322.0 L740.4,322.0 L740.8,322.0 L741.2,322.1 L741.6,322.3 L742.0,322.5 L742.4,322.7 L742.8,322.8 L743.2,322.8 L743.6,322.7 L744.0,322.5 L744.4,322.3 L744.8,322.1 L745.1,321.8 L745.5,321.7 L745.9,321.6 L746.3,321.7 L746.7,321.8 L747.1,322.0 L747.5,322.2 L748.0,322.4 L748.4,322.5 L748.8,322.5 L749.2,322.4 L749.5,322.2 L749.9,321.9 L750.3,321.7 L750.7,321.5 L751.1,321.3 L751.5,321.3 L751.9,321.4 L752.3,321.5 L752.7,321.7 L753.1,321.9 L753.5,322.1 L753.9,322.1 L754.3,322.1 L754.7,322.0 L755.1,321.8 L755.5,321.6 L755.9,321.3 L756.2,321.1 L756.6,321.0 L757.0,321.0 L757.4,321.1 L757.8,321.2 L758.3,321.4 L758.7,321.6 L759.1,321.7 L759.5,321.8 L759.9,321.8 L760.3,321.6 L760.6,321.4 L761.0,321.2 L761.4,320.9 L761.8,320.8 L762.2,320.7 L762.6,320.6 L763.0,320.8 L763.4,321.0 L763.8,321.1 L764.2,321.1 L764.6,321.0" stroke="#1c1c1c" stroke-width="0.80"/>
<path d="M107.5,242.6 L107.9,242.7 L108.3,242.8 L108.7,243.1 L109.1,243.3 L109.5,243.5 L109.9,243.4 L110.3,243.2 L110.7,243.0 L111.1,242.7 L111.5,242.4 L111.9,242.2 L112.3,242.0 L112.7,241.9 L113.1,242.0 L113.5,242.1 L113.9,242.3 L114.3,242.6 L114.7,242.9 L115.1,243.2 L115.5,243.4 L115.9,243.6 L116.3,243.7 L116.7,243.7 L117.1,243.7 L117.5,243.5 L117.9,243.2 L118.3,243.0 L118.7,242.7 L119.1,242.4 L119.5,242.3 L120.0,242.2 L120.4,242.2 L120.7,242.3 L121.1,242.5 L121.5,242.8 L121.9,243.1 L122.3,243.4 L122.7,243.7 L123.1,243.9 L123.5,244.0 L123.9,244.0 L124.3,243.9 L124.7,243.7 L125.1,243.5 L125.5,243.2 L125.9,242.9 L126.4,242.7 L126.8,242.5 L127.2,242.4 L127.6,242.5 L128.0,242.6 L128.4,242.8 L128.7,243.1 L129.1,243.4 L129.5,243.7 L129.9,243.9 L130.3,244.1 L130.7,244.2 L131.1,244.2 L131.5,244.1 L131.9,243.9 L132.3,243.7 L132.7,243.4 L133.2,243.1 L133.6,242.9 L134.0,242.7 L134.4,242.7 L134.8,242.7 L135.2,242.8 L135.6,243.1 L136.0,243.3 L136.4,243.6 L136.7,243.9 L137.1,244.2 L137.5,244.4 L137.9,244.5 L138.3,244.5 L138.7,244.4 L139.1,244.2 L139.6,243.9 L140.0,243.7 L140.4,243.4 L140.8,243.1 L141.2,243.0 L141.6,242.9 L142.0,243.0 L142.4,243.1 L142.8,243.3 L143.2,243.6 L143.6,243.9 L144.0,244.2 L144.3,244.5 L144.7,244.6 L145.1,244.7 L145.5,244.7 L145.9,244.6 L146.4,244.4 L146.8,244.2 L147.2,243.9 L147.6,243.6 L148.0,243.4 L148.4,243.2 L148.8,243.2 L149.2,243.2 L149.6,243.3 L150.0,243.6 L150.4,243.9 L150.8,244.2 L151.2,244.5 L151.6,244.7 L152.0,244.9 L152.4,245.0 L152.8,245.0 L153.2,244.9 L153.6,244.7 L154.0,244.4 L154.4,244.1 L154.8,243.9 L155.2,243.6 L155.6,243.5 L156.0,243.4 L156.4,243.5 L156.8,243.6 L157.2,243.8 L157.6,244.1 L158.0,244.4 L158.4,244.7 L158.8,245.0 L159.2,245.2 L159.6,245.2 L160.0,245.2 L160.4,245.1 L160.8,244.9 L161.2,244.6 L161.6,244.3 L162.0,244.0 L162.4,243.8 L162.8,243.6 L163.2,243.6 L163.6,243.6 L164.0,243.8 L164.4,244.0 L164.8,244.3 L165.2,244.6 L165.6,244.8 L166.0,245.1 L166.4,245.2 L166.8,245.3 L167.2,245.3 L167.6,245.1 L168.0,244.9 L168.4,244.7 L168.8,244.4 L169.2,244.1 L169.6,243.9 L170.0,243.7 L170.4,243.6 L170.8,243.7 L171.2,243.8 L171.6,244.1 L172.0,244.3 L172.4,244.6 L172.8,244.9 L173.2,245.2 L173.6,245.3 L174.0,245.4 L174.4,245.3 L174.8,245.2 L175.2,245.0 L175.6,244.7 L176.0,244.4 L176.4,244.1 L176.8,243.9 L177.2,243.8 L177.6,243.7 L178.0,243.8 L178.4,243.9 L178.8,244.1 L179.2,244.4 L179.6,244.7 L180.0,245.0 L180.4,245.2 L180.8,245.4 L181.2,245.4 L181.6,245.4 L182.0,245.3 L182.4,245.0 L182.9,244.8 L183.3,244.5 L183.7,244.2 L184.1,244.0 L184.5,243.8 L184.9,243.8 L185.3,243.8 L185.7,244.0 L186.1,244.2 L186.5,244.5 L186.9,244.8 L187.3,245.1 L187.7,245.3 L188.1,245.5 L188.5,245.5 L188.9,245.5 L189.3,245.3 L189.7,245.1 L190.1,244.8 L190.5,244.5 L190.9,244.3 L191.3,244.0 L191.7,243.9 L192.1,243.8 L192.5,243.9 L192.9,244.1 L193.3,244.3 L193.7,244.6 L194.1,244.9 L194.5,245.2 L194.9,245.4 L195.3,245.5 L195.7,245.6 L196.1,245.5 L196.5,245.4 L196.9,245.2 L197.3,244.9 L197.7,244.6 L198.1,244.3 L198.5,244.1 L198.9,244.0 L199.3,243.9 L199.7,244.0 L200.1,244.1 L200.5,244.4 L200.9,244.6 L201.3,244.9 L201.7,245.2 L202.1,245.5 L202.5,245.6 L202.9,245.6 L203.3,245.6 L203.7,245.5 L204.1,245.2 L204.5,245.0 L204.9,244.7 L205.3,244.4 L205.7,244.2 L206.1,244.1 L206.5,244.1 L206.9,244.2 L207.3,244.3 L207.7,244.6 L208.1,244.9 L208.5,245.2 L208.9,245.5 L209.3,245.7 L209.6,245.9 L210.0,246.0 L210.4,245.9 L210.8,245.8 L211.3,245.6 L211.7,245.3 L212.1,245.0 L212.5,244.8 L212.9,244.6 L213.3,244.5 L213.7,244.4 L214.1,244.5 L214.5,244.7 L214.9,244.9 L215.3,245.2 L215.7,245.5 L216.0,245.8 L216.4,246.1 L216.8,246.2 L217.2,246.3 L217.6,246.3 L218.0,246.1 L218.4,245.9 L218.9,245.7 L219.3,245.4 L219.7,245.1 L220.1,244.9 L220.5,244.8 L220.9,244.8 L221.3,244.8 L221.7,245.0 L222.1,245.2 L222.5,245.5 L222.8,245.9 L223.2,246.1 L223.6,246.4 L224.0,246.6 L224.4,246.6 L224.8,246.6 L225.2,246.5 L225.6,246.3 L226.0,246.0 L226.4,245.7 L226.9,245.5 L227.3,245.3 L227.7,245.1 L228.1,245.1 L228.5,245.2 L228.9,245.3 L229.2,245.6 L229.6,245.9 L230.0,246.2 L230.4,246.5 L230.8,246.7 L231.2,246.9 L231.6,247.0 L232.0,246.9 L232.4,246.8 L232.8,246.6 L233.2,246.3 L233.6,246.1 L234.0,245.8 L234.4,245.6 L234.9,245.5 L235.3,245.4 L235.6,245.5 L236.0,245.7 L236.4,245.9 L236.8,246.2 L237.2,246.5 L237.6,246.8 L238.0,247.0 L238.4,247.2 L238.8,247.3 L239.2,247.3 L239.6,247.1 L240.0,246.9 L240.4,246.7 L240.8,246.4 L241.2,246.2 L241.6,246.0 L242.0,245.8 L242.5,245.8 L242.9,245.9 L243.2,246.0 L243.6,246.3 L244.0,246.6 L244.4,246.9 L244.8,247.2 L245.2,247.5 L245.6,247.6 L245.9,247.7 L246.3,247.7 L246.8,247.6 L247.2,247.4 L247.6,247.1 L248.0,246.9 L248.4,246.6 L248.8,246.4 L249.2,246.3 L249.7,246.3 L250.0,246.3 L250.4,246.5 L250.8,246.7 L251.2,247.0 L251.6,247.4 L252.0,247.7 L252.4,247.9 L252.8,248.1 L253.1,248.2 L253.6,248.1 L254.0,248.0 L254.4,247.8 L254.8,247.6 L255.2,247.3 L255.6,247.0 L256.0,246.8 L256.4,246.7 L256.9,246.7 L257.2,246.8 L257.6,247.0 L258.0,247.2 L258.4,247.5 L258.8,247.8 L259.2,248.1 L259.6,248.4 L260.0,248.5 L260.3,248.6 L260.8,248.6 L261.2,248.5 L261.6,248.3 L262.0,248.0 L262.4,247.7 L262.8,247.5 L263.2,247.3 L263.7,247.2 L264.1,247.2 L264.4,247.2 L264.8,247.4 L265.2,247.7 L265.6,248.0 L266.0,248.3 L266.4,248.6 L266.8,248.8 L267.1,249.0 L267.5,249.1 L268.0,249.0 L268.4,248.9 L268.8,248.7 L269.2,248.5 L269.6,248.2 L270.0,247.9 L270.4,247.7 L270.9,247.6 L271.3,247.6 L271.6,247.7 L272.0,247.9 L272.4,248.1 L272.8,248.4 L273.2,248.7 L273.6,249.0 L274.0,249.3 L274.3,249.5 L274.7,249.5 L275.2,249.5 L275.6,249.4 L276.0,249.1 L276.4,248.9 L276.8,248.6 L277.2,248.4 L277.6,248.2 L278.1,248.1 L278.5,248.1 L278.8,248.1 L279.2,248.3 L279.6,248.6 L280.0,248.9 L280.4,249.2 L280.8,249.5 L281.2,249.7 L281.6,249.9 L282.0,250.0 L282.4,249.9 L282.8,249.8 L283.2,249.6 L283.6,249.3 L284.0,249.0 L284.4,248.8 L284.8,248.6 L285.2,248.5 L285.6,248.5 L286.0,248.6 L286.4,248.7 L286.8,249.0 L287.2,249.3 L287.6,249.6 L288.0,249.9 L288.4,250.1 L288.8,250.3 L289.2,250.4 L289.6,250.3 L290.0,250.2 L290.4,250.0 L290.8,249.7 L291.2,249.4 L291.6,249.2 L292.0,249.0 L292.4,248.9 L292.8,248.9 L293.2,249.0 L293.6,249.1 L294.0,249.4 L294.4,249.7 L294.8,250.0 L295.2,250.3 L295.6,250.6 L296.0,250.7 L296.4,250.8 L296.8,250.7 L297.2,250.6 L297.6,250.4 L298.0,250.1 L298.4,249.8 L298.8,249.6 L299.2,249.4 L299.6,249.3 L300.0,249.3 L300.4,249.4 L300.8,249.6 L301.2,249.8 L301.6,250.1 L302.0,250.4 L302.4,250.7 L302.8,251.0 L303.2,251.1 L303.6,251.2 L304.0,251.1 L304.4,251.0 L304.8,250.8 L305.2,250.5 L305.6,250.2 L306.0,250.0 L306.4,249.8 L306.8,249.7 L307.2,249.7 L307.6,249.8 L308.0,250.0 L308.4,250.2 L308.8,250.5 L309.2,250.9 L309.6,251.1 L310.0,251.4 L310.4,251.5 L310.8,251.6 L311.2,251.5 L311.6,251.4 L312.0,251.2 L312.4,250.9 L312.8,250.6 L313.2,250.4 L313.6,250.2 L314.0,250.1 L314.4,250.1 L314.8,250.2 L315.2,250.4 L315.6,250.6 L316.0,250.9 L316.4,251.3 L316.8,251.6 L317.2,251.8 L317.6,251.9 L318.0,252.0 L318.4,251.9 L318.8,251.8 L319.2,251.5 L319.6,251.3 L320.0,251.0 L320.4,250.8 L320.8,250.6 L321.2,250.5 L321.6,250.5 L322.0,250.6 L322.4,250.8 L322.8,251.0 L323.2,251.4 L323.6,251.7 L324.0,252.0 L324.4,252.2 L324.8,252.3 L325.2,252.4 L325.6,252.3 L326.0,252.2 L326.4,251.9 L326.8,251.7 L327.2,251.4 L327.6,251.2 L328.0,251.0 L328.4,250.9 L328.8,250.9 L329.2,251.0 L329.6,251.2 L330.0,251.5 L330.4,251.8 L330.8,252.1 L331.2,252.4 L331.6,252.6 L332.0,252.7 L332.4,252.8 L332.8,252.7 L333.2,252.5 L333.6,252.3 L334.0,252.0 L334.4,251.8 L334.8,251.5 L335.2,251.3 L335.6,251.2 L336.0,251.2 L336.4,251.3 L336.8,251.5 L337.2,251.8 L337.6,252.1 L338.0,252.4 L338.4,252.7 L338.8,252.9 L339.2,253.1 L339.6,253.1 L340.0,253.0 L340.4,252.9 L340.8,252.6 L341.2,252.4 L341.6,252.1 L342.0,251.8 L342.4,251.7 L342.8,251.6 L343.2,251.6 L343.6,251.7 L344.0,251.9 L344.4,252.1 L344.8,252.4 L345.2,252.8 L345.6,253.0 L346.0,253.3 L346.4,253.4 L346.8,253.4 L347.2,253.4 L347.6,253.2 L348.0,253.0 L348.4,252.7 L348.8,252.4 L349.2,252.2 L349.6,252.0 L350.0,251.9 L350.4,251.9 L350.8,252.0 L351.2,252.2 L351.6,252.5 L352.0,252.8 L352.4,253.1 L352.8,253.4 L353.2,253.6 L353.6,253.7 L354.0,253.8 L354.4,253.7 L354.8,253.5 L355.2,253.3 L355.6,253.0 L356.0,252.8 L356.4,252.5 L356.8,252.3 L357.2,252.2 L357.6,252.2 L358.0,252.4 L358.4,252.6 L358.8,252.8 L359.2,253.1 L359.6,253.4 L360.0,253.7 L360.4,253.9 L360.8,254.1 L361.2,254.1 L361.6,254.0 L362.0,253.9 L362.4,253.6 L362.8,253.4 L363.2,253.1 L363.6,252.8 L364.0,252.7 L364.4,252.6 L364.8,252.6 L365.2,252.7 L365.6,252.9 L366.0,253.2 L366.4,253.5 L366.8,253.8 L367.2,254.1 L367.6,254.3 L368.0,254.4 L368.4,254.4 L368.8,254.4 L369.2,254.2 L369.6,254.0 L370.0,253.7 L370.4,253.4 L370.8,253.2 L371.2,253.0 L371.6,252.9 L372.0,252.9 L372.4,253.0 L372.8,253.2 L373.2,253.5 L373.6,253.8 L374.0,254.1 L374.4,254.4 L374.8,254.6 L375.2,254.7 L375.6,254.8 L376.0,254.7 L376.4,254.5 L376.8,254.3 L377.2,254.0 L377.6,253.7 L378.0,253.5 L378.4,253.3 L378.8,253.2 L379.2,253.3 L379.6,253.4 L380.0,253.6 L380.4,253.8 L380.8,254.2 L381.2,254.5 L381.6,254.7 L382.0,255.0 L382.4,255.1 L382.8,255.1 L383.2,255.0 L383.6,254.9 L384.0,254.6 L384.4,254.3 L384.8,254.1 L385.2,253.8 L385.6,253.7 L386.0,253.6 L386.4,253.6 L386.8,253.7 L387.2,253.9 L387.6,254.2 L388.0,254.5 L388.4,254.8 L388.8,255.1 L389.2,255.3 L389.6,255.4 L390.0,255.4 L390.4,255.4 L390.8,255.2 L391.2,255.0 L391.6,254.7 L392.0,254.4 L392.4,254.2 L392.8,254.0 L393.3,254.0 L393.7,254.0 L394.0,254.1 L394.4,254.3 L394.8,254.6 L395.2,254.9 L395.6,255.3 L396.0,255.5 L396.4,255.8 L396.7,255.9 L397.1,255.9 L397.6,255.8 L398.0,255.7 L398.4,255.4 L398.8,255.2 L399.2,254.9 L399.6,254.7 L400.0,254.5 L400.5,254.4 L400.9,254.5 L401.2,254.6 L401.6,254.8 L402.0,255.1 L402.4,255.4 L402.8,255.7 L403.2,256.0 L403.6,256.2 L403.9,256.4 L404.3,256.4 L404.8,256.3 L405.2,256.1 L405.6,255.9 L406.0,255.6 L406.4,255.4 L406.8,255.1 L407.2,255.0 L407.7,254.9 L408.1,254.9 L408.4,255.1 L408.8,255.3 L409.2,255.6 L409.6,255.9 L410.0,256.2 L410.4,256.5 L410.8,256.7 L411.1,256.8 L411.5,256.8 L412.0,256.8 L412.4,256.6 L412.8,256.4 L413.2,256.1 L413.6,255.8 L414.0,255.6 L414.4,255.4 L414.9,255.4 L415.3,255.4 L415.6,255.6 L416.0,255.8 L416.4,256.0 L416.8,256.3 L417.2,256.6 L417.6,256.9 L418.0,257.1 L418.4,257.2 L418.8,257.2 L419.2,257.1 L419.6,256.9 L420.0,256.6 L420.4,256.3 L420.8,256.0 L421.2,255.8 L421.6,255.6 L422.0,255.5 L422.4,255.5 L422.8,255.7 L423.2,255.9 L423.6,256.1 L424.0,256.4 L424.4,256.7 L424.8,257.0 L425.2,257.2 L425.6,257.2 L426.0,257.2 L426.4,257.1 L426.8,256.9 L427.2,256.7 L427.6,256.4 L428.0,256.1 L428.4,255.9 L428.8,255.7 L429.2,255.6 L429.6,255.6 L430.0,255.7 L430.4,255.9 L430.8,256.2 L431.2,256.5 L431.6,256.8 L432.0,257.0 L432.4,257.2 L432.8,257.3 L433.2,257.3 L433.6,257.2 L434.0,257.0 L434.4,256.8 L434.8,256.5 L435.2,256.2 L435.6,255.9 L436.0,255.8 L436.4,255.7 L436.8,255.7 L437.2,255.8 L437.6,256.0 L438.0,256.3 L438.4,256.6 L438.8,256.9 L439.2,257.1 L439.6,257.3 L440.0,257.4 L440.4,257.4 L440.8,257.3 L441.2,257.1 L441.6,256.8 L442.0,256.5 L442.4,256.3 L442.8,256.0 L443.2,255.8 L443.6,255.8 L444.0,255.8 L444.4,255.9 L444.8,256.1 L445.2,256.4 L445.6,256.7 L446.0,256.9 L446.4,257.2 L446.8,257.4 L447.2,257.5 L447.6,257.5 L448.0,257.4 L448.4,257.2 L448.8,256.9 L449.2,256.6 L449.6,256.3 L450.0,256.1 L450.4,255.9 L450.8,255.8 L451.2,255.8 L451.6,256.0 L452.0,256.2 L452.4,256.4 L452.8,256.7 L453.2,257.0 L453.6,257.3 L454.0,257.5 L454.4,257.6 L454.8,257.5 L455.2,257.4 L455.6,257.2 L456.0,257.0 L456.4,256.7 L456.8,256.4 L457.2,256.2 L457.6,256.0 L458.0,255.9 L458.4,255.9 L458.8,256.0 L459.2,256.2 L459.6,256.5 L460.0,256.8 L460.4,257.1 L460.8,257.4 L461.2,257.5 L461.6,257.6 L462.0,257.6 L462.4,257.5 L462.8,257.3 L463.2,257.1 L463.6,256.8 L464.0,256.5 L464.4,256.2 L464.8,256.1 L465.2,256.0 L465.6,256.0 L466.0,256.1 L466.4,256.3 L466.8,256.6 L467.2,256.9 L467.6,257.2 L468.0,257.4 L468.4,257.6 L468.8,257.7 L469.2,257.7 L469.6,257.6 L470.0,257.4 L470.4,257.1 L470.8,256.8 L471.2,256.6 L471.6,256.3 L472.0,256.1 L472.4,256.1 L472.8,256.1 L473.2,256.2 L473.6,256.4 L474.0,256.7 L474.4,257.0 L474.8,257.3 L475.2,257.5 L475.6,257.7 L476.0,257.8 L476.4,257.8 L476.8,257.7 L477.2,257.5 L477.6,257.2 L478.0,256.9 L478.4,256.6 L478.8,256.4 L479.2,256.2 L479.6,256.1 L480.0,256.2 L480.4,256.3 L480.8,256.5 L481.2,256.7 L481.6,257.0 L482.0,257.3 L482.4,257.6 L482.8,257.8 L483.2,257.9 L483.6,257.9 L484.0,257.7 L484.4,257.5 L484.8,257.3 L485.2,257.0 L485.6,256.7 L486.0,256.5 L486.4,256.3 L486.8,256.2 L487.2,256.2 L487.6,256.4 L488.0,256.6 L488.4,256.8 L488.8,257.1 L489.2,257.4 L489.6,257.7 L490.0,257.8 L490.4,257.9 L490.8,257.9 L491.2,257.8 L491.6,257.6 L492.0,257.4 L492.4,257.1 L492.8,256.8 L493.2,256.6 L493.6,256.4 L494.0,256.3 L494.4,256.3 L494.8,256.4 L495.2,256.6 L495.6,256.9 L496.0,257.2 L496.4,257.5 L496.8,257.7 L497.2,257.9 L497.6,258.0 L498.0,258.0 L498.4,257.9 L498.8,257.7 L499.2,257.4 L499.6,257.2 L500.0,256.9 L500.4,256.6 L500.8,256.4 L501.2,256.4 L501.6,256.4 L502.0,256.5 L502.4,256.7 L502.8,256.9 L503.2,257.2 L503.6,257.5 L504.0,257.8 L504.4,258.0 L504.8,258.0 L505.2,258.0 L505.6,257.9 L506.0,257.7 L506.4,257.5 L506.8,257.2 L507.2,256.9 L507.6,256.6 L508.0,256.4 L508.4,256.4 L508.8,256.4 L509.2,256.5 L509.6,256.7 L510.0,256.9 L510.4,257.2 L510.8,257.5 L511.2,257.8 L511.6,258.0 L512.0,258.0 L512.4,258.0 L512.8,257.9 L513.2,257.7 L513.6,257.5 L514.0,257.2 L514.4,256.9 L514.8,256.6 L515.2,256.4 L515.6,256.4 L516.0,256.4 L516.4,256.5 L516.8,256.7 L517.2,256.9 L517.6,257.2 L518.0,257.5 L518.4,257.8 L518.8,258.0 L519.2,258.0 L519.6,258.0 L520.0,257.9 L520.4,257.7 L520.8,257.5 L521.2,257.2 L521.6,256.9 L522.0,256.6 L522.4,256.4 L522.8,256.4 L523.2,256.4 L523.6,256.5 L524.0,256.7 L524.4,256.9 L524.8,257.2 L525.2,257.5 L525.6,257.8 L526.0,258.0 L526.4,258.0 L526.8,258.0 L527.2,257.9 L527.6,257.7 L528.0,257.5 L528.4,257.2 L528.8,256.9 L529.2,256.6 L529.6,256.4 L530.0,256.4 L530.4,256.4 L530.8,256.5 L531.2,256.7 L531.6,256.9 L532.0,257.2 L532.4,257.5 L532.8,257.8 L533.2,258.0 L533.6,258.0 L534.0,258.0 L534.4,257.9 L534.8,257.7 L535.2,257.5 L535.6,257.2 L536.0,256.9 L536.4,256.6 L536.8,256.4 L537.2,256.4 L537.6,256.4 L538.0,256.5 L538.4,256.7 L538.8,256.9 L539.2,257.2 L539.6,257.5 L540.0,257.8 L540.4,258.0 L540.8,258.0 L541.2,258.0 L541.6,257.9 L542.0,257.7 L542.4,257.5 L542.8,257.2 L543.2,256.9 L543.6,256.6 L544.0,256.4 L544.4,256.4 L544.8,256.4 L545.2,256.5 L545.6,256.7 L546.0,256.9 L546.4,257.2 L546.8,257.5 L547.2,257.8 L547.6,258.0 L548.0,258.0 L548.4,258.0 L548.8,257.9 L549.2,257.7 L549.6,257.5 L550.0,257.2 L550.4,256.9 L550.8,256.6 L551.2,256.4 L551.6,256.4 L552.0,256.4 L552.4,256.5 L552.8,256.7 L553.2,256.9 L553.6,257.2 L554.0,257.5 L554.4,257.8 L554.8,258.0 L555.2,258.0 L555.6,258.0 L556.0,257.9 L556.4,257.7 L556.8,257.5 L557.2,257.2 L557.6,256.9 L558.0,256.6 L558.4,256.4 L558.8,256.4 L559.2,256.4 L559.6,256.5 L560.0,256.7 L560.4,256.9 L560.8,257.2 L561.2,257.5 L561.6,257.8 L562.0,258.0 L562.4,258.0 L562.8,258.0 L563.2,257.9 L563.6,257.7 L564.0,257.5 L564.4,257.2 L564.8,256.9 L565.2,256.6 L565.6,256.4 L566.0,256.4 L566.4,256.4 L566.8,256.5 L567.2,256.7 L567.6,256.9 L568.0,257.2 L568.4,257.5 L568.8,257.8 L569.2,258.0 L569.6,258.0 L570.0,258.0 L570.4,257.9 L570.8,257.7 L571.2,257.5 L571.6,257.2 L572.0,256.9 L572.4,256.6 L572.8,256.4 L573.2,256.4 L573.6,256.4 L574.0,256.5 L574.4,256.7 L574.8,256.9 L575.2,257.2 L575.6,257.5 L576.0,257.8 L576.4,258.0 L576.8,258.0 L577.2,258.0 L577.6,257.9 L578.0,257.7 L578.4,257.5 L578.8,257.2 L579.2,256.9 L579.6,256.6 L580.0,256.4 L580.4,256.4 L580.8,256.4 L581.2,256.5 L581.6,256.7 L582.0,256.9 L582.4,257.2 L582.8,257.5 L583.2,257.8 L583.6,258.0 L584.0,258.0 L584.4,258.0 L584.8,257.9 L585.2,257.7 L585.6,257.5 L586.0,257.2 L586.4,256.9 L586.8,256.6 L587.2,256.4 L587.6,256.4 L588.0,256.4 L588.4,256.5 L588.8,256.7 L589.2,256.9 L589.6,257.2 L590.0,257.5 L590.4,257.8 L590.8,258.0 L591.2,258.0 L591.6,258.0 L592.0,257.9 L592.4,257.7 L592.8,257.5 L593.2,257.2 L593.6,256.9 L594.0,256.6 L594.4,256.4 L594.8,256.4 L595.2,256.4 L595.6,256.5 L596.0,256.7 L596.4,256.9 L596.8,257.2 L597.2,257.5 L597.6,257.8 L598.0,258.0 L598.4,258.0 L598.8,258.0 L599.2,257.9 L599.6,257.7 L600.0,257.5 L600.4,257.2 L600.8,256.9 L601.2,256.6 L601.6,256.4 L602.0,256.3 L602.4,256.3 L602.8,256.4 L603.2,256.6 L603.6,256.9 L604.0,257.2 L604.4,257.5 L604.8,257.7 L605.2,257.9 L605.6,258.0 L606.0,258.0 L606.3,257.9 L606.7,257.7 L607.1,257.4 L607.5,257.1 L607.9,256.8 L608.3,256.6 L608.7,256.4 L609.1,256.3 L609.5,256.3 L609.9,256.4 L610.3,256.5 L610.7,256.8 L611.1,257.1 L611.5,257.3 L611.9,257.6 L612.3,257.8 L612.7,257.9 L613.1,257.9 L613.5,257.8 L613.9,257.7 L614.3,257.4 L614.7,257.1 L615.1,256.8 L615.4,256.6 L615.8,256.4 L616.2,256.2 L616.6,256.2 L617.0,256.3 L617.4,256.4 L617.8,256.7 L618.2,256.9 L618.6,257.2 L619.0,257.5 L619.4,257.7 L619.8,257.8 L620.2,257.9 L620.6,257.8 L621.1,257.6 L621.5,257.3 L621.8,257.0 L622.2,256.6 L622.5,256.3 L622.9,256.0 L623.2,255.8 L623.6,255.7 L624.0,255.7 L624.5,255.8 L624.9,256.0 L625.3,256.2 L625.8,256.4 L626.2,256.7 L626.6,256.8 L627.0,256.9 L627.4,256.9 L627.8,256.7 L628.1,256.5 L628.4,256.4 L628.9,256.1 L629.3,255.9 L629.8,255.7 L630.2,255.5 L630.7,255.5 L631.1,255.5 L631.5,255.7 L631.8,255.9 L632.2,256.2 L632.6,256.6 L632.9,256.9 L633.3,257.3 L633.7,257.5 L634.1,257.7 L634.5,257.8 L634.9,257.7 L635.4,257.5 L635.8,257.3 L636.2,257.0 L636.6,256.8 L637.0,256.5 L637.4,256.4 L637.8,256.3 L638.2,256.3 L638.6,256.4 L639.0,256.6 L639.4,256.9 L639.8,257.2 L640.2,257.5 L640.6,257.8 L641.0,258.0 L641.4,258.1 L641.8,258.1 L642.2,258.0 L642.6,257.8 L643.0,257.6 L643.4,257.3 L643.8,257.1 L644.2,256.8 L644.6,256.7 L645.0,256.6 L645.4,256.6 L645.8,256.7 L646.2,256.9 L646.6,257.2 L647.0,257.5 L647.4,257.8 L647.8,258.1 L648.2,258.3 L648.6,258.4 L649.0,258.4 L649.4,258.3 L649.8,258.1 L650.2,257.9 L650.6,257.6 L651.0,257.4 L651.4,257.1 L651.8,257.0 L652.2,256.9 L652.6,256.9 L653.0,257.0 L653.4,257.3 L653.8,257.5 L654.2,257.8 L654.6,258.1 L655.0,258.4 L655.4,258.6 L655.8,258.7 L656.2,258.7 L656.6,258.6 L657.0,258.4 L657.4,258.2 L657.8,257.9 L658.2,257.6 L658.6,257.4 L659.0,257.3 L659.4,257.2 L659.8,257.2 L660.2,257.3 L660.6,257.6 L661.0,257.8 L661.4,258.1 L661.8,258.4 L662.2,258.7 L662.6,258.9 L663.0,259.0 L663.4,259.0 L663.8,258.9 L664.2,258.7 L664.6,258.5 L665.0,258.2 L665.4,257.9 L665.8,257.7 L666.2,257.6 L666.6,257.5 L667.0,257.5 L667.4,257.6 L667.8,257.9 L668.2,258.1 L668.6,258.5 L669.0,258.8 L669.4,259.0 L669.8,259.2 L670.2,259.3 L670.6,259.3 L671.0,259.2 L671.4,259.0 L671.8,258.8 L672.2,258.5 L672.6,258.2 L673.0,258.0 L673.4,257.9 L673.8,257.8 L674.2,257.8 L674.6,257.9 L675.0,258.2 L675.4,258.4 L675.8,258.8 L676.2,259.1 L676.6,259.3 L677.0,259.5 L677.4,259.6 L677.8,259.6 L678.2,259.5 L678.6,259.3 L679.0,259.1 L679.4,258.8 L679.8,258.5 L680.2,258.3 L680.6,258.2 L681.0,258.1 L681.4,258.1 L681.8,258.3 L682.2,258.5 L682.6,258.8 L683.0,259.1 L683.4,259.4 L683.8,259.6 L684.2,259.8 L684.6,259.9 L685.0,259.9 L685.4,259.8 L685.8,259.6 L686.2,259.4 L686.6,259.1 L687.0,258.8 L687.4,258.6 L687.8,258.5 L688.2,258.4 L688.6,258.4 L689.0,258.6 L689.4,258.8 L689.8,259.1 L690.2,259.4 L690.6,259.7 L691.0,259.9 L691.4,260.1 L691.8,260.2 L692.2,260.2 L692.6,260.1 L693.0,259.9 L693.4,259.7 L693.8,259.4 L694.2,259.1 L694.6,258.9 L695.0,258.8 L695.4,258.7 L695.8,258.7 L696.2,258.9 L696.6,259.1 L697.0,259.4 L697.4,259.7 L697.8,260.0 L698.2,260.2 L698.6,260.4 L699.0,260.5 L699.4,260.5 L699.8,260.4 L700.2,260.2 L700.6,260.0 L701.0,259.7 L701.4,259.4 L701.8,259.2 L702.2,259.0 L702.6,259.0 L703.0,259.0 L703.4,259.1 L703.8,259.4 L704.2,259.6 L704.6,260.0 L705.0,260.3 L705.4,260.5 L705.8,260.7 L706.2,260.8 L706.6,260.8 L707.0,260.7 L707.4,260.5 L707.8,260.2 L708.2,260.0 L708.6,259.7 L709.0,259.5 L709.4,259.3 L709.8,259.2 L710.2,259.3 L710.6,259.4 L711.0,259.6 L711.4,259.9 L711.8,260.2 L712.2,260.5 L712.6,260.8 L713.0,261.0 L713.4,261.1 L713.8,261.1 L714.2,261.0 L714.6,260.8 L715.0,260.5 L715.4,260.2 L715.8,260.0 L716.2,259.7 L716.6,259.6 L717.0,259.5 L717.4,259.6 L717.8,259.7 L718.2,259.9 L718.6,260.2 L719.0,260.5 L719.4,260.8 L719.8,261.1 L720.2,261.3 L720.6,261.3 L721.0,261.3 L721.4,261.2 L721.8,261.0 L722.2,260.8 L722.6,260.5 L723.0,260.2 L723.4,260.0 L723.8,259.9 L724.2,259.8 L724.6,259.8 L725.0,260.0 L725.4,260.2 L725.8,260.5 L726.2,260.8 L726.6,261.1 L727.0,261.3 L727.4,261.5 L727.8,261.6 L728.2,261.6 L728.6,261.5 L729.0,261.3 L729.4,261.1 L729.8,260.8 L730.2,260.5 L730.6,260.3 L731.0,260.1 L731.4,260.1 L731.8,260.1 L732.2,260.3 L732.6,260.5 L733.0,260.8 L733.4,261.1 L733.8,261.4 L734.2,261.6 L734.6,261.8 L735.0,261.9 L735.4,261.9 L735.8,261.8 L736.2,261.6 L736.6,261.3 L737.0,261.0 L737.4,260.8 L737.8,260.6 L738.2,260.4 L738.6,260.3 L739.0,260.4 L739.4,260.5 L739.8,260.8 L740.2,261.0 L740.6,261.4 L741.0,261.7 L741.4,261.9 L741.8,262.1 L742.2,262.2 L742.6,262.2 L743.0,262.0 L743.4,261.9 L743.8,261.6 L744.2,261.3 L744.6,261.1 L745.0,260.8 L745.4,260.7 L745.8,260.6 L746.2,260.7 L746.6,260.8 L747.0,261.0 L747.4,261.3 L747.8,261.6 L748.2,261.9 L748.6,262.2 L749.0,262.4 L749.4,262.5 L749.8,262.4 L750.2,262.3 L750.6,262.1 L751.0,261.9 L751.4,261.6 L751.8,261.3 L752.2,261.1 L752.6,260.9 L753.0,260.9 L753.4,260.9 L753.8,261.1 L754.2,261.3 L754.6,261.6 L755.0,261.9 L755.4,262.2 L755.8,262.5 L756.2,262.6 L756.6,262.7 L757.0,262.7 L757.4,262.6 L757.8,262.4 L758.2,262.1 L758.6,261.9 L759.0,261.6 L759.4,261.4 L759.8,261.2 L760.2,261.2 L760.6,261.2 L761.0,261.4 L761.4,261.6 L761.8,261.9 L762.2,262.2 L762.6,262.5 L763.0,262.7 L763.4,262.8 L763.8,262.7 L764.2,262.5 L764.6,262.3 L765.0,262.2" stroke="#1c1c1c" stroke-width="1.25"/>
<path d="M489.7,283.5 L489.0,284.0 L487.5,285.1 L485.4,286.6 L482.5,288.8 L479.3,291.0 L475.7,293.3 L471.7,295.7 L467.4,298.2 L463.4,300.6 L459.8,302.8 L456.5,304.8 L453.7,306.7 L451.0,308.4 L448.6,309.9 L446.5,311.1 L444.6,312.2 L443.2,313.1 L442.3,313.6 L441.8,313.9" stroke="#e4202e" stroke-width="1.35"/>
<path d="M667.2,259.4 L667.8,260.1 L669.0,261.4 L670.9,263.4 L673.3,266.0 L675.6,268.6 L677.6,271.2 L679.4,273.6 L681.1,276.1 L682.6,278.7 L684.0,281.5 L685.3,284.5 L686.5,287.8 L687.4,290.2 L688.0,291.8 L688.3,292.6" stroke="#e4202e" stroke-width="1.35"/>
<path d="M704.7,263.3 L703.7,265.2 L701.6,268.9 L698.5,274.5 L694.5,281.9 L691.4,287.5 L689.3,291.2 L688.3,293.1" stroke="#e4202e" stroke-width="1.35"/>
<path d="M203.3,244.4 L204.2,245.2 L206.0,246.7 L208.7,249.0 L212.4,252.1 L216.0,255.2 L219.6,258.5 L223.2,261.8 L226.8,265.3 L230.0,268.5 L232.9,271.4 L235.5,274.2 L237.6,276.7 L239.8,279.2 L241.8,281.6 L243.9,284.1 L245.8,286.4 L249.9,292.5 L256.1,302.2 L264.4,315.6 L274.9,332.8 L282.7,345.6 L287.9,354.1 L290.5,358.4" stroke="#e4202e" stroke-width="3.00"/>
<path d="M485.4,259.4 L485.0,259.9 L484.3,260.9 L483.2,262.4 L481.8,264.3 L480.2,266.2 L478.6,268.0 L476.9,269.7 L475.1,271.4 L472.8,273.0 L470.1,274.7 L467.0,276.5 L463.4,278.3 L459.4,280.3 L455.1,282.5 L450.4,284.8 L445.4,287.4 L440.5,289.8 L435.8,292.2 L431.3,294.4 L426.9,296.6 L422.7,298.6 L418.5,300.4 L414.4,302.0 L410.5,303.4 L406.4,304.9 L402.1,306.4 L397.8,307.9 L393.3,309.4 L389.1,311.3 L385.0,313.5 L381.2,316.0 L377.6,318.9 L374.0,321.8 L370.4,324.7 L366.8,327.6 L363.2,330.4 L359.6,333.2 L356.0,335.7 L352.4,338.0 L348.7,340.2 L345.2,342.2 L341.9,344.1 L338.7,345.9 L335.6,347.5 L331.9,349.6 L327.7,352.0 L322.9,354.8 L317.4,357.9 L313.4,360.3 L310.7,361.9 L309.3,362.7" stroke="#e4202e" stroke-width="2.60"/>
<path d="M628.2,255.8 L627.4,256.5 L625.7,258.0 L623.2,260.1 L619.8,263.0 L616.1,266.2 L612.0,269.7 L607.6,273.4 L602.7,277.6 L597.7,281.5 L592.4,285.4 L586.8,289.1 L581.1,292.7 L574.8,296.2 L568.1,299.5 L560.9,302.8 L553.1,305.9 L545.8,309.0 L538.7,312.1 L532.0,315.1 L525.6,318.0 L519.2,320.9 L512.9,323.7 L506.6,326.3 L500.4,328.9 L494.1,332.0 L487.9,335.6 L481.6,339.8 L475.4,344.5 L469.5,349.2 L464.0,354.0 L459.0,358.8 L454.3,363.7 L450.8,367.3 L448.4,369.8 L447.2,371.0" stroke="#e4202e" stroke-width="2.60"/>
<path d="M628.1,256.2 L630.0,257.5 L633.8,260.1 L639.5,263.9 L647.1,269.1 L654.6,274.2 L662.0,279.3 L669.3,284.4 L676.6,289.4 L683.7,294.9 L690.6,300.8 L697.5,307.1 L704.2,313.8 L710.8,320.6 L717.3,327.4 L723.7,334.2 L729.9,341.2 L734.6,346.3 L737.7,349.8 L739.2,351.5" stroke="#e4202e" stroke-width="3.00"/>
</g>
<line x1="107.5" y1="28.4" x2="107.5" y2="165.0" stroke="#3a3a3a" stroke-width="1.05"/>
<line x1="107.0" y1="29.0" x2="766.0" y2="29.0" stroke="#111" stroke-width="1.50"/>
<line x1="765.5" y1="28.4" x2="765.5" y2="164.5" stroke="#3a3a3a" stroke-width="1.05"/>
<line x1="107.5" y1="62.3" x2="112.0" y2="62.3" stroke="#333" stroke-width="1.00"/>
<line x1="107.5" y1="95.5" x2="112.0" y2="95.5" stroke="#333" stroke-width="1.00"/>
<line x1="107.5" y1="128.7" x2="112.0" y2="128.7" stroke="#333" stroke-width="1.00"/>
<line x1="211.5" y1="22.0" x2="211.5" y2="34.0" stroke="#333" stroke-width="0.80"/>
<line x1="468.0" y1="23.0" x2="468.0" y2="34.0" stroke="#333" stroke-width="0.80"/>
<line x1="107.5" y1="215.7" x2="107.5" y2="375.3" stroke="#3a3a3a" stroke-width="1.05"/>
<line x1="107.0" y1="216.3" x2="765.5" y2="216.3" stroke="#111" stroke-width="1.50"/>
<line x1="765.0" y1="215.7" x2="765.0" y2="375.3" stroke="#3a3a3a" stroke-width="1.05"/>
<line x1="107.5" y1="249.1" x2="112.0" y2="249.1" stroke="#333" stroke-width="1.00"/>
<line x1="107.5" y1="282.0" x2="112.0" y2="282.0" stroke="#333" stroke-width="1.00"/>
<line x1="107.5" y1="315.2" x2="112.0" y2="315.2" stroke="#333" stroke-width="1.00"/>
<line x1="233.7" y1="214.0" x2="233.7" y2="232.5" stroke="#333" stroke-width="0.80"/>
<line x1="107.5" y1="149.3" x2="762.6" y2="149.3" stroke="#333" stroke-width="1.00"/>
<path d="M107.8,149.3 L115.8,145.8 L113.7,149.3 L115.8,152.8 Z" fill="#111"/>
<path d="M762.6,149.3 L754.6,145.8 L756.7,149.3 L754.6,152.8 Z" fill="#111"/>
<line x1="216.5" y1="144.7" x2="216.5" y2="151.3" stroke="#333" stroke-width="0.80"/>
<path d="M215.9,149.3 L207.9,145.8 L210.0,149.3 L207.9,152.8 Z" fill="#111"/>
<path d="M217.1,149.3 L225.1,145.8 L223.0,149.3 L225.1,152.8 Z" fill="#111"/>
<line x1="350.5" y1="144.7" x2="350.5" y2="151.3" stroke="#333" stroke-width="0.80"/>
<path d="M349.9,149.3 L341.9,145.8 L344.0,149.3 L341.9,152.8 Z" fill="#111"/>
<path d="M351.1,149.3 L359.1,145.8 L357.0,149.3 L359.1,152.8 Z" fill="#111"/>
<line x1="442.3" y1="144.7" x2="442.3" y2="151.3" stroke="#333" stroke-width="0.80"/>
<path d="M441.7,149.3 L433.7,145.8 L435.8,149.3 L433.7,152.8 Z" fill="#111"/>
<path d="M442.9,149.3 L450.9,145.8 L448.8,149.3 L450.9,152.8 Z" fill="#111"/>
<line x1="605.3" y1="144.7" x2="605.3" y2="151.3" stroke="#333" stroke-width="0.80"/>
<path d="M604.7,149.3 L596.7,145.8 L598.8,149.3 L596.7,152.8 Z" fill="#111"/>
<path d="M605.9,149.3 L613.9,145.8 L611.8,149.3 L613.9,152.8 Z" fill="#111"/>
<line x1="656.2" y1="144.7" x2="656.2" y2="151.3" stroke="#333" stroke-width="0.80"/>
<path d="M655.6,149.3 L647.6,145.8 L649.7,149.3 L647.6,152.8 Z" fill="#111"/>
<path d="M656.8,149.3 L664.8,145.8 L662.7,149.3 L664.8,152.8 Z" fill="#111"/>
<line x1="107.5" y1="372.6" x2="763.6" y2="372.6" stroke="#333" stroke-width="1.00"/>
<path d="M107.8,372.6 L115.8,369.1 L113.7,372.6 L115.8,376.1 Z" fill="#111"/>
<path d="M763.6,372.6 L755.6,369.1 L757.7,372.6 L755.6,376.1 Z" fill="#111"/>
<line x1="233.6" y1="364.6" x2="233.6" y2="374.4" stroke="#333" stroke-width="0.80"/>
<path d="M233.0,372.6 L225.0,369.1 L227.1,372.6 L225.0,376.1 Z" fill="#111"/>
<path d="M234.2,372.6 L242.2,369.1 L240.1,372.6 L242.2,376.1 Z" fill="#111"/>
<line x1="581.2" y1="364.6" x2="581.2" y2="374.4" stroke="#333" stroke-width="0.80"/>
<path d="M580.6,372.6 L572.6,369.1 L574.7,372.6 L572.6,376.1 Z" fill="#111"/>
<path d="M581.8,372.6 L589.8,369.1 L587.7,372.6 L589.8,376.1 Z" fill="#111"/>
<line x1="690.5" y1="364.6" x2="690.5" y2="374.4" stroke="#333" stroke-width="0.80"/>
<path d="M689.9,372.6 L681.9,369.1 L684.0,372.6 L681.9,376.1 Z" fill="#111"/>
<path d="M691.1,372.6 L699.1,369.1 L697.0,372.6 L699.1,376.1 Z" fill="#111"/>
<g font-family="'Liberation Serif','Noto Serif CJK SC',serif" fill="#2b2b2b">
<text x="104.6" y="33.6" font-size="12.8" text-anchor="end">0</text>
<text x="104.6" y="66.6" font-size="12.8" text-anchor="end">−1 000</text>
<text x="104.6" y="99.8" font-size="12.8" text-anchor="end">−2 000</text>
<text x="104.6" y="133.0" font-size="12.8" text-anchor="end">−3 000</text>
<text x="104.6" y="220.9" font-size="12.8" text-anchor="end">0</text>
<text x="104.6" y="253.4" font-size="12.8" text-anchor="end">−1 000</text>
<text x="104.6" y="286.3" font-size="12.8" text-anchor="end">−2 000</text>
<text x="104.6" y="319.5" font-size="12.8" text-anchor="end">−3 000</text>
<text transform="translate(64.6,92.5) rotate(-90)" font-size="11.4" font-weight="600" text-anchor="middle" letter-spacing="0.7">海拔<tspan font-weight="400" font-size="11.5">/m</tspan></text>
<text transform="translate(64.6,269.6) rotate(-90)" font-size="11.4" font-weight="600" text-anchor="middle" letter-spacing="0.7">海拔<tspan font-weight="400" font-size="11.5">/m</tspan></text>
<text x="104.0" y="23.5" font-size="12.2" text-anchor="start">A′</text>
<text x="761.7" y="25.0" font-size="12.2" text-anchor="start">A</text>
<text x="104.0" y="211.0" font-size="12.2" text-anchor="start">B′</text>
<text x="761.7" y="212.0" font-size="12.2" text-anchor="start">B</text>
<text x="192.5" y="21.0" font-size="11.2" text-anchor="start" textLength="70.0" lengthAdjust="spacing" font-weight="500">驻马店<tspan font-weight="400">(</tspan>投影<tspan font-weight="400">)</tspan></text>
<text x="441.0" y="21.0" font-size="11.2" text-anchor="start" textLength="57.0" lengthAdjust="spacing" font-weight="500">上蔡<tspan font-weight="400">(</tspan>投影<tspan font-weight="400">)</tspan></text>
<text x="216.7" y="212.6" font-size="11.6" font-weight="600" text-anchor="start" textLength="59.0" lengthAdjust="spacing" >西平<tspan font-weight="400">(</tspan>投影<tspan font-weight="400">)</tspan></text>
<text x="126.4" y="145.1" font-size="11.2" font-weight="600" text-anchor="start" textLength="87.4" lengthAdjust="spacing" >豫西<tspan font-weight="300" fill="#777">—</tspan>长山隆起</text>
<text x="240.5" y="145.6" font-size="11.2" font-weight="600" text-anchor="start" textLength="98.8" lengthAdjust="spacing" >驻马店<tspan font-weight="300" fill="#777">—</tspan>淮滨凹陷</text>
<text x="373.0" y="145.6" font-size="11.2" font-weight="600" text-anchor="start" textLength="49.2" lengthAdjust="spacing" >平舆凸起</text>
<text x="502.3" y="145.6" font-size="11.2" font-weight="600" text-anchor="start" textLength="47.6" lengthAdjust="spacing" >舞阳凹陷</text>
<text x="605.5" y="146.5" font-size="11.2" font-weight="600" text-anchor="start" textLength="62.0" lengthAdjust="spacing" >平顶山凸起</text>
<text x="688.8" y="145.9" font-size="11.2" font-weight="600" text-anchor="start" textLength="49.1" lengthAdjust="spacing" >谭庄凹陷</text>
<text x="149.5" y="368.3" font-size="11.2" font-weight="600" text-anchor="start" textLength="48.0" lengthAdjust="spacing" >平舆凸起</text>
<text x="396.0" y="368.3" font-size="11.2" font-weight="600" text-anchor="start" textLength="48.8" lengthAdjust="spacing" >舞阳凹陷</text>
<text x="614.8" y="368.3" font-size="11.2" font-weight="600" text-anchor="start" textLength="62.0" lengthAdjust="spacing" >平顶山凸起</text>
<text x="709.3" y="368.3" font-size="11.2" font-weight="600" text-anchor="start" textLength="48.8" lengthAdjust="spacing" >谭庄凹陷</text>
<text x="304.3" y="195.5" font-size="11.8" text-anchor="start">(a)</text>
<text x="318.6" y="195.5" font-size="11.0" font-weight="600" text-anchor="start" textLength="248.7" lengthAdjust="spacing" >驻马店地区驻马店<tspan font-weight="300" fill="#777">—</tspan>淮滨凹陷地震地质解释剖面</text>
<text x="304.3" y="415.8" font-size="11.8" text-anchor="start">(b)</text>
<text x="319.0" y="415.8" font-size="11.0" font-weight="600" text-anchor="start" textLength="200.8" lengthAdjust="spacing" >驻马店地区舞阳凹陷地震地质解释剖面</text>
<rect x="268.0" y="163.3" width="13.6" height="10.6" fill="#fbfcdd" stroke="#303030" stroke-width="1.2"/>
<text x="286.0" y="172.7" font-size="12.3" text-anchor="start" textLength="24.5" lengthAdjust="spacing">N+Q</text>
<rect x="315.2" y="163.3" width="13.6" height="10.6" fill="#e1ea55" stroke="#303030" stroke-width="1.2"/>
<text x="336.0" y="172.7" font-size="12.3" text-anchor="start">E</text>
<rect x="361.8" y="163.3" width="13.6" height="10.6" fill="#e1ea55" stroke="#303030" stroke-width="1.2"/>
<text x="381.8" y="172.7" font-size="12.3" text-anchor="start">E<tspan font-size='7.6' dy='2.8'>1</tspan></text>
<rect x="403.6" y="163.3" width="13.6" height="10.6" fill="#e98b2f" stroke="#303030" stroke-width="1.2"/>
<text x="428.5" y="172.7" font-size="12.3" text-anchor="start">E<tspan font-size='7.6' dy='2.8'>2</tspan></text>
<rect x="456.6" y="163.3" width="13.6" height="10.6" fill="#b7a898" stroke="#303030" stroke-width="1.2"/>
<text x="476.0" y="172.7" font-size="12.3" text-anchor="start">E<tspan font-size='7.6' dy='2.8'>3</tspan></text>
<rect x="503.7" y="163.3" width="13.6" height="10.6" fill="#e8e0ca" stroke="#303030" stroke-width="1.2"/>
<text x="523.5" y="172.7" font-size="12.3" text-anchor="start">Mz</text>
<rect x="551.2" y="163.3" width="13.6" height="10.6" fill="#b7a898" stroke="#303030" stroke-width="1.2"/>
<text x="571.0" y="172.7" font-size="12.3" text-anchor="start" textLength="18.8" lengthAdjust="spacing">C-P</text>
<rect x="598.2" y="163.3" width="13.6" height="10.6" fill="#6d8b76" stroke="#303030" stroke-width="1.2"/>
<text transform="translate(616.2,172.7) scale(0.80,1)" font-family="DejaVu Serif,serif" font-size="13.0">∈</text>
<text x="626.3" y="172.7" font-size="12.3" text-anchor="start">-O</text>
<rect x="268.0" y="384.8" width="13.6" height="10.6" fill="#fbfcdd" stroke="#303030" stroke-width="1.2"/>
<text x="286.0" y="394.2" font-size="12.3" text-anchor="start" textLength="24.5" lengthAdjust="spacing">N+Q</text>
<rect x="315.2" y="384.8" width="13.6" height="10.6" fill="#e1ea55" stroke="#303030" stroke-width="1.2"/>
<text x="336.0" y="394.2" font-size="12.3" text-anchor="start">E</text>
<rect x="361.8" y="384.8" width="13.6" height="10.6" fill="#e1ea55" stroke="#303030" stroke-width="1.2"/>
<text x="381.8" y="394.2" font-size="12.3" text-anchor="start">E<tspan font-size='7.6' dy='2.8'>1</tspan></text>
<rect x="403.6" y="384.8" width="13.6" height="10.6" fill="#e98b2f" stroke="#303030" stroke-width="1.2"/>
<text x="428.5" y="394.2" font-size="12.3" text-anchor="start">E<tspan font-size='7.6' dy='2.8'>2</tspan></text>
<rect x="456.6" y="384.8" width="13.6" height="10.6" fill="#b7a898" stroke="#303030" stroke-width="1.2"/>
<text x="476.0" y="394.2" font-size="12.3" text-anchor="start">E<tspan font-size='7.6' dy='2.8'>3</tspan></text>
<rect x="503.7" y="384.8" width="13.6" height="10.6" fill="#e8e0ca" stroke="#303030" stroke-width="1.2"/>
<text x="523.5" y="394.2" font-size="12.3" text-anchor="start">Mz</text>
<rect x="551.2" y="384.8" width="13.6" height="10.6" fill="#b7a898" stroke="#303030" stroke-width="1.2"/>
<text x="571.0" y="394.2" font-size="12.3" text-anchor="start" textLength="18.8" lengthAdjust="spacing">C-P</text>
<rect x="598.2" y="384.8" width="13.6" height="10.6" fill="#6d8b76" stroke="#303030" stroke-width="1.2"/>
<text transform="translate(616.2,394.2) scale(0.80,1)" font-family="DejaVu Serif,serif" font-size="13.0">∈</text>
<text x="626.3" y="394.2" font-size="12.3" text-anchor="start">-O</text>
<text transform="translate(164.9,44.2) scale(0.80,1)" font-family="DejaVu Serif,serif" font-size="13.0">∈</text>
<text x="175.0" y="44.2" font-size="12.0" text-anchor="start">-O</text>
<text x="156.0" y="70.0" font-size="12.0" text-anchor="start">An</text>
<text transform="translate(173.3,70.0) scale(0.80,1)" font-family="DejaVu Serif,serif" font-size="13.0">∈</text>
<text x="227.7" y="80.4" font-size="12.0" text-anchor="start">Mz</text>
<text x="297.5" y="58.2" font-size="12.0" text-anchor="start">E</text>
<text x="289.3" y="95.2" font-size="12.0" text-anchor="start">Mz</text>
<text transform="translate(283.2,123.2) scale(0.80,1)" font-family="DejaVu Serif,serif" font-size="13.0">∈</text>
<text x="293.3" y="123.2" font-size="12.0" text-anchor="start">-O</text>
<text x="465.5" y="44.6" font-size="12.0" text-anchor="start" textLength="25.0" lengthAdjust="spacing">N+Q</text>
<text x="450.0" y="69.4" font-size="11.5" text-anchor="start">Mz</text>
<text x="502.6" y="115.0" font-size="12.0" text-anchor="start">An</text>
<text transform="translate(519.9,115.0) scale(0.80,1)" font-family="DejaVu Serif,serif" font-size="13.0">∈</text>
<text x="200.0" y="48.1" font-size="11.5" font-weight="600" text-anchor="middle" >驻</text>
<text x="203.7" y="70.1" font-size="11.5" font-weight="600" text-anchor="middle" >马</text>
<text x="208.3" y="87.1" font-size="11.5" font-weight="600" text-anchor="middle" >店</text>
<text x="213.5" y="106.9" font-size="11.5" font-weight="600" text-anchor="middle" >断</text>
<text x="219.0" y="129.4" font-size="11.5" font-weight="600" text-anchor="middle" >裂</text>
<text x="365.5" y="62.9" font-size="11.5" font-weight="600" text-anchor="middle" >殷</text>
<text x="360.0" y="82.1" font-size="11.5" font-weight="600" text-anchor="middle" >湾</text>
<text x="353.0" y="104.1" font-size="11.5" font-weight="600" text-anchor="middle" >断</text>
<text x="346.3" y="122.9" font-size="11.5" font-weight="600" text-anchor="middle" >裂</text>
<text x="548.2" y="85.0" font-size="11.5" text-anchor="start" textLength="15.3" lengthAdjust="spacing">Mz</text>
<text x="584.2" y="79.3" font-size="11.5" text-anchor="start">E</text>
<text x="601.0" y="94.3" font-size="11.5" text-anchor="start" textLength="15.5" lengthAdjust="spacing">Mz</text>
<text x="671.5" y="104.7" font-size="11.5" text-anchor="start" textLength="15.5" lengthAdjust="spacing">Mz</text>
<text x="709.7" y="88.6" font-size="11.5" text-anchor="start">E</text>
<text x="655.6" y="121.1" font-size="11.5" text-anchor="start" textLength="18.0" lengthAdjust="spacing">C-P</text>
<text x="620.9" y="131.5" font-size="12.0" text-anchor="start">An</text>
<text transform="translate(638.2,131.5) scale(0.80,1)" font-family="DejaVu Serif,serif" font-size="13.0">∈</text>
<text x="632.3" y="79.8" font-size="10.5" font-weight="600" text-anchor="middle" >叶</text>
<text x="624.5" y="101.8" font-size="10.5" font-weight="600" text-anchor="middle" >鲁</text>
<text x="611.5" y="115.2" font-size="10.5" font-weight="600" text-anchor="middle" >断</text>
<text x="596.0" y="129.8" font-size="10.5" font-weight="600" text-anchor="middle" >裂</text>
<text x="646.0" y="80.1" font-size="10.5" font-weight="600" text-anchor="middle" >襄</text>
<text x="647.5" y="95.2" font-size="10.5" font-weight="600" text-anchor="middle" >郏</text>
<text x="647.0" y="111.6" font-size="10.5" font-weight="600" text-anchor="middle" >断</text>
<text x="654.9" y="130.3" font-size="10.5" font-weight="600" text-anchor="middle" >裂</text>
<text x="763.1" y="86.2" font-size="10.5" font-weight="600" text-anchor="middle" >商</text>
<text x="752.7" y="102.1" font-size="10.5" font-weight="600" text-anchor="middle" >水</text>
<text x="746.9" y="117.2" font-size="10.5" font-weight="600" text-anchor="middle" >断</text>
<text x="734.3" y="133.8" font-size="10.5" font-weight="600" text-anchor="middle" >裂</text>
<text x="457.3" y="244.5" font-size="12.0" text-anchor="start" textLength="26.0" lengthAdjust="spacing">Q+N</text>
<text x="413.5" y="275.8" font-size="12.0" text-anchor="start">E</text>
<text x="541.6" y="282.3" font-size="12.0" text-anchor="start">E</text>
<text transform="translate(288.4,280.2) scale(0.80,1)" font-family="DejaVu Serif,serif" font-size="13.0">∈</text>
<text x="298.5" y="280.2" font-size="12.0" text-anchor="start">-O</text>
<text transform="translate(496.2,309.8) scale(0.80,1)" font-family="DejaVu Serif,serif" font-size="13.0">∈</text>
<text x="506.3" y="309.8" font-size="12.0" text-anchor="start">-O</text>
<text x="312.3" y="307.2" font-size="12.0" text-anchor="start">An</text>
<text transform="translate(329.6,307.2) scale(0.80,1)" font-family="DejaVu Serif,serif" font-size="13.0">∈</text>
<text x="434.0" y="330.0" font-size="12.0" text-anchor="start">An</text>
<text transform="translate(451.3,330.0) scale(0.80,1)" font-family="DejaVu Serif,serif" font-size="13.0">∈</text>
<text x="227.5" y="264.3" font-size="11.5" text-anchor="start" textLength="18.0" lengthAdjust="spacing">C-P</text>
<text x="732.2" y="272.0" font-size="12.0" text-anchor="start">E</text>
<text x="716.3" y="305.6" font-size="12.0" text-anchor="start">Mz</text>
<text x="739.3" y="341.0" font-size="12.0" text-anchor="start">An</text>
<text transform="translate(756.6,341.0) scale(0.80,1)" font-family="DejaVu Serif,serif" font-size="13.0">∈</text>
<text x="222.1" y="274.5" font-size="11.5" font-weight="600" text-anchor="middle" >舞</text>
<text x="240.0" y="297.4" font-size="11.5" font-weight="600" text-anchor="middle" >阳</text>
<text x="255.7" y="324.2" font-size="11.5" font-weight="600" text-anchor="middle" >断</text>
<text x="273.3" y="351.1" font-size="11.5" font-weight="600" text-anchor="middle" >裂</text>
<text x="458.0" y="294.5" font-size="11.5" font-weight="600" text-anchor="middle" >叶</text>
<text x="433.4" y="308.3" font-size="11.5" font-weight="600" text-anchor="middle" >鲁</text>
<text x="411.9" y="319.4" font-size="11.5" font-weight="600" text-anchor="middle" >南</text>
<text x="390.7" y="329.5" font-size="11.5" font-weight="600" text-anchor="middle" >断</text>
<text x="369.6" y="340.3" font-size="11.5" font-weight="600" text-anchor="middle" >裂</text>
<text x="620.0" y="282.0" font-size="11.5" font-weight="600" text-anchor="middle" >叶</text>
<text x="585.5" y="302.2" font-size="11.5" font-weight="600" text-anchor="middle" >鲁</text>
<text x="547.8" y="325.3" font-size="11.5" font-weight="600" text-anchor="middle" >断</text>
<text x="511.0" y="341.9" font-size="11.5" font-weight="600" text-anchor="middle" >裂</text>
<text x="647.9" y="282.2" font-size="11.5" font-weight="600" text-anchor="middle" >襄</text>
<text x="664.7" y="297.2" font-size="11.5" font-weight="600" text-anchor="middle" >郏</text>
<text x="683.2" y="313.6" font-size="11.5" font-weight="600" text-anchor="middle" >断</text>
<text x="701.8" y="331.9" font-size="11.5" font-weight="600" text-anchor="middle" >裂</text>
</g>
</svg>
</body></html>
